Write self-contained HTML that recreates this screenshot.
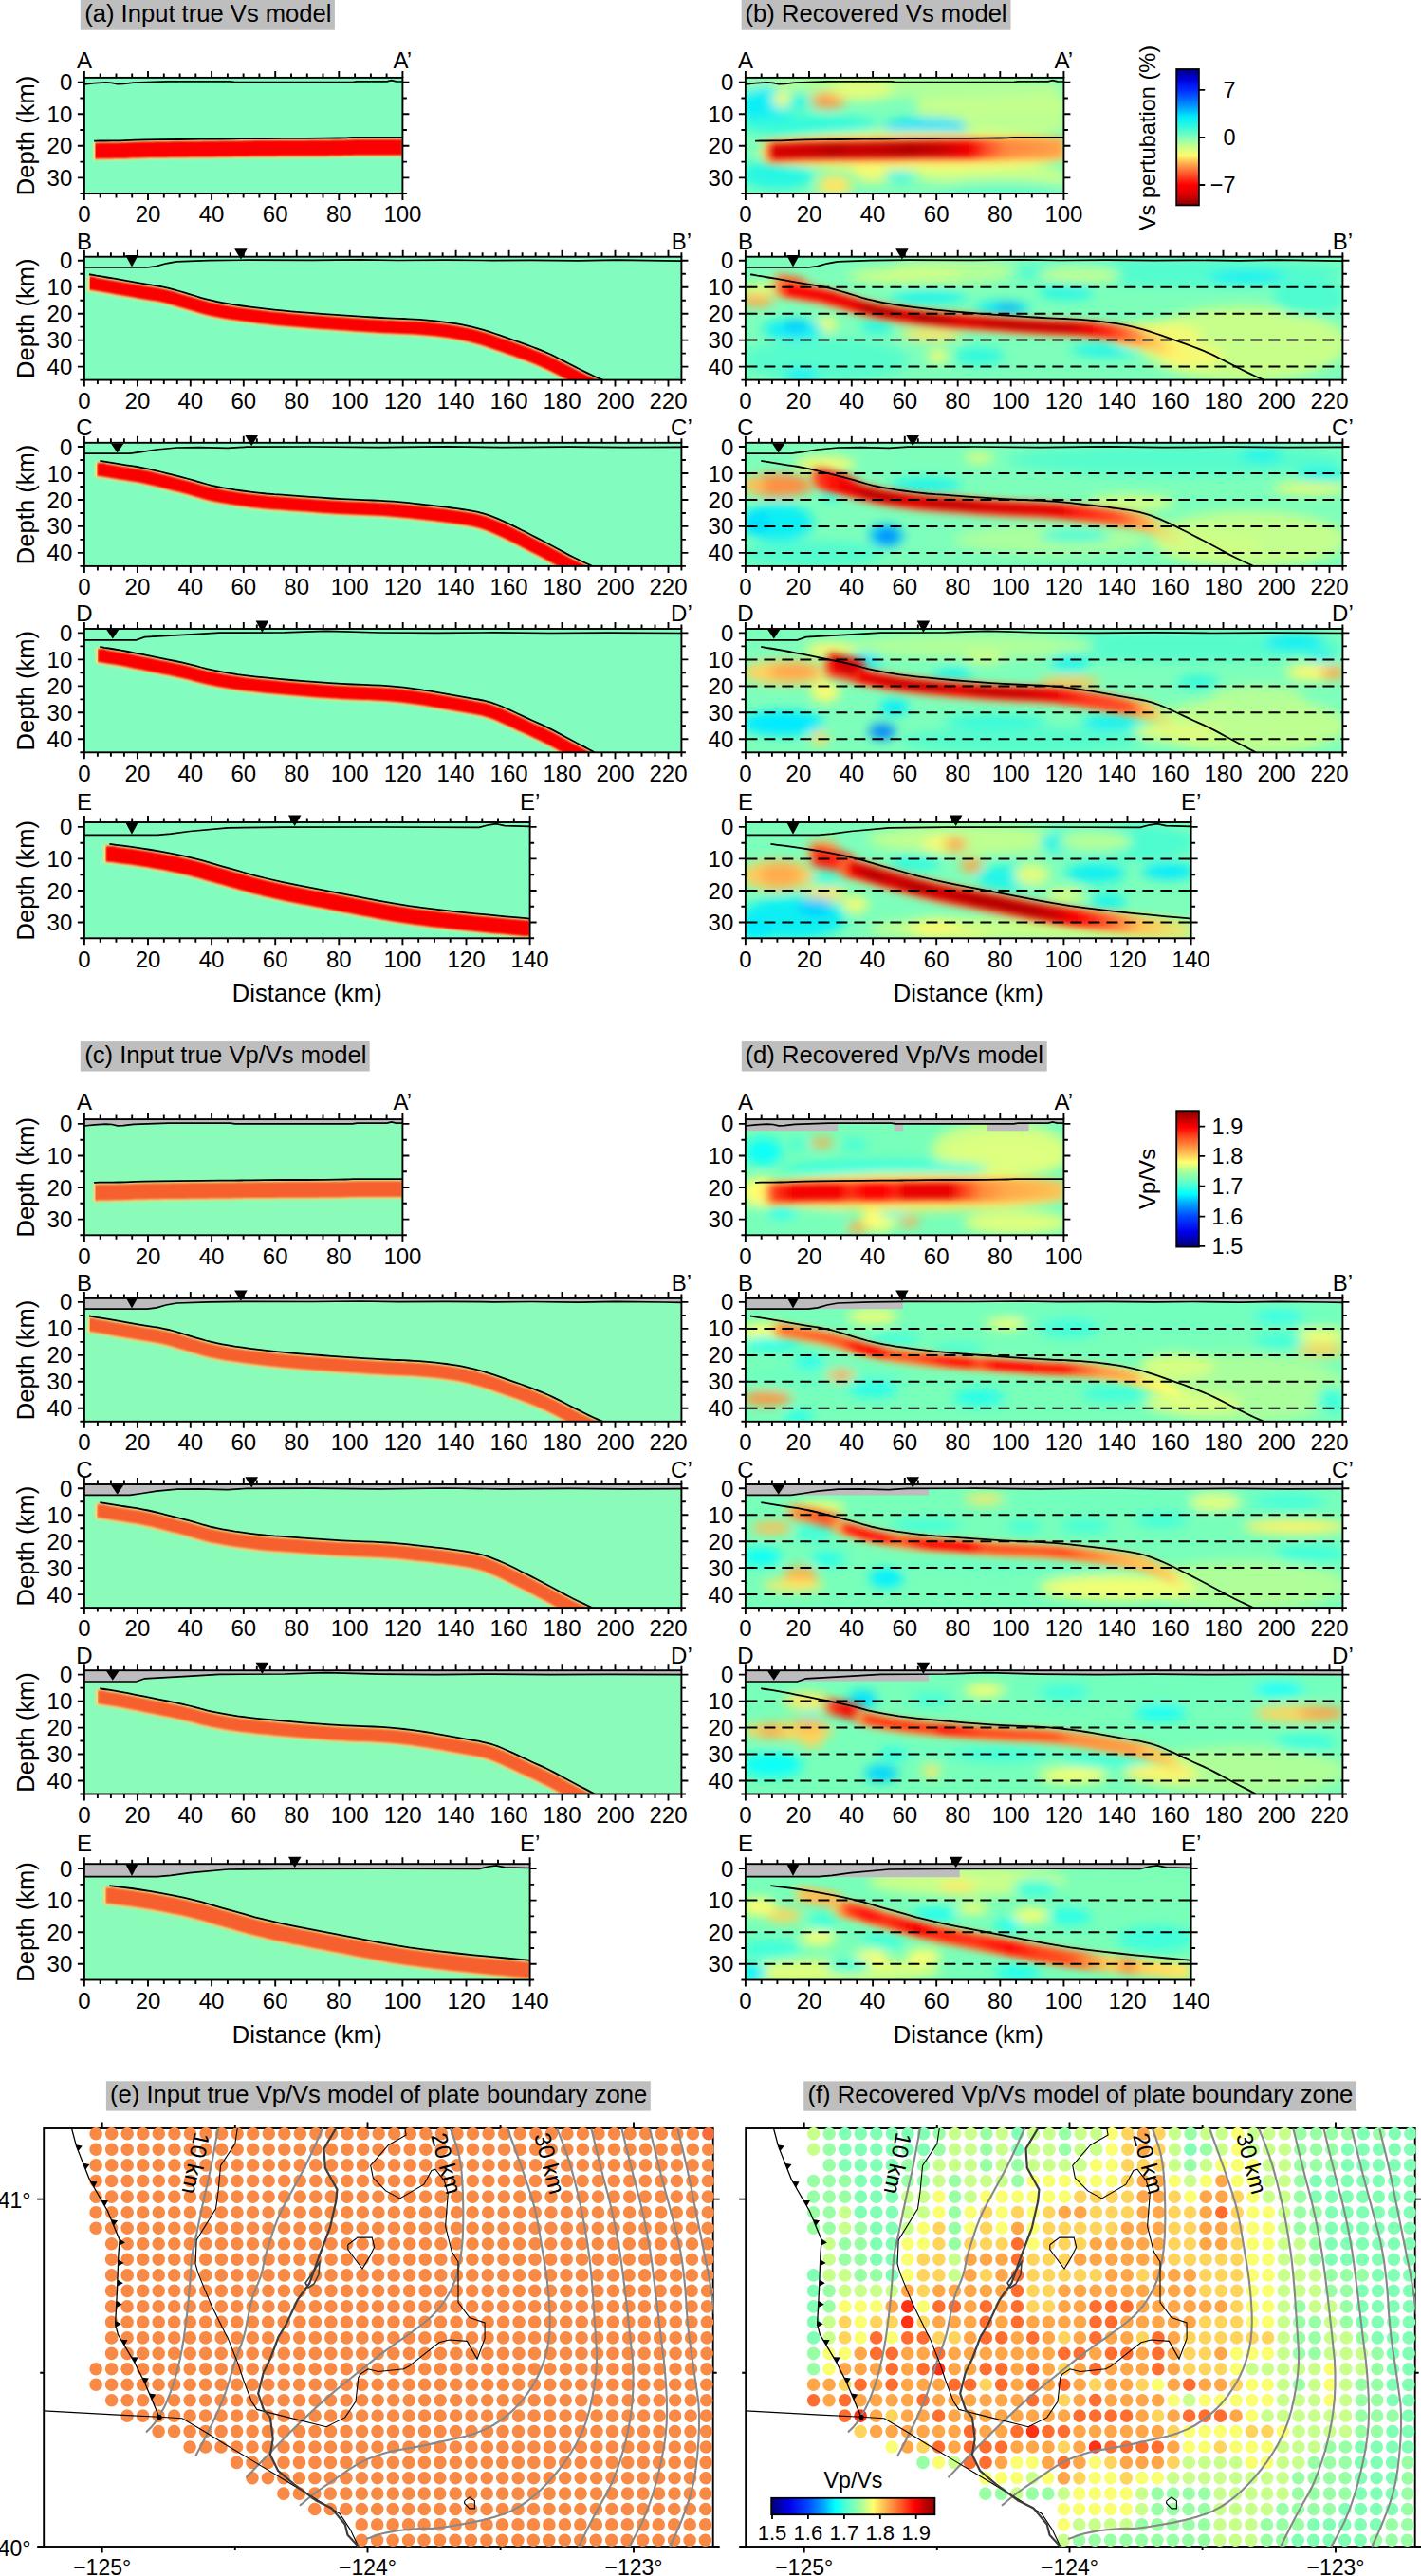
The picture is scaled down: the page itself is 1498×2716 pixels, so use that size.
<!DOCTYPE html>
<html><head><meta charset="utf-8"><style>
html,body{margin:0;padding:0;background:#fff;width:1498px;height:2716px;overflow:hidden}
svg{display:block}
text{font-family:"Liberation Sans",sans-serif;fill:#000}
</style></head><body>
<svg width="1498" height="2716" viewBox="0 0 1498 2716">
<defs><filter id="b1" x="-5%" y="-20%" width="110%" height="140%"><feGaussianBlur stdDeviation="1.1"/></filter>
<filter id="b2" x="-10%" y="-100%" width="120%" height="300%"><feGaussianBlur stdDeviation="2"/></filter>
<filter id="b4" x="-20%" y="-100%" width="140%" height="300%"><feGaussianBlur stdDeviation="4"/></filter>
<filter id="b6" x="-10%" y="-30%" width="120%" height="160%"><feGaussianBlur stdDeviation="6"/></filter>
<filter id="b9" x="-20%" y="-40%" width="140%" height="180%"><feGaussianBlur stdDeviation="9"/></filter>
<filter id="b3" x="-20%" y="-100%" width="140%" height="300%"><feGaussianBlur stdDeviation="3"/></filter>
<filter id="b12" x="-20%" y="-60%" width="140%" height="220%"><feGaussianBlur stdDeviation="12"/></filter>
<clipPath id="c1"><rect x="88.9" y="81.9" width="335.5" height="122.2"/></clipPath>
<clipPath id="c2"><rect x="97" y="81.9" width="334.3" height="122.2"/></clipPath>
<clipPath id="c3"><rect x="100.4" y="81.9" width="334.3" height="122.2"/></clipPath>
<clipPath id="c4"><rect x="785.9" y="81.9" width="335.5" height="122.2"/></clipPath>
<linearGradient id="g1" gradientUnits="userSpaceOnUse" x1="799.3" y1="0" x2="1161.7" y2="0"><stop offset="0.000" stop-color="#f7fb72" stop-opacity="0"/><stop offset="0.037" stop-color="#ff893f" stop-opacity="1"/><stop offset="0.611" stop-color="#ff6c34" stop-opacity="1"/><stop offset="0.704" stop-color="#ff9a46" stop-opacity="1"/><stop offset="0.889" stop-color="#ffb250" stop-opacity="1"/><stop offset="1.000" stop-color="#ffb250" stop-opacity="0"/></linearGradient>
<linearGradient id="g2" gradientUnits="userSpaceOnUse" x1="806" y1="0" x2="1161.7" y2="0"><stop offset="0.000" stop-color="#ff6c34" stop-opacity="0"/><stop offset="0.028" stop-color="#d70000" stop-opacity="1"/><stop offset="0.132" stop-color="#cc0000" stop-opacity="1"/><stop offset="0.208" stop-color="#b70000" stop-opacity="1"/><stop offset="0.264" stop-color="#c70000" stop-opacity="1"/><stop offset="0.340" stop-color="#c20000" stop-opacity="1"/><stop offset="0.434" stop-color="#b20000" stop-opacity="1"/><stop offset="0.528" stop-color="#cc0000" stop-opacity="1"/><stop offset="0.604" stop-color="#f20000" stop-opacity="1"/><stop offset="0.660" stop-color="#ff5028" stop-opacity="1"/><stop offset="0.717" stop-color="#ff893f" stop-opacity="1"/><stop offset="1.000" stop-color="#ff9a46" stop-opacity="0"/></linearGradient>
<clipPath id="c5"><rect x="88.9" y="270.7" width="629.5" height="129.9"/></clipPath>
<clipPath id="c6"><rect x="91.2" y="270.7" width="633.4" height="129.9"/></clipPath>
<clipPath id="c7"><rect x="94.6" y="270.7" width="633.4" height="129.9"/></clipPath>
<clipPath id="c8"><rect x="785.9" y="270.7" width="629.5" height="129.9"/></clipPath>
<linearGradient id="g3" gradientUnits="userSpaceOnUse" x1="811.1" y1="0" x2="858.6" y2="0"><stop offset="0.000" stop-color="#ffe666" stop-opacity="0"/><stop offset="0.235" stop-color="#ff6c34" stop-opacity="1"/><stop offset="0.647" stop-color="#ff5028" stop-opacity="1"/><stop offset="1.000" stop-color="#ffa54b" stop-opacity="0"/></linearGradient>
<linearGradient id="g4" gradientUnits="userSpaceOnUse" x1="808.3" y1="0" x2="1275.5" y2="0"><stop offset="0.000" stop-color="#ffe666" stop-opacity="0"/><stop offset="0.036" stop-color="#ff7838" stop-opacity="1"/><stop offset="0.790" stop-color="#ff7838" stop-opacity="1"/><stop offset="0.850" stop-color="#ffb250" stop-opacity="1"/><stop offset="0.922" stop-color="#fff36b" stop-opacity="1"/><stop offset="1.000" stop-color="#e2fd7d" stop-opacity="0"/></linearGradient>
<linearGradient id="g5" gradientUnits="userSpaceOnUse" x1="816.7" y1="0" x2="1211.2" y2="0"><stop offset="0.000" stop-color="#ff893f" stop-opacity="0"/><stop offset="0.035" stop-color="#ff0000" stop-opacity="1"/><stop offset="0.206" stop-color="#ea0000" stop-opacity="1"/><stop offset="0.255" stop-color="#b70000" stop-opacity="1"/><stop offset="0.319" stop-color="#b70000" stop-opacity="1"/><stop offset="0.348" stop-color="#d70000" stop-opacity="1"/><stop offset="0.390" stop-color="#b20000" stop-opacity="1"/><stop offset="0.447" stop-color="#bc0000" stop-opacity="1"/><stop offset="0.504" stop-color="#df0000" stop-opacity="1"/><stop offset="0.574" stop-color="#c70000" stop-opacity="1"/><stop offset="0.631" stop-color="#c20000" stop-opacity="1"/><stop offset="0.787" stop-color="#c70000" stop-opacity="1"/><stop offset="0.844" stop-color="#ef0000" stop-opacity="1"/><stop offset="0.901" stop-color="#ff351b" stop-opacity="1"/><stop offset="0.957" stop-color="#ff833d" stop-opacity="1"/><stop offset="1.000" stop-color="#ffa54b" stop-opacity="0"/></linearGradient>
<clipPath id="c9"><rect x="88.9" y="466.8" width="629.5" height="130.1"/></clipPath>
<clipPath id="c10"><rect x="98.7" y="466.8" width="622.1" height="130.1"/></clipPath>
<clipPath id="c11"><rect x="102.1" y="466.8" width="622.1" height="130.1"/></clipPath>
<clipPath id="c12"><rect x="785.9" y="466.8" width="629.5" height="130.1"/></clipPath>
<linearGradient id="g6" gradientUnits="userSpaceOnUse" x1="847.5" y1="0" x2="1261.6" y2="0"><stop offset="0.000" stop-color="#ffe666" stop-opacity="0"/><stop offset="0.041" stop-color="#ff5028" stop-opacity="1"/><stop offset="0.122" stop-color="#ff5028" stop-opacity="1"/><stop offset="0.662" stop-color="#ff6c34" stop-opacity="1"/><stop offset="0.797" stop-color="#ff893f" stop-opacity="1"/><stop offset="0.878" stop-color="#ffc658" stop-opacity="1"/><stop offset="1.000" stop-color="#e2fd7d" stop-opacity="0"/></linearGradient>
<linearGradient id="g7" gradientUnits="userSpaceOnUse" x1="853.1" y1="0" x2="909" y2="0"><stop offset="0.000" stop-color="#ffa54b" stop-opacity="0"/><stop offset="0.200" stop-color="#ff1b0d" stop-opacity="1"/><stop offset="0.700" stop-color="#ff0b05" stop-opacity="1"/><stop offset="1.000" stop-color="#ff351b" stop-opacity="0"/></linearGradient>
<linearGradient id="g8" gradientUnits="userSpaceOnUse" x1="858.6" y1="0" x2="1222.4" y2="0"><stop offset="0.000" stop-color="#ff6c34" stop-opacity="0"/><stop offset="0.046" stop-color="#ff0b05" stop-opacity="1"/><stop offset="0.108" stop-color="#e40000" stop-opacity="1"/><stop offset="0.154" stop-color="#bc0000" stop-opacity="1"/><stop offset="0.200" stop-color="#bc0000" stop-opacity="1"/><stop offset="0.292" stop-color="#df0000" stop-opacity="1"/><stop offset="0.338" stop-color="#c70000" stop-opacity="1"/><stop offset="0.431" stop-color="#c20000" stop-opacity="1"/><stop offset="0.492" stop-color="#d70000" stop-opacity="1"/><stop offset="0.708" stop-color="#e40000" stop-opacity="1"/><stop offset="0.769" stop-color="#ff1b0d" stop-opacity="1"/><stop offset="0.877" stop-color="#ff5028" stop-opacity="1"/><stop offset="0.954" stop-color="#ffa54b" stop-opacity="1"/><stop offset="1.000" stop-color="#ffc658" stop-opacity="0"/></linearGradient>
<clipPath id="c13"><rect x="88.9" y="663" width="629.5" height="130.3"/></clipPath>
<clipPath id="c14"><rect x="99.5" y="663" width="622.1" height="130.3"/></clipPath>
<clipPath id="c15"><rect x="102.9" y="663" width="622.1" height="130.3"/></clipPath>
<clipPath id="c16"><rect x="785.9" y="663" width="629.5" height="130.3"/></clipPath>
<linearGradient id="g9" gradientUnits="userSpaceOnUse" x1="864.2" y1="0" x2="1247.6" y2="0"><stop offset="0.000" stop-color="#ffe666" stop-opacity="0"/><stop offset="0.029" stop-color="#ff6c34" stop-opacity="1"/><stop offset="0.672" stop-color="#ff6c34" stop-opacity="1"/><stop offset="0.818" stop-color="#ff7838" stop-opacity="1"/><stop offset="0.905" stop-color="#ffc658" stop-opacity="1"/><stop offset="1.000" stop-color="#e2fd7d" stop-opacity="0"/></linearGradient>
<linearGradient id="g10" gradientUnits="userSpaceOnUse" x1="867" y1="0" x2="914.6" y2="0"><stop offset="0.000" stop-color="#ffa54b" stop-opacity="0"/><stop offset="0.176" stop-color="#f40000" stop-opacity="1"/><stop offset="0.529" stop-color="#cc0000" stop-opacity="1"/><stop offset="0.824" stop-color="#e40000" stop-opacity="1"/><stop offset="1.000" stop-color="#ff351b" stop-opacity="0"/></linearGradient>
<linearGradient id="g11" gradientUnits="userSpaceOnUse" x1="897.8" y1="0" x2="1222.4" y2="0"><stop offset="0.000" stop-color="#ff351b" stop-opacity="0"/><stop offset="0.034" stop-color="#ea0000" stop-opacity="1"/><stop offset="0.138" stop-color="#cc0000" stop-opacity="1"/><stop offset="0.276" stop-color="#cc0000" stop-opacity="1"/><stop offset="0.345" stop-color="#e40000" stop-opacity="1"/><stop offset="0.414" stop-color="#c70000" stop-opacity="1"/><stop offset="0.552" stop-color="#c70000" stop-opacity="1"/><stop offset="0.655" stop-color="#ea0000" stop-opacity="1"/><stop offset="0.759" stop-color="#ff351b" stop-opacity="1"/><stop offset="0.897" stop-color="#ff5028" stop-opacity="1"/><stop offset="0.948" stop-color="#ffa54b" stop-opacity="1"/><stop offset="1.000" stop-color="#ffc658" stop-opacity="0"/></linearGradient>
<clipPath id="c17"><rect x="88.9" y="867" width="469.7" height="122.3"/></clipPath>
<clipPath id="c18"><rect x="107.8" y="867" width="452.2" height="122.3"/></clipPath>
<clipPath id="c19"><rect x="111.2" y="867" width="452.2" height="122.3"/></clipPath>
<clipPath id="c20"><rect x="785.9" y="867" width="469.7" height="122.3"/></clipPath>
<linearGradient id="g12" gradientUnits="userSpaceOnUse" x1="849.6" y1="0" x2="906.7" y2="0"><stop offset="0.000" stop-color="#ffa54b" stop-opacity="0"/><stop offset="0.176" stop-color="#ff1b0d" stop-opacity="1"/><stop offset="0.765" stop-color="#ff1b0d" stop-opacity="1"/><stop offset="1.000" stop-color="#ff6c34" stop-opacity="0"/></linearGradient>
<linearGradient id="g13" gradientUnits="userSpaceOnUse" x1="879.8" y1="0" x2="1289.2" y2="0"><stop offset="0.000" stop-color="#ffc658" stop-opacity="0"/><stop offset="0.033" stop-color="#ff6c34" stop-opacity="1"/><stop offset="0.590" stop-color="#ff6c34" stop-opacity="1"/><stop offset="0.689" stop-color="#ff9a46" stop-opacity="1"/><stop offset="0.795" stop-color="#ffc658" stop-opacity="1"/><stop offset="1.000" stop-color="#ffe666" stop-opacity="0"/></linearGradient>
<linearGradient id="g14" gradientUnits="userSpaceOnUse" x1="886.5" y1="0" x2="1201.9" y2="0"><stop offset="0.000" stop-color="#ff351b" stop-opacity="0"/><stop offset="0.043" stop-color="#e40000" stop-opacity="1"/><stop offset="0.106" stop-color="#b70000" stop-opacity="1"/><stop offset="0.170" stop-color="#d20000" stop-opacity="1"/><stop offset="0.255" stop-color="#b70000" stop-opacity="1"/><stop offset="0.319" stop-color="#cc0000" stop-opacity="1"/><stop offset="0.383" stop-color="#c70000" stop-opacity="1"/><stop offset="0.447" stop-color="#b70000" stop-opacity="1"/><stop offset="0.638" stop-color="#b70000" stop-opacity="1"/><stop offset="0.723" stop-color="#d20000" stop-opacity="1"/><stop offset="0.787" stop-color="#ff0000" stop-opacity="1"/><stop offset="0.851" stop-color="#ff351b" stop-opacity="1"/><stop offset="0.936" stop-color="#ff893f" stop-opacity="1"/><stop offset="1.000" stop-color="#ffa54b" stop-opacity="0"/></linearGradient>
<clipPath id="c21"><rect x="88.9" y="1180.1" width="335.5" height="122.2"/></clipPath>
<clipPath id="c22"><rect x="97" y="1180.1" width="334.3" height="122.2"/></clipPath>
<clipPath id="c23"><rect x="100.4" y="1180.1" width="334.3" height="122.2"/></clipPath>
<clipPath id="c24"><rect x="785.9" y="1180.1" width="335.5" height="122.2"/></clipPath>
<linearGradient id="g15" gradientUnits="userSpaceOnUse" x1="799.3" y1="0" x2="1161.7" y2="0"><stop offset="0.000" stop-color="#ffff6e" stop-opacity="0"/><stop offset="0.037" stop-color="#ffaa4b" stop-opacity="1"/><stop offset="0.611" stop-color="#ff9541" stop-opacity="1"/><stop offset="0.704" stop-color="#ffb54f" stop-opacity="1"/><stop offset="1.000" stop-color="#ffbf54" stop-opacity="0"/></linearGradient>
<linearGradient id="g16" gradientUnits="userSpaceOnUse" x1="806" y1="0" x2="1161.7" y2="0"><stop offset="0.000" stop-color="#ff9541" stop-opacity="0"/><stop offset="0.028" stop-color="#ff3d19" stop-opacity="1"/><stop offset="0.085" stop-color="#f40000" stop-opacity="1"/><stop offset="0.217" stop-color="#f40000" stop-opacity="1"/><stop offset="0.255" stop-color="#ff3114" stop-opacity="1"/><stop offset="0.302" stop-color="#ff0000" stop-opacity="1"/><stop offset="0.349" stop-color="#ff0000" stop-opacity="1"/><stop offset="0.387" stop-color="#ff240f" stop-opacity="1"/><stop offset="0.415" stop-color="#e90000" stop-opacity="1"/><stop offset="0.547" stop-color="#e90000" stop-opacity="1"/><stop offset="0.585" stop-color="#ff3d19" stop-opacity="1"/><stop offset="0.642" stop-color="#ff8a3c" stop-opacity="1"/><stop offset="0.717" stop-color="#ffaa4b" stop-opacity="1"/><stop offset="1.000" stop-color="#ffb54f" stop-opacity="0"/></linearGradient>
<clipPath id="c25"><rect x="88.9" y="1368.9" width="629.5" height="129.9"/></clipPath>
<clipPath id="c26"><rect x="91.2" y="1368.9" width="633.4" height="129.9"/></clipPath>
<clipPath id="c27"><rect x="94.6" y="1368.9" width="633.4" height="129.9"/></clipPath>
<clipPath id="c28"><rect x="785.9" y="1368.9" width="629.5" height="129.9"/></clipPath>
<linearGradient id="g17" gradientUnits="userSpaceOnUse" x1="808.3" y1="0" x2="1261.6" y2="0"><stop offset="0.000" stop-color="#ffff6e" stop-opacity="0"/><stop offset="0.025" stop-color="#ffaa4b" stop-opacity="1"/><stop offset="0.741" stop-color="#ffaa4b" stop-opacity="1"/><stop offset="0.815" stop-color="#ffd45c" stop-opacity="1"/><stop offset="0.938" stop-color="#ffff6e" stop-opacity="1"/><stop offset="1.000" stop-color="#e4ff7c" stop-opacity="0"/></linearGradient>
<linearGradient id="g18" gradientUnits="userSpaceOnUse" x1="813.9" y1="0" x2="1211.2" y2="0"><stop offset="0.000" stop-color="#ffd45c" stop-opacity="0"/><stop offset="0.028" stop-color="#ff7532" stop-opacity="1"/><stop offset="0.183" stop-color="#ff5523" stop-opacity="1"/><stop offset="0.225" stop-color="#ff0c05" stop-opacity="1"/><stop offset="0.282" stop-color="#ff0000" stop-opacity="1"/><stop offset="0.317" stop-color="#ff5523" stop-opacity="1"/><stop offset="0.380" stop-color="#ff5021" stop-opacity="1"/><stop offset="0.479" stop-color="#ff0c05" stop-opacity="1"/><stop offset="0.521" stop-color="#ff0c05" stop-opacity="1"/><stop offset="0.549" stop-color="#ff491e" stop-opacity="1"/><stop offset="0.592" stop-color="#ff0000" stop-opacity="1"/><stop offset="0.775" stop-color="#ff0c05" stop-opacity="1"/><stop offset="0.817" stop-color="#ff5523" stop-opacity="1"/><stop offset="0.873" stop-color="#ff9541" stop-opacity="1"/><stop offset="0.958" stop-color="#ffb54f" stop-opacity="1"/><stop offset="1.000" stop-color="#ffd45c" stop-opacity="0"/></linearGradient>
<clipPath id="c29"><rect x="88.9" y="1565" width="629.5" height="130.1"/></clipPath>
<clipPath id="c30"><rect x="98.7" y="1565" width="622.1" height="130.1"/></clipPath>
<clipPath id="c31"><rect x="102.1" y="1565" width="622.1" height="130.1"/></clipPath>
<clipPath id="c32"><rect x="785.9" y="1565" width="629.5" height="130.1"/></clipPath>
<linearGradient id="g19" gradientUnits="userSpaceOnUse" x1="825.1" y1="0" x2="892.2" y2="0"><stop offset="0.000" stop-color="#ffea65" stop-opacity="0"/><stop offset="0.167" stop-color="#ff9541" stop-opacity="1"/><stop offset="0.542" stop-color="#ff5523" stop-opacity="1"/><stop offset="0.750" stop-color="#ff5523" stop-opacity="1"/><stop offset="0.917" stop-color="#ff8037" stop-opacity="1"/><stop offset="1.000" stop-color="#ff9541" stop-opacity="0"/></linearGradient>
<linearGradient id="g20" gradientUnits="userSpaceOnUse" x1="875.4" y1="0" x2="1256" y2="0"><stop offset="0.000" stop-color="#ffea65" stop-opacity="0"/><stop offset="0.029" stop-color="#ffaa4b" stop-opacity="1"/><stop offset="0.868" stop-color="#ffb54f" stop-opacity="1"/><stop offset="0.941" stop-color="#ffd45c" stop-opacity="1"/><stop offset="1.000" stop-color="#ffff6e" stop-opacity="0"/></linearGradient>
<linearGradient id="g21" gradientUnits="userSpaceOnUse" x1="881" y1="0" x2="1222.4" y2="0"><stop offset="0.000" stop-color="#ff9541" stop-opacity="0"/><stop offset="0.033" stop-color="#ff240f" stop-opacity="1"/><stop offset="0.082" stop-color="#ff0c05" stop-opacity="1"/><stop offset="0.148" stop-color="#ff180a" stop-opacity="1"/><stop offset="0.197" stop-color="#ff6028" stop-opacity="1"/><stop offset="0.246" stop-color="#ff240f" stop-opacity="1"/><stop offset="0.295" stop-color="#ff0000" stop-opacity="1"/><stop offset="0.410" stop-color="#ff0000" stop-opacity="1"/><stop offset="0.459" stop-color="#ff491e" stop-opacity="1"/><stop offset="0.623" stop-color="#ff5523" stop-opacity="1"/><stop offset="0.705" stop-color="#ff491e" stop-opacity="1"/><stop offset="0.770" stop-color="#ff7532" stop-opacity="1"/><stop offset="0.869" stop-color="#ffaa4b" stop-opacity="1"/><stop offset="0.951" stop-color="#ffca58" stop-opacity="1"/><stop offset="1.000" stop-color="#ffd45c" stop-opacity="0"/></linearGradient>
<clipPath id="c33"><rect x="88.9" y="1761.2" width="629.5" height="130.3"/></clipPath>
<clipPath id="c34"><rect x="99.5" y="1761.2" width="622.1" height="130.3"/></clipPath>
<clipPath id="c35"><rect x="102.9" y="1761.2" width="622.1" height="130.3"/></clipPath>
<clipPath id="c36"><rect x="785.9" y="1761.2" width="629.5" height="130.3"/></clipPath>
<linearGradient id="g22" gradientUnits="userSpaceOnUse" x1="864.2" y1="0" x2="914.6" y2="0"><stop offset="0.000" stop-color="#ffd45c" stop-opacity="0"/><stop offset="0.222" stop-color="#ff3d19" stop-opacity="1"/><stop offset="0.556" stop-color="#f40000" stop-opacity="1"/><stop offset="0.778" stop-color="#ff240f" stop-opacity="1"/><stop offset="1.000" stop-color="#ff5523" stop-opacity="0"/></linearGradient>
<linearGradient id="g23" gradientUnits="userSpaceOnUse" x1="897.8" y1="0" x2="1256" y2="0"><stop offset="0.000" stop-color="#ffd45c" stop-opacity="0"/><stop offset="0.031" stop-color="#ff9541" stop-opacity="1"/><stop offset="0.859" stop-color="#ffaa4b" stop-opacity="1"/><stop offset="0.938" stop-color="#ffd45c" stop-opacity="1"/><stop offset="1.000" stop-color="#ffff6e" stop-opacity="0"/></linearGradient>
<linearGradient id="g24" gradientUnits="userSpaceOnUse" x1="903.4" y1="0" x2="1228" y2="0"><stop offset="0.000" stop-color="#ff8037" stop-opacity="0"/><stop offset="0.034" stop-color="#ff3d19" stop-opacity="1"/><stop offset="0.241" stop-color="#ff3d19" stop-opacity="1"/><stop offset="0.284" stop-color="#ff0c05" stop-opacity="1"/><stop offset="0.328" stop-color="#ff240f" stop-opacity="1"/><stop offset="0.414" stop-color="#ff491e" stop-opacity="1"/><stop offset="0.638" stop-color="#ff5523" stop-opacity="1"/><stop offset="0.707" stop-color="#ff8a3c" stop-opacity="1"/><stop offset="0.897" stop-color="#ff9f46" stop-opacity="1"/><stop offset="0.948" stop-color="#ffca58" stop-opacity="1"/><stop offset="1.000" stop-color="#ffd45c" stop-opacity="0"/></linearGradient>
<clipPath id="c37"><rect x="88.9" y="1965.2" width="469.7" height="122.3"/></clipPath>
<clipPath id="c38"><rect x="107.8" y="1965.2" width="452.2" height="122.3"/></clipPath>
<clipPath id="c39"><rect x="111.2" y="1965.2" width="452.2" height="122.3"/></clipPath>
<clipPath id="c40"><rect x="785.9" y="1965.2" width="469.7" height="122.3"/></clipPath>
<linearGradient id="g25" gradientUnits="userSpaceOnUse" x1="832.9" y1="0" x2="893.3" y2="0"><stop offset="0.000" stop-color="#ffea65" stop-opacity="0"/><stop offset="0.222" stop-color="#ffbf54" stop-opacity="1"/><stop offset="0.778" stop-color="#ffb54f" stop-opacity="1"/><stop offset="1.000" stop-color="#ffd45c" stop-opacity="0"/></linearGradient>
<linearGradient id="g26" gradientUnits="userSpaceOnUse" x1="873.1" y1="0" x2="1289.2" y2="0"><stop offset="0.000" stop-color="#ffea65" stop-opacity="0"/><stop offset="0.032" stop-color="#ffaa4b" stop-opacity="1"/><stop offset="0.645" stop-color="#ff8037" stop-opacity="1"/><stop offset="0.718" stop-color="#ffd45c" stop-opacity="1"/><stop offset="0.758" stop-color="#ff9541" stop-opacity="1"/><stop offset="0.798" stop-color="#ffd45c" stop-opacity="1"/><stop offset="0.919" stop-color="#ffea65" stop-opacity="1"/><stop offset="1.000" stop-color="#ffff6e" stop-opacity="0"/></linearGradient>
<linearGradient id="g27" gradientUnits="userSpaceOnUse" x1="879.8" y1="0" x2="1155" y2="0"><stop offset="0.000" stop-color="#ffaa4b" stop-opacity="0"/><stop offset="0.049" stop-color="#ff491e" stop-opacity="1"/><stop offset="0.122" stop-color="#ff0c05" stop-opacity="1"/><stop offset="0.195" stop-color="#ff3114" stop-opacity="1"/><stop offset="0.317" stop-color="#f40000" stop-opacity="1"/><stop offset="0.390" stop-color="#ff240f" stop-opacity="1"/><stop offset="0.537" stop-color="#ff3114" stop-opacity="1"/><stop offset="0.671" stop-color="#ff0c05" stop-opacity="1"/><stop offset="0.780" stop-color="#ff3d19" stop-opacity="1"/><stop offset="0.902" stop-color="#ff5523" stop-opacity="1"/><stop offset="0.951" stop-color="#ff8037" stop-opacity="1"/><stop offset="1.000" stop-color="#ffaa4b" stop-opacity="0"/></linearGradient>
<linearGradient id="gvs" x1="0" y1="0" x2="0" y2="1"><stop offset="0.0000" stop-color="#00007d"/><stop offset="0.0750" stop-color="#0000dc"/><stop offset="0.1500" stop-color="#0028ff"/><stop offset="0.2500" stop-color="#0082ff"/><stop offset="0.3500" stop-color="#00ebff"/><stop offset="0.4250" stop-color="#32fadc"/><stop offset="0.5000" stop-color="#82ffb9"/><stop offset="0.5750" stop-color="#cdff87"/><stop offset="0.6350" stop-color="#fffa6e"/><stop offset="0.7000" stop-color="#ffa54b"/><stop offset="0.7750" stop-color="#ff5028"/><stop offset="0.8500" stop-color="#ff0000"/><stop offset="0.9250" stop-color="#d70000"/><stop offset="1.0000" stop-color="#870000"/></linearGradient>
<linearGradient id="gvp" x1="0" y1="1" x2="0" y2="0"><stop offset="0.0000" stop-color="#000078"/><stop offset="0.1111" stop-color="#0000eb"/><stop offset="0.2222" stop-color="#0046ff"/><stop offset="0.3222" stop-color="#00aaff"/><stop offset="0.3889" stop-color="#00ffff"/><stop offset="0.4667" stop-color="#5affcd"/><stop offset="0.5444" stop-color="#a0ffa0"/><stop offset="0.6222" stop-color="#ffff6e"/><stop offset="0.7111" stop-color="#ffaa4b"/><stop offset="0.8000" stop-color="#ff5523"/><stop offset="0.8778" stop-color="#ff0000"/><stop offset="1.0000" stop-color="#870000"/></linearGradient>
<linearGradient id="gvph" x1="0" y1="0" x2="1" y2="0"><stop offset="0.0000" stop-color="#000078"/><stop offset="0.1111" stop-color="#0000eb"/><stop offset="0.2222" stop-color="#0046ff"/><stop offset="0.3222" stop-color="#00aaff"/><stop offset="0.3889" stop-color="#00ffff"/><stop offset="0.4667" stop-color="#5affcd"/><stop offset="0.5444" stop-color="#a0ffa0"/><stop offset="0.6222" stop-color="#ffff6e"/><stop offset="0.7111" stop-color="#ffaa4b"/><stop offset="0.8000" stop-color="#ff5523"/><stop offset="0.8778" stop-color="#ff0000"/><stop offset="1.0000" stop-color="#870000"/></linearGradient>
<clipPath id="c41"><rect x="45.2" y="2242.9" width="707.5" height="443.2"/></clipPath>
<clipPath id="c42"><rect x="785.2" y="2242.9" width="707.5" height="443.2"/></clipPath></defs>
<rect x="0" y="0" width="1498" height="2716" fill="#fff"/>
<rect x="84.8" y="0" width="268.1" height="31.7" fill="#bebebe"/>
<text x="89.2" y="22.7" font-size="25.6" text-anchor="start">(a) Input true Vs model</text>
<rect x="781.6" y="0" width="283.9" height="31.7" fill="#bebebe"/>
<text x="785.6" y="22.7" font-size="25.6" text-anchor="start">(b) Recovered Vs model</text>
<rect x="84.8" y="1098.1" width="304.9" height="31.4" fill="#bebebe"/>
<text x="89.2" y="1120.8" font-size="25.6" text-anchor="start">(c) Input true Vp/Vs model</text>
<rect x="781.8" y="1098.1" width="321.9" height="31.4" fill="#bebebe"/>
<text x="785.6" y="1120.8" font-size="25.6" text-anchor="start">(d) Recovered Vp/Vs model</text>
<rect x="111.9" y="2194.3" width="573.9" height="31.3" fill="#bebebe"/>
<text x="116" y="2216.9" font-size="25.6" text-anchor="start">(e) Input true Vp/Vs model of plate boundary zone</text>
<rect x="847.2" y="2194.4" width="582.8" height="31.3" fill="#bebebe"/>
<text x="851.4" y="2216.9" font-size="25.6" text-anchor="start">(f) Recovered Vp/Vs model of plate boundary zone</text>
<g clip-path="url(#c1)">
<rect x="88.9" y="81.9" width="335.5" height="122.2" fill="#83fdbf"/>
<g clip-path="url(#c2)"><g filter="url(#b1)">
<polygon points="99.1,149.5 102.7,149.5 106.3,149.4 109.9,149.4 113.5,149.4 117.2,149.3 120.8,149.3 124.4,149.2 128,149.1 131.6,149 135.2,148.9 138.9,148.8 142.5,148.6 146.1,148.5 149.7,148.4 153.3,148.3 156.9,148.3 160.5,148.2 164.1,148.1 167.7,148.1 171.3,148 174.9,148 178.5,148 182.1,147.9 185.7,147.9 189.4,147.8 193,147.8 196.6,147.8 200.2,147.7 203.8,147.7 207.4,147.7 211,147.7 214.6,147.6 218.2,147.6 221.8,147.5 225.5,147.5 229.1,147.5 232.7,147.4 236.3,147.4 239.9,147.4 243.5,147.3 247.1,147.3 250.7,147.2 254.4,147.2 258,147 261.6,147 265.2,147 268.8,146.9 272.4,146.9 276,146.9 279.6,146.9 283.2,146.8 286.8,146.8 290.4,146.8 294,146.8 297.7,146.8 301.3,146.7 304.9,146.7 308.5,146.7 312.1,146.7 315.7,146.7 319.3,146.7 322.9,146.7 326.5,146.6 330.1,146.6 333.8,146.6 337.4,146.6 341,146.5 344.6,146.5 348.2,146.5 351.8,146.4 355.4,146.4 359,146.3 362.7,146.3 366.3,146.1 369.9,146 373.5,145.9 377.1,145.9 380.7,145.8 384.3,145.8 387.9,145.8 391.5,145.8 395.1,145.8 398.7,145.8 402.3,145.8 405.9,145.8 409.6,145.8 413.2,145.8 416.8,145.8 420.4,145.8 424,145.8 424,165.5 420.4,165.5 416.8,165.5 413.2,165.5 409.6,165.5 405.9,165.5 402.3,165.5 398.7,165.5 395.1,165.5 391.6,165.5 388,165.5 384.4,165.5 380.8,165.5 377.3,165.6 373.8,165.6 370.4,165.7 367,165.8 363.2,165.9 359.4,166 355.7,166.1 352,166.1 348.4,166.1 344.8,166.2 341.1,166.2 337.5,166.2 333.9,166.3 330.3,166.3 326.7,166.3 323,166.3 319.4,166.3 315.8,166.4 312.2,166.4 308.6,166.4 305,166.4 301.3,166.4 297.7,166.4 294.1,166.4 290.5,166.5 286.9,166.5 283.3,166.5 279.7,166.5 276.1,166.6 272.5,166.6 268.9,166.6 265.4,166.6 261.8,166.7 258.4,166.7 254.8,166.8 251,166.9 247.4,166.9 243.8,167 240.1,167 236.5,167.1 232.9,167.1 229.3,167.1 225.7,167.2 222,167.2 218.4,167.3 214.8,167.3 211.2,167.3 207.6,167.4 204,167.4 200.4,167.4 196.8,167.5 193.1,167.5 189.5,167.5 186,167.6 182.4,167.6 178.8,167.6 175.1,167.7 171.5,167.7 168,167.8 164.4,167.8 160.8,167.9 157.2,167.9 153.6,168 150.1,168.1 146.5,168.2 143.2,168.2 139.7,168.4 136,168.6 132.2,168.7 128.5,168.8 124.8,168.9 121.1,168.9 117.4,169 113.7,169 110.1,169.1 106.5,169.1 102.9,169.1 99.3,169.2" fill="#f3e27a"/>
<rect x="98.2" y="149.6" width="5.5" height="19.4" fill="#f3e27a"/>
</g></g>
<g clip-path="url(#c3)"><g filter="url(#b1)">
<polygon points="99.1,150.7 102.7,150.7 106.3,150.6 110,150.6 113.6,150.6 117.2,150.5 120.8,150.5 124.4,150.4 128,150.3 131.7,150.2 135.3,150.1 138.9,150 142.5,149.8 146.1,149.7 149.7,149.6 153.3,149.5 156.9,149.5 160.5,149.4 164.1,149.3 167.7,149.3 171.3,149.2 174.9,149.2 178.5,149.2 182.2,149.1 185.8,149.1 189.4,149 193,149 196.6,149 200.2,148.9 203.8,148.9 207.4,148.9 211,148.9 214.6,148.8 218.3,148.8 221.9,148.7 225.5,148.7 229.1,148.7 232.7,148.6 236.3,148.6 239.9,148.6 243.5,148.5 247.1,148.5 250.8,148.4 254.4,148.4 258,148.2 261.6,148.2 265.2,148.2 268.8,148.1 272.4,148.1 276,148.1 279.6,148.1 283.2,148 286.8,148 290.4,148 294.1,148 297.7,148 301.3,147.9 304.9,147.9 308.5,147.9 312.1,147.9 315.7,147.9 319.3,147.9 322.9,147.9 326.5,147.8 330.2,147.8 333.8,147.8 337.4,147.8 341,147.7 344.6,147.7 348.2,147.7 351.8,147.6 355.4,147.6 359.1,147.5 362.7,147.5 366.3,147.3 369.9,147.2 373.5,147.1 377.1,147.1 380.7,147 384.3,147 387.9,147 391.5,147 395.1,147 398.7,147 402.3,147 405.9,147 409.6,147 413.2,147 416.8,147 420.4,147 424,147 424,163.7 420.4,163.7 416.8,163.7 413.2,163.7 409.6,163.7 405.9,163.7 402.3,163.7 398.7,163.7 395.1,163.7 391.5,163.7 388,163.7 384.4,163.7 380.8,163.7 377.3,163.8 373.8,163.8 370.4,163.9 366.9,164 363.2,164.1 359.4,164.2 355.7,164.3 352,164.3 348.4,164.3 344.8,164.4 341.1,164.4 337.5,164.4 333.9,164.5 330.3,164.5 326.6,164.5 323,164.5 319.4,164.5 315.8,164.6 312.2,164.6 308.6,164.6 304.9,164.6 301.3,164.6 297.7,164.6 294.1,164.6 290.5,164.7 286.9,164.7 283.3,164.7 279.7,164.7 276.1,164.8 272.5,164.8 268.9,164.8 265.3,164.8 261.8,164.9 258.3,164.9 254.8,165 251,165.1 247.4,165.1 243.7,165.2 240.1,165.2 236.5,165.3 232.9,165.3 229.2,165.3 225.6,165.4 222,165.4 218.4,165.5 214.8,165.5 211.2,165.5 207.6,165.6 204,165.6 200.3,165.6 196.7,165.7 193.1,165.7 189.5,165.7 185.9,165.8 182.3,165.8 178.7,165.8 175.1,165.9 171.5,165.9 167.9,166 164.4,166 160.8,166.1 157.2,166.1 153.6,166.2 150.1,166.3 146.5,166.4 143.1,166.4 139.7,166.6 135.9,166.8 132.2,166.9 128.4,167 124.7,167.1 121.1,167.1 117.4,167.2 113.7,167.2 110.1,167.3 106.5,167.3 102.9,167.3 99.3,167.4" fill="#fb0400"/>
<rect x="100.6" y="150.9" width="4.5" height="16.3" fill="#fb0400"/>
</g></g>
<polyline points="88.9,88.8 99.6,87.6 111.7,86.9 118,87.3 123.8,88.6 130,88.4 140.8,87.1 177.3,85.9 242.8,85.9 247.7,86.7 371.5,86.7 376.3,85.9 407.9,85.9 412.7,84.7 417.6,85.9 424,86" fill="none" stroke="#000" stroke-width="1.7"/>
<polyline points="99.1,148.6 101,148.6 104.9,148.5 110.7,148.5 118.4,148.4 125.5,148.3 131.8,148.1 137.5,147.9 142.5,147.7 152.5,147.4 167.5,147.2 187.5,147 212.5,146.7 232,146.5 246,146.4 254.5,146.2 257.5,146.1 265.9,146 279.6,146 298.8,145.9 323.2,145.8 342.4,145.6 356.1,145.5 364.5,145.3 367.5,145.2 373,145 381,144.9 391.5,144.9 404.5,144.9 414.2,144.9 420.8,144.9 424,144.9" fill="none" stroke="#000" stroke-width="1.8"/>
</g>
<rect x="88.9" y="81.9" width="335.5" height="122.2" fill="none" stroke="#000" stroke-width="1.9"/>
<path d="M88.9 81.9V74.9M88.9 204.1V211.1M105.7 81.9V77.4M105.7 204.1V208.6M122.5 81.9V77.4M122.5 204.1V208.6M139.2 81.9V77.4M139.2 204.1V208.6M156 81.9V74.9M156 204.1V211.1M172.8 81.9V77.4M172.8 204.1V208.6M189.6 81.9V77.4M189.6 204.1V208.6M206.3 81.9V77.4M206.3 204.1V208.6M223.1 81.9V74.9M223.1 204.1V211.1M239.9 81.9V77.4M239.9 204.1V208.6M256.6 81.9V77.4M256.6 204.1V208.6M273.4 81.9V77.4M273.4 204.1V208.6M290.2 81.9V74.9M290.2 204.1V211.1M307 81.9V77.4M307 204.1V208.6M323.8 81.9V77.4M323.8 204.1V208.6M340.5 81.9V77.4M340.5 204.1V208.6M357.3 81.9V74.9M357.3 204.1V211.1M374.1 81.9V77.4M374.1 204.1V208.6M390.9 81.9V77.4M390.9 204.1V208.6M407.6 81.9V77.4M407.6 204.1V208.6M424.4 81.9V74.9M424.4 204.1V211.1M88.9 86.7H81.9M424.4 86.7H431.4M88.9 103.5H84.4M424.4 103.5H428.9M88.9 120.2H81.9M424.4 120.2H431.4M88.9 137H84.4M424.4 137H428.9M88.9 153.8H81.9M424.4 153.8H431.4M88.9 170.6H84.4M424.4 170.6H428.9M88.9 187.4H81.9M424.4 187.4H431.4M88.9 204.1H84.4M424.4 204.1H428.9" stroke="#000" stroke-width="1.9" fill="none"/>
<text x="88.9" y="234.3" font-size="24" text-anchor="middle">0</text>
<text x="156" y="234.3" font-size="24" text-anchor="middle">20</text>
<text x="223.1" y="234.3" font-size="24" text-anchor="middle">40</text>
<text x="290.2" y="234.3" font-size="24" text-anchor="middle">60</text>
<text x="357.3" y="234.3" font-size="24" text-anchor="middle">80</text>
<text x="424.4" y="234.3" font-size="24" text-anchor="middle">100</text>
<text x="76.3" y="95.2" font-size="24" text-anchor="end">0</text>
<text x="76.3" y="128.8" font-size="24" text-anchor="end">10</text>
<text x="76.3" y="162.3" font-size="24" text-anchor="end">20</text>
<text x="76.3" y="195.9" font-size="24" text-anchor="end">30</text>
<text x="88.9" y="71.5" font-size="24" text-anchor="middle">A</text>
<text x="424.4" y="71.5" font-size="24" text-anchor="middle">A&#8217;</text>
<text x="0" y="0" font-size="25.6" text-anchor="middle" transform="translate(36.3 143) rotate(-90)">Depth (km)</text>
<g clip-path="url(#c4)">
<rect x="785.9" y="81.9" width="335.5" height="122.2" fill="#7dffbb"/>
<g filter="url(#b6)">
<ellipse cx="1045.9" cy="111.9" rx="80.5" ry="27.8" fill="#c3ff8e"/>
<ellipse cx="1071.1" cy="189" rx="55.4" ry="17.8" fill="#beff91"/>
<ellipse cx="811.1" cy="106.8" rx="30.2" ry="22.8" fill="#42fbd5"/>
<ellipse cx="953.6" cy="90.1" rx="172.8" ry="12.7" fill="#afff9b"/>
<ellipse cx="806" cy="111.9" rx="25.2" ry="21.1" fill="#0deff6"/>
<ellipse cx="824.5" cy="105.2" rx="10.1" ry="7.7" fill="#f7fb72"/>
<ellipse cx="842.9" cy="106" rx="11.7" ry="8.6" fill="#28f7e3"/>
<ellipse cx="873.1" cy="106" rx="18.5" ry="8.6" fill="#ff9a46"/>
<ellipse cx="908.4" cy="95.1" rx="33.5" ry="11.1" fill="#e2fd7d"/>
<ellipse cx="853" cy="132" rx="72.1" ry="11.1" fill="#32fadc"/>
<ellipse cx="978.8" cy="134.5" rx="47" ry="10.2" fill="#00e0ff"/>
<ellipse cx="1071.1" cy="132" rx="55.4" ry="14.4" fill="#beff91"/>
<ellipse cx="819.4" cy="184" rx="38.6" ry="16.1" fill="#28f7e3"/>
<ellipse cx="920.1" cy="179" rx="21.8" ry="14.4" fill="#eafc78"/>
<ellipse cx="879.8" cy="195.7" rx="18.5" ry="11.1" fill="#ffe666"/>
<ellipse cx="948.6" cy="179" rx="16.8" ry="11.1" fill="#1bf3ec"/>
<ellipse cx="1045.9" cy="185.7" rx="80.5" ry="11.1" fill="#c8ff8a"/>
<ellipse cx="1054.3" cy="200.8" rx="72.1" ry="9.4" fill="#62fdc7"/>
<ellipse cx="963.7" cy="159.7" rx="162.7" ry="20.3" fill="#fbfa70"/>
</g>
<polygon points="799.7,148.6 803.3,148.5 806.9,148.5 810.5,148.5 814.1,148.4 817.8,148.4 821.4,148.3 825,148.2 828.6,148.1 832.2,148 835.8,147.9 839.4,147.7 843,147.6 846.6,147.5 850.2,147.4 853.9,147.4 857.5,147.3 861.1,147.2 864.7,147.2 868.3,147.1 871.9,147.1 875.5,147.1 879.1,147 882.7,147 886.4,146.9 890,146.9 893.6,146.9 897.2,146.8 900.8,146.8 904.4,146.8 908,146.8 911.6,146.7 915.2,146.7 918.8,146.6 922.5,146.6 926.1,146.6 929.7,146.5 933.3,146.5 936.9,146.5 940.5,146.4 944.1,146.4 947.7,146.3 951.3,146.3 954.9,146.1 958.5,146.1 962.2,146.1 965.8,146 969.4,146 973,146 976.6,146 980.2,145.9 983.8,145.9 987.4,145.9 991,145.9 994.7,145.9 998.3,145.8 1001.9,145.8 1005.5,145.8 1009.1,145.8 1012.7,145.8 1016.3,145.8 1019.9,145.8 1023.5,145.7 1027.1,145.7 1030.8,145.7 1034.4,145.7 1038,145.6 1041.6,145.6 1045.2,145.6 1048.8,145.5 1052.4,145.5 1056,145.4 1059.6,145.4 1063.2,145.2 1066.8,145.1 1070.5,145 1074.1,145 1077.7,144.9 1081.3,144.9 1084.9,144.9 1088.5,144.9 1092.1,144.9 1095.7,144.9 1099.3,144.9 1103,144.9 1106.6,144.9 1110.2,144.9 1113.8,144.9 1117.4,144.9 1121,144.9 1121,168.4 1117.4,168.4 1113.8,168.4 1110.2,168.4 1106.6,168.4 1103,168.4 1099.3,168.4 1095.7,168.4 1092.1,168.4 1088.6,168.4 1085,168.4 1081.4,168.4 1077.9,168.4 1074.3,168.5 1070.8,168.5 1067.5,168.6 1064.1,168.7 1060.3,168.8 1056.4,168.9 1052.7,169 1049,169 1045.4,169.1 1041.8,169.1 1038.1,169.1 1034.5,169.1 1030.9,169.2 1027.3,169.2 1023.7,169.2 1020,169.2 1016.4,169.3 1012.8,169.3 1009.2,169.3 1005.6,169.3 1002,169.3 998.4,169.3 994.8,169.3 991.2,169.4 987.6,169.4 983.9,169.4 980.3,169.4 976.7,169.4 973.2,169.5 969.6,169.5 966,169.5 962.4,169.5 958.8,169.6 955.4,169.6 951.9,169.7 948.1,169.8 944.4,169.8 940.8,169.9 937.2,169.9 933.6,170 929.9,170 926.3,170.1 922.7,170.1 919.1,170.1 915.5,170.2 911.8,170.2 908.2,170.2 904.6,170.3 901,170.3 897.4,170.3 893.8,170.4 890.2,170.4 886.6,170.4 883,170.5 879.4,170.5 875.8,170.5 872.2,170.6 868.6,170.6 865,170.7 861.4,170.7 857.8,170.8 854.2,170.8 850.7,170.9 847.2,171 843.6,171.1 840.3,171.1 836.9,171.3 833.1,171.5 829.3,171.6 825.5,171.7 821.8,171.8 818.1,171.9 814.4,171.9 810.8,171.9 807.2,172 803.5,172 799.9,172" fill="url(#g1)" filter="url(#b4)"/>
<polygon points="807,152.2 810.6,152.2 814.2,152.1 817.8,152.1 821.4,152 825.1,151.9 828.7,151.8 832.3,151.7 836,151.5 839.6,151.4 843.1,151.3 846.7,151.2 850.3,151.1 853.9,151.1 857.5,151 861.1,150.9 864.7,150.9 868.3,150.8 872,150.8 875.6,150.8 879.2,150.7 882.8,150.7 886.4,150.6 890,150.6 893.6,150.6 897.2,150.5 900.8,150.5 904.4,150.5 908,150.4 911.7,150.4 915.3,150.4 918.9,150.3 922.5,150.3 926.1,150.3 929.7,150.2 933.3,150.2 936.9,150.1 940.5,150.1 944.2,150.1 947.8,150 951.4,149.9 955,149.8 958.6,149.8 962.2,149.7 965.8,149.7 969.4,149.7 973,149.7 976.6,149.6 980.2,149.6 983.8,149.6 987.4,149.6 991.1,149.6 994.7,149.5 998.3,149.5 1001.9,149.5 1005.5,149.5 1009.1,149.5 1012.7,149.5 1016.3,149.5 1019.9,149.4 1023.6,149.4 1027.2,149.4 1030.8,149.4 1034.4,149.4 1038,149.3 1041.6,149.3 1045.2,149.3 1048.8,149.2 1052.5,149.2 1056.1,149.1 1059.7,149.1 1063.4,148.9 1067,148.8 1070.5,148.7 1074.1,148.7 1077.7,148.6 1081.3,148.6 1084.9,148.6 1088.5,148.6 1092.1,148.6 1095.7,148.6 1099.3,148.6 1103,148.6 1106.6,148.6 1110.2,148.6 1113.8,148.6 1117.4,148.6 1121,148.6 1121,164 1117.4,164 1113.8,164 1110.2,164 1106.6,164 1103,164 1099.3,164 1095.7,164 1092.1,164 1088.5,164 1085,164 1081.4,164.1 1077.8,164.1 1074.3,164.1 1070.8,164.1 1067.4,164.2 1063.9,164.3 1060.2,164.5 1056.4,164.6 1052.7,164.6 1049,164.7 1045.4,164.7 1041.8,164.7 1038.1,164.8 1034.5,164.8 1030.9,164.8 1027.3,164.8 1023.6,164.9 1020,164.9 1016.4,164.9 1012.8,164.9 1009.2,164.9 1005.6,164.9 1001.9,164.9 998.3,165 994.7,165 991.1,165 987.5,165 983.9,165 980.3,165.1 976.7,165.1 973.1,165.1 969.5,165.1 965.9,165.2 962.4,165.2 958.8,165.2 955.3,165.3 951.8,165.4 948,165.4 944.4,165.5 940.7,165.5 937.1,165.6 933.5,165.6 929.9,165.7 926.3,165.7 922.6,165.7 919,165.8 915.4,165.8 911.8,165.8 908.2,165.9 904.6,165.9 901,165.9 897.4,166 893.7,166 890.1,166 886.5,166.1 882.9,166.1 879.4,166.1 875.7,166.2 872.1,166.2 868.5,166.3 864.9,166.3 861.4,166.4 857.8,166.4 854.2,166.5 850.6,166.5 847.1,166.6 843.5,166.7 840.1,166.8 836.7,167 832.9,167.1 829.2,167.3 825.4,167.3 821.8,167.4 818.1,167.5 814.4,167.5 810.7,167.6 807.1,167.6" fill="url(#g2)" filter="url(#b3)"/>
<polyline points="785.9,88.8 796.6,87.6 808.7,86.9 815,87.3 820.8,88.6 827,88.4 837.8,87.1 874.3,85.9 939.8,85.9 944.7,86.7 1068.5,86.7 1073.3,85.9 1104.9,85.9 1109.7,84.7 1114.6,85.9 1121,86" fill="none" stroke="#000" stroke-width="1.7"/>
<polyline points="796.1,148.6 798,148.6 801.9,148.5 807.7,148.5 815.4,148.4 822.5,148.3 828.8,148.1 834.5,147.9 839.5,147.7 849.5,147.4 864.5,147.2 884.5,147 909.5,146.7 929,146.5 943,146.4 951.5,146.2 954.5,146.1 962.9,146 976.6,146 995.8,145.9 1020.2,145.8 1039.4,145.6 1053.1,145.5 1061.5,145.3 1064.5,145.2 1070,145 1078,144.9 1088.5,144.9 1101.5,144.9 1111.2,144.9 1117.8,144.9 1121,144.9" fill="none" stroke="#000" stroke-width="1.8"/>
</g>
<rect x="785.9" y="81.9" width="335.5" height="122.2" fill="none" stroke="#000" stroke-width="1.9"/>
<path d="M785.9 81.9V74.9M785.9 204.1V211.1M802.7 81.9V77.4M802.7 204.1V208.6M819.4 81.9V77.4M819.4 204.1V208.6M836.2 81.9V77.4M836.2 204.1V208.6M853 81.9V74.9M853 204.1V211.1M869.8 81.9V77.4M869.8 204.1V208.6M886.5 81.9V77.4M886.5 204.1V208.6M903.3 81.9V77.4M903.3 204.1V208.6M920.1 81.9V74.9M920.1 204.1V211.1M936.9 81.9V77.4M936.9 204.1V208.6M953.6 81.9V77.4M953.6 204.1V208.6M970.4 81.9V77.4M970.4 204.1V208.6M987.2 81.9V74.9M987.2 204.1V211.1M1004 81.9V77.4M1004 204.1V208.6M1020.8 81.9V77.4M1020.8 204.1V208.6M1037.5 81.9V77.4M1037.5 204.1V208.6M1054.3 81.9V74.9M1054.3 204.1V211.1M1071.1 81.9V77.4M1071.1 204.1V208.6M1087.8 81.9V77.4M1087.8 204.1V208.6M1104.6 81.9V77.4M1104.6 204.1V208.6M1121.4 81.9V74.9M1121.4 204.1V211.1M785.9 86.7H778.9M1121.4 86.7H1128.4M785.9 103.5H781.4M1121.4 103.5H1125.9M785.9 120.2H778.9M1121.4 120.2H1128.4M785.9 137H781.4M1121.4 137H1125.9M785.9 153.8H778.9M1121.4 153.8H1128.4M785.9 170.6H781.4M1121.4 170.6H1125.9M785.9 187.4H778.9M1121.4 187.4H1128.4M785.9 204.1H781.4M1121.4 204.1H1125.9" stroke="#000" stroke-width="1.9" fill="none"/>
<text x="785.9" y="234.3" font-size="24" text-anchor="middle">0</text>
<text x="853" y="234.3" font-size="24" text-anchor="middle">20</text>
<text x="920.1" y="234.3" font-size="24" text-anchor="middle">40</text>
<text x="987.2" y="234.3" font-size="24" text-anchor="middle">60</text>
<text x="1054.3" y="234.3" font-size="24" text-anchor="middle">80</text>
<text x="1121.4" y="234.3" font-size="24" text-anchor="middle">100</text>
<text x="773.3" y="95.2" font-size="24" text-anchor="end">0</text>
<text x="773.3" y="128.8" font-size="24" text-anchor="end">10</text>
<text x="773.3" y="162.3" font-size="24" text-anchor="end">20</text>
<text x="773.3" y="195.9" font-size="24" text-anchor="end">30</text>
<text x="785.9" y="71.5" font-size="24" text-anchor="middle">A</text>
<text x="1121.4" y="71.5" font-size="24" text-anchor="middle">A&#8217;</text>
<g clip-path="url(#c5)">
<rect x="88.9" y="270.7" width="629.5" height="129.9" fill="#83fdbf"/>
<g clip-path="url(#c6)"><g filter="url(#b1)">
<polygon points="93.9,290.2 99.9,291.2 105.9,292.2 111.9,293.2 118,294.3 124,295.3 130,296.4 136,297.4 142.1,298.5 148.1,299.5 154.1,300.5 160.2,301.5 166.2,302.4 172.2,303.5 178.2,304.9 184.2,306.5 190.2,308.2 196.2,310 202.2,311.9 208.3,313.7 214.3,315.4 220.4,317 226.4,318.4 232.5,319.7 238.5,320.8 244.6,321.8 250.6,322.7 256.6,323.6 262.7,324.4 268.7,325.1 274.7,325.9 280.8,326.6 286.8,327.2 292.8,327.9 298.9,328.5 304.9,329 310.9,329.5 317,330 323,330.5 329,331 335,331.4 341.1,331.9 347.1,332.3 353.1,332.7 359.2,333.1 365.2,333.6 371.2,334 377.2,334.4 383.3,334.8 389.3,335.2 395.3,335.5 401.4,335.9 407.4,336.2 413.4,336.4 419.5,336.7 425.5,337 431.5,337.2 437.5,337.5 443.5,337.9 449.6,338.4 455.6,339 461.6,339.6 467.6,340.3 473.6,341.1 479.6,342 485.6,343 491.6,344.2 497.7,345.6 503.7,347.1 509.7,348.8 515.7,350.7 521.7,352.6 527.7,354.8 533.7,356.9 539.8,359 545.8,361.1 551.8,363.2 557.8,365.4 563.8,367.8 569.9,370.1 575.9,372.7 581.9,375.4 587.9,378.3 593.9,381.4 599.9,384.5 606,387.6 612,390.7 618,393.7 624.1,396.6 630.1,399.3 636.1,402.3 628.6,417.5 622.9,414.6 616.9,411.9 610.6,408.8 604.4,405.8 598.3,402.7 592.2,399.6 586.1,396.4 580.3,393.4 574.7,390.7 569.1,388.1 563.5,385.8 557.7,383.5 551.9,381.3 546.1,379.1 540.2,377 534.2,374.9 528.1,372.8 522.1,370.7 516.2,368.6 510.5,366.7 504.9,365 499.3,363.4 493.7,362 488.1,360.8 482.6,359.7 477,358.7 471.3,357.9 465.5,357.1 459.7,356.4 453.9,355.8 448.1,355.2 442.3,354.8 436.5,354.4 430.7,354.1 424.7,353.8 418.7,353.6 412.7,353.3 406.6,353.1 400.4,352.7 394.3,352.4 388.3,352 382.2,351.6 376.1,351.2 370.1,350.8 364,350.4 358,350 351.9,349.6 345.9,349.1 339.9,348.7 333.8,348.3 327.8,347.8 321.7,347.4 315.6,346.9 309.5,346.4 303.4,345.8 297.3,345.3 291.1,344.7 285,344 278.9,343.4 272.7,342.6 266.6,341.9 260.5,341.1 254.3,340.3 248.1,339.4 241.9,338.5 235.6,337.4 229.2,336.3 222.8,334.9 216.3,333.4 209.8,331.7 203.5,329.9 197.4,328 191.4,326.2 185.4,324.4 179.6,322.7 174.1,321.3 168.7,320 163.3,319 157.6,318.1 151.4,317.2 145.3,316.1 139.2,315.1 133.2,314.1 127.1,313 121.1,312 115.1,310.9 109.1,309.9 103.1,308.9 97.1,307.9 91.1,306.8" fill="#f3e27a"/>
<rect x="92.4" y="290.3" width="6.2" height="16.6" fill="#f3e27a"/>
</g></g>
<g clip-path="url(#c7)"><g filter="url(#b1)">
<polygon points="93.7,291.4 99.7,292.4 105.7,293.4 111.7,294.4 117.8,295.5 123.8,296.5 129.8,297.5 135.8,298.6 141.9,299.6 147.9,300.7 153.9,301.7 160,302.6 166,303.6 171.9,304.7 177.9,306 183.8,307.6 189.8,309.4 195.9,311.2 201.9,313 207.9,314.8 214,316.6 220.1,318.2 226.2,319.6 232.2,320.9 238.3,322 244.4,323 250.4,323.9 256.5,324.8 262.5,325.6 268.5,326.3 274.6,327.1 280.6,327.8 286.7,328.4 292.7,329.1 298.7,329.6 304.8,330.2 310.8,330.7 316.9,331.2 322.9,331.7 328.9,332.2 335,332.6 341,333.1 347,333.5 353,333.9 359.1,334.3 365.1,334.8 371.1,335.2 377.2,335.6 383.2,336 389.2,336.4 395.3,336.7 401.3,337.1 407.3,337.4 413.4,337.6 419.4,337.9 425.4,338.2 431.5,338.4 437.5,338.7 443.5,339.1 449.5,339.6 455.5,340.2 461.5,340.8 467.5,341.5 473.5,342.3 479.5,343.2 485.4,344.2 491.4,345.4 497.4,346.8 503.3,348.3 509.3,350 515.3,351.8 521.3,353.8 527.3,355.9 533.3,358 539.4,360.1 545.4,362.2 551.4,364.4 557.4,366.6 563.4,368.9 569.4,371.2 575.4,373.8 581.4,376.5 587.3,379.4 593.3,382.5 599.4,385.6 605.4,388.7 611.4,391.7 617.5,394.8 623.6,397.7 629.6,400.4 635.6,403.4 629.4,415.8 623.6,413 617.7,410.3 611.3,407.2 605.2,404.2 599.1,401.1 593,398 587,394.8 581.1,391.8 575.4,389.1 569.8,386.5 564.1,384.1 558.4,381.8 552.5,379.6 546.7,377.4 540.8,375.3 534.8,373.2 528.7,371.1 522.7,369 516.8,366.9 511.1,365 505.4,363.3 499.8,361.7 494.1,360.3 488.5,359 482.9,357.9 477.3,356.9 471.5,356.1 465.7,355.3 459.9,354.6 454.1,354 448.3,353.5 442.5,353 436.7,352.6 430.8,352.3 424.8,352 418.8,351.8 412.8,351.5 406.7,351.3 400.5,350.9 394.4,350.6 388.4,350.2 382.3,349.8 376.2,349.4 370.2,349 364.2,348.6 358.1,348.2 352.1,347.8 346,347.3 340,346.9 333.9,346.5 327.9,346 321.8,345.6 315.7,345.1 309.6,344.6 303.5,344 297.4,343.5 291.3,342.9 285.2,342.2 279.1,341.6 272.9,340.9 266.8,340.1 260.7,339.3 254.6,338.5 248.4,337.6 242.2,336.7 235.9,335.7 229.6,334.5 223.2,333.2 216.7,331.7 210.3,330 204,328.1 197.9,326.3 191.9,324.5 185.9,322.7 180.1,321 174.6,319.5 169.1,318.3 163.7,317.2 157.8,316.4 151.7,315.4 145.6,314.4 139.5,313.3 133.5,312.3 127.4,311.2 121.4,310.2 115.4,309.1 109.4,308.1 103.4,307.1 97.4,306.1 91.4,305.1" fill="#fb0400"/>
<rect x="94.8" y="291.6" width="5.2" height="13.5" fill="#fb0400"/>
</g></g>
<polyline points="88.9,282 155,282 165,280.6 175,277.8 186,275.8 220,274.6 260,274.2 330,274.3 380,273.8 420,274.5 470,274.1 520,274.6 560,274.3 610,274.9 650,274.2 700,274.8 718.4,275.2" fill="none" stroke="#000" stroke-width="1.7"/>
<polyline points="94,289.3 95.3,289.5 97.8,289.9 101.6,290.6 106.7,291.4 112.9,292.5 120.2,293.7 128.7,295.2 138.2,296.9 146.8,298.4 154.4,299.6 161,300.7 166.6,301.5 172.2,302.6 177.8,303.8 183.5,305.3 189.1,307 194.8,308.7 200.4,310.4 206,312 211.6,313.8 217.2,315.3 222.9,316.7 228.5,318 234.2,319.1 240.5,320.2 247.6,321.4 255.3,322.5 263.8,323.6 272.2,324.7 280.6,325.7 289.1,326.6 297.5,327.4 306.7,328.3 316.5,329.1 327.1,329.9 338.4,330.8 349.6,331.6 360.9,332.4 372.1,333.1 383.2,333.9 393,334.5 401.4,335 408.4,335.3 414.1,335.6 419.7,335.8 425.3,336 430.9,336.3 436.6,336.6 442.2,336.9 447.8,337.4 453.5,337.9 459.1,338.4 464.8,339.1 470.4,339.8 476,340.6 481.7,341.4 487.3,342.4 492.9,343.6 498.5,344.9 504.2,346.3 509.8,347.9 515.4,349.6 521,351.5 526.7,353.4 532.3,355.4 537.9,357.4 543.6,359.4 549.2,361.3 554.9,363.4 560.5,365.5 566.1,367.7 571.8,369.9 577.4,372.3 583,374.9 588.6,377.7 594.3,380.6 599.9,383.5 605.5,386.4 611.1,389.2 616.8,392.1 621.5,394.4 625.5,396.3 628.6,397.7 630.8,398.7 632.7,399.5 634.1,400.1 635.1,400.6 635.6,401 636.1,401.2 636.4,401.4 636.5,401.5" fill="none" stroke="#000" stroke-width="1.8"/>
</g>
<rect x="88.9" y="270.7" width="629.5" height="129.9" fill="none" stroke="#000" stroke-width="1.9"/>
<path d="M88.9 270.7V263.7M88.9 400.6V407.6M102.9 270.7V266.2M102.9 400.6V405.1M116.9 270.7V266.2M116.9 400.6V405.1M130.9 270.7V266.2M130.9 400.6V405.1M144.9 270.7V263.7M144.9 400.6V407.6M158.9 270.7V266.2M158.9 400.6V405.1M172.8 270.7V266.2M172.8 400.6V405.1M186.8 270.7V266.2M186.8 400.6V405.1M200.8 270.7V263.7M200.8 400.6V407.6M214.8 270.7V266.2M214.8 400.6V405.1M228.8 270.7V266.2M228.8 400.6V405.1M242.8 270.7V266.2M242.8 400.6V405.1M256.8 270.7V263.7M256.8 400.6V407.6M270.8 270.7V266.2M270.8 400.6V405.1M284.8 270.7V266.2M284.8 400.6V405.1M298.8 270.7V266.2M298.8 400.6V405.1M312.7 270.7V263.7M312.7 400.6V407.6M326.7 270.7V266.2M326.7 400.6V405.1M340.7 270.7V266.2M340.7 400.6V405.1M354.7 270.7V266.2M354.7 400.6V405.1M368.7 270.7V263.7M368.7 400.6V407.6M382.7 270.7V266.2M382.7 400.6V405.1M396.7 270.7V266.2M396.7 400.6V405.1M410.7 270.7V266.2M410.7 400.6V405.1M424.7 270.7V263.7M424.7 400.6V407.6M438.6 270.7V266.2M438.6 400.6V405.1M452.6 270.7V266.2M452.6 400.6V405.1M466.6 270.7V266.2M466.6 400.6V405.1M480.6 270.7V263.7M480.6 400.6V407.6M494.6 270.7V266.2M494.6 400.6V405.1M508.6 270.7V266.2M508.6 400.6V405.1M522.6 270.7V266.2M522.6 400.6V405.1M536.6 270.7V263.7M536.6 400.6V407.6M550.6 270.7V266.2M550.6 400.6V405.1M564.6 270.7V266.2M564.6 400.6V405.1M578.6 270.7V266.2M578.6 400.6V405.1M592.5 270.7V263.7M592.5 400.6V407.6M606.5 270.7V266.2M606.5 400.6V405.1M620.5 270.7V266.2M620.5 400.6V405.1M634.5 270.7V266.2M634.5 400.6V405.1M648.5 270.7V263.7M648.5 400.6V407.6M662.5 270.7V266.2M662.5 400.6V405.1M676.5 270.7V266.2M676.5 400.6V405.1M690.5 270.7V266.2M690.5 400.6V405.1M704.5 270.7V263.7M704.5 400.6V407.6M718.4 270.7V266.2M718.4 400.6V405.1M88.9 274.7H81.9M718.4 274.7H725.4M88.9 288.7H84.4M718.4 288.7H722.9M88.9 302.7H81.9M718.4 302.7H725.4M88.9 316.7H84.4M718.4 316.7H722.9M88.9 330.7H81.9M718.4 330.7H725.4M88.9 344.6H84.4M718.4 344.6H722.9M88.9 358.6H81.9M718.4 358.6H725.4M88.9 372.6H84.4M718.4 372.6H722.9M88.9 386.6H81.9M718.4 386.6H725.4M88.9 400.6H84.4M718.4 400.6H722.9" stroke="#000" stroke-width="1.9" fill="none"/>
<polygon points="132.2,269 145.8,269 139,281.4" fill="#000"/>
<polygon points="247.1,262.3 260.7,262.3 253.9,273.5" fill="#000"/>
<text x="88.9" y="430.8" font-size="24" text-anchor="middle">0</text>
<text x="144.9" y="430.8" font-size="24" text-anchor="middle">20</text>
<text x="200.8" y="430.8" font-size="24" text-anchor="middle">40</text>
<text x="256.8" y="430.8" font-size="24" text-anchor="middle">60</text>
<text x="312.7" y="430.8" font-size="24" text-anchor="middle">80</text>
<text x="368.7" y="430.8" font-size="24" text-anchor="middle">100</text>
<text x="424.7" y="430.8" font-size="24" text-anchor="middle">120</text>
<text x="480.6" y="430.8" font-size="24" text-anchor="middle">140</text>
<text x="536.6" y="430.8" font-size="24" text-anchor="middle">160</text>
<text x="592.5" y="430.8" font-size="24" text-anchor="middle">180</text>
<text x="648.5" y="430.8" font-size="24" text-anchor="middle">200</text>
<text x="704.5" y="430.8" font-size="24" text-anchor="middle">220</text>
<text x="76.3" y="283.2" font-size="24" text-anchor="end">0</text>
<text x="76.3" y="311.2" font-size="24" text-anchor="end">10</text>
<text x="76.3" y="339.2" font-size="24" text-anchor="end">20</text>
<text x="76.3" y="367.1" font-size="24" text-anchor="end">30</text>
<text x="76.3" y="395.1" font-size="24" text-anchor="end">40</text>
<text x="88.9" y="262.7" font-size="24" text-anchor="middle">B</text>
<text x="718.4" y="262.7" font-size="24" text-anchor="middle">B&#8217;</text>
<text x="0" y="0" font-size="25.6" text-anchor="middle" transform="translate(36.3 335.7) rotate(-90)">Depth (km)</text>
<g clip-path="url(#c8)">
<rect x="785.9" y="270.7" width="629.5" height="129.9" fill="#7dffbb"/>
<g filter="url(#b6)">
<ellipse cx="1310.5" cy="362.8" rx="109.1" ry="40" fill="#c8ff8a"/>
<ellipse cx="1240.6" cy="287.3" rx="179.1" ry="14.8" fill="#52fcce"/>
<ellipse cx="1002.7" cy="285.9" rx="67.2" ry="13.4" fill="#b4ff98"/>
<ellipse cx="869.8" cy="379.6" rx="88.1" ry="23.2" fill="#57fccc"/>
<ellipse cx="798.5" cy="315.7" rx="16.8" ry="8" fill="#ffa54b"/>
<ellipse cx="802.7" cy="304.9" rx="21" ry="7.3" fill="#dafe81"/>
<ellipse cx="953.8" cy="290.9" rx="60.2" ry="7.8" fill="#d1ff85"/>
<ellipse cx="981.8" cy="352.3" rx="32.2" ry="7.1" fill="#ffe666"/>
<ellipse cx="871.2" cy="341.9" rx="11.2" ry="7.8" fill="#fbfa70"/>
<ellipse cx="988.8" cy="375.4" rx="11.2" ry="7.8" fill="#eafc78"/>
<ellipse cx="836.3" cy="347.4" rx="32.2" ry="10.6" fill="#0deff6"/>
<ellipse cx="839.1" cy="344" rx="12.6" ry="7.1" fill="#00ccff"/>
<ellipse cx="924.4" cy="344" rx="16.8" ry="7.1" fill="#21f5e8"/>
<ellipse cx="979" cy="313.3" rx="40.6" ry="6.2" fill="#17f2ef"/>
<ellipse cx="1057.3" cy="324.8" rx="29.4" ry="6.2" fill="#00ebff"/>
<ellipse cx="1062.9" cy="325.1" rx="15.4" ry="5" fill="#00acff"/>
<ellipse cx="844.7" cy="395.7" rx="18.2" ry="7.1" fill="#0deff6"/>
<ellipse cx="1032.1" cy="375.4" rx="26.6" ry="9.2" fill="#2ff9de"/>
<ellipse cx="1166.4" cy="369.1" rx="37.8" ry="7.1" fill="#21f5e8"/>
<ellipse cx="1314.7" cy="292.2" rx="40.6" ry="7.1" fill="#11f0f3"/>
<ellipse cx="1124.5" cy="306.9" rx="29.4" ry="9.2" fill="#28f7e3"/>
<ellipse cx="1310.5" cy="358.6" rx="109.1" ry="30.2" fill="#c8ff8a"/>
<ellipse cx="1256" cy="375.4" rx="32.2" ry="10.6" fill="#fbfa70"/>
<ellipse cx="1138.4" cy="290.1" rx="43.4" ry="9.2" fill="#beff91"/>
<ellipse cx="1380.5" cy="313.9" rx="39.2" ry="19" fill="#4dfcd0"/>
<ellipse cx="1219.6" cy="354.4" rx="46.2" ry="14.8" fill="#f2fb74"/>
</g>
<polygon points="816.1,287.9 822.1,288.9 828.1,290 834.2,291 840.2,292.1 846.2,293.1 852.2,294.1 858.2,295 856,308.9 849.9,307.9 843.9,306.9 837.8,305.8 831.8,304.8 825.7,303.7 819.7,302.7 813.7,301.7" fill="url(#g3)" filter="url(#b4)"/>
<polygon points="808.9,293.4 814.9,294.5 820.9,295.5 827,296.6 833,297.6 839,298.7 845.1,299.7 851.1,300.7 857.1,301.7 863.1,302.6 869.1,303.7 875.1,305.1 881.1,306.7 887.1,308.5 893.2,310.3 899.2,312.1 905.2,313.9 911.3,315.6 917.3,317.2 923.4,318.7 929.4,319.9 935.5,321 941.5,322 947.6,322.9 953.6,323.8 959.6,324.6 965.7,325.4 971.7,326.1 977.7,326.8 983.8,327.5 989.8,328.1 995.8,328.7 1001.9,329.2 1007.9,329.8 1013.9,330.3 1020,330.7 1026,331.2 1032,331.6 1038.1,332.1 1044.1,332.5 1050.1,332.9 1056.1,333.4 1062.2,333.8 1068.2,334.2 1074.2,334.6 1080.3,335 1086.3,335.4 1092.3,335.7 1098.4,336.1 1104.4,336.4 1110.4,336.7 1116.5,336.9 1122.5,337.2 1128.5,337.5 1134.5,337.8 1140.5,338.2 1146.5,338.6 1152.6,339.2 1158.6,339.8 1164.6,340.6 1170.6,341.4 1176.6,342.2 1182.6,343.3 1188.6,344.4 1194.6,345.8 1200.6,347.3 1206.6,349 1212.6,350.9 1218.6,352.8 1224.6,355 1230.7,357.1 1236.7,359.2 1242.7,361.3 1248.7,363.4 1254.7,365.7 1260.8,368 1266.8,370.3 1272.8,372.9 1265.8,388.8 1260.2,386.4 1254.5,384.1 1248.6,381.9 1242.8,379.7 1236.9,377.7 1231,375.6 1224.9,373.4 1218.9,371.3 1213,369.3 1207.3,367.4 1201.7,365.7 1196.1,364.1 1190.5,362.7 1185,361.4 1179.5,360.3 1173.9,359.4 1168.2,358.5 1162.4,357.8 1156.6,357.1 1150.8,356.5 1145,355.9 1139.3,355.5 1133.5,355.1 1127.7,354.8 1121.7,354.5 1115.7,354.2 1109.7,354 1103.6,353.7 1097.4,353.4 1091.3,353.1 1085.2,352.7 1079.1,352.3 1073.1,351.9 1067,351.5 1061,351.1 1054.9,350.7 1048.9,350.2 1042.9,349.8 1036.8,349.4 1030.8,348.9 1024.7,348.5 1018.6,348 1012.5,347.6 1006.4,347 1000.3,346.5 994.2,345.9 988.1,345.3 981.9,344.7 975.8,344 969.6,343.3 963.5,342.6 957.4,341.8 951.2,341 945,340.1 938.8,339.1 932.5,338.1 926.1,336.9 919.6,335.6 913.1,334.1 906.6,332.4 900.3,330.5 894.2,328.7 888.2,326.9 882.2,325.1 876.4,323.4 871,321.9 865.6,320.7 860.2,319.7 854.4,318.8 848.3,317.8 842.2,316.8 836.1,315.8 830,314.7 824,313.7 818,312.6 812,311.6 806,310.5" fill="url(#g4)" filter="url(#b4)"/>
<polygon points="820.4,298.6 826.4,299.6 832.5,300.7 838.5,301.7 844.6,302.7 850.6,303.7 856.7,304.7 862.6,305.6 868.5,306.7 874.4,308.1 880.3,309.6 886.2,311.4 892.3,313.2 898.3,315 904.3,316.8 910.4,318.6 916.6,320.2 922.7,321.7 928.8,322.9 934.9,324 941,325 947.1,326 953.2,326.8 959.2,327.6 965.3,328.4 971.3,329.1 977.4,329.9 983.4,330.5 989.5,331.1 995.5,331.7 1001.6,332.3 1007.6,332.8 1013.7,333.3 1019.7,333.8 1025.8,334.3 1031.8,334.7 1037.8,335.1 1043.9,335.6 1049.9,336 1055.9,336.4 1062,336.8 1068,337.3 1074,337.7 1080.1,338.1 1086.1,338.5 1092.1,338.8 1098.2,339.2 1104.3,339.5 1110.3,339.7 1116.3,340 1122.3,340.3 1128.4,340.5 1134.3,340.8 1140.3,341.2 1146.3,341.7 1152.2,342.3 1158.2,342.9 1164.2,343.6 1170.2,344.4 1176.1,345.3 1182,346.3 1188,347.5 1193.9,348.8 1199.8,350.3 1205.7,352 1202.7,362.2 1197.1,360.6 1191.4,359.1 1185.8,357.9 1180.1,356.7 1174.5,355.8 1168.7,354.9 1162.9,354.2 1157,353.5 1151.2,352.8 1145.4,352.3 1139.5,351.8 1133.7,351.5 1127.8,351.2 1121.9,350.9 1115.9,350.6 1109.9,350.4 1103.8,350.1 1097.6,349.8 1091.5,349.4 1085.4,349.1 1079.4,348.7 1073.3,348.3 1067.3,347.9 1061.2,347.5 1055.2,347 1049.2,346.6 1043.1,346.2 1037.1,345.8 1031,345.3 1025,344.9 1018.9,344.4 1012.8,343.9 1006.7,343.4 1000.6,342.9 994.5,342.3 988.4,341.7 982.3,341.1 976.2,340.4 970.1,339.7 964,339 957.9,338.2 951.7,337.4 945.6,336.5 939.4,335.5 933.1,334.5 926.8,333.4 920.4,332 914,330.5 907.6,328.9 901.3,327 895.2,325.2 889.2,323.4 883.2,321.6 877.4,319.9 871.8,318.4 866.3,317.1 860.8,316.1 855,315.2 848.9,314.2 842.8,313.2 836.7,312.2 830.7,311.1 824.6,310.1 818.6,309" fill="url(#g5)" filter="url(#b3)"/>
<line x1="786.4" y1="302.7" x2="1415.4" y2="302.7" stroke="#000" stroke-width="2" stroke-dasharray="12,7"/>
<line x1="786.4" y1="330.7" x2="1415.4" y2="330.7" stroke="#000" stroke-width="2" stroke-dasharray="12,7"/>
<line x1="786.4" y1="358.6" x2="1415.4" y2="358.6" stroke="#000" stroke-width="2" stroke-dasharray="12,7"/>
<line x1="786.4" y1="386.6" x2="1415.4" y2="386.6" stroke="#000" stroke-width="2" stroke-dasharray="12,7"/>
<polyline points="785.9,282 852,282 862,280.6 872,277.8 883,275.8 917,274.6 957,274.2 1027,274.3 1077,273.8 1117,274.5 1167,274.1 1217,274.6 1257,274.3 1307,274.9 1347,274.2 1397,274.8 1415.4,275.2" fill="none" stroke="#000" stroke-width="1.7"/>
<polyline points="791,289.3 792.3,289.5 794.8,289.9 798.6,290.6 803.7,291.4 809.9,292.5 817.2,293.7 825.7,295.2 835.2,296.9 843.8,298.4 851.4,299.6 858,300.7 863.6,301.5 869.2,302.6 874.8,303.8 880.5,305.3 886.1,307 891.8,308.7 897.4,310.4 903,312 908.6,313.8 914.2,315.3 919.9,316.7 925.5,318 931.2,319.1 937.6,320.2 944.6,321.4 952.3,322.5 960.8,323.6 969.2,324.7 977.6,325.7 986.1,326.6 994.5,327.4 1003.7,328.3 1013.5,329.1 1024.1,329.9 1035.4,330.8 1046.6,331.6 1057.9,332.4 1069.1,333.1 1080.2,333.9 1090,334.5 1098.4,335 1105.4,335.3 1111.1,335.6 1116.7,335.8 1122.3,336 1127.9,336.3 1133.6,336.6 1139.2,336.9 1144.8,337.4 1150.5,337.9 1156.1,338.4 1161.8,339.1 1167.4,339.8 1173,340.6 1178.7,341.4 1184.3,342.4 1189.9,343.6 1195.5,344.9 1201.2,346.3 1206.8,347.9 1212.4,349.6 1218,351.5 1223.7,353.4 1229.3,355.4 1234.9,357.4 1240.6,359.4 1246.2,361.3 1251.9,363.4 1257.5,365.5 1263.1,367.7 1268.8,369.9 1274.4,372.3 1280,374.9 1285.6,377.7 1291.3,380.6 1296.9,383.5 1302.5,386.4 1308.1,389.2 1313.8,392.1 1318.5,394.4 1322.5,396.3 1325.6,397.7 1327.8,398.7 1329.7,399.5 1331.1,400.1 1332.1,400.6 1332.6,401 1333.1,401.2 1333.4,401.4 1333.5,401.5" fill="none" stroke="#000" stroke-width="1.8"/>
</g>
<rect x="785.9" y="270.7" width="629.5" height="129.9" fill="none" stroke="#000" stroke-width="1.9"/>
<path d="M785.9 270.7V263.7M785.9 400.6V407.6M799.9 270.7V266.2M799.9 400.6V405.1M813.9 270.7V266.2M813.9 400.6V405.1M827.9 270.7V266.2M827.9 400.6V405.1M841.9 270.7V263.7M841.9 400.6V407.6M855.9 270.7V266.2M855.9 400.6V405.1M869.8 270.7V266.2M869.8 400.6V405.1M883.8 270.7V266.2M883.8 400.6V405.1M897.8 270.7V263.7M897.8 400.6V407.6M911.8 270.7V266.2M911.8 400.6V405.1M925.8 270.7V266.2M925.8 400.6V405.1M939.8 270.7V266.2M939.8 400.6V405.1M953.8 270.7V263.7M953.8 400.6V407.6M967.8 270.7V266.2M967.8 400.6V405.1M981.8 270.7V266.2M981.8 400.6V405.1M995.8 270.7V266.2M995.8 400.6V405.1M1009.7 270.7V263.7M1009.7 400.6V407.6M1023.7 270.7V266.2M1023.7 400.6V405.1M1037.7 270.7V266.2M1037.7 400.6V405.1M1051.7 270.7V266.2M1051.7 400.6V405.1M1065.7 270.7V263.7M1065.7 400.6V407.6M1079.7 270.7V266.2M1079.7 400.6V405.1M1093.7 270.7V266.2M1093.7 400.6V405.1M1107.7 270.7V266.2M1107.7 400.6V405.1M1121.7 270.7V263.7M1121.7 400.6V407.6M1135.7 270.7V266.2M1135.7 400.6V405.1M1149.6 270.7V266.2M1149.6 400.6V405.1M1163.6 270.7V266.2M1163.6 400.6V405.1M1177.6 270.7V263.7M1177.6 400.6V407.6M1191.6 270.7V266.2M1191.6 400.6V405.1M1205.6 270.7V266.2M1205.6 400.6V405.1M1219.6 270.7V266.2M1219.6 400.6V405.1M1233.6 270.7V263.7M1233.6 400.6V407.6M1247.6 270.7V266.2M1247.6 400.6V405.1M1261.6 270.7V266.2M1261.6 400.6V405.1M1275.5 270.7V266.2M1275.5 400.6V405.1M1289.5 270.7V263.7M1289.5 400.6V407.6M1303.5 270.7V266.2M1303.5 400.6V405.1M1317.5 270.7V266.2M1317.5 400.6V405.1M1331.5 270.7V266.2M1331.5 400.6V405.1M1345.5 270.7V263.7M1345.5 400.6V407.6M1359.5 270.7V266.2M1359.5 400.6V405.1M1373.5 270.7V266.2M1373.5 400.6V405.1M1387.5 270.7V266.2M1387.5 400.6V405.1M1401.5 270.7V263.7M1401.5 400.6V407.6M1415.4 270.7V266.2M1415.4 400.6V405.1M785.9 274.7H778.9M1415.4 274.7H1422.4M785.9 288.7H781.4M1415.4 288.7H1419.9M785.9 302.7H778.9M1415.4 302.7H1422.4M785.9 316.7H781.4M1415.4 316.7H1419.9M785.9 330.7H778.9M1415.4 330.7H1422.4M785.9 344.6H781.4M1415.4 344.6H1419.9M785.9 358.6H778.9M1415.4 358.6H1422.4M785.9 372.6H781.4M1415.4 372.6H1419.9M785.9 386.6H778.9M1415.4 386.6H1422.4M785.9 400.6H781.4M1415.4 400.6H1419.9" stroke="#000" stroke-width="1.9" fill="none"/>
<polygon points="829.2,269 842.8,269 836,281.4" fill="#000"/>
<polygon points="944.1,262.3 957.7,262.3 950.9,273.5" fill="#000"/>
<text x="785.9" y="430.8" font-size="24" text-anchor="middle">0</text>
<text x="841.9" y="430.8" font-size="24" text-anchor="middle">20</text>
<text x="897.8" y="430.8" font-size="24" text-anchor="middle">40</text>
<text x="953.8" y="430.8" font-size="24" text-anchor="middle">60</text>
<text x="1009.7" y="430.8" font-size="24" text-anchor="middle">80</text>
<text x="1065.7" y="430.8" font-size="24" text-anchor="middle">100</text>
<text x="1121.7" y="430.8" font-size="24" text-anchor="middle">120</text>
<text x="1177.6" y="430.8" font-size="24" text-anchor="middle">140</text>
<text x="1233.6" y="430.8" font-size="24" text-anchor="middle">160</text>
<text x="1289.5" y="430.8" font-size="24" text-anchor="middle">180</text>
<text x="1345.5" y="430.8" font-size="24" text-anchor="middle">200</text>
<text x="1401.5" y="430.8" font-size="24" text-anchor="middle">220</text>
<text x="773.3" y="283.2" font-size="24" text-anchor="end">0</text>
<text x="773.3" y="311.2" font-size="24" text-anchor="end">10</text>
<text x="773.3" y="339.2" font-size="24" text-anchor="end">20</text>
<text x="773.3" y="367.1" font-size="24" text-anchor="end">30</text>
<text x="773.3" y="395.1" font-size="24" text-anchor="end">40</text>
<text x="785.9" y="262.7" font-size="24" text-anchor="middle">B</text>
<text x="1415.4" y="262.7" font-size="24" text-anchor="middle">B&#8217;</text>
<g clip-path="url(#c9)">
<rect x="88.9" y="466.8" width="629.5" height="130.1" fill="#83fdbf"/>
<g clip-path="url(#c10)"><g filter="url(#b1)">
<polygon points="105.2,486.8 110.9,487.7 116.7,488.7 122.5,489.6 128.3,490.5 134,491.4 139.8,492.3 145.6,493.2 151.3,494.3 157.1,495.5 162.8,496.8 168.6,498.2 174.4,499.6 180.1,501.1 185.9,502.5 191.7,504 197.5,505.5 203.2,507.1 209,508.8 214.8,510.6 220.6,512.1 226.4,513.4 232.2,514.6 238,515.7 243.7,516.7 249.5,517.6 255.3,518.4 261.1,519.2 266.9,519.9 272.7,520.6 278.4,521.1 284.2,521.7 290,522.1 295.8,522.5 301.6,522.9 307.3,523.3 313.1,523.7 318.9,524.2 324.7,524.6 330.4,525 336.2,525.5 342,525.9 347.8,526.2 353.5,526.6 359.3,526.9 365.1,527.2 370.9,527.5 376.7,527.7 382.4,527.9 388.2,528.2 394,528.4 399.7,528.7 405.5,529 411.3,529.4 417,529.8 422.8,530.3 428.6,530.9 434.3,531.5 440.1,532.2 445.9,532.8 451.7,533.4 457.4,534.1 463.2,534.7 469,535.5 474.7,536.2 480.5,537 486.3,537.8 492,538.7 497.8,539.6 503.5,540.7 509.3,542.2 515,544.1 520.7,546.3 526.5,548.6 532.2,551.2 538,553.9 543.8,556.7 549.5,559.6 555.3,562.5 561.1,565.5 566.8,568.5 572.6,571.5 578.4,574.5 584.2,577.6 589.9,580.8 595.7,583.9 601.5,587 607.3,589.9 613.1,592.6 618.8,595.3 624.6,598.6 616.2,613.2 611,610.3 605.9,607.9 599.9,605 593.8,602 587.8,598.8 581.8,595.6 576.1,592.5 570.4,589.4 564.8,586.4 559.1,583.5 553.4,580.5 547.6,577.6 541.9,574.7 536.3,571.9 530.7,569.2 525.2,566.6 519.8,564.2 514.5,562 509.4,560 504.5,558.4 499.8,557.2 494.8,556.3 489.4,555.4 483.8,554.5 478.2,553.7 472.5,552.9 466.9,552.2 461.2,551.5 455.5,550.9 449.8,550.2 444,549.6 438.3,548.9 432.5,548.3 426.9,547.7 421.3,547.2 415.7,546.7 410.1,546.3 404.5,545.9 398.9,545.6 393.2,545.3 387.5,545.1 381.8,544.8 376,544.6 370.1,544.4 364.3,544.1 358.4,543.8 352.6,543.5 346.7,543.1 340.8,542.7 335,542.3 329.2,541.9 323.4,541.4 317.7,541 311.9,540.6 306.1,540.2 300.4,539.8 294.6,539.4 288.8,539 282.8,538.5 276.8,537.9 270.8,537.3 264.9,536.7 258.9,535.9 253,535.1 247,534.3 241.1,533.3 235,532.3 228.9,531.2 222.8,529.9 216.5,528.5 210.2,526.8 204.2,525 198.6,523.4 193.1,521.8 187.5,520.4 181.8,518.9 176,517.5 170.3,516 164.5,514.6 158.9,513.2 153.5,512 148.1,510.8 142.7,509.8 137.2,509 131.5,508.1 125.6,507.2 119.8,506.3 114,505.3 108.2,504.4 102.5,503.5" fill="#f3e27a"/>
<rect x="99.9" y="486.9" width="10" height="16.6" fill="#f3e27a"/>
</g></g>
<g clip-path="url(#c11)"><g filter="url(#b1)">
<polygon points="105,488 110.7,488.9 116.5,489.8 122.3,490.8 128.1,491.7 133.9,492.6 139.6,493.5 145.4,494.4 151.1,495.4 156.8,496.6 162.6,497.9 168.3,499.4 174.1,500.8 179.9,502.2 185.6,503.7 191.4,505.2 197.1,506.7 202.9,508.3 208.6,510 214.4,511.7 220.3,513.3 226.1,514.6 231.9,515.8 237.7,516.9 243.6,517.8 249.3,518.7 255.1,519.6 260.9,520.4 266.7,521.1 272.5,521.7 278.3,522.3 284.1,522.9 289.9,523.3 295.7,523.7 301.5,524.1 307.3,524.5 313,524.9 318.8,525.4 324.6,525.8 330.3,526.2 336.1,526.7 341.9,527.1 347.7,527.4 353.5,527.8 359.3,528.1 365,528.4 370.8,528.7 376.6,528.9 382.4,529.1 388.2,529.4 393.9,529.6 399.7,529.9 405.4,530.2 411.2,530.6 416.9,531 422.7,531.5 428.5,532.1 434.2,532.7 440,533.4 445.8,534 451.5,534.6 457.3,535.3 463.1,535.9 468.8,536.6 474.6,537.4 480.3,538.2 486.1,539 491.9,539.9 497.6,540.8 503.3,541.9 508.9,543.4 514.6,545.2 520.3,547.4 526,549.7 531.7,552.3 537.5,555 543.2,557.8 549,560.7 554.8,563.6 560.5,566.6 566.3,569.5 572.1,572.5 577.8,575.6 583.6,578.7 589.3,581.8 595.1,585 600.9,588 606.8,590.9 612.6,593.7 618.3,596.4 624,599.6 617.1,611.7 611.8,608.7 606.6,606.2 600.7,603.4 594.6,600.4 588.6,597.2 582.7,594 577,590.9 571.3,587.8 565.6,584.8 559.9,581.9 554.2,578.9 548.5,576 542.7,573.1 537.1,570.3 531.5,567.5 526,564.9 520.5,562.5 515.2,560.3 510,558.3 505,556.7 500.2,555.5 495.1,554.5 489.7,553.6 484.1,552.7 478.4,551.9 472.8,551.2 467.1,550.4 461.4,549.7 455.7,549.1 450,548.4 444.2,547.8 438.5,547.2 432.7,546.5 427,545.9 421.4,545.4 415.8,544.9 410.2,544.5 404.6,544.1 399,543.8 393.3,543.5 387.6,543.3 381.8,543 376.1,542.8 370.2,542.6 364.4,542.3 358.5,542 352.7,541.7 346.8,541.3 341,540.9 335.1,540.5 329.3,540.1 323.5,539.6 317.8,539.2 312,538.8 306.3,538.4 300.5,538 294.8,537.6 288.9,537.2 282.9,536.7 277,536.2 271,535.6 265.1,534.9 259.2,534.1 253.2,533.3 247.3,532.5 241.3,531.6 235.4,530.6 229.3,529.4 223.1,528.2 216.9,526.7 210.7,525.1 204.7,523.3 199.1,521.6 193.5,520.1 187.9,518.6 182.2,517.2 176.5,515.7 170.7,514.3 165,512.8 159.3,511.4 153.9,510.2 148.4,509.1 143,508.1 137.5,507.2 131.7,506.3 125.9,505.4 120.1,504.5 114.3,503.6 108.5,502.6 102.7,501.7" fill="#fb0400"/>
<rect x="102.3" y="488.2" width="9" height="13.5" fill="#fb0400"/>
</g></g>
<polyline points="88.9,478.2 137,478.2 150,476.3 165,474 186.4,472 210,471.6 240,472.4 260,471.2 330,471 400,471.6 470,470.8 530,471.6 600,471.2 660,471.7 718.4,471.4" fill="none" stroke="#000" stroke-width="1.7"/>
<polyline points="105.3,485.9 106.8,486.1 109.9,486.6 114.6,487.4 120.7,488.4 126.8,489.4 132.7,490.3 138.5,491.2 144.1,492 150,493.1 156.2,494.3 162.7,495.8 169.5,497.5 175.9,499.1 182.1,500.7 188,502.1 193.6,503.6 198.9,505 204,506.4 208.8,507.8 213.2,509.2 218,510.5 223.1,511.8 228.5,513 234.2,514.1 240.5,515.2 247.6,516.4 255.3,517.5 263.8,518.6 272.2,519.6 280.6,520.5 289.1,521.2 297.5,521.7 306.7,522.4 316.5,523.1 327.1,523.9 338.4,524.7 349.6,525.5 360.9,526.1 372.1,526.6 383.2,527.1 393,527.5 401.4,527.9 408.4,528.3 414.1,528.7 419.7,529.2 425.3,529.7 430.9,530.2 436.6,530.9 442.2,531.5 447.8,532.1 453.5,532.7 459.1,533.4 464.8,534 470.4,534.7 476,535.5 481.7,536.2 486.9,537 491.7,537.7 496,538.4 500,539.1 503.8,539.9 507.4,540.8 511,541.8 514.3,542.9 517.8,544.2 521.5,545.6 525.3,547.1 529.2,548.9 533.6,550.8 538.4,553.1 543.6,555.6 549.2,558.5 554.9,561.3 560.5,564.2 566.1,567.1 571.8,570 577.4,573 583,576 588.6,579 594.3,582.1 599.8,585.1 605.1,587.8 610.3,590.3 615.4,592.7 619.3,594.5 622.1,595.9 623.8,596.8 624.2,597.2 624.6,597.5 624.9,597.7 625,597.8" fill="none" stroke="#000" stroke-width="1.8"/>
</g>
<rect x="88.9" y="466.8" width="629.5" height="130.1" fill="none" stroke="#000" stroke-width="1.9"/>
<path d="M88.9 466.8V459.8M88.9 596.9V603.9M102.9 466.8V462.3M102.9 596.9V601.4M116.9 466.8V462.3M116.9 596.9V601.4M130.9 466.8V462.3M130.9 596.9V601.4M144.9 466.8V459.8M144.9 596.9V603.9M158.9 466.8V462.3M158.9 596.9V601.4M172.8 466.8V462.3M172.8 596.9V601.4M186.8 466.8V462.3M186.8 596.9V601.4M200.8 466.8V459.8M200.8 596.9V603.9M214.8 466.8V462.3M214.8 596.9V601.4M228.8 466.8V462.3M228.8 596.9V601.4M242.8 466.8V462.3M242.8 596.9V601.4M256.8 466.8V459.8M256.8 596.9V603.9M270.8 466.8V462.3M270.8 596.9V601.4M284.8 466.8V462.3M284.8 596.9V601.4M298.8 466.8V462.3M298.8 596.9V601.4M312.7 466.8V459.8M312.7 596.9V603.9M326.7 466.8V462.3M326.7 596.9V601.4M340.7 466.8V462.3M340.7 596.9V601.4M354.7 466.8V462.3M354.7 596.9V601.4M368.7 466.8V459.8M368.7 596.9V603.9M382.7 466.8V462.3M382.7 596.9V601.4M396.7 466.8V462.3M396.7 596.9V601.4M410.7 466.8V462.3M410.7 596.9V601.4M424.7 466.8V459.8M424.7 596.9V603.9M438.6 466.8V462.3M438.6 596.9V601.4M452.6 466.8V462.3M452.6 596.9V601.4M466.6 466.8V462.3M466.6 596.9V601.4M480.6 466.8V459.8M480.6 596.9V603.9M494.6 466.8V462.3M494.6 596.9V601.4M508.6 466.8V462.3M508.6 596.9V601.4M522.6 466.8V462.3M522.6 596.9V601.4M536.6 466.8V459.8M536.6 596.9V603.9M550.6 466.8V462.3M550.6 596.9V601.4M564.6 466.8V462.3M564.6 596.9V601.4M578.6 466.8V462.3M578.6 596.9V601.4M592.5 466.8V459.8M592.5 596.9V603.9M606.5 466.8V462.3M606.5 596.9V601.4M620.5 466.8V462.3M620.5 596.9V601.4M634.5 466.8V462.3M634.5 596.9V601.4M648.5 466.8V459.8M648.5 596.9V603.9M662.5 466.8V462.3M662.5 596.9V601.4M676.5 466.8V462.3M676.5 596.9V601.4M690.5 466.8V462.3M690.5 596.9V601.4M704.5 466.8V459.8M704.5 596.9V603.9M718.4 466.8V462.3M718.4 596.9V601.4M88.9 471H81.9M718.4 471H725.4M88.9 485H84.4M718.4 485H722.9M88.9 499H81.9M718.4 499H725.4M88.9 513H84.4M718.4 513H722.9M88.9 527H81.9M718.4 527H725.4M88.9 541H84.4M718.4 541H722.9M88.9 554.9H81.9M718.4 554.9H725.4M88.9 568.9H84.4M718.4 568.9H722.9M88.9 582.9H81.9M718.4 582.9H725.4M88.9 596.9H84.4M718.4 596.9H722.9" stroke="#000" stroke-width="1.9" fill="none"/>
<polygon points="116.9,467.4 130.5,467.4 123.7,477.5" fill="#000"/>
<polygon points="258.4,459 272,459 265.2,470.3" fill="#000"/>
<text x="88.9" y="627.1" font-size="24" text-anchor="middle">0</text>
<text x="144.9" y="627.1" font-size="24" text-anchor="middle">20</text>
<text x="200.8" y="627.1" font-size="24" text-anchor="middle">40</text>
<text x="256.8" y="627.1" font-size="24" text-anchor="middle">60</text>
<text x="312.7" y="627.1" font-size="24" text-anchor="middle">80</text>
<text x="368.7" y="627.1" font-size="24" text-anchor="middle">100</text>
<text x="424.7" y="627.1" font-size="24" text-anchor="middle">120</text>
<text x="480.6" y="627.1" font-size="24" text-anchor="middle">140</text>
<text x="536.6" y="627.1" font-size="24" text-anchor="middle">160</text>
<text x="592.5" y="627.1" font-size="24" text-anchor="middle">180</text>
<text x="648.5" y="627.1" font-size="24" text-anchor="middle">200</text>
<text x="704.5" y="627.1" font-size="24" text-anchor="middle">220</text>
<text x="76.3" y="479.5" font-size="24" text-anchor="end">0</text>
<text x="76.3" y="507.5" font-size="24" text-anchor="end">10</text>
<text x="76.3" y="535.5" font-size="24" text-anchor="end">20</text>
<text x="76.3" y="563.4" font-size="24" text-anchor="end">30</text>
<text x="76.3" y="591.4" font-size="24" text-anchor="end">40</text>
<text x="88.9" y="459.3" font-size="24" text-anchor="middle">C</text>
<text x="718.4" y="459.3" font-size="24" text-anchor="middle">C&#8217;</text>
<text x="0" y="0" font-size="25.6" text-anchor="middle" transform="translate(36.3 531.9) rotate(-90)">Depth (km)</text>
<g clip-path="url(#c12)">
<rect x="785.9" y="466.8" width="629.5" height="130.1" fill="#7dffbb"/>
<g filter="url(#b6)">
<ellipse cx="1317.5" cy="568.9" rx="102.1" ry="30.2" fill="#c3ff8e"/>
<ellipse cx="1240.6" cy="485" rx="179.1" ry="16.2" fill="#57fccc"/>
<ellipse cx="855.9" cy="584.3" rx="74.1" ry="14.8" fill="#52fcce"/>
<ellipse cx="1107.7" cy="568.9" rx="102.1" ry="16.2" fill="#aaff9e"/>
<ellipse cx="819.5" cy="511.7" rx="37.8" ry="12.5" fill="#ff8e42"/>
<ellipse cx="794.3" cy="511.6" rx="12.6" ry="9.2" fill="#ffbf56"/>
<ellipse cx="869.8" cy="489.2" rx="32.2" ry="7.8" fill="#fbfa70"/>
<ellipse cx="1032.1" cy="482.6" rx="15.4" ry="5.5" fill="#e2fd7d"/>
<ellipse cx="819.5" cy="550.7" rx="37.8" ry="20.4" fill="#11f0f3"/>
<ellipse cx="797.1" cy="550.7" rx="15.4" ry="12" fill="#00e0ff"/>
<ellipse cx="934.2" cy="564.7" rx="18.2" ry="12" fill="#00c1ff"/>
<ellipse cx="935.6" cy="565.4" rx="11.2" ry="7.1" fill="#0082ff"/>
<ellipse cx="976.2" cy="510.9" rx="37.8" ry="7.1" fill="#1ef4ea"/>
<ellipse cx="875.4" cy="522.1" rx="9.8" ry="5.7" fill="#21f5e8"/>
<ellipse cx="1132.9" cy="564.7" rx="37.8" ry="6.4" fill="#32fadc"/>
<ellipse cx="1330.1" cy="480.2" rx="22.4" ry="7.8" fill="#21f5e8"/>
<ellipse cx="1380.5" cy="514.9" rx="39.2" ry="7" fill="#e2fd7d"/>
<ellipse cx="1393.1" cy="500.4" rx="26.6" ry="7.8" fill="#21f5e8"/>
<ellipse cx="1274.2" cy="574.8" rx="56" ry="14.5" fill="#cdff87"/>
<ellipse cx="1191.6" cy="529.8" rx="46.2" ry="7.8" fill="#dafe81"/>
</g>
<polygon points="848.3,494.5 854,495.7 859.8,497 865.5,498.4 871.3,499.9 877.1,501.3 882.9,502.8 888.6,504.2 894.4,505.7 900.2,507.3 905.9,509 911.7,510.8 917.5,512.3 923.3,513.6 929.1,514.8 934.9,515.9 940.7,516.9 946.5,517.8 952.3,518.6 958.1,519.4 963.9,520.1 969.6,520.8 975.4,521.4 981.2,521.9 987,522.3 992.8,522.7 998.6,523.1 1004.3,523.5 1010.1,524 1015.9,524.4 1021.6,524.8 1027.4,525.2 1033.2,525.7 1039,526.1 1044.8,526.5 1050.5,526.8 1056.3,527.1 1062.1,527.4 1067.9,527.7 1073.7,527.9 1079.4,528.2 1085.2,528.4 1091,528.6 1096.7,528.9 1102.5,529.3 1108.3,529.6 1114,530.1 1119.8,530.6 1125.6,531.1 1131.3,531.7 1137.1,532.4 1142.9,533 1148.6,533.7 1154.4,534.3 1160.2,535 1166,535.7 1171.7,536.4 1177.5,537.2 1183.3,538 1189,538.9 1194.8,539.8 1200.5,541 1206.2,542.4 1211.9,544.3 1217.6,546.5 1223.4,548.8 1229.1,551.4 1234.9,554.1 1240.7,556.9 1246.4,559.8 1252.2,562.7 1258,565.7 1250,581.1 1244.3,578.2 1238.6,575.3 1233,572.5 1227.4,569.8 1221.9,567.2 1216.5,564.8 1211.3,562.6 1206.2,560.7 1201.3,559.1 1196.6,557.9 1191.7,556.9 1186.3,556 1180.7,555.2 1175.1,554.4 1169.4,553.6 1163.8,552.9 1158.1,552.2 1152.5,551.5 1146.7,550.9 1141,550.3 1135.2,549.6 1129.4,549 1123.8,548.4 1118.2,547.8 1112.6,547.4 1107,546.9 1101.5,546.6 1095.8,546.3 1090.2,546 1084.5,545.7 1078.7,545.5 1073,545.3 1067.1,545 1061.3,544.8 1055.4,544.5 1049.5,544.1 1043.7,543.8 1037.8,543.4 1031.9,543 1026.1,542.5 1020.4,542.1 1014.6,541.7 1008.8,541.3 1003.1,540.9 997.3,540.4 991.6,540 985.7,539.6 979.7,539.2 973.8,538.6 967.8,538 961.8,537.3 955.8,536.6 949.9,535.8 943.9,534.9 938,534 931.9,533 925.8,531.9 919.6,530.6 913.3,529.1 907,527.5 901,525.7 895.4,524 889.9,522.5 884.3,521 878.6,519.6 872.9,518.1 867.1,516.7 861.4,515.2 855.8,513.9 850.3,512.6 844.9,511.5" fill="url(#g6)" filter="url(#b4)"/>
<polygon points="854.9,491.8 860.7,493.2 866.5,494.6 872.3,496.1 878,497.5 883.8,499 889.6,500.4 895.4,502 901.2,503.6 907,505.3 902.6,520 897,518.4 891.4,516.8 885.8,515.3 880.1,513.9 874.3,512.4 868.5,511 862.8,509.5 857.1,508.1 851.6,506.9" fill="url(#g7)" filter="url(#b4)"/>
<polygon points="859.1,500 864.8,501.4 870.6,502.8 876.3,504.3 882.1,505.7 887.9,507.2 893.6,508.7 899.3,510.3 905,512 910.9,513.7 916.8,515.3 922.7,516.7 928.5,517.9 934.4,518.9 940.2,519.9 946,520.8 951.9,521.7 957.7,522.4 963.5,523.2 969.3,523.8 975.1,524.4 980.9,524.9 986.8,525.4 992.6,525.8 998.3,526.2 1004.1,526.6 1009.9,527 1015.6,527.5 1021.4,527.9 1027.2,528.3 1033,528.8 1038.8,529.2 1044.6,529.5 1050.4,529.9 1056.2,530.2 1061.9,530.5 1067.7,530.8 1073.5,531 1079.3,531.2 1085.1,531.5 1090.8,531.7 1096.6,532 1102.3,532.3 1108.1,532.7 1113.8,533.1 1119.5,533.6 1125.2,534.2 1131,534.8 1136.8,535.4 1142.5,536.1 1148.3,536.7 1154.1,537.4 1159.8,538 1165.6,538.7 1171.3,539.5 1177.1,540.3 1182.8,541.1 1188.5,541.9 1194.2,542.9 1199.8,544 1205.3,545.4 1210.9,547.2 1216.5,549.3 1212.6,559.2 1207.4,557.2 1202.3,555.6 1197.4,554.3 1192.3,553.3 1186.9,552.4 1181.3,551.6 1175.6,550.8 1169.9,550 1164.2,549.3 1158.6,548.6 1152.9,547.9 1147.1,547.3 1141.4,546.6 1135.6,546 1129.8,545.4 1124.2,544.8 1118.5,544.2 1112.9,543.7 1107.3,543.3 1101.7,542.9 1096,542.6 1090.3,542.3 1084.6,542.1 1078.9,541.9 1073.1,541.6 1067.3,541.4 1061.4,541.1 1055.6,540.8 1049.7,540.5 1043.9,540.1 1038,539.8 1032.2,539.4 1026.4,538.9 1020.6,538.5 1014.9,538.1 1009.1,537.6 1003.3,537.2 997.6,536.8 991.8,536.4 986,536 980,535.5 974.1,535 968.2,534.4 962.2,533.7 956.3,533 950.4,532.2 944.5,531.3 938.5,530.4 932.6,529.4 926.5,528.3 920.4,527 914.2,525.6 908,524 902,522.2 896.4,520.5 890.8,519 885.2,517.5 879.5,516 873.8,514.6 868,513.2 862.2,511.7 856.6,510.3" fill="url(#g8)" filter="url(#b3)"/>
<line x1="786.4" y1="499" x2="1415.4" y2="499" stroke="#000" stroke-width="2" stroke-dasharray="12,7"/>
<line x1="786.4" y1="527" x2="1415.4" y2="527" stroke="#000" stroke-width="2" stroke-dasharray="12,7"/>
<line x1="786.4" y1="554.9" x2="1415.4" y2="554.9" stroke="#000" stroke-width="2" stroke-dasharray="12,7"/>
<line x1="786.4" y1="582.9" x2="1415.4" y2="582.9" stroke="#000" stroke-width="2" stroke-dasharray="12,7"/>
<polyline points="785.9,478.2 834,478.2 847,476.3 862,474 883.4,472 907,471.6 937,472.4 957,471.2 1027,471 1097,471.6 1167,470.8 1227,471.6 1297,471.2 1357,471.7 1415.4,471.4" fill="none" stroke="#000" stroke-width="1.7"/>
<polyline points="802.3,485.9 803.8,486.1 806.9,486.6 811.6,487.4 817.7,488.4 823.8,489.4 829.7,490.3 835.5,491.2 841.1,492 847.1,493.1 853.2,494.3 859.7,495.8 866.5,497.5 872.9,499.1 879.1,500.7 885,502.1 890.6,503.6 895.9,505 901,506.4 905.8,507.8 910.2,509.2 915,510.5 920.1,511.8 925.5,513 931.2,514.1 937.6,515.2 944.6,516.4 952.3,517.5 960.8,518.6 969.2,519.6 977.6,520.5 986.1,521.2 994.5,521.7 1003.7,522.4 1013.5,523.1 1024.1,523.9 1035.4,524.7 1046.6,525.5 1057.9,526.1 1069.1,526.6 1080.2,527.1 1090,527.5 1098.4,527.9 1105.4,528.3 1111.1,528.7 1116.7,529.2 1122.3,529.7 1127.9,530.2 1133.6,530.9 1139.2,531.5 1144.8,532.1 1150.5,532.7 1156.1,533.4 1161.8,534 1167.4,534.7 1173,535.5 1178.7,536.2 1183.9,537 1188.7,537.7 1193,538.4 1197,539.1 1200.8,539.9 1204.4,540.8 1208,541.8 1211.3,542.9 1214.9,544.2 1218.5,545.6 1222.3,547.1 1226.2,548.9 1230.6,550.8 1235.4,553.1 1240.6,555.6 1246.2,558.5 1251.9,561.3 1257.5,564.2 1263.1,567.1 1268.8,570 1274.4,573 1280,576 1285.6,579 1291.3,582.1 1296.8,585.1 1302.1,587.8 1307.3,590.3 1312.4,592.7 1316.3,594.5 1319.1,595.9 1320.8,596.8 1321.2,597.2 1321.6,597.5 1321.9,597.7 1322,597.8" fill="none" stroke="#000" stroke-width="1.8"/>
</g>
<rect x="785.9" y="466.8" width="629.5" height="130.1" fill="none" stroke="#000" stroke-width="1.9"/>
<path d="M785.9 466.8V459.8M785.9 596.9V603.9M799.9 466.8V462.3M799.9 596.9V601.4M813.9 466.8V462.3M813.9 596.9V601.4M827.9 466.8V462.3M827.9 596.9V601.4M841.9 466.8V459.8M841.9 596.9V603.9M855.9 466.8V462.3M855.9 596.9V601.4M869.8 466.8V462.3M869.8 596.9V601.4M883.8 466.8V462.3M883.8 596.9V601.4M897.8 466.8V459.8M897.8 596.9V603.9M911.8 466.8V462.3M911.8 596.9V601.4M925.8 466.8V462.3M925.8 596.9V601.4M939.8 466.8V462.3M939.8 596.9V601.4M953.8 466.8V459.8M953.8 596.9V603.9M967.8 466.8V462.3M967.8 596.9V601.4M981.8 466.8V462.3M981.8 596.9V601.4M995.8 466.8V462.3M995.8 596.9V601.4M1009.7 466.8V459.8M1009.7 596.9V603.9M1023.7 466.8V462.3M1023.7 596.9V601.4M1037.7 466.8V462.3M1037.7 596.9V601.4M1051.7 466.8V462.3M1051.7 596.9V601.4M1065.7 466.8V459.8M1065.7 596.9V603.9M1079.7 466.8V462.3M1079.7 596.9V601.4M1093.7 466.8V462.3M1093.7 596.9V601.4M1107.7 466.8V462.3M1107.7 596.9V601.4M1121.7 466.8V459.8M1121.7 596.9V603.9M1135.7 466.8V462.3M1135.7 596.9V601.4M1149.6 466.8V462.3M1149.6 596.9V601.4M1163.6 466.8V462.3M1163.6 596.9V601.4M1177.6 466.8V459.8M1177.6 596.9V603.9M1191.6 466.8V462.3M1191.6 596.9V601.4M1205.6 466.8V462.3M1205.6 596.9V601.4M1219.6 466.8V462.3M1219.6 596.9V601.4M1233.6 466.8V459.8M1233.6 596.9V603.9M1247.6 466.8V462.3M1247.6 596.9V601.4M1261.6 466.8V462.3M1261.6 596.9V601.4M1275.5 466.8V462.3M1275.5 596.9V601.4M1289.5 466.8V459.8M1289.5 596.9V603.9M1303.5 466.8V462.3M1303.5 596.9V601.4M1317.5 466.8V462.3M1317.5 596.9V601.4M1331.5 466.8V462.3M1331.5 596.9V601.4M1345.5 466.8V459.8M1345.5 596.9V603.9M1359.5 466.8V462.3M1359.5 596.9V601.4M1373.5 466.8V462.3M1373.5 596.9V601.4M1387.5 466.8V462.3M1387.5 596.9V601.4M1401.5 466.8V459.8M1401.5 596.9V603.9M1415.4 466.8V462.3M1415.4 596.9V601.4M785.9 471H778.9M1415.4 471H1422.4M785.9 485H781.4M1415.4 485H1419.9M785.9 499H778.9M1415.4 499H1422.4M785.9 513H781.4M1415.4 513H1419.9M785.9 527H778.9M1415.4 527H1422.4M785.9 541H781.4M1415.4 541H1419.9M785.9 554.9H778.9M1415.4 554.9H1422.4M785.9 568.9H781.4M1415.4 568.9H1419.9M785.9 582.9H778.9M1415.4 582.9H1422.4M785.9 596.9H781.4M1415.4 596.9H1419.9" stroke="#000" stroke-width="1.9" fill="none"/>
<polygon points="813.9,467.4 827.5,467.4 820.7,477.5" fill="#000"/>
<polygon points="955.4,459 969,459 962.2,470.3" fill="#000"/>
<text x="785.9" y="627.1" font-size="24" text-anchor="middle">0</text>
<text x="841.9" y="627.1" font-size="24" text-anchor="middle">20</text>
<text x="897.8" y="627.1" font-size="24" text-anchor="middle">40</text>
<text x="953.8" y="627.1" font-size="24" text-anchor="middle">60</text>
<text x="1009.7" y="627.1" font-size="24" text-anchor="middle">80</text>
<text x="1065.7" y="627.1" font-size="24" text-anchor="middle">100</text>
<text x="1121.7" y="627.1" font-size="24" text-anchor="middle">120</text>
<text x="1177.6" y="627.1" font-size="24" text-anchor="middle">140</text>
<text x="1233.6" y="627.1" font-size="24" text-anchor="middle">160</text>
<text x="1289.5" y="627.1" font-size="24" text-anchor="middle">180</text>
<text x="1345.5" y="627.1" font-size="24" text-anchor="middle">200</text>
<text x="1401.5" y="627.1" font-size="24" text-anchor="middle">220</text>
<text x="773.3" y="479.5" font-size="24" text-anchor="end">0</text>
<text x="773.3" y="507.5" font-size="24" text-anchor="end">10</text>
<text x="773.3" y="535.5" font-size="24" text-anchor="end">20</text>
<text x="773.3" y="563.4" font-size="24" text-anchor="end">30</text>
<text x="773.3" y="591.4" font-size="24" text-anchor="end">40</text>
<text x="785.9" y="459.3" font-size="24" text-anchor="middle">C</text>
<text x="1415.4" y="459.3" font-size="24" text-anchor="middle">C&#8217;</text>
<g clip-path="url(#c13)">
<rect x="88.9" y="663" width="629.5" height="130.3" fill="#83fdbf"/>
<g clip-path="url(#c14)"><g filter="url(#b1)">
<polygon points="105.2,682.9 111,683.8 116.8,684.8 122.6,685.7 128.3,686.8 134.1,687.8 139.9,688.9 145.7,690.1 151.5,691.3 157.3,692.4 163.1,693.6 168.9,694.7 174.8,695.9 180.6,697 186.3,698.2 192.1,699.5 197.9,700.8 203.7,702.2 209.5,703.8 215.3,705.3 221.1,706.7 227,707.9 232.8,709.1 238.6,710.1 244.4,711.1 250.2,711.9 256,712.7 261.9,713.5 267.7,714.1 273.5,714.8 279.3,715.3 285.1,715.9 290.9,716.4 296.7,717 302.5,717.5 308.3,718 314.1,718.5 319.9,719 325.7,719.4 331.5,719.9 337.3,720.3 343.1,720.7 348.9,721.1 354.7,721.5 360.5,721.8 366.4,722.1 372.2,722.4 378,722.6 383.8,722.8 389.6,723.1 395.4,723.3 401.2,723.6 407,724 412.7,724.4 418.5,724.9 424.3,725.5 430.1,726.2 435.9,727 441.7,727.8 447.5,728.7 453.3,729.6 459.1,730.6 464.9,731.6 470.7,732.6 476.5,733.6 482.3,734.6 488.1,735.6 493.9,736.7 499.7,737.7 505.5,738.7 511.2,739.9 517,741.4 522.8,743.4 528.5,745.6 534.3,748.1 540.1,750.8 545.9,753.5 551.7,756.2 557.5,758.9 563.3,761.6 569.1,764.2 574.9,766.9 580.7,769.7 586.5,772.7 592.3,775.9 598.1,779 603.9,782.2 609.7,785.2 615.5,788.3 621.3,791.3 627,794.8 618.4,809.3 613,806 607.6,803.2 601.8,800.2 595.9,797.1 590,793.9 584.2,790.7 578.6,787.6 573.1,784.8 567.6,782.1 562.1,779.6 556.3,777 550.4,774.3 544.5,771.5 538.7,768.8 533,766.1 527.4,763.6 522.1,761.2 517,759.3 512.2,757.6 507.4,756.4 502.2,755.3 496.7,754.3 491,753.3 485.2,752.3 479.3,751.3 473.5,750.2 467.8,749.2 462,748.2 456.3,747.2 450.6,746.3 444.9,745.4 439.3,744.5 433.6,743.7 428,743 422.5,742.3 416.9,741.8 411.3,741.3 405.8,740.8 400.2,740.5 394.6,740.2 388.8,739.9 383.1,739.7 377.4,739.5 371.5,739.3 365.5,739 359.6,738.7 353.7,738.4 347.9,738 342,737.6 336.1,737.2 330.2,736.7 324.4,736.3 318.5,735.8 312.7,735.3 306.9,734.8 301,734.3 295.2,733.8 289.3,733.3 283.5,732.7 277.6,732.1 271.7,731.6 265.8,730.9 259.8,730.2 253.9,729.5 247.8,728.7 241.8,727.7 235.8,726.7 229.7,725.7 223.6,724.5 217.5,723.2 211.3,721.7 205.1,720.1 199.4,718.6 194,717.2 188.5,715.9 182.9,714.7 177.2,713.6 171.5,712.5 165.6,711.3 159.8,710.1 154,709 148.2,707.8 142.4,706.6 136.7,705.5 131,704.4 125.4,703.4 119.7,702.4 114,701.4 108.3,700.5 102.5,699.6" fill="#f3e27a"/>
<rect x="100.7" y="683" width="9.2" height="16.6" fill="#f3e27a"/>
</g></g>
<g clip-path="url(#c15)"><g filter="url(#b1)">
<polygon points="105,684.1 110.8,685 116.6,686 122.4,686.9 128.1,687.9 133.9,689 139.7,690.1 145.5,691.3 151.3,692.4 157.1,693.6 162.9,694.8 168.7,695.9 174.5,697.1 180.3,698.2 186.1,699.4 191.9,700.6 197.6,702 203.4,703.4 209.2,705 215,706.5 220.9,707.9 226.7,709.1 232.6,710.2 238.4,711.3 244.2,712.2 250.1,713.1 255.9,713.9 261.7,714.7 267.5,715.3 273.3,716 279.2,716.5 285,717.1 290.8,717.6 296.6,718.2 302.4,718.7 308.2,719.2 314,719.7 319.8,720.2 325.6,720.6 331.4,721.1 337.2,721.5 343,721.9 348.9,722.3 354.7,722.7 360.5,723 366.3,723.3 372.1,723.6 377.9,723.8 383.7,724 389.5,724.3 395.3,724.5 401.1,724.8 406.9,725.2 412.6,725.6 418.4,726.1 424.2,726.7 430,727.4 435.7,728.2 441.5,729 447.3,729.9 453.1,730.8 458.9,731.8 464.7,732.8 470.5,733.8 476.3,734.8 482.1,735.8 487.9,736.8 493.7,737.8 499.5,738.9 505.2,739.9 511,741.1 516.7,742.6 522.3,744.5 528.1,746.7 533.8,749.2 539.6,751.9 545.4,754.6 551.2,757.3 557,760 562.8,762.7 568.6,765.3 574.4,768 580.1,770.8 585.9,773.8 591.7,776.9 597.5,780.1 603.3,783.2 609.1,786.3 614.9,789.3 620.7,792.4 626.4,795.8 619.3,807.7 613.8,804.5 608.5,801.6 602.7,798.6 596.8,795.5 590.9,792.3 585,789.1 579.4,786.1 573.9,783.2 568.4,780.5 562.8,777.9 557.1,775.3 551.2,772.6 545.3,769.9 539.5,767.1 533.8,764.5 528.2,761.9 522.8,759.6 517.6,757.6 512.7,755.9 507.8,754.6 502.6,753.5 497.1,752.5 491.3,751.5 485.5,750.5 479.7,749.5 473.9,748.5 468.1,747.4 462.3,746.4 456.6,745.5 450.9,744.5 445.2,743.6 439.5,742.7 433.9,741.9 428.2,741.2 422.7,740.5 417.1,740 411.5,739.5 405.9,739 400.3,738.7 394.6,738.4 388.9,738.1 383.2,737.9 377.4,737.7 371.5,737.5 365.6,737.2 359.7,736.9 353.8,736.6 348,736.2 342.1,735.8 336.2,735.4 330.4,734.9 324.5,734.5 318.7,734 312.8,733.5 307,733 301.2,732.5 295.3,732 289.5,731.5 283.7,730.9 277.8,730.4 271.9,729.8 266,729.1 260,728.4 254.1,727.7 248.1,726.9 242,726 236.1,725 230,723.9 223.9,722.7 217.9,721.4 211.7,720 205.6,718.4 199.9,716.8 194.4,715.5 188.9,714.2 183.3,713 177.6,711.8 171.8,710.7 166,709.5 160.2,708.4 154.4,707.2 148.6,706 142.8,704.9 137,703.7 131.3,702.6 125.7,701.6 120,700.6 114.3,699.7 108.5,698.7 102.7,697.8" fill="#fb0400"/>
<rect x="103.1" y="684.3" width="8.2" height="13.5" fill="#fb0400"/>
</g></g>
<polyline points="88.9,674.8 143.6,674.8 152.6,671.6 197.6,669.2 231.4,667.2 300,666.8 344,665.4 400,667 460,667.4 520,666.9 580,667.5 640,667.2 718.4,667.5" fill="none" stroke="#000" stroke-width="1.7"/>
<polyline points="105.3,682 106.8,682.2 109.9,682.8 114.6,683.5 120.7,684.5 127.5,685.7 134.8,687 142.7,688.6 151.1,690.2 159.6,691.9 168,693.6 176.5,695.3 184.9,697 192.7,698.6 199.7,700.3 206,701.9 211.7,703.5 218,705.1 225,706.6 232.8,708.1 241.2,709.6 250.4,711.1 260.2,712.4 270.8,713.6 282.1,714.7 294.1,715.8 306.7,717 320.1,718.1 334.2,719.2 347.5,720.2 360.2,720.9 372.1,721.5 383.2,721.9 393,722.3 401.4,722.7 408.4,723.2 414.1,723.6 419.7,724.1 425.3,724.7 430.9,725.4 436.6,726.2 442.2,727 447.8,727.8 453.5,728.7 459.1,729.7 464.8,730.6 470.4,731.6 476,732.6 481.7,733.6 487.3,734.6 492.9,735.6 498.5,736.6 504.2,737.5 509.2,738.5 513.7,739.6 517.7,740.7 521,741.8 524.4,743 527.8,744.3 531.2,745.8 534.5,747.2 538.2,748.9 542.1,750.7 546.4,752.7 550.9,754.9 555.7,757.1 560.8,759.5 566.1,761.9 571.8,764.4 577.4,767.1 583,769.9 588.6,772.9 594.3,776 599.9,779 605.5,782 611.1,785 616.8,787.9 621.1,790.2 624.2,791.9 626.1,792.9 626.6,793.4 627.1,793.7 627.4,793.9 627.5,794" fill="none" stroke="#000" stroke-width="1.8"/>
</g>
<rect x="88.9" y="663" width="629.5" height="130.3" fill="none" stroke="#000" stroke-width="1.9"/>
<path d="M88.9 663V656M88.9 793.3V800.3M102.9 663V658.5M102.9 793.3V797.8M116.9 663V658.5M116.9 793.3V797.8M130.9 663V658.5M130.9 793.3V797.8M144.9 663V656M144.9 793.3V800.3M158.9 663V658.5M158.9 793.3V797.8M172.8 663V658.5M172.8 793.3V797.8M186.8 663V658.5M186.8 793.3V797.8M200.8 663V656M200.8 793.3V800.3M214.8 663V658.5M214.8 793.3V797.8M228.8 663V658.5M228.8 793.3V797.8M242.8 663V658.5M242.8 793.3V797.8M256.8 663V656M256.8 793.3V800.3M270.8 663V658.5M270.8 793.3V797.8M284.8 663V658.5M284.8 793.3V797.8M298.8 663V658.5M298.8 793.3V797.8M312.7 663V656M312.7 793.3V800.3M326.7 663V658.5M326.7 793.3V797.8M340.7 663V658.5M340.7 793.3V797.8M354.7 663V658.5M354.7 793.3V797.8M368.7 663V656M368.7 793.3V800.3M382.7 663V658.5M382.7 793.3V797.8M396.7 663V658.5M396.7 793.3V797.8M410.7 663V658.5M410.7 793.3V797.8M424.7 663V656M424.7 793.3V800.3M438.6 663V658.5M438.6 793.3V797.8M452.6 663V658.5M452.6 793.3V797.8M466.6 663V658.5M466.6 793.3V797.8M480.6 663V656M480.6 793.3V800.3M494.6 663V658.5M494.6 793.3V797.8M508.6 663V658.5M508.6 793.3V797.8M522.6 663V658.5M522.6 793.3V797.8M536.6 663V656M536.6 793.3V800.3M550.6 663V658.5M550.6 793.3V797.8M564.6 663V658.5M564.6 793.3V797.8M578.6 663V658.5M578.6 793.3V797.8M592.5 663V656M592.5 793.3V800.3M606.5 663V658.5M606.5 793.3V797.8M620.5 663V658.5M620.5 793.3V797.8M634.5 663V658.5M634.5 793.3V797.8M648.5 663V656M648.5 793.3V800.3M662.5 663V658.5M662.5 793.3V797.8M676.5 663V658.5M676.5 793.3V797.8M690.5 663V658.5M690.5 793.3V797.8M704.5 663V656M704.5 793.3V800.3M718.4 663V658.5M718.4 793.3V797.8M88.9 667.4H81.9M718.4 667.4H725.4M88.9 681.4H84.4M718.4 681.4H722.9M88.9 695.4H81.9M718.4 695.4H725.4M88.9 709.4H84.4M718.4 709.4H722.9M88.9 723.4H81.9M718.4 723.4H725.4M88.9 737.4H84.4M718.4 737.4H722.9M88.9 751.3H81.9M718.4 751.3H725.4M88.9 765.3H84.4M718.4 765.3H722.9M88.9 779.3H81.9M718.4 779.3H725.4M88.9 793.3H84.4M718.4 793.3H722.9" stroke="#000" stroke-width="1.9" fill="none"/>
<polygon points="112,663.5 125.6,663.5 118.8,673.6" fill="#000"/>
<polygon points="269.6,654.5 283.2,654.5 276.4,666.9" fill="#000"/>
<text x="88.9" y="823.5" font-size="24" text-anchor="middle">0</text>
<text x="144.9" y="823.5" font-size="24" text-anchor="middle">20</text>
<text x="200.8" y="823.5" font-size="24" text-anchor="middle">40</text>
<text x="256.8" y="823.5" font-size="24" text-anchor="middle">60</text>
<text x="312.7" y="823.5" font-size="24" text-anchor="middle">80</text>
<text x="368.7" y="823.5" font-size="24" text-anchor="middle">100</text>
<text x="424.7" y="823.5" font-size="24" text-anchor="middle">120</text>
<text x="480.6" y="823.5" font-size="24" text-anchor="middle">140</text>
<text x="536.6" y="823.5" font-size="24" text-anchor="middle">160</text>
<text x="592.5" y="823.5" font-size="24" text-anchor="middle">180</text>
<text x="648.5" y="823.5" font-size="24" text-anchor="middle">200</text>
<text x="704.5" y="823.5" font-size="24" text-anchor="middle">220</text>
<text x="76.3" y="675.9" font-size="24" text-anchor="end">0</text>
<text x="76.3" y="703.9" font-size="24" text-anchor="end">10</text>
<text x="76.3" y="731.9" font-size="24" text-anchor="end">20</text>
<text x="76.3" y="759.8" font-size="24" text-anchor="end">30</text>
<text x="76.3" y="787.8" font-size="24" text-anchor="end">40</text>
<text x="88.9" y="655.4" font-size="24" text-anchor="middle">D</text>
<text x="718.4" y="655.4" font-size="24" text-anchor="middle">D&#8217;</text>
<text x="0" y="0" font-size="25.6" text-anchor="middle" transform="translate(36.3 728.2) rotate(-90)">Depth (km)</text>
<g clip-path="url(#c16)">
<rect x="785.9" y="663" width="629.5" height="130.3" fill="#7dffbb"/>
<g filter="url(#b6)">
<ellipse cx="1317.5" cy="765.3" rx="102.1" ry="30.2" fill="#beff91"/>
<ellipse cx="1240.6" cy="681.4" rx="179.1" ry="16.2" fill="#57fccc"/>
<ellipse cx="1079.7" cy="780.7" rx="130.1" ry="14.8" fill="#57fccc"/>
<ellipse cx="827.9" cy="708.8" rx="46.2" ry="13.4" fill="#ffd35e"/>
<ellipse cx="836.3" cy="708" rx="26.6" ry="9.2" fill="#ffa54b"/>
<ellipse cx="1023.7" cy="681.4" rx="130.1" ry="13.4" fill="#afff9b"/>
<ellipse cx="875.4" cy="685.2" rx="26.6" ry="8" fill="#fbfa70"/>
<ellipse cx="869.8" cy="729.1" rx="15.4" ry="11.3" fill="#fbfa70"/>
<ellipse cx="864.2" cy="778.6" rx="9.8" ry="7.1" fill="#ffd961"/>
<ellipse cx="1037.7" cy="693" rx="21" ry="6.9" fill="#cdff87"/>
<ellipse cx="913.9" cy="696.5" rx="16.1" ry="7.8" fill="#00ebff"/>
<ellipse cx="825.1" cy="762.5" rx="43.4" ry="13.4" fill="#00ebff"/>
<ellipse cx="930" cy="771.6" rx="14" ry="8.5" fill="#0082ff"/>
<ellipse cx="942.6" cy="745.7" rx="15.4" ry="7.8" fill="#00ebff"/>
<ellipse cx="1004.1" cy="709.9" rx="21" ry="5.6" fill="#11f0f3"/>
<ellipse cx="1048.9" cy="760.7" rx="54.6" ry="6.9" fill="#32fadc"/>
<ellipse cx="1127.3" cy="720" rx="32.2" ry="6.7" fill="#ffc658"/>
<ellipse cx="1387.5" cy="708.8" rx="32.2" ry="9" fill="#fbfa70"/>
<ellipse cx="1405.7" cy="709.4" rx="14" ry="6.4" fill="#ffa54b"/>
<ellipse cx="1240.6" cy="772.3" rx="44.8" ry="9.2" fill="#e2fd7d"/>
<ellipse cx="1325.9" cy="735.8" rx="49" ry="13.6" fill="#b4ff98"/>
<ellipse cx="1127.3" cy="698.7" rx="21" ry="10.1" fill="#21f5e8"/>
<ellipse cx="1365.1" cy="677.3" rx="32.2" ry="9.1" fill="#11f0f3"/>
<ellipse cx="1393.1" cy="694.3" rx="15.4" ry="5.6" fill="#11f0f3"/>
<ellipse cx="1172" cy="761.7" rx="32.2" ry="7.8" fill="#11f0f3"/>
<ellipse cx="1263" cy="718.9" rx="22.4" ry="7.8" fill="#32fadc"/>
</g>
<polygon points="865.9,694.9 871.7,696.1 877.5,697.3 883.3,698.4 889.1,699.7 894.9,701 900.7,702.4 906.5,704 912.3,705.6 918.1,706.9 923.9,708.1 929.7,709.3 935.6,710.3 941.4,711.3 947.2,712.2 953,712.9 958.8,713.7 964.6,714.3 970.4,715 976.3,715.6 982.1,716.1 987.9,716.7 993.7,717.2 999.5,717.7 1005.3,718.2 1011.1,718.7 1016.9,719.2 1022.7,719.7 1028.5,720.1 1034.3,720.6 1040.1,721 1045.9,721.4 1051.7,721.7 1057.5,722.1 1063.3,722.3 1069.2,722.6 1075,722.8 1080.8,723 1086.6,723.3 1092.4,723.6 1098.2,723.8 1103.9,724.2 1109.7,724.6 1115.5,725.2 1121.3,725.8 1127.1,726.5 1132.9,727.2 1138.7,728 1144.5,728.9 1150.3,729.8 1156,730.8 1161.8,731.8 1167.6,732.8 1173.4,733.8 1179.2,734.8 1185.1,735.9 1190.9,736.9 1196.7,737.9 1202.4,738.9 1208.2,740.2 1213.9,741.6 1219.7,743.6 1225.4,745.8 1231.2,748.3 1237,751 1242.8,753.7 1235.4,769.4 1229.7,766.7 1224.2,764.2 1218.8,761.9 1213.8,759.9 1209,758.3 1204.2,757 1199.1,756 1193.6,755 1187.9,754 1182,752.9 1176.2,751.9 1170.4,750.9 1164.7,749.9 1158.9,748.9 1153.2,747.9 1147.5,746.9 1141.8,746 1136.2,745.2 1130.5,744.4 1124.9,743.7 1119.4,743 1113.8,742.4 1108.3,741.9 1102.7,741.5 1097.2,741.2 1091.5,740.9 1085.8,740.6 1080.1,740.4 1074.3,740.2 1068.4,740 1062.5,739.7 1056.6,739.4 1050.7,739 1044.8,738.7 1038.9,738.3 1033,737.9 1027.2,737.4 1021.3,736.9 1015.5,736.5 1009.6,736 1003.8,735.5 998,735 992.1,734.5 986.3,733.9 980.4,733.4 974.6,732.8 968.7,732.2 962.7,731.6 956.7,730.9 950.8,730.1 944.7,729.3 938.7,728.4 932.6,727.4 926.6,726.3 920.5,725.1 914.3,723.8 908.1,722.4 902,720.8 896.3,719.2 890.8,717.9 885.3,716.6 879.8,715.4 874.1,714.3 868.3,713.1 862.5,712" fill="url(#g9)" filter="url(#b4)"/>
<polygon points="873.3,688.1 879.1,689.3 885,690.5 890.9,691.7 896.8,693.1 902.7,694.6 908.5,696.2 914.2,697.7 909.5,716.7 903.5,715.1 897.7,713.5 892.2,712.2 886.6,710.9 881,709.7 875.3,708.5 869.5,707.4" fill="url(#g10)" filter="url(#b4)"/>
<polygon points="899.9,705.4 905.7,707 911.5,708.5 917.4,709.9 923.3,711.2 929.2,712.3 935,713.3 940.9,714.3 946.8,715.2 952.6,716 958.5,716.7 964.3,717.4 970.1,718 976,718.6 981.8,719.2 987.6,719.7 993.4,720.3 999.2,720.8 1005,721.3 1010.8,721.8 1016.6,722.3 1022.4,722.7 1028.3,723.2 1034.1,723.6 1039.9,724 1045.7,724.4 1051.5,724.8 1057.4,725.1 1063.2,725.4 1069,725.7 1074.9,725.9 1080.6,726.1 1086.4,726.4 1092.2,726.6 1098,726.9 1103.7,727.3 1109.5,727.7 1115.2,728.2 1121,728.8 1126.7,729.5 1132.5,730.3 1138.2,731.1 1144,731.9 1149.8,732.9 1155.5,733.8 1161.3,734.8 1167.1,735.8 1172.9,736.8 1178.7,737.9 1184.5,738.9 1190.3,739.9 1196.1,740.9 1201.8,742 1207.5,743.2 1213.1,744.6 1218.6,746.5 1215,756.5 1210,754.8 1205,753.5 1199.8,752.4 1194.3,751.4 1188.5,750.4 1182.7,749.4 1176.9,748.3 1171.1,747.3 1165.3,746.3 1159.5,745.3 1153.8,744.3 1148,743.4 1142.4,742.4 1136.7,741.6 1131,740.8 1125.4,740.1 1119.8,739.4 1114.2,738.8 1108.6,738.3 1103,737.9 1097.4,737.5 1091.7,737.2 1086,737 1080.2,736.7 1074.5,736.5 1068.6,736.3 1062.7,736 1056.8,735.7 1050.9,735.4 1045,735 1039.2,734.6 1033.3,734.2 1027.4,733.8 1021.6,733.3 1015.8,732.9 1009.9,732.4 1004.1,731.9 998.3,731.4 992.4,730.8 986.6,730.3 980.8,729.8 974.9,729.2 969,728.6 963.1,728 957.2,727.3 951.2,726.5 945.3,725.7 939.2,724.8 933.3,723.8 927.2,722.8 921.2,721.6 915.1,720.3 909,718.9 902.9,717.3 897.2,715.7" fill="url(#g11)" filter="url(#b3)"/>
<line x1="786.4" y1="695.4" x2="1415.4" y2="695.4" stroke="#000" stroke-width="2" stroke-dasharray="12,7"/>
<line x1="786.4" y1="723.4" x2="1415.4" y2="723.4" stroke="#000" stroke-width="2" stroke-dasharray="12,7"/>
<line x1="786.4" y1="751.3" x2="1415.4" y2="751.3" stroke="#000" stroke-width="2" stroke-dasharray="12,7"/>
<line x1="786.4" y1="779.3" x2="1415.4" y2="779.3" stroke="#000" stroke-width="2" stroke-dasharray="12,7"/>
<polyline points="785.9,674.8 840.6,674.8 849.6,671.6 894.6,669.2 928.4,667.2 997,666.8 1041,665.4 1097,667 1157,667.4 1217,666.9 1277,667.5 1337,667.2 1415.4,667.5" fill="none" stroke="#000" stroke-width="1.7"/>
<polyline points="802.3,682 803.8,682.2 806.9,682.8 811.6,683.5 817.7,684.5 824.5,685.7 831.8,687 839.7,688.6 848.1,690.2 856.6,691.9 865,693.6 873.5,695.3 881.9,697 889.7,698.6 896.7,700.3 903,701.9 908.7,703.5 915,705.1 922,706.6 929.8,708.1 938.2,709.6 947.4,711.1 957.2,712.4 967.8,713.6 979.1,714.7 991.1,715.8 1003.7,717 1017.1,718.1 1031.2,719.2 1044.5,720.2 1057.2,720.9 1069.1,721.5 1080.2,721.9 1090,722.3 1098.4,722.7 1105.4,723.2 1111.1,723.6 1116.7,724.1 1122.3,724.7 1127.9,725.4 1133.6,726.2 1139.2,727 1144.8,727.8 1150.5,728.7 1156.1,729.7 1161.8,730.6 1167.4,731.6 1173,732.6 1178.7,733.6 1184.3,734.6 1189.9,735.6 1195.5,736.6 1201.2,737.5 1206.2,738.5 1210.7,739.6 1214.7,740.7 1218,741.8 1221.4,743 1224.8,744.3 1228.2,745.8 1231.5,747.2 1235.2,748.9 1239.2,750.7 1243.4,752.7 1247.9,754.9 1252.7,757.1 1257.8,759.5 1263.1,761.9 1268.8,764.4 1274.4,767.1 1280,769.9 1285.6,772.9 1291.3,776 1296.9,779 1302.5,782 1308.1,785 1313.8,787.9 1318.1,790.2 1321.2,791.9 1323.1,792.9 1323.6,793.4 1324.1,793.7 1324.4,793.9 1324.5,794" fill="none" stroke="#000" stroke-width="1.8"/>
</g>
<rect x="785.9" y="663" width="629.5" height="130.3" fill="none" stroke="#000" stroke-width="1.9"/>
<path d="M785.9 663V656M785.9 793.3V800.3M799.9 663V658.5M799.9 793.3V797.8M813.9 663V658.5M813.9 793.3V797.8M827.9 663V658.5M827.9 793.3V797.8M841.9 663V656M841.9 793.3V800.3M855.9 663V658.5M855.9 793.3V797.8M869.8 663V658.5M869.8 793.3V797.8M883.8 663V658.5M883.8 793.3V797.8M897.8 663V656M897.8 793.3V800.3M911.8 663V658.5M911.8 793.3V797.8M925.8 663V658.5M925.8 793.3V797.8M939.8 663V658.5M939.8 793.3V797.8M953.8 663V656M953.8 793.3V800.3M967.8 663V658.5M967.8 793.3V797.8M981.8 663V658.5M981.8 793.3V797.8M995.8 663V658.5M995.8 793.3V797.8M1009.7 663V656M1009.7 793.3V800.3M1023.7 663V658.5M1023.7 793.3V797.8M1037.7 663V658.5M1037.7 793.3V797.8M1051.7 663V658.5M1051.7 793.3V797.8M1065.7 663V656M1065.7 793.3V800.3M1079.7 663V658.5M1079.7 793.3V797.8M1093.7 663V658.5M1093.7 793.3V797.8M1107.7 663V658.5M1107.7 793.3V797.8M1121.7 663V656M1121.7 793.3V800.3M1135.7 663V658.5M1135.7 793.3V797.8M1149.6 663V658.5M1149.6 793.3V797.8M1163.6 663V658.5M1163.6 793.3V797.8M1177.6 663V656M1177.6 793.3V800.3M1191.6 663V658.5M1191.6 793.3V797.8M1205.6 663V658.5M1205.6 793.3V797.8M1219.6 663V658.5M1219.6 793.3V797.8M1233.6 663V656M1233.6 793.3V800.3M1247.6 663V658.5M1247.6 793.3V797.8M1261.6 663V658.5M1261.6 793.3V797.8M1275.5 663V658.5M1275.5 793.3V797.8M1289.5 663V656M1289.5 793.3V800.3M1303.5 663V658.5M1303.5 793.3V797.8M1317.5 663V658.5M1317.5 793.3V797.8M1331.5 663V658.5M1331.5 793.3V797.8M1345.5 663V656M1345.5 793.3V800.3M1359.5 663V658.5M1359.5 793.3V797.8M1373.5 663V658.5M1373.5 793.3V797.8M1387.5 663V658.5M1387.5 793.3V797.8M1401.5 663V656M1401.5 793.3V800.3M1415.4 663V658.5M1415.4 793.3V797.8M785.9 667.4H778.9M1415.4 667.4H1422.4M785.9 681.4H781.4M1415.4 681.4H1419.9M785.9 695.4H778.9M1415.4 695.4H1422.4M785.9 709.4H781.4M1415.4 709.4H1419.9M785.9 723.4H778.9M1415.4 723.4H1422.4M785.9 737.4H781.4M1415.4 737.4H1419.9M785.9 751.3H778.9M1415.4 751.3H1422.4M785.9 765.3H781.4M1415.4 765.3H1419.9M785.9 779.3H778.9M1415.4 779.3H1422.4M785.9 793.3H781.4M1415.4 793.3H1419.9" stroke="#000" stroke-width="1.9" fill="none"/>
<polygon points="809,663.5 822.6,663.5 815.8,673.6" fill="#000"/>
<polygon points="966.6,654.5 980.2,654.5 973.4,666.9" fill="#000"/>
<text x="785.9" y="823.5" font-size="24" text-anchor="middle">0</text>
<text x="841.9" y="823.5" font-size="24" text-anchor="middle">20</text>
<text x="897.8" y="823.5" font-size="24" text-anchor="middle">40</text>
<text x="953.8" y="823.5" font-size="24" text-anchor="middle">60</text>
<text x="1009.7" y="823.5" font-size="24" text-anchor="middle">80</text>
<text x="1065.7" y="823.5" font-size="24" text-anchor="middle">100</text>
<text x="1121.7" y="823.5" font-size="24" text-anchor="middle">120</text>
<text x="1177.6" y="823.5" font-size="24" text-anchor="middle">140</text>
<text x="1233.6" y="823.5" font-size="24" text-anchor="middle">160</text>
<text x="1289.5" y="823.5" font-size="24" text-anchor="middle">180</text>
<text x="1345.5" y="823.5" font-size="24" text-anchor="middle">200</text>
<text x="1401.5" y="823.5" font-size="24" text-anchor="middle">220</text>
<text x="773.3" y="675.9" font-size="24" text-anchor="end">0</text>
<text x="773.3" y="703.9" font-size="24" text-anchor="end">10</text>
<text x="773.3" y="731.9" font-size="24" text-anchor="end">20</text>
<text x="773.3" y="759.8" font-size="24" text-anchor="end">30</text>
<text x="773.3" y="787.8" font-size="24" text-anchor="end">40</text>
<text x="785.9" y="655.4" font-size="24" text-anchor="middle">D</text>
<text x="1415.4" y="655.4" font-size="24" text-anchor="middle">D&#8217;</text>
<g clip-path="url(#c17)">
<rect x="88.9" y="867" width="469.7" height="122.3" fill="#83fdbf"/>
<g clip-path="url(#c18)"><g filter="url(#b1)">
<polygon points="115.3,890.8 120.2,891.4 125.1,892 130.1,892.7 135,893.3 139.9,893.9 144.8,894.6 149.7,895.4 154.7,896.2 159.6,896.9 164.5,897.8 169.4,898.7 174.3,899.6 179.2,900.5 184.2,901.4 189.1,902.5 194,903.5 198.9,904.6 203.8,905.8 208.7,907.1 213.6,908.3 218.6,909.8 223.5,911.2 228.4,912.6 233.3,914 238.3,915.4 243.2,916.8 248.1,918.2 253,919.6 258,921 262.9,922.4 267.8,923.8 272.8,925 277.7,926.3 282.6,927.5 287.6,928.6 292.5,929.8 297.4,930.9 302.3,931.9 307.3,932.9 312.2,933.9 317.1,934.9 322.1,935.8 327,936.8 331.9,937.7 336.8,938.6 341.8,939.6 346.7,940.5 351.6,941.5 356.5,942.4 361.5,943.4 366.4,944.3 371.3,945.3 376.2,946.2 381.1,947.2 386.1,948.1 391,949.1 395.9,950.1 400.9,951 405.8,951.8 410.7,952.7 415.6,953.5 420.6,954.3 425.5,955.1 430.4,955.9 435.4,956.5 440.3,957.2 445.2,957.9 450.2,958.5 455.1,959.1 460,959.7 464.9,960.3 469.9,960.8 474.8,961.4 479.7,961.9 484.6,962.5 489.6,963 494.5,963.5 499.4,964 504.3,964.5 509.3,965 514.2,965.5 519.1,965.9 524,966.4 529,966.8 533.9,967.3 538.8,967.7 543.7,968.2 548.7,968.6 553.6,969.1 558.6,969.1 558.6,988.7 552.7,988.7 546.9,988.2 542,987.7 537,987.3 532.1,986.9 527.2,986.4 522.3,986 517.3,985.5 512.3,985 507.4,984.6 502.4,984.1 497.4,983.6 492.5,983.1 487.5,982.6 482.6,982 477.6,981.5 472.6,980.9 467.7,980.4 462.7,979.8 457.7,979.2 452.8,978.7 447.7,978.1 442.6,977.4 437.6,976.7 432.7,976 427.5,975.3 422.5,974.5 417.5,973.7 412.5,973 407.4,972.1 402.4,971.2 397.4,970.3 392.3,969.4 387.2,968.4 382.3,967.4 377.4,966.5 372.5,965.5 367.6,964.6 362.6,963.6 357.7,962.7 352.8,961.7 347.9,960.8 343,959.8 338.1,958.9 333.1,958 328.2,957 323.3,956.1 318.4,955.2 313.5,954.2 308.3,953.2 303.3,952.2 298.3,951.2 293.2,950.1 288.1,948.9 283.2,947.8 278,946.6 272.9,945.4 267.9,944.1 262.7,942.8 257.6,941.3 252.6,939.9 247.7,938.6 242.8,937.2 237.8,935.8 232.9,934.4 227.9,933 223,931.5 218,930.1 213.1,928.7 208.4,927.3 203.8,926.1 199.1,924.9 194.5,923.8 189.7,922.7 185,921.7 180.3,920.7 175.6,919.8 170.7,918.9 165.9,918 161.1,917.2 156.3,916.3 151.5,915.6 146.7,914.8 142,914.1 137.2,913.4 132.5,912.8 127.6,912.2 122.7,911.6 117.7,910.9 112.8,910.3" fill="#f3e27a"/>
<rect x="109" y="890.9" width="11" height="19.4" fill="#f3e27a"/>
</g></g>
<g clip-path="url(#c19)"><g filter="url(#b1)">
<polygon points="115.1,892 120.1,892.6 125,893.2 129.9,893.8 134.8,894.5 139.7,895.1 144.6,895.8 149.6,896.6 154.5,897.3 159.4,898.1 164.3,899 169.2,899.8 174.1,900.7 179,901.7 183.9,902.6 188.8,903.6 193.7,904.7 198.6,905.8 203.5,907 208.4,908.2 213.3,909.5 218.2,910.9 223.2,912.4 228.1,913.8 233,915.2 237.9,916.6 242.9,918 247.8,919.4 252.7,920.8 257.6,922.2 262.6,923.5 267.5,924.9 272.5,926.2 277.4,927.4 282.3,928.7 287.3,929.8 292.2,930.9 297.2,932 302.1,933.1 307,934.1 312,935.1 316.9,936.1 321.8,937 326.8,937.9 331.7,938.9 336.6,939.8 341.5,940.7 346.5,941.7 351.4,942.6 356.3,943.6 361.2,944.5 366.1,945.5 371.1,946.4 376,947.4 380.9,948.3 385.8,949.3 390.8,950.3 395.7,951.2 400.6,952.1 405.6,953 410.5,953.9 415.5,954.7 420.4,955.5 425.3,956.3 430.3,957 435.2,957.7 440.1,958.4 445.1,959.1 450,959.7 454.9,960.3 459.9,960.9 464.8,961.5 469.7,962 474.7,962.6 479.6,963.1 484.5,963.7 489.4,964.2 494.4,964.7 499.3,965.2 504.2,965.7 509.2,966.2 514.1,966.6 519,967.1 523.9,967.6 528.9,968 533.8,968.5 538.7,968.9 543.6,969.3 548.6,969.8 553.6,970.3 558.6,970.3 558.6,986.9 552.8,986.9 547.1,986.4 542.1,986 537.2,985.5 532.3,985.1 527.4,984.6 522.4,984.2 517.5,983.7 512.5,983.2 507.5,982.8 502.6,982.3 497.6,981.8 492.6,981.3 487.7,980.8 482.8,980.2 477.8,979.7 472.8,979.2 467.9,978.6 462.9,978.1 457.9,977.5 453,976.9 448,976.3 442.9,975.6 437.9,974.9 432.9,974.3 427.8,973.5 422.7,972.7 417.8,972 412.8,971.2 407.7,970.3 402.7,969.4 397.7,968.6 392.6,967.6 387.6,966.6 382.6,965.7 377.7,964.7 372.8,963.8 367.9,962.8 363,961.9 358.1,960.9 353.1,960 348.2,959 343.3,958.1 338.4,957.1 333.5,956.2 328.6,955.2 323.7,954.3 318.7,953.4 313.8,952.4 308.7,951.5 303.6,950.4 298.7,949.4 293.6,948.3 288.5,947.2 283.6,946.1 278.5,944.9 273.3,943.6 268.4,942.4 263.2,941 258.1,939.6 253.1,938.2 248.2,936.8 243.3,935.4 238.3,934 233.4,932.6 228.4,931.2 223.5,929.8 218.5,928.4 213.6,926.9 208.9,925.6 204.2,924.4 199.5,923.1 194.9,922.1 190.1,920.9 185.4,920 180.6,919 175.9,918 171.1,917.1 166.3,916.2 161.4,915.4 156.6,914.6 151.8,913.8 147,913 142.2,912.3 137.5,911.6 132.7,911 127.8,910.4 122.9,909.8 118,909.1 113,908.5" fill="#fb0400"/>
<rect x="111.4" y="892.2" width="10" height="16.3" fill="#fb0400"/>
</g></g>
<polyline points="88.9,880.4 166,880.4 180,879.2 200,876.5 240,872.8 300,872.2 400,872 505,872.3 515,869.8 523,868.6 532,870.6 558.6,871.3" fill="none" stroke="#000" stroke-width="1.7"/>
<polyline points="115.4,889.9 117.7,890.2 122.4,890.8 129.3,891.7 138.7,892.8 148.6,894.3 159.1,896 170.3,897.9 182.2,900.1 193.4,902.4 203.9,904.9 213.8,907.4 223.1,910.2 233.2,913.1 244.2,916.2 256,919.5 268.7,923.1 282.4,926.5 297.2,929.9 313.1,933.2 329.9,936.4 346.8,939.6 363.7,942.9 380.6,946.2 397.5,949.4 414.4,952.4 431.3,955.1 448.2,957.4 465,959.4 482,961.3 499,963.1 516,964.7 533,966.3 545.8,967.4 554.3,968.2 558.6,968.6" fill="none" stroke="#000" stroke-width="1.8"/>
</g>
<rect x="88.9" y="867" width="469.7" height="122.3" fill="none" stroke="#000" stroke-width="1.9"/>
<path d="M88.9 867V860M88.9 989.3V996.3M105.7 867V862.5M105.7 989.3V993.8M122.5 867V862.5M122.5 989.3V993.8M139.2 867V862.5M139.2 989.3V993.8M156 867V860M156 989.3V996.3M172.8 867V862.5M172.8 989.3V993.8M189.6 867V862.5M189.6 989.3V993.8M206.3 867V862.5M206.3 989.3V993.8M223.1 867V860M223.1 989.3V996.3M239.9 867V862.5M239.9 989.3V993.8M256.6 867V862.5M256.6 989.3V993.8M273.4 867V862.5M273.4 989.3V993.8M290.2 867V860M290.2 989.3V996.3M307 867V862.5M307 989.3V993.8M323.8 867V862.5M323.8 989.3V993.8M340.5 867V862.5M340.5 989.3V993.8M357.3 867V860M357.3 989.3V996.3M374.1 867V862.5M374.1 989.3V993.8M390.9 867V862.5M390.9 989.3V993.8M407.6 867V862.5M407.6 989.3V993.8M424.4 867V860M424.4 989.3V996.3M441.2 867V862.5M441.2 989.3V993.8M458 867V862.5M458 989.3V993.8M474.7 867V862.5M474.7 989.3V993.8M491.5 867V860M491.5 989.3V996.3M508.3 867V862.5M508.3 989.3V993.8M525 867V862.5M525 989.3V993.8M541.8 867V862.5M541.8 989.3V993.8M558.6 867V860M558.6 989.3V996.3M88.9 871.9H81.9M558.6 871.9H565.6M88.9 888.7H84.4M558.6 888.7H563.1M88.9 905.4H81.9M558.6 905.4H565.6M88.9 922.2H84.4M558.6 922.2H563.1M88.9 939H81.9M558.6 939H565.6M88.9 955.8H84.4M558.6 955.8H563.1M88.9 972.5H81.9M558.6 972.5H565.6M88.9 989.3H84.4M558.6 989.3H563.1" stroke="#000" stroke-width="1.9" fill="none"/>
<polygon points="132.2,866.9 145.8,866.9 139,879.7" fill="#000"/>
<polygon points="303.9,859.5 317.5,859.5 310.7,871" fill="#000"/>
<text x="88.9" y="1019.5" font-size="24" text-anchor="middle">0</text>
<text x="156" y="1019.5" font-size="24" text-anchor="middle">20</text>
<text x="223.1" y="1019.5" font-size="24" text-anchor="middle">40</text>
<text x="290.2" y="1019.5" font-size="24" text-anchor="middle">60</text>
<text x="357.3" y="1019.5" font-size="24" text-anchor="middle">80</text>
<text x="424.4" y="1019.5" font-size="24" text-anchor="middle">100</text>
<text x="491.5" y="1019.5" font-size="24" text-anchor="middle">120</text>
<text x="558.6" y="1019.5" font-size="24" text-anchor="middle">140</text>
<text x="76.3" y="880.4" font-size="24" text-anchor="end">0</text>
<text x="76.3" y="913.9" font-size="24" text-anchor="end">10</text>
<text x="76.3" y="947.5" font-size="24" text-anchor="end">20</text>
<text x="76.3" y="981" font-size="24" text-anchor="end">30</text>
<text x="88.9" y="853.8" font-size="24" text-anchor="middle">E</text>
<text x="558.6" y="853.8" font-size="24" text-anchor="middle">E&#8217;</text>
<text x="0" y="0" font-size="25.6" text-anchor="middle" transform="translate(36.3 928.2) rotate(-90)">Depth (km)</text>
<g clip-path="url(#c20)">
<rect x="785.9" y="867" width="469.7" height="122.3" fill="#7dffbb"/>
<g filter="url(#b6)">
<ellipse cx="1020.8" cy="885.3" rx="105.7" ry="16.1" fill="#beff91"/>
<ellipse cx="1188.5" cy="888.7" rx="72.1" ry="19.5" fill="#4dfcd0"/>
<ellipse cx="1087.8" cy="979.3" rx="172.8" ry="12.7" fill="#c8ff8a"/>
<ellipse cx="819.4" cy="922.7" rx="38.6" ry="16.3" fill="#ffcc5b"/>
<ellipse cx="822.8" cy="922.2" rx="21.8" ry="12.7" fill="#ffac4e"/>
<ellipse cx="868.1" cy="894.7" rx="16.8" ry="8.4" fill="#ffa54b"/>
<ellipse cx="869.8" cy="941.9" rx="21.8" ry="8.2" fill="#ffe666"/>
<ellipse cx="901.6" cy="953.3" rx="13.4" ry="8.6" fill="#f7fb72"/>
<ellipse cx="993.9" cy="890.2" rx="21.8" ry="8.2" fill="#f7fb72"/>
<ellipse cx="1007.3" cy="890.4" rx="11.7" ry="7.7" fill="#ffa54b"/>
<ellipse cx="1024.1" cy="912.2" rx="11.7" ry="7.7" fill="#ffa54b"/>
<ellipse cx="987.2" cy="979.1" rx="28.5" ry="11.6" fill="#f7fb72"/>
<ellipse cx="836.2" cy="967.7" rx="55.4" ry="23" fill="#11f0f3"/>
<ellipse cx="859.7" cy="955.8" rx="18.5" ry="9.4" fill="#00ccff"/>
<ellipse cx="797.6" cy="980.9" rx="16.8" ry="11.1" fill="#00ebff"/>
<ellipse cx="871.5" cy="927.3" rx="16.8" ry="7.7" fill="#32fadc"/>
<ellipse cx="965.4" cy="908.8" rx="26.8" ry="9.4" fill="#32fadc"/>
<ellipse cx="1067.7" cy="925.1" rx="38.6" ry="13.9" fill="#21f5e8"/>
<ellipse cx="1087.8" cy="922.4" rx="18.5" ry="11.9" fill="#e2fd7d"/>
<ellipse cx="1123.1" cy="943.5" rx="20.1" ry="7.2" fill="#e2fd7d"/>
<ellipse cx="1019.1" cy="985.1" rx="23.5" ry="6.9" fill="#e2fd7d"/>
<ellipse cx="1205.3" cy="984.3" rx="55.4" ry="7.7" fill="#cdff87"/>
<ellipse cx="1114.7" cy="887.8" rx="18.5" ry="10.2" fill="#21f5e8"/>
<ellipse cx="1155" cy="920.5" rx="31.9" ry="10.1" fill="#11f0f3"/>
<ellipse cx="1232.1" cy="918.7" rx="28.5" ry="8.2" fill="#00ebff"/>
<ellipse cx="1168.4" cy="950.7" rx="18.5" ry="9.1" fill="#21f5e8"/>
<ellipse cx="1155" cy="887" rx="38.6" ry="11.1" fill="#b4ff98"/>
</g>
<polygon points="852.3,891.9 857.3,892.7 862.2,893.6 867.2,894.5 872.1,895.4 877,896.3 882,897.3 887,898.3 891.9,899.3 896.9,900.5 901.8,901.7 906.8,902.9 901.7,922.4 897,921.2 892.3,920.1 887.6,919 882.8,918 878,917 873.3,916.1 868.4,915.2 863.6,914.3 858.8,913.4 853.9,912.6 849.1,911.8" fill="url(#g12)" filter="url(#b4)"/>
<polygon points="881.1,901.9 886,902.9 890.9,903.9 895.8,905.1 900.7,906.2 905.6,907.5 910.5,908.8 915.4,910.2 920.4,911.6 925.3,913 930.2,914.5 935.1,915.9 940.1,917.3 945,918.7 949.9,920 954.8,921.4 959.8,922.8 964.7,924.2 969.7,925.5 974.6,926.7 979.5,927.9 984.5,929.1 989.4,930.2 994.3,931.3 999.3,932.3 1004.2,933.4 1009.1,934.4 1014.1,935.3 1019,936.3 1023.9,937.2 1028.8,938.1 1033.7,939.1 1038.7,940 1043.6,940.9 1048.5,941.9 1053.4,942.8 1058.4,943.8 1063.3,944.7 1068.2,945.7 1073.1,946.6 1078.1,947.6 1083,948.6 1087.9,949.5 1092.8,950.5 1097.8,951.4 1102.7,952.3 1107.6,953.1 1112.6,954 1117.5,954.7 1122.4,955.5 1127.4,956.3 1132.3,957 1137.2,957.7 1142.2,958.3 1147.1,959 1152,959.6 1157,960.1 1161.9,960.7 1166.8,961.3 1171.7,961.8 1176.7,962.4 1181.6,962.9 1186.5,963.4 1191.4,963.9 1196.4,964.5 1201.3,964.9 1206.2,965.4 1211.2,965.9 1216.1,966.4 1221,966.8 1225.9,967.3 1230.9,967.7 1235.8,968.1 1240.7,968.6 1245.6,969 1250.6,969.5 1255.5,969.9 1253.6,990.7 1248.7,990.2 1243.7,989.8 1238.8,989.3 1233.9,988.9 1229,988.4 1224,988 1219.1,987.5 1214.2,987.1 1209.2,986.6 1204.2,986.1 1199.3,985.6 1194.3,985.1 1189.3,984.6 1184.4,984.1 1179.4,983.6 1174.4,983.1 1169.4,982.5 1164.5,982 1159.5,981.4 1154.5,980.8 1149.6,980.2 1144.5,979.6 1139.4,979 1134.4,978.3 1129.4,977.6 1124.3,976.9 1119.2,976.1 1114.3,975.3 1109.2,974.5 1104.1,973.6 1099.1,972.7 1094.1,971.9 1089,970.9 1083.9,969.9 1079,969 1074.1,968 1069.2,967.1 1064.3,966.1 1059.3,965.2 1054.4,964.2 1049.5,963.3 1044.6,962.3 1039.7,961.4 1034.8,960.4 1029.8,959.5 1024.9,958.6 1020,957.6 1015.1,956.7 1010.2,955.8 1005,954.8 1000,953.7 995,952.7 989.9,951.6 984.8,950.5 979.8,949.3 974.7,948.2 969.5,946.9 964.5,945.6 959.3,944.3 954.2,942.8 949.2,941.5 944.3,940.1 939.3,938.7 934.4,937.3 929.4,935.9 924.5,934.5 919.5,933 914.6,931.6 909.6,930.2 905,928.8 900.4,927.6 895.7,926.4 891.1,925.3 886.4,924.2 881.7,923.2 877,922.3" fill="url(#g13)" filter="url(#b4)"/>
<polygon points="890.2,907.2 895.1,908.3 899.9,909.5 904.8,910.7 909.6,912 914.5,913.4 919.4,914.8 924.4,916.3 929.3,917.7 934.2,919.1 939.2,920.5 944.1,921.9 949,923.3 953.9,924.7 958.9,926 963.8,927.4 968.8,928.7 973.8,930 978.7,931.2 983.7,932.3 988.6,933.5 993.6,934.6 998.6,935.6 1003.5,936.6 1008.5,937.7 1013.4,938.6 1018.4,939.6 1023.3,940.5 1028.2,941.4 1033.1,942.4 1038,943.3 1043,944.2 1047.9,945.2 1052.8,946.1 1057.7,947.1 1062.7,948 1067.6,949 1072.5,949.9 1077.4,950.9 1082.3,951.9 1087.3,952.8 1092.2,953.8 1097.2,954.7 1102.1,955.6 1107.1,956.4 1112,957.3 1117,958.1 1121.9,958.8 1126.9,959.6 1131.8,960.3 1136.8,961 1141.7,961.7 1146.7,962.3 1151.6,962.9 1156.6,963.5 1161.5,964.1 1166.4,964.6 1171.4,965.2 1176.3,965.7 1181.2,966.2 1186.2,966.8 1191.1,967.3 1196,967.8 1201,968.3 1199.6,982 1194.7,981.5 1189.7,981 1184.7,980.4 1179.8,979.9 1174.8,979.4 1169.8,978.8 1164.9,978.3 1159.9,977.7 1154.9,977.1 1150,976.6 1145,976 1139.9,975.3 1134.9,974.6 1129.9,973.9 1124.9,973.2 1119.8,972.4 1114.9,971.7 1109.8,970.9 1104.7,970 1099.7,969.1 1094.8,968.2 1089.7,967.3 1084.6,966.3 1079.7,965.4 1074.8,964.4 1069.9,963.4 1065,962.5 1060,961.5 1055.1,960.6 1050.2,959.6 1045.3,958.7 1040.4,957.7 1035.5,956.8 1030.5,955.9 1025.6,954.9 1020.7,954 1015.8,953.1 1010.8,952.1 1005.8,951.2 1000.7,950.1 995.8,949.1 990.7,948 985.6,946.9 980.6,945.7 975.5,944.6 970.4,943.3 965.4,942 960.3,940.7 955.2,939.3 950.2,937.9 945.3,936.5 940.3,935.1 935.4,933.7 930.5,932.3 925.5,930.9 920.6,929.5 915.6,928.1 910.7,926.6 906,925.3 901.3,924 896.6,922.8 891.9,921.7 887.2,920.6" fill="url(#g14)" filter="url(#b3)"/>
<line x1="786.4" y1="905.4" x2="1255.6" y2="905.4" stroke="#000" stroke-width="2" stroke-dasharray="12,7"/>
<line x1="786.4" y1="939" x2="1255.6" y2="939" stroke="#000" stroke-width="2" stroke-dasharray="12,7"/>
<line x1="786.4" y1="972.5" x2="1255.6" y2="972.5" stroke="#000" stroke-width="2" stroke-dasharray="12,7"/>
<polyline points="785.9,880.4 863,880.4 877,879.2 897,876.5 937,872.8 997,872.2 1097,872 1202,872.3 1212,869.8 1220,868.6 1229,870.6 1255.6,871.3" fill="none" stroke="#000" stroke-width="1.7"/>
<polyline points="812.4,889.9 814.7,890.2 819.4,890.8 826.4,891.7 835.6,892.8 845.6,894.3 856.1,896 867.3,897.9 879.2,900.1 890.3,902.4 900.9,904.9 910.8,907.4 920.1,910.2 930.2,913.1 941.2,916.2 953,919.5 965.7,923.1 979.4,926.5 994.2,929.9 1010,933.2 1027,936.4 1043.8,939.6 1060.7,942.9 1077.6,946.2 1094.5,949.4 1111.4,952.4 1128.3,955.1 1145.1,957.4 1162,959.4 1179,961.3 1196,963.1 1213,964.7 1230,966.3 1242.8,967.4 1251.3,968.2 1255.6,968.6" fill="none" stroke="#000" stroke-width="1.8"/>
</g>
<rect x="785.9" y="867" width="469.7" height="122.3" fill="none" stroke="#000" stroke-width="1.9"/>
<path d="M785.9 867V860M785.9 989.3V996.3M802.7 867V862.5M802.7 989.3V993.8M819.4 867V862.5M819.4 989.3V993.8M836.2 867V862.5M836.2 989.3V993.8M853 867V860M853 989.3V996.3M869.8 867V862.5M869.8 989.3V993.8M886.5 867V862.5M886.5 989.3V993.8M903.3 867V862.5M903.3 989.3V993.8M920.1 867V860M920.1 989.3V996.3M936.9 867V862.5M936.9 989.3V993.8M953.6 867V862.5M953.6 989.3V993.8M970.4 867V862.5M970.4 989.3V993.8M987.2 867V860M987.2 989.3V996.3M1004 867V862.5M1004 989.3V993.8M1020.8 867V862.5M1020.8 989.3V993.8M1037.5 867V862.5M1037.5 989.3V993.8M1054.3 867V860M1054.3 989.3V996.3M1071.1 867V862.5M1071.1 989.3V993.8M1087.8 867V862.5M1087.8 989.3V993.8M1104.6 867V862.5M1104.6 989.3V993.8M1121.4 867V860M1121.4 989.3V996.3M1138.2 867V862.5M1138.2 989.3V993.8M1155 867V862.5M1155 989.3V993.8M1171.7 867V862.5M1171.7 989.3V993.8M1188.5 867V860M1188.5 989.3V996.3M1205.3 867V862.5M1205.3 989.3V993.8M1222 867V862.5M1222 989.3V993.8M1238.8 867V862.5M1238.8 989.3V993.8M1255.6 867V860M1255.6 989.3V996.3M785.9 871.9H778.9M1255.6 871.9H1262.6M785.9 888.7H781.4M1255.6 888.7H1260.1M785.9 905.4H778.9M1255.6 905.4H1262.6M785.9 922.2H781.4M1255.6 922.2H1260.1M785.9 939H778.9M1255.6 939H1262.6M785.9 955.8H781.4M1255.6 955.8H1260.1M785.9 972.5H778.9M1255.6 972.5H1262.6M785.9 989.3H781.4M1255.6 989.3H1260.1" stroke="#000" stroke-width="1.9" fill="none"/>
<polygon points="829.2,866.9 842.8,866.9 836,879.7" fill="#000"/>
<polygon points="1000.9,859.5 1014.5,859.5 1007.7,871" fill="#000"/>
<text x="785.9" y="1019.5" font-size="24" text-anchor="middle">0</text>
<text x="853" y="1019.5" font-size="24" text-anchor="middle">20</text>
<text x="920.1" y="1019.5" font-size="24" text-anchor="middle">40</text>
<text x="987.2" y="1019.5" font-size="24" text-anchor="middle">60</text>
<text x="1054.3" y="1019.5" font-size="24" text-anchor="middle">80</text>
<text x="1121.4" y="1019.5" font-size="24" text-anchor="middle">100</text>
<text x="1188.5" y="1019.5" font-size="24" text-anchor="middle">120</text>
<text x="1255.6" y="1019.5" font-size="24" text-anchor="middle">140</text>
<text x="773.3" y="880.4" font-size="24" text-anchor="end">0</text>
<text x="773.3" y="913.9" font-size="24" text-anchor="end">10</text>
<text x="773.3" y="947.5" font-size="24" text-anchor="end">20</text>
<text x="773.3" y="981" font-size="24" text-anchor="end">30</text>
<text x="785.9" y="853.8" font-size="24" text-anchor="middle">E</text>
<text x="1255.6" y="853.8" font-size="24" text-anchor="middle">E&#8217;</text>
<text x="323.8" y="1055.7" font-size="25.6" text-anchor="middle">Distance (km)</text>
<text x="1020.8" y="1055.7" font-size="25.6" text-anchor="middle">Distance (km)</text>
<g clip-path="url(#c21)">
<rect x="88.9" y="1180.1" width="335.5" height="122.2" fill="#8afbb8"/>
<g clip-path="url(#c22)"><g filter="url(#b1)">
<polygon points="99.1,1247.7 102.7,1247.7 106.3,1247.6 109.9,1247.6 113.5,1247.6 117.2,1247.5 120.8,1247.5 124.4,1247.4 128,1247.3 131.6,1247.2 135.2,1247.1 138.9,1247 142.5,1246.8 146.1,1246.7 149.7,1246.6 153.3,1246.5 156.9,1246.5 160.5,1246.4 164.1,1246.3 167.7,1246.3 171.3,1246.2 174.9,1246.2 178.5,1246.2 182.1,1246.1 185.7,1246.1 189.4,1246 193,1246 196.6,1246 200.2,1245.9 203.8,1245.9 207.4,1245.9 211,1245.9 214.6,1245.8 218.2,1245.8 221.8,1245.7 225.5,1245.7 229.1,1245.7 232.7,1245.6 236.3,1245.6 239.9,1245.6 243.5,1245.5 247.1,1245.5 250.7,1245.4 254.4,1245.4 258,1245.2 261.6,1245.2 265.2,1245.2 268.8,1245.1 272.4,1245.1 276,1245.1 279.6,1245.1 283.2,1245 286.8,1245 290.4,1245 294,1245 297.7,1245 301.3,1244.9 304.9,1244.9 308.5,1244.9 312.1,1244.9 315.7,1244.9 319.3,1244.9 322.9,1244.9 326.5,1244.8 330.1,1244.8 333.8,1244.8 337.4,1244.8 341,1244.7 344.6,1244.7 348.2,1244.7 351.8,1244.6 355.4,1244.6 359,1244.5 362.7,1244.5 366.3,1244.3 369.9,1244.2 373.5,1244.1 377.1,1244.1 380.7,1244 384.3,1244 387.9,1244 391.5,1244 395.1,1244 398.7,1244 402.3,1244 405.9,1244 409.6,1244 413.2,1244 416.8,1244 420.4,1244 424,1244 424,1263.7 420.4,1263.7 416.8,1263.7 413.2,1263.7 409.6,1263.7 405.9,1263.7 402.3,1263.7 398.7,1263.7 395.1,1263.7 391.6,1263.7 388,1263.7 384.4,1263.7 380.8,1263.7 377.3,1263.8 373.8,1263.8 370.4,1263.9 367,1264 363.2,1264.1 359.4,1264.2 355.7,1264.3 352,1264.3 348.4,1264.3 344.8,1264.4 341.1,1264.4 337.5,1264.4 333.9,1264.5 330.3,1264.5 326.7,1264.5 323,1264.5 319.4,1264.5 315.8,1264.6 312.2,1264.6 308.6,1264.6 305,1264.6 301.3,1264.6 297.7,1264.6 294.1,1264.6 290.5,1264.7 286.9,1264.7 283.3,1264.7 279.7,1264.7 276.1,1264.8 272.5,1264.8 268.9,1264.8 265.4,1264.8 261.8,1264.9 258.4,1264.9 254.8,1265 251,1265.1 247.4,1265.1 243.8,1265.2 240.1,1265.2 236.5,1265.3 232.9,1265.3 229.3,1265.3 225.7,1265.4 222,1265.4 218.4,1265.5 214.8,1265.5 211.2,1265.5 207.6,1265.6 204,1265.6 200.4,1265.6 196.8,1265.7 193.1,1265.7 189.5,1265.7 186,1265.8 182.4,1265.8 178.8,1265.8 175.1,1265.9 171.5,1265.9 168,1266 164.4,1266 160.8,1266.1 157.2,1266.1 153.6,1266.2 150.1,1266.3 146.5,1266.4 143.2,1266.4 139.7,1266.6 136,1266.8 132.2,1266.9 128.5,1267 124.8,1267.1 121.1,1267.1 117.4,1267.2 113.7,1267.2 110.1,1267.3 106.5,1267.3 102.9,1267.3 99.3,1267.4" fill="#f8d978"/>
<rect x="98.2" y="1247.8" width="5.5" height="19.4" fill="#f8d978"/>
</g></g>
<g clip-path="url(#c23)"><g filter="url(#b1)">
<polygon points="99.1,1248.9 102.7,1248.9 106.3,1248.8 110,1248.8 113.6,1248.8 117.2,1248.7 120.8,1248.7 124.4,1248.6 128,1248.5 131.7,1248.4 135.3,1248.3 138.9,1248.2 142.5,1248 146.1,1247.9 149.7,1247.8 153.3,1247.7 156.9,1247.7 160.5,1247.6 164.1,1247.5 167.7,1247.5 171.3,1247.4 174.9,1247.4 178.5,1247.4 182.2,1247.3 185.8,1247.3 189.4,1247.2 193,1247.2 196.6,1247.2 200.2,1247.1 203.8,1247.1 207.4,1247.1 211,1247.1 214.6,1247 218.3,1247 221.9,1246.9 225.5,1246.9 229.1,1246.9 232.7,1246.8 236.3,1246.8 239.9,1246.8 243.5,1246.7 247.1,1246.7 250.8,1246.6 254.4,1246.6 258,1246.4 261.6,1246.4 265.2,1246.4 268.8,1246.3 272.4,1246.3 276,1246.3 279.6,1246.3 283.2,1246.2 286.8,1246.2 290.4,1246.2 294.1,1246.2 297.7,1246.2 301.3,1246.1 304.9,1246.1 308.5,1246.1 312.1,1246.1 315.7,1246.1 319.3,1246.1 322.9,1246.1 326.5,1246 330.2,1246 333.8,1246 337.4,1246 341,1245.9 344.6,1245.9 348.2,1245.9 351.8,1245.8 355.4,1245.8 359.1,1245.7 362.7,1245.7 366.3,1245.5 369.9,1245.4 373.5,1245.3 377.1,1245.3 380.7,1245.2 384.3,1245.2 387.9,1245.2 391.5,1245.2 395.1,1245.2 398.7,1245.2 402.3,1245.2 405.9,1245.2 409.6,1245.2 413.2,1245.2 416.8,1245.2 420.4,1245.2 424,1245.2 424,1261.9 420.4,1261.9 416.8,1261.9 413.2,1261.9 409.6,1261.9 405.9,1261.9 402.3,1261.9 398.7,1261.9 395.1,1261.9 391.5,1261.9 388,1261.9 384.4,1261.9 380.8,1261.9 377.3,1262 373.8,1262 370.4,1262.1 366.9,1262.2 363.2,1262.3 359.4,1262.4 355.7,1262.5 352,1262.5 348.4,1262.5 344.8,1262.6 341.1,1262.6 337.5,1262.6 333.9,1262.7 330.3,1262.7 326.6,1262.7 323,1262.7 319.4,1262.7 315.8,1262.8 312.2,1262.8 308.6,1262.8 304.9,1262.8 301.3,1262.8 297.7,1262.8 294.1,1262.8 290.5,1262.9 286.9,1262.9 283.3,1262.9 279.7,1262.9 276.1,1263 272.5,1263 268.9,1263 265.3,1263 261.8,1263.1 258.3,1263.1 254.8,1263.2 251,1263.3 247.4,1263.3 243.7,1263.4 240.1,1263.4 236.5,1263.5 232.9,1263.5 229.2,1263.5 225.6,1263.6 222,1263.6 218.4,1263.7 214.8,1263.7 211.2,1263.7 207.6,1263.8 204,1263.8 200.3,1263.8 196.7,1263.9 193.1,1263.9 189.5,1263.9 185.9,1264 182.3,1264 178.7,1264 175.1,1264.1 171.5,1264.1 167.9,1264.2 164.4,1264.2 160.8,1264.3 157.2,1264.3 153.6,1264.4 150.1,1264.5 146.5,1264.6 143.1,1264.6 139.7,1264.8 135.9,1265 132.2,1265.1 128.4,1265.2 124.7,1265.3 121.1,1265.3 117.4,1265.4 113.7,1265.4 110.1,1265.5 106.5,1265.5 102.9,1265.5 99.3,1265.6" fill="#f6602e"/>
<rect x="100.6" y="1249.1" width="4.5" height="16.3" fill="#f6602e"/>
</g></g>
<polygon points="88.9,1178.1 88.9,1187 99.6,1185.8 111.7,1185.1 118,1185.5 123.8,1186.8 130,1186.6 140.8,1185.3 177.3,1184.1 242.8,1184.1 247.7,1184.9 371.5,1184.9 376.3,1184.1 407.9,1184.1 412.7,1182.9 417.6,1184.1 424,1184.2 424.4,1178.1" fill="#bdbdc0"/>
<polyline points="88.9,1187 99.6,1185.8 111.7,1185.1 118,1185.5 123.8,1186.8 130,1186.6 140.8,1185.3 177.3,1184.1 242.8,1184.1 247.7,1184.9 371.5,1184.9 376.3,1184.1 407.9,1184.1 412.7,1182.9 417.6,1184.1 424,1184.2" fill="none" stroke="#000" stroke-width="1.7"/>
<polyline points="99.1,1246.8 101,1246.8 104.9,1246.7 110.7,1246.7 118.4,1246.6 125.5,1246.5 131.8,1246.3 137.5,1246.1 142.5,1245.9 152.5,1245.6 167.5,1245.4 187.5,1245.2 212.5,1244.9 232,1244.7 246,1244.6 254.5,1244.5 257.5,1244.4 265.9,1244.3 279.6,1244.2 298.8,1244 323.2,1244 342.4,1243.8 356.1,1243.7 364.5,1243.5 367.5,1243.4 373,1243.2 381,1243.1 391.5,1243.1 404.5,1243.1 414.2,1243.1 420.8,1243.1 424,1243.1" fill="none" stroke="#000" stroke-width="1.8"/>
</g>
<rect x="88.9" y="1180.1" width="335.5" height="122.2" fill="none" stroke="#000" stroke-width="1.9"/>
<path d="M88.9 1180.1V1173.1M88.9 1302.3V1309.3M105.7 1180.1V1175.6M105.7 1302.3V1306.8M122.5 1180.1V1175.6M122.5 1302.3V1306.8M139.2 1180.1V1175.6M139.2 1302.3V1306.8M156 1180.1V1173.1M156 1302.3V1309.3M172.8 1180.1V1175.6M172.8 1302.3V1306.8M189.6 1180.1V1175.6M189.6 1302.3V1306.8M206.3 1180.1V1175.6M206.3 1302.3V1306.8M223.1 1180.1V1173.1M223.1 1302.3V1309.3M239.9 1180.1V1175.6M239.9 1302.3V1306.8M256.6 1180.1V1175.6M256.6 1302.3V1306.8M273.4 1180.1V1175.6M273.4 1302.3V1306.8M290.2 1180.1V1173.1M290.2 1302.3V1309.3M307 1180.1V1175.6M307 1302.3V1306.8M323.8 1180.1V1175.6M323.8 1302.3V1306.8M340.5 1180.1V1175.6M340.5 1302.3V1306.8M357.3 1180.1V1173.1M357.3 1302.3V1309.3M374.1 1180.1V1175.6M374.1 1302.3V1306.8M390.9 1180.1V1175.6M390.9 1302.3V1306.8M407.6 1180.1V1175.6M407.6 1302.3V1306.8M424.4 1180.1V1173.1M424.4 1302.3V1309.3M88.9 1184.9H81.9M424.4 1184.9H431.4M88.9 1201.7H84.4M424.4 1201.7H428.9M88.9 1218.5H81.9M424.4 1218.5H431.4M88.9 1235.2H84.4M424.4 1235.2H428.9M88.9 1252H81.9M424.4 1252H431.4M88.9 1268.8H84.4M424.4 1268.8H428.9M88.9 1285.6H81.9M424.4 1285.6H431.4M88.9 1302.3H84.4M424.4 1302.3H428.9" stroke="#000" stroke-width="1.9" fill="none"/>
<text x="88.9" y="1332.5" font-size="24" text-anchor="middle">0</text>
<text x="156" y="1332.5" font-size="24" text-anchor="middle">20</text>
<text x="223.1" y="1332.5" font-size="24" text-anchor="middle">40</text>
<text x="290.2" y="1332.5" font-size="24" text-anchor="middle">60</text>
<text x="357.3" y="1332.5" font-size="24" text-anchor="middle">80</text>
<text x="424.4" y="1332.5" font-size="24" text-anchor="middle">100</text>
<text x="76.3" y="1193.4" font-size="24" text-anchor="end">0</text>
<text x="76.3" y="1227" font-size="24" text-anchor="end">10</text>
<text x="76.3" y="1260.5" font-size="24" text-anchor="end">20</text>
<text x="76.3" y="1294.1" font-size="24" text-anchor="end">30</text>
<text x="88.9" y="1169.7" font-size="24" text-anchor="middle">A</text>
<text x="424.4" y="1169.7" font-size="24" text-anchor="middle">A&#8217;</text>
<text x="0" y="0" font-size="25.6" text-anchor="middle" transform="translate(36.3 1241.2) rotate(-90)">Depth (km)</text>
<g clip-path="url(#c24)">
<rect x="785.9" y="1180.1" width="335.5" height="122.2" fill="#78ffba"/>
<g filter="url(#b6)">
<ellipse cx="1054.3" cy="1211.7" rx="72.1" ry="29.5" fill="#ceff88"/>
<ellipse cx="836.2" cy="1283.9" rx="55.4" ry="21.1" fill="#78ffba"/>
<ellipse cx="801.5" cy="1256.4" rx="20.6" ry="15.1" fill="#ffff6e"/>
<ellipse cx="866.3" cy="1204.5" rx="12.6" ry="5.2" fill="#ffaa4b"/>
<ellipse cx="904.5" cy="1294.3" rx="11.2" ry="6.4" fill="#ffaa4b"/>
<ellipse cx="958.5" cy="1288.1" rx="11.2" ry="5.2" fill="#ffaa4b"/>
<ellipse cx="926.8" cy="1285.6" rx="18.5" ry="12.7" fill="#ffff6e"/>
<ellipse cx="1061" cy="1219.1" rx="65.4" ry="22.1" fill="#deff7f"/>
<ellipse cx="1071.1" cy="1288.9" rx="55.4" ry="12.7" fill="#deff7f"/>
<ellipse cx="804.7" cy="1214.3" rx="19.8" ry="14.9" fill="#0dfff8"/>
<ellipse cx="841.6" cy="1206.9" rx="12.4" ry="5.2" fill="#40ffdb"/>
<ellipse cx="900.8" cy="1206.7" rx="14.9" ry="6" fill="#40ffdb"/>
<ellipse cx="933.5" cy="1232.7" rx="109" ry="8.9" fill="#33ffe2"/>
<ellipse cx="824.3" cy="1278.3" rx="14.9" ry="7.5" fill="#27ffea"/>
<ellipse cx="941.9" cy="1277.2" rx="16.8" ry="7.7" fill="#40ffdb"/>
<ellipse cx="963.7" cy="1257" rx="162.7" ry="19.5" fill="#ffea65"/>
</g>
<polygon points="799.7,1246.8 803.3,1246.7 806.9,1246.7 810.5,1246.7 814.1,1246.6 817.8,1246.6 821.4,1246.5 825,1246.4 828.6,1246.3 832.2,1246.2 835.8,1246.1 839.4,1245.9 843,1245.8 846.6,1245.7 850.2,1245.6 853.9,1245.6 857.5,1245.5 861.1,1245.4 864.7,1245.4 868.3,1245.3 871.9,1245.3 875.5,1245.3 879.1,1245.2 882.7,1245.2 886.4,1245.1 890,1245.1 893.6,1245.1 897.2,1245 900.8,1245 904.4,1245 908,1245 911.6,1244.9 915.2,1244.9 918.8,1244.8 922.5,1244.8 926.1,1244.8 929.7,1244.7 933.3,1244.7 936.9,1244.7 940.5,1244.6 944.1,1244.6 947.7,1244.5 951.3,1244.5 954.9,1244.3 958.5,1244.3 962.2,1244.3 965.8,1244.2 969.4,1244.2 973,1244.2 976.6,1244.2 980.2,1244.1 983.8,1244.1 987.4,1244.1 991,1244.1 994.7,1244.1 998.3,1244 1001.9,1244 1005.5,1244 1009.1,1244 1012.7,1244 1016.3,1244 1019.9,1244 1023.5,1243.9 1027.1,1243.9 1030.8,1243.9 1034.4,1243.9 1038,1243.8 1041.6,1243.8 1045.2,1243.8 1048.8,1243.7 1052.4,1243.7 1056,1243.6 1059.6,1243.6 1063.2,1243.4 1066.8,1243.3 1070.5,1243.2 1074.1,1243.2 1077.7,1243.1 1081.3,1243.1 1084.9,1243.1 1088.5,1243.1 1092.1,1243.1 1095.7,1243.1 1099.3,1243.1 1103,1243.1 1106.6,1243.1 1110.2,1243.1 1113.8,1243.1 1117.4,1243.1 1121,1243.1 1121,1266.6 1117.4,1266.6 1113.8,1266.6 1110.2,1266.6 1106.6,1266.6 1103,1266.6 1099.3,1266.6 1095.7,1266.6 1092.1,1266.6 1088.6,1266.6 1085,1266.6 1081.4,1266.6 1077.9,1266.6 1074.3,1266.7 1070.8,1266.7 1067.5,1266.8 1064.1,1266.9 1060.3,1267 1056.4,1267.1 1052.7,1267.2 1049,1267.2 1045.4,1267.3 1041.8,1267.3 1038.1,1267.3 1034.5,1267.3 1030.9,1267.4 1027.3,1267.4 1023.7,1267.4 1020,1267.4 1016.4,1267.5 1012.8,1267.5 1009.2,1267.5 1005.6,1267.5 1002,1267.5 998.4,1267.5 994.8,1267.5 991.2,1267.6 987.6,1267.6 983.9,1267.6 980.3,1267.6 976.7,1267.6 973.2,1267.7 969.6,1267.7 966,1267.7 962.4,1267.7 958.8,1267.8 955.4,1267.8 951.9,1267.9 948.1,1268 944.4,1268 940.8,1268.1 937.2,1268.1 933.6,1268.2 929.9,1268.2 926.3,1268.3 922.7,1268.3 919.1,1268.3 915.5,1268.4 911.8,1268.4 908.2,1268.4 904.6,1268.5 901,1268.5 897.4,1268.5 893.8,1268.6 890.2,1268.6 886.6,1268.6 883,1268.7 879.4,1268.7 875.8,1268.7 872.2,1268.8 868.6,1268.8 865,1268.9 861.4,1268.9 857.8,1269 854.2,1269 850.7,1269.1 847.2,1269.2 843.6,1269.3 840.3,1269.3 836.9,1269.5 833.1,1269.7 829.3,1269.8 825.5,1269.9 821.8,1270 818.1,1270.1 814.4,1270.1 810.8,1270.1 807.2,1270.2 803.5,1270.2 799.9,1270.2" fill="url(#g15)" filter="url(#b4)"/>
<polygon points="807,1249.4 810.6,1249.3 814.2,1249.3 817.8,1249.3 821.4,1249.2 825,1249.1 828.7,1249 832.3,1248.9 835.9,1248.7 839.5,1248.6 843.1,1248.5 846.7,1248.4 850.3,1248.3 853.9,1248.2 857.5,1248.2 861.1,1248.1 864.7,1248.1 868.3,1248 871.9,1248 875.6,1248 879.2,1247.9 882.8,1247.9 886.4,1247.8 890,1247.8 893.6,1247.8 897.2,1247.7 900.8,1247.7 904.4,1247.7 908,1247.6 911.6,1247.6 915.3,1247.6 918.9,1247.5 922.5,1247.5 926.1,1247.5 929.7,1247.4 933.3,1247.4 936.9,1247.3 940.5,1247.3 944.1,1247.2 947.8,1247.2 951.4,1247.1 955,1247 958.6,1247 962.2,1246.9 965.8,1246.9 969.4,1246.9 973,1246.9 976.6,1246.8 980.2,1246.8 983.8,1246.8 987.4,1246.8 991.1,1246.8 994.7,1246.7 998.3,1246.7 1001.9,1246.7 1005.5,1246.7 1009.1,1246.7 1012.7,1246.7 1016.3,1246.7 1019.9,1246.6 1023.5,1246.6 1027.2,1246.6 1030.8,1246.6 1034.4,1246.5 1038,1246.5 1041.6,1246.5 1045.2,1246.5 1048.8,1246.4 1052.4,1246.4 1056.1,1246.3 1059.7,1246.3 1063.3,1246.1 1066.9,1246 1070.5,1245.9 1074.1,1245.9 1077.7,1245.8 1081.3,1245.8 1084.9,1245.8 1088.5,1245.8 1092.1,1245.8 1095.7,1245.8 1099.3,1245.8 1103,1245.8 1106.6,1245.8 1110.2,1245.8 1113.8,1245.8 1117.4,1245.8 1121,1245.8 1121,1263.2 1117.4,1263.2 1113.8,1263.2 1110.2,1263.2 1106.6,1263.2 1103,1263.2 1099.3,1263.2 1095.7,1263.2 1092.1,1263.2 1088.6,1263.2 1085,1263.2 1081.4,1263.3 1077.8,1263.3 1074.3,1263.3 1070.8,1263.4 1067.4,1263.4 1064,1263.6 1060.2,1263.7 1056.4,1263.8 1052.7,1263.8 1049,1263.9 1045.4,1263.9 1041.8,1263.9 1038.1,1264 1034.5,1264 1030.9,1264 1027.3,1264 1023.7,1264.1 1020,1264.1 1016.4,1264.1 1012.8,1264.1 1009.2,1264.1 1005.6,1264.1 1002,1264.2 998.3,1264.2 994.7,1264.2 991.1,1264.2 987.5,1264.2 983.9,1264.2 980.3,1264.3 976.7,1264.3 973.1,1264.3 969.5,1264.3 965.9,1264.4 962.4,1264.4 958.8,1264.4 955.4,1264.5 951.8,1264.6 948,1264.6 944.4,1264.7 940.7,1264.7 937.1,1264.8 933.5,1264.8 929.9,1264.9 926.3,1264.9 922.6,1264.9 919,1265 915.4,1265 911.8,1265 908.2,1265.1 904.6,1265.1 901,1265.1 897.4,1265.2 893.8,1265.2 890.1,1265.2 886.5,1265.3 883,1265.3 879.4,1265.4 875.8,1265.4 872.1,1265.4 868.5,1265.5 865,1265.5 861.4,1265.6 857.8,1265.6 854.2,1265.7 850.6,1265.7 847.1,1265.8 843.5,1265.9 840.2,1266 836.7,1266.2 833,1266.3 829.2,1266.5 825.5,1266.6 821.8,1266.6 818.1,1266.7 814.4,1266.8 810.7,1266.8 807.1,1266.8" fill="url(#g16)" filter="url(#b3)"/>
<polygon points="785.9,1178.1 785.9,1187 796.6,1185.8 808.7,1185.1 815,1185.5 820.8,1186.8 827,1186.6 837.8,1185.3 874.3,1184.1 939.8,1184.1 944.7,1184.9 1068.5,1184.9 1073.3,1184.1 1104.9,1184.1 1109.7,1182.9 1114.6,1184.1 1121,1184.2 1121.4,1178.1" fill="#bdbdc0"/>
<rect x="785.9" y="1180.1" width="97.3" height="12.2" fill="#bdbdc0"/>
<rect x="942.6" y="1180.1" width="9.7" height="12.2" fill="#bdbdc0"/>
<rect x="1040.9" y="1180.1" width="43.6" height="12.2" fill="#bdbdc0"/>
<polyline points="785.9,1187 796.6,1185.8 808.7,1185.1 815,1185.5 820.8,1186.8 827,1186.6 837.8,1185.3 874.3,1184.1 939.8,1184.1 944.7,1184.9 1068.5,1184.9 1073.3,1184.1 1104.9,1184.1 1109.7,1182.9 1114.6,1184.1 1121,1184.2" fill="none" stroke="#000" stroke-width="1.7"/>
<polyline points="796.1,1246.8 798,1246.8 801.9,1246.7 807.7,1246.7 815.4,1246.6 822.5,1246.5 828.8,1246.3 834.5,1246.1 839.5,1245.9 849.5,1245.6 864.5,1245.4 884.5,1245.2 909.5,1244.9 929,1244.7 943,1244.6 951.5,1244.5 954.5,1244.4 962.9,1244.3 976.6,1244.2 995.8,1244 1020.2,1244 1039.4,1243.8 1053.1,1243.7 1061.5,1243.5 1064.5,1243.4 1070,1243.2 1078,1243.1 1088.5,1243.1 1101.5,1243.1 1111.2,1243.1 1117.8,1243.1 1121,1243.1" fill="none" stroke="#000" stroke-width="1.8"/>
</g>
<rect x="785.9" y="1180.1" width="335.5" height="122.2" fill="none" stroke="#000" stroke-width="1.9"/>
<path d="M785.9 1180.1V1173.1M785.9 1302.3V1309.3M802.7 1180.1V1175.6M802.7 1302.3V1306.8M819.4 1180.1V1175.6M819.4 1302.3V1306.8M836.2 1180.1V1175.6M836.2 1302.3V1306.8M853 1180.1V1173.1M853 1302.3V1309.3M869.8 1180.1V1175.6M869.8 1302.3V1306.8M886.5 1180.1V1175.6M886.5 1302.3V1306.8M903.3 1180.1V1175.6M903.3 1302.3V1306.8M920.1 1180.1V1173.1M920.1 1302.3V1309.3M936.9 1180.1V1175.6M936.9 1302.3V1306.8M953.6 1180.1V1175.6M953.6 1302.3V1306.8M970.4 1180.1V1175.6M970.4 1302.3V1306.8M987.2 1180.1V1173.1M987.2 1302.3V1309.3M1004 1180.1V1175.6M1004 1302.3V1306.8M1020.8 1180.1V1175.6M1020.8 1302.3V1306.8M1037.5 1180.1V1175.6M1037.5 1302.3V1306.8M1054.3 1180.1V1173.1M1054.3 1302.3V1309.3M1071.1 1180.1V1175.6M1071.1 1302.3V1306.8M1087.8 1180.1V1175.6M1087.8 1302.3V1306.8M1104.6 1180.1V1175.6M1104.6 1302.3V1306.8M1121.4 1180.1V1173.1M1121.4 1302.3V1309.3M785.9 1184.9H778.9M1121.4 1184.9H1128.4M785.9 1201.7H781.4M1121.4 1201.7H1125.9M785.9 1218.5H778.9M1121.4 1218.5H1128.4M785.9 1235.2H781.4M1121.4 1235.2H1125.9M785.9 1252H778.9M1121.4 1252H1128.4M785.9 1268.8H781.4M1121.4 1268.8H1125.9M785.9 1285.6H778.9M1121.4 1285.6H1128.4M785.9 1302.3H781.4M1121.4 1302.3H1125.9" stroke="#000" stroke-width="1.9" fill="none"/>
<text x="785.9" y="1332.5" font-size="24" text-anchor="middle">0</text>
<text x="853" y="1332.5" font-size="24" text-anchor="middle">20</text>
<text x="920.1" y="1332.5" font-size="24" text-anchor="middle">40</text>
<text x="987.2" y="1332.5" font-size="24" text-anchor="middle">60</text>
<text x="1054.3" y="1332.5" font-size="24" text-anchor="middle">80</text>
<text x="1121.4" y="1332.5" font-size="24" text-anchor="middle">100</text>
<text x="773.3" y="1193.4" font-size="24" text-anchor="end">0</text>
<text x="773.3" y="1227" font-size="24" text-anchor="end">10</text>
<text x="773.3" y="1260.5" font-size="24" text-anchor="end">20</text>
<text x="773.3" y="1294.1" font-size="24" text-anchor="end">30</text>
<text x="785.9" y="1169.7" font-size="24" text-anchor="middle">A</text>
<text x="1121.4" y="1169.7" font-size="24" text-anchor="middle">A&#8217;</text>
<g clip-path="url(#c25)">
<rect x="88.9" y="1368.9" width="629.5" height="129.9" fill="#8afbb8"/>
<g clip-path="url(#c26)"><g filter="url(#b1)">
<polygon points="93.9,1388.4 99.9,1389.4 105.9,1390.4 111.9,1391.4 118,1392.5 124,1393.5 130,1394.6 136,1395.6 142.1,1396.7 148.1,1397.7 154.1,1398.7 160.2,1399.7 166.2,1400.6 172.2,1401.7 178.2,1403.1 184.2,1404.7 190.2,1406.4 196.2,1408.2 202.2,1410.1 208.3,1411.9 214.3,1413.6 220.4,1415.2 226.4,1416.6 232.5,1417.9 238.5,1419 244.6,1420 250.6,1420.9 256.6,1421.8 262.7,1422.6 268.7,1423.3 274.7,1424.1 280.8,1424.8 286.8,1425.4 292.8,1426.1 298.9,1426.7 304.9,1427.2 310.9,1427.7 317,1428.2 323,1428.7 329,1429.2 335,1429.6 341.1,1430.1 347.1,1430.5 353.1,1430.9 359.2,1431.3 365.2,1431.8 371.2,1432.2 377.2,1432.6 383.3,1433 389.3,1433.4 395.3,1433.7 401.4,1434.1 407.4,1434.4 413.4,1434.6 419.5,1434.9 425.5,1435.2 431.5,1435.4 437.5,1435.7 443.5,1436.1 449.6,1436.6 455.6,1437.2 461.6,1437.8 467.6,1438.5 473.6,1439.3 479.6,1440.2 485.6,1441.2 491.6,1442.4 497.7,1443.8 503.7,1445.3 509.7,1447 515.7,1448.9 521.7,1450.8 527.7,1453 533.7,1455.1 539.8,1457.2 545.8,1459.3 551.8,1461.4 557.8,1463.6 563.8,1466 569.9,1468.3 575.9,1470.9 581.9,1473.6 587.9,1476.5 593.9,1479.6 599.9,1482.7 606,1485.8 612,1488.9 618,1491.9 624.1,1494.8 630.1,1497.5 636.1,1500.5 628.6,1515.7 622.9,1512.8 616.9,1510.1 610.6,1507 604.4,1504 598.3,1500.9 592.2,1497.8 586.1,1494.6 580.3,1491.6 574.7,1488.9 569.1,1486.3 563.5,1484 557.7,1481.7 551.9,1479.5 546.1,1477.3 540.2,1475.2 534.2,1473.1 528.1,1471 522.1,1468.9 516.2,1466.8 510.5,1464.9 504.9,1463.2 499.3,1461.6 493.7,1460.2 488.1,1459 482.6,1457.9 477,1456.9 471.3,1456.1 465.5,1455.3 459.7,1454.6 453.9,1454 448.1,1453.4 442.3,1453 436.5,1452.6 430.7,1452.3 424.7,1452 418.7,1451.8 412.7,1451.5 406.6,1451.3 400.4,1450.9 394.3,1450.6 388.3,1450.2 382.2,1449.8 376.1,1449.4 370.1,1449 364,1448.6 358,1448.2 351.9,1447.8 345.9,1447.3 339.9,1446.9 333.8,1446.5 327.8,1446 321.7,1445.6 315.6,1445.1 309.5,1444.6 303.4,1444 297.3,1443.5 291.1,1442.9 285,1442.2 278.9,1441.6 272.7,1440.8 266.6,1440.1 260.5,1439.3 254.3,1438.5 248.1,1437.6 241.9,1436.7 235.6,1435.6 229.2,1434.5 222.8,1433.1 216.3,1431.6 209.8,1429.9 203.5,1428.1 197.4,1426.2 191.4,1424.4 185.4,1422.6 179.6,1420.9 174.1,1419.5 168.7,1418.2 163.3,1417.2 157.6,1416.3 151.4,1415.4 145.3,1414.3 139.2,1413.3 133.2,1412.3 127.1,1411.2 121.1,1410.2 115.1,1409.1 109.1,1408.1 103.1,1407.1 97.1,1406.1 91.1,1405" fill="#f8d978"/>
<rect x="92.4" y="1388.5" width="6.2" height="16.6" fill="#f8d978"/>
</g></g>
<g clip-path="url(#c27)"><g filter="url(#b1)">
<polygon points="93.7,1389.6 99.7,1390.6 105.7,1391.6 111.7,1392.6 117.8,1393.7 123.8,1394.7 129.8,1395.7 135.8,1396.8 141.9,1397.8 147.9,1398.9 153.9,1399.9 160,1400.8 166,1401.8 171.9,1402.9 177.9,1404.2 183.8,1405.8 189.8,1407.6 195.9,1409.4 201.9,1411.2 207.9,1413 214,1414.8 220.1,1416.4 226.2,1417.8 232.2,1419.1 238.3,1420.2 244.4,1421.2 250.4,1422.1 256.5,1423 262.5,1423.8 268.5,1424.5 274.6,1425.3 280.6,1426 286.7,1426.6 292.7,1427.3 298.7,1427.8 304.8,1428.4 310.8,1428.9 316.9,1429.4 322.9,1429.9 328.9,1430.4 335,1430.8 341,1431.3 347,1431.7 353,1432.1 359.1,1432.5 365.1,1433 371.1,1433.4 377.2,1433.8 383.2,1434.2 389.2,1434.6 395.3,1434.9 401.3,1435.3 407.3,1435.6 413.4,1435.8 419.4,1436.1 425.4,1436.4 431.5,1436.6 437.5,1436.9 443.5,1437.3 449.5,1437.8 455.5,1438.4 461.5,1439 467.5,1439.7 473.5,1440.5 479.5,1441.4 485.4,1442.4 491.4,1443.6 497.4,1445 503.3,1446.5 509.3,1448.2 515.3,1450 521.3,1452 527.3,1454.1 533.3,1456.2 539.4,1458.3 545.4,1460.4 551.4,1462.6 557.4,1464.8 563.4,1467.1 569.4,1469.4 575.4,1472 581.4,1474.7 587.3,1477.6 593.3,1480.7 599.4,1483.8 605.4,1486.9 611.4,1489.9 617.5,1493 623.6,1495.9 629.6,1498.6 635.6,1501.6 629.4,1514 623.6,1511.2 617.7,1508.5 611.3,1505.4 605.2,1502.4 599.1,1499.3 593,1496.2 587,1493 581.1,1490 575.4,1487.3 569.8,1484.7 564.1,1482.3 558.4,1480 552.5,1477.8 546.7,1475.6 540.8,1473.5 534.8,1471.4 528.7,1469.3 522.7,1467.2 516.8,1465.1 511.1,1463.2 505.4,1461.5 499.8,1459.9 494.1,1458.5 488.5,1457.2 482.9,1456.1 477.3,1455.1 471.5,1454.3 465.7,1453.5 459.9,1452.8 454.1,1452.2 448.3,1451.7 442.5,1451.2 436.7,1450.8 430.8,1450.5 424.8,1450.2 418.8,1450 412.8,1449.7 406.7,1449.5 400.5,1449.1 394.4,1448.8 388.4,1448.4 382.3,1448 376.2,1447.6 370.2,1447.2 364.2,1446.8 358.1,1446.4 352.1,1446 346,1445.5 340,1445.1 333.9,1444.7 327.9,1444.2 321.8,1443.8 315.7,1443.3 309.6,1442.8 303.5,1442.2 297.4,1441.7 291.3,1441.1 285.2,1440.4 279.1,1439.8 272.9,1439.1 266.8,1438.3 260.7,1437.5 254.6,1436.7 248.4,1435.8 242.2,1434.9 235.9,1433.9 229.6,1432.7 223.2,1431.4 216.7,1429.9 210.3,1428.2 204,1426.3 197.9,1424.5 191.9,1422.7 185.9,1420.9 180.1,1419.2 174.6,1417.7 169.1,1416.5 163.7,1415.4 157.8,1414.6 151.7,1413.6 145.6,1412.6 139.5,1411.5 133.5,1410.5 127.4,1409.4 121.4,1408.4 115.4,1407.3 109.4,1406.3 103.4,1405.3 97.4,1404.3 91.4,1403.3" fill="#f6602e"/>
<rect x="94.8" y="1389.8" width="5.2" height="13.5" fill="#f6602e"/>
</g></g>
<polygon points="88.9,1366.9 88.9,1380.2 155,1380.2 165,1378.8 175,1376 186,1374 220,1372.8 260,1372.4 330,1372.5 380,1372 420,1372.7 470,1372.3 520,1372.8 560,1372.5 610,1373.1 650,1372.4 700,1373 718.4,1373.4 718.4,1366.9" fill="#bdbdc0"/>
<polyline points="88.9,1380.2 155,1380.2 165,1378.8 175,1376 186,1374 220,1372.8 260,1372.4 330,1372.5 380,1372 420,1372.7 470,1372.3 520,1372.8 560,1372.5 610,1373.1 650,1372.4 700,1373 718.4,1373.4" fill="none" stroke="#000" stroke-width="1.7"/>
<polyline points="94,1387.5 95.3,1387.7 97.8,1388.1 101.6,1388.8 106.7,1389.6 112.9,1390.7 120.2,1391.9 128.7,1393.4 138.2,1395.1 146.8,1396.6 154.4,1397.8 161,1398.9 166.6,1399.7 172.2,1400.8 177.8,1402 183.5,1403.5 189.1,1405.2 194.8,1406.9 200.4,1408.6 206,1410.3 211.6,1411.9 217.2,1413.5 222.9,1414.9 228.5,1416.2 234.2,1417.3 240.5,1418.4 247.6,1419.6 255.3,1420.7 263.8,1421.8 272.2,1422.9 280.6,1423.9 289.1,1424.8 297.5,1425.6 306.7,1426.5 316.5,1427.3 327.1,1428.1 338.4,1429 349.6,1429.8 360.9,1430.6 372.1,1431.3 383.2,1432.1 393,1432.7 401.4,1433.2 408.4,1433.5 414.1,1433.8 419.7,1434 425.3,1434.2 430.9,1434.5 436.6,1434.8 442.2,1435.1 447.8,1435.6 453.5,1436.1 459.1,1436.6 464.8,1437.3 470.4,1438 476,1438.8 481.7,1439.6 487.3,1440.6 492.9,1441.8 498.5,1443.1 504.2,1444.5 509.8,1446.1 515.4,1447.8 521,1449.7 526.7,1451.6 532.3,1453.6 537.9,1455.6 543.6,1457.6 549.2,1459.5 554.9,1461.6 560.5,1463.7 566.1,1465.9 571.8,1468.1 577.4,1470.5 583,1473.1 588.6,1475.9 594.3,1478.8 599.9,1481.7 605.5,1484.6 611.1,1487.4 616.8,1490.3 621.5,1492.6 625.5,1494.5 628.6,1495.9 630.8,1496.9 632.7,1497.7 634.1,1498.3 635.1,1498.8 635.6,1499.2 636.1,1499.4 636.4,1499.6 636.5,1499.7" fill="none" stroke="#000" stroke-width="1.8"/>
</g>
<rect x="88.9" y="1368.9" width="629.5" height="129.9" fill="none" stroke="#000" stroke-width="1.9"/>
<path d="M88.9 1368.9V1361.9M88.9 1498.8V1505.8M102.9 1368.9V1364.4M102.9 1498.8V1503.3M116.9 1368.9V1364.4M116.9 1498.8V1503.3M130.9 1368.9V1364.4M130.9 1498.8V1503.3M144.9 1368.9V1361.9M144.9 1498.8V1505.8M158.9 1368.9V1364.4M158.9 1498.8V1503.3M172.8 1368.9V1364.4M172.8 1498.8V1503.3M186.8 1368.9V1364.4M186.8 1498.8V1503.3M200.8 1368.9V1361.9M200.8 1498.8V1505.8M214.8 1368.9V1364.4M214.8 1498.8V1503.3M228.8 1368.9V1364.4M228.8 1498.8V1503.3M242.8 1368.9V1364.4M242.8 1498.8V1503.3M256.8 1368.9V1361.9M256.8 1498.8V1505.8M270.8 1368.9V1364.4M270.8 1498.8V1503.3M284.8 1368.9V1364.4M284.8 1498.8V1503.3M298.8 1368.9V1364.4M298.8 1498.8V1503.3M312.7 1368.9V1361.9M312.7 1498.8V1505.8M326.7 1368.9V1364.4M326.7 1498.8V1503.3M340.7 1368.9V1364.4M340.7 1498.8V1503.3M354.7 1368.9V1364.4M354.7 1498.8V1503.3M368.7 1368.9V1361.9M368.7 1498.8V1505.8M382.7 1368.9V1364.4M382.7 1498.8V1503.3M396.7 1368.9V1364.4M396.7 1498.8V1503.3M410.7 1368.9V1364.4M410.7 1498.8V1503.3M424.7 1368.9V1361.9M424.7 1498.8V1505.8M438.6 1368.9V1364.4M438.6 1498.8V1503.3M452.6 1368.9V1364.4M452.6 1498.8V1503.3M466.6 1368.9V1364.4M466.6 1498.8V1503.3M480.6 1368.9V1361.9M480.6 1498.8V1505.8M494.6 1368.9V1364.4M494.6 1498.8V1503.3M508.6 1368.9V1364.4M508.6 1498.8V1503.3M522.6 1368.9V1364.4M522.6 1498.8V1503.3M536.6 1368.9V1361.9M536.6 1498.8V1505.8M550.6 1368.9V1364.4M550.6 1498.8V1503.3M564.6 1368.9V1364.4M564.6 1498.8V1503.3M578.6 1368.9V1364.4M578.6 1498.8V1503.3M592.5 1368.9V1361.9M592.5 1498.8V1505.8M606.5 1368.9V1364.4M606.5 1498.8V1503.3M620.5 1368.9V1364.4M620.5 1498.8V1503.3M634.5 1368.9V1364.4M634.5 1498.8V1503.3M648.5 1368.9V1361.9M648.5 1498.8V1505.8M662.5 1368.9V1364.4M662.5 1498.8V1503.3M676.5 1368.9V1364.4M676.5 1498.8V1503.3M690.5 1368.9V1364.4M690.5 1498.8V1503.3M704.5 1368.9V1361.9M704.5 1498.8V1505.8M718.4 1368.9V1364.4M718.4 1498.8V1503.3M88.9 1372.9H81.9M718.4 1372.9H725.4M88.9 1386.9H84.4M718.4 1386.9H722.9M88.9 1400.9H81.9M718.4 1400.9H725.4M88.9 1414.9H84.4M718.4 1414.9H722.9M88.9 1428.9H81.9M718.4 1428.9H725.4M88.9 1442.9H84.4M718.4 1442.9H722.9M88.9 1456.8H81.9M718.4 1456.8H725.4M88.9 1470.8H84.4M718.4 1470.8H722.9M88.9 1484.8H81.9M718.4 1484.8H725.4M88.9 1498.8H84.4M718.4 1498.8H722.9" stroke="#000" stroke-width="1.9" fill="none"/>
<polygon points="132.2,1367.2 145.8,1367.2 139,1379.6" fill="#000"/>
<polygon points="247.1,1360.5 260.7,1360.5 253.9,1371.7" fill="#000"/>
<text x="88.9" y="1529" font-size="24" text-anchor="middle">0</text>
<text x="144.9" y="1529" font-size="24" text-anchor="middle">20</text>
<text x="200.8" y="1529" font-size="24" text-anchor="middle">40</text>
<text x="256.8" y="1529" font-size="24" text-anchor="middle">60</text>
<text x="312.7" y="1529" font-size="24" text-anchor="middle">80</text>
<text x="368.7" y="1529" font-size="24" text-anchor="middle">100</text>
<text x="424.7" y="1529" font-size="24" text-anchor="middle">120</text>
<text x="480.6" y="1529" font-size="24" text-anchor="middle">140</text>
<text x="536.6" y="1529" font-size="24" text-anchor="middle">160</text>
<text x="592.5" y="1529" font-size="24" text-anchor="middle">180</text>
<text x="648.5" y="1529" font-size="24" text-anchor="middle">200</text>
<text x="704.5" y="1529" font-size="24" text-anchor="middle">220</text>
<text x="76.3" y="1381.4" font-size="24" text-anchor="end">0</text>
<text x="76.3" y="1409.4" font-size="24" text-anchor="end">10</text>
<text x="76.3" y="1437.4" font-size="24" text-anchor="end">20</text>
<text x="76.3" y="1465.3" font-size="24" text-anchor="end">30</text>
<text x="76.3" y="1493.3" font-size="24" text-anchor="end">40</text>
<text x="88.9" y="1360.9" font-size="24" text-anchor="middle">B</text>
<text x="718.4" y="1360.9" font-size="24" text-anchor="middle">B&#8217;</text>
<text x="0" y="0" font-size="25.6" text-anchor="middle" transform="translate(36.3 1433.9) rotate(-90)">Depth (km)</text>
<g clip-path="url(#c28)">
<rect x="785.9" y="1368.9" width="629.5" height="129.9" fill="#78ffba"/>
<g filter="url(#b6)">
<ellipse cx="1310.5" cy="1463.8" rx="109.1" ry="37.2" fill="#a8ff9c"/>
<ellipse cx="1240.6" cy="1386.9" rx="179.1" ry="16.2" fill="#72ffbe"/>
<ellipse cx="869.8" cy="1452.6" rx="88.1" ry="14.8" fill="#6effc0"/>
<ellipse cx="802.7" cy="1404.7" rx="21" ry="10.2" fill="#ffff6e"/>
<ellipse cx="886.6" cy="1449.8" rx="15.4" ry="5.6" fill="#ffbf54"/>
<ellipse cx="886.6" cy="1450.5" rx="9.8" ry="5.7" fill="#ff9541"/>
<ellipse cx="1060.1" cy="1395.7" rx="21" ry="5.5" fill="#ffff6e"/>
<ellipse cx="920.2" cy="1388.3" rx="26.6" ry="9.2" fill="#e4ff7c"/>
<ellipse cx="808.3" cy="1474.5" rx="26.6" ry="7.8" fill="#ff9541"/>
<ellipse cx="813.9" cy="1416" rx="32.2" ry="7.8" fill="#27ffea"/>
<ellipse cx="853.1" cy="1436.1" rx="15.4" ry="7.8" fill="#27ffea"/>
<ellipse cx="942.6" cy="1412.6" rx="26.6" ry="6.7" fill="#40ffdb"/>
<ellipse cx="1009.7" cy="1422.7" rx="26.6" ry="5.6" fill="#40ffdb"/>
<ellipse cx="920.2" cy="1464.4" rx="26.6" ry="9" fill="#27ffea"/>
<ellipse cx="1032.1" cy="1473.3" rx="26.6" ry="9" fill="#27ffea"/>
<ellipse cx="841.9" cy="1493.6" rx="15.4" ry="6.9" fill="#27ffea"/>
<ellipse cx="1393.1" cy="1423.8" rx="26.6" ry="6.7" fill="#ffd45c"/>
<ellipse cx="1393.1" cy="1408.2" rx="26.6" ry="6.7" fill="#ffff6e"/>
<ellipse cx="1257.4" cy="1479.9" rx="50.4" ry="11.3" fill="#d9ff82"/>
<ellipse cx="1127.3" cy="1400.3" rx="32.2" ry="10.1" fill="#40ffdb"/>
<ellipse cx="1348.3" cy="1387.9" rx="26.6" ry="6.9" fill="#27ffea"/>
<ellipse cx="1348.3" cy="1413.8" rx="26.6" ry="7.8" fill="#40ffdb"/>
<ellipse cx="1177.6" cy="1469" rx="37.8" ry="8.8" fill="#40ffdb"/>
<ellipse cx="1404.3" cy="1475.6" rx="15.4" ry="13.4" fill="#40ffdb"/>
<ellipse cx="1240.6" cy="1440.1" rx="39.2" ry="13.4" fill="#d6ff83"/>
</g>
<polygon points="808.7,1393 814.7,1394.1 820.7,1395.1 826.7,1396.2 832.8,1397.2 838.8,1398.3 844.8,1399.3 850.9,1400.3 856.9,1401.3 862.9,1402.2 868.8,1403.3 874.8,1404.6 880.7,1406.2 886.7,1408 892.7,1409.8 898.8,1411.6 904.8,1413.4 910.9,1415.2 917,1416.8 923.1,1418.2 929.2,1419.5 935.2,1420.6 941.3,1421.6 947.4,1422.5 953.4,1423.4 959.5,1424.2 965.5,1424.9 971.5,1425.7 977.6,1426.4 983.6,1427 989.7,1427.7 995.7,1428.3 1001.7,1428.8 1007.8,1429.3 1013.8,1429.9 1019.9,1430.3 1025.9,1430.8 1031.9,1431.2 1038,1431.7 1044,1432.1 1050,1432.5 1056,1433 1062.1,1433.4 1068.1,1433.8 1074.1,1434.2 1080.2,1434.6 1086.2,1435 1092.2,1435.3 1098.3,1435.7 1104.3,1436 1110.4,1436.3 1116.4,1436.5 1122.4,1436.8 1128.4,1437.1 1134.4,1437.4 1140.4,1437.8 1146.4,1438.2 1152.4,1438.8 1158.4,1439.4 1164.4,1440.2 1170.4,1441 1176.4,1441.8 1182.4,1442.8 1188.3,1444 1194.3,1445.4 1200.2,1446.9 1206.2,1448.6 1212.2,1450.4 1218.2,1452.4 1224.2,1454.5 1230.2,1456.6 1236.2,1458.7 1242.2,1460.8 1248.3,1463 1254.3,1465.2 1260.3,1467.5 1255.2,1480.5 1249.3,1478.3 1243.5,1476.1 1237.6,1474 1231.6,1471.9 1225.6,1469.8 1219.5,1467.7 1213.6,1465.6 1207.9,1463.7 1202.3,1462 1196.6,1460.4 1191,1459 1185.4,1457.7 1179.8,1456.6 1174.2,1455.6 1168.5,1454.8 1162.6,1454 1156.8,1453.3 1151,1452.7 1145.2,1452.2 1139.4,1451.7 1133.6,1451.3 1127.7,1451 1121.8,1450.8 1115.8,1450.5 1109.8,1450.2 1103.7,1450 1097.5,1449.7 1091.4,1449.3 1085.3,1448.9 1079.3,1448.6 1073.2,1448.1 1067.2,1447.7 1061.1,1447.3 1055.1,1446.9 1049,1446.5 1043,1446.1 1037,1445.6 1030.9,1445.2 1024.8,1444.7 1018.8,1444.3 1012.7,1443.8 1006.6,1443.3 1000.5,1442.8 994.4,1442.2 988.3,1441.6 982.1,1441 976,1440.3 969.9,1439.6 963.8,1438.8 957.6,1438.1 951.5,1437.2 945.3,1436.3 939.1,1435.4 932.8,1434.4 926.5,1433.2 920.1,1431.9 913.6,1430.4 907.2,1428.7 900.8,1426.8 894.7,1425 888.7,1423.2 882.7,1421.4 876.9,1419.7 871.4,1418.2 866,1417 860.6,1416 854.8,1415.1 848.6,1414.1 842.5,1413.1 836.4,1412 830.4,1411 824.3,1409.9 818.3,1408.9 812.3,1407.8 806.3,1406.8" fill="url(#g17)" filter="url(#b4)"/>
<polygon points="814.3,1396 820.4,1397 826.4,1398.1 832.4,1399.1 838.5,1400.2 844.5,1401.2 850.6,1402.2 856.6,1403.2 862.6,1404.1 868.5,1405.2 874.3,1406.5 880.2,1408.1 886.2,1409.9 892.2,1411.7 898.2,1413.5 904.3,1415.3 910.4,1417.1 916.5,1418.7 922.6,1420.1 928.8,1421.4 934.9,1422.5 941,1423.5 947.1,1424.4 953.1,1425.3 959.2,1426.1 965.3,1426.9 971.3,1427.6 977.4,1428.3 983.4,1429 989.5,1429.6 995.5,1430.2 1001.6,1430.8 1007.6,1431.3 1013.7,1431.8 1019.7,1432.3 1025.7,1432.7 1031.8,1433.2 1037.8,1433.6 1043.8,1434.1 1049.9,1434.5 1055.9,1434.9 1061.9,1435.3 1068,1435.7 1074,1436.1 1080,1436.5 1086.1,1436.9 1092.1,1437.3 1098.2,1437.7 1104.2,1438 1110.3,1438.2 1116.3,1438.5 1122.3,1438.7 1128.3,1439 1134.3,1439.3 1140.3,1439.7 1146.3,1440.2 1152.2,1440.7 1158.2,1441.4 1164.2,1442.1 1170.1,1442.9 1176.1,1443.8 1182,1444.8 1187.9,1445.9 1193.8,1447.3 1199.7,1448.8 1205.7,1450.4 1203,1459.6 1197.3,1458 1191.6,1456.5 1185.9,1455.2 1180.3,1454.1 1174.6,1453.2 1168.8,1452.3 1163,1451.5 1157.1,1450.8 1151.3,1450.2 1145.4,1449.7 1139.6,1449.2 1133.8,1448.8 1127.9,1448.5 1121.9,1448.2 1115.9,1448 1109.9,1447.7 1103.8,1447.5 1097.7,1447.2 1091.6,1446.8 1085.5,1446.4 1079.4,1446 1073.4,1445.6 1067.3,1445.2 1061.3,1444.8 1055.3,1444.4 1049.2,1444 1043.2,1443.5 1037.1,1443.1 1031.1,1442.7 1025,1442.2 1019,1441.8 1012.9,1441.3 1006.8,1440.8 1000.7,1440.2 994.6,1439.7 988.5,1439.1 982.4,1438.4 976.3,1437.8 970.2,1437.1 964.1,1436.3 958,1435.6 951.8,1434.7 945.7,1433.9 939.5,1432.9 933.3,1431.9 927,1430.7 920.6,1429.4 914.2,1427.9 907.8,1426.3 901.6,1424.4 895.5,1422.6 889.5,1420.8 883.5,1419 877.6,1417.3 872,1415.8 866.5,1414.5 861,1413.5 855.1,1412.6 849,1411.6 842.9,1410.6 836.9,1409.6 830.8,1408.5 824.8,1407.5 818.7,1406.4 812.7,1405.4" fill="url(#g18)" filter="url(#b3)"/>
<polygon points="785.9,1366.9 785.9,1380.2 852,1380.2 862,1378.8 872,1376 883,1374 917,1372.8 957,1372.4 1027,1372.5 1077,1372 1117,1372.7 1167,1372.3 1217,1372.8 1257,1372.5 1307,1373.1 1347,1372.4 1397,1373 1415.4,1373.4 1415.4,1366.9" fill="#bdbdc0"/>
<rect x="785.9" y="1368.9" width="165.9" height="11.3" fill="#bdbdc0"/>
<line x1="786.4" y1="1400.9" x2="1415.4" y2="1400.9" stroke="#000" stroke-width="2" stroke-dasharray="12,7"/>
<line x1="786.4" y1="1428.9" x2="1415.4" y2="1428.9" stroke="#000" stroke-width="2" stroke-dasharray="12,7"/>
<line x1="786.4" y1="1456.8" x2="1415.4" y2="1456.8" stroke="#000" stroke-width="2" stroke-dasharray="12,7"/>
<line x1="786.4" y1="1484.8" x2="1415.4" y2="1484.8" stroke="#000" stroke-width="2" stroke-dasharray="12,7"/>
<polyline points="785.9,1380.2 852,1380.2 862,1378.8 872,1376 883,1374 917,1372.8 957,1372.4 1027,1372.5 1077,1372 1117,1372.7 1167,1372.3 1217,1372.8 1257,1372.5 1307,1373.1 1347,1372.4 1397,1373 1415.4,1373.4" fill="none" stroke="#000" stroke-width="1.7"/>
<polyline points="791,1387.5 792.3,1387.7 794.8,1388.1 798.6,1388.8 803.7,1389.6 809.9,1390.7 817.2,1391.9 825.7,1393.4 835.2,1395.1 843.8,1396.6 851.4,1397.8 858,1398.9 863.6,1399.7 869.2,1400.8 874.8,1402 880.5,1403.5 886.1,1405.2 891.8,1406.9 897.4,1408.6 903,1410.3 908.6,1411.9 914.2,1413.5 919.9,1414.9 925.5,1416.2 931.2,1417.3 937.6,1418.4 944.6,1419.6 952.3,1420.7 960.8,1421.8 969.2,1422.9 977.6,1423.9 986.1,1424.8 994.5,1425.6 1003.7,1426.5 1013.5,1427.3 1024.1,1428.1 1035.4,1429 1046.6,1429.8 1057.9,1430.6 1069.1,1431.3 1080.2,1432.1 1090,1432.7 1098.4,1433.2 1105.4,1433.5 1111.1,1433.8 1116.7,1434 1122.3,1434.2 1127.9,1434.5 1133.6,1434.8 1139.2,1435.1 1144.8,1435.6 1150.5,1436.1 1156.1,1436.6 1161.8,1437.3 1167.4,1438 1173,1438.8 1178.7,1439.6 1184.3,1440.6 1189.9,1441.8 1195.5,1443.1 1201.2,1444.5 1206.8,1446.1 1212.4,1447.8 1218,1449.7 1223.7,1451.6 1229.3,1453.6 1234.9,1455.6 1240.6,1457.6 1246.2,1459.5 1251.9,1461.6 1257.5,1463.7 1263.1,1465.9 1268.8,1468.1 1274.4,1470.5 1280,1473.1 1285.6,1475.9 1291.3,1478.8 1296.9,1481.7 1302.5,1484.6 1308.1,1487.4 1313.8,1490.3 1318.5,1492.6 1322.5,1494.5 1325.6,1495.9 1327.8,1496.9 1329.7,1497.7 1331.1,1498.3 1332.1,1498.8 1332.6,1499.2 1333.1,1499.4 1333.4,1499.6 1333.5,1499.7" fill="none" stroke="#000" stroke-width="1.8"/>
</g>
<rect x="785.9" y="1368.9" width="629.5" height="129.9" fill="none" stroke="#000" stroke-width="1.9"/>
<path d="M785.9 1368.9V1361.9M785.9 1498.8V1505.8M799.9 1368.9V1364.4M799.9 1498.8V1503.3M813.9 1368.9V1364.4M813.9 1498.8V1503.3M827.9 1368.9V1364.4M827.9 1498.8V1503.3M841.9 1368.9V1361.9M841.9 1498.8V1505.8M855.9 1368.9V1364.4M855.9 1498.8V1503.3M869.8 1368.9V1364.4M869.8 1498.8V1503.3M883.8 1368.9V1364.4M883.8 1498.8V1503.3M897.8 1368.9V1361.9M897.8 1498.8V1505.8M911.8 1368.9V1364.4M911.8 1498.8V1503.3M925.8 1368.9V1364.4M925.8 1498.8V1503.3M939.8 1368.9V1364.4M939.8 1498.8V1503.3M953.8 1368.9V1361.9M953.8 1498.8V1505.8M967.8 1368.9V1364.4M967.8 1498.8V1503.3M981.8 1368.9V1364.4M981.8 1498.8V1503.3M995.8 1368.9V1364.4M995.8 1498.8V1503.3M1009.7 1368.9V1361.9M1009.7 1498.8V1505.8M1023.7 1368.9V1364.4M1023.7 1498.8V1503.3M1037.7 1368.9V1364.4M1037.7 1498.8V1503.3M1051.7 1368.9V1364.4M1051.7 1498.8V1503.3M1065.7 1368.9V1361.9M1065.7 1498.8V1505.8M1079.7 1368.9V1364.4M1079.7 1498.8V1503.3M1093.7 1368.9V1364.4M1093.7 1498.8V1503.3M1107.7 1368.9V1364.4M1107.7 1498.8V1503.3M1121.7 1368.9V1361.9M1121.7 1498.8V1505.8M1135.7 1368.9V1364.4M1135.7 1498.8V1503.3M1149.6 1368.9V1364.4M1149.6 1498.8V1503.3M1163.6 1368.9V1364.4M1163.6 1498.8V1503.3M1177.6 1368.9V1361.9M1177.6 1498.8V1505.8M1191.6 1368.9V1364.4M1191.6 1498.8V1503.3M1205.6 1368.9V1364.4M1205.6 1498.8V1503.3M1219.6 1368.9V1364.4M1219.6 1498.8V1503.3M1233.6 1368.9V1361.9M1233.6 1498.8V1505.8M1247.6 1368.9V1364.4M1247.6 1498.8V1503.3M1261.6 1368.9V1364.4M1261.6 1498.8V1503.3M1275.5 1368.9V1364.4M1275.5 1498.8V1503.3M1289.5 1368.9V1361.9M1289.5 1498.8V1505.8M1303.5 1368.9V1364.4M1303.5 1498.8V1503.3M1317.5 1368.9V1364.4M1317.5 1498.8V1503.3M1331.5 1368.9V1364.4M1331.5 1498.8V1503.3M1345.5 1368.9V1361.9M1345.5 1498.8V1505.8M1359.5 1368.9V1364.4M1359.5 1498.8V1503.3M1373.5 1368.9V1364.4M1373.5 1498.8V1503.3M1387.5 1368.9V1364.4M1387.5 1498.8V1503.3M1401.5 1368.9V1361.9M1401.5 1498.8V1505.8M1415.4 1368.9V1364.4M1415.4 1498.8V1503.3M785.9 1372.9H778.9M1415.4 1372.9H1422.4M785.9 1386.9H781.4M1415.4 1386.9H1419.9M785.9 1400.9H778.9M1415.4 1400.9H1422.4M785.9 1414.9H781.4M1415.4 1414.9H1419.9M785.9 1428.9H778.9M1415.4 1428.9H1422.4M785.9 1442.9H781.4M1415.4 1442.9H1419.9M785.9 1456.8H778.9M1415.4 1456.8H1422.4M785.9 1470.8H781.4M1415.4 1470.8H1419.9M785.9 1484.8H778.9M1415.4 1484.8H1422.4M785.9 1498.8H781.4M1415.4 1498.8H1419.9" stroke="#000" stroke-width="1.9" fill="none"/>
<polygon points="829.2,1367.2 842.8,1367.2 836,1379.6" fill="#000"/>
<polygon points="944.1,1360.5 957.7,1360.5 950.9,1371.7" fill="#000"/>
<text x="785.9" y="1529" font-size="24" text-anchor="middle">0</text>
<text x="841.9" y="1529" font-size="24" text-anchor="middle">20</text>
<text x="897.8" y="1529" font-size="24" text-anchor="middle">40</text>
<text x="953.8" y="1529" font-size="24" text-anchor="middle">60</text>
<text x="1009.7" y="1529" font-size="24" text-anchor="middle">80</text>
<text x="1065.7" y="1529" font-size="24" text-anchor="middle">100</text>
<text x="1121.7" y="1529" font-size="24" text-anchor="middle">120</text>
<text x="1177.6" y="1529" font-size="24" text-anchor="middle">140</text>
<text x="1233.6" y="1529" font-size="24" text-anchor="middle">160</text>
<text x="1289.5" y="1529" font-size="24" text-anchor="middle">180</text>
<text x="1345.5" y="1529" font-size="24" text-anchor="middle">200</text>
<text x="1401.5" y="1529" font-size="24" text-anchor="middle">220</text>
<text x="773.3" y="1381.4" font-size="24" text-anchor="end">0</text>
<text x="773.3" y="1409.4" font-size="24" text-anchor="end">10</text>
<text x="773.3" y="1437.4" font-size="24" text-anchor="end">20</text>
<text x="773.3" y="1465.3" font-size="24" text-anchor="end">30</text>
<text x="773.3" y="1493.3" font-size="24" text-anchor="end">40</text>
<text x="785.9" y="1360.9" font-size="24" text-anchor="middle">B</text>
<text x="1415.4" y="1360.9" font-size="24" text-anchor="middle">B&#8217;</text>
<g clip-path="url(#c29)">
<rect x="88.9" y="1565" width="629.5" height="130.1" fill="#8afbb8"/>
<g clip-path="url(#c30)"><g filter="url(#b1)">
<polygon points="105.2,1585 110.9,1585.9 116.7,1586.9 122.5,1587.8 128.3,1588.7 134,1589.6 139.8,1590.5 145.6,1591.4 151.3,1592.5 157.1,1593.7 162.8,1595 168.6,1596.4 174.4,1597.8 180.1,1599.3 185.9,1600.7 191.7,1602.2 197.5,1603.7 203.2,1605.3 209,1607 214.8,1608.8 220.6,1610.3 226.4,1611.6 232.2,1612.8 238,1613.9 243.7,1614.9 249.5,1615.8 255.3,1616.6 261.1,1617.4 266.9,1618.1 272.7,1618.8 278.4,1619.3 284.2,1619.9 290,1620.3 295.8,1620.7 301.6,1621.1 307.3,1621.5 313.1,1621.9 318.9,1622.4 324.7,1622.8 330.4,1623.2 336.2,1623.7 342,1624.1 347.8,1624.4 353.5,1624.8 359.3,1625.1 365.1,1625.4 370.9,1625.7 376.7,1625.9 382.4,1626.1 388.2,1626.4 394,1626.6 399.7,1626.9 405.5,1627.2 411.3,1627.6 417,1628 422.8,1628.5 428.6,1629.1 434.3,1629.7 440.1,1630.4 445.9,1631 451.7,1631.6 457.4,1632.3 463.2,1632.9 469,1633.7 474.7,1634.4 480.5,1635.2 486.3,1636 492,1636.9 497.8,1637.8 503.5,1638.9 509.3,1640.4 515,1642.3 520.7,1644.5 526.5,1646.8 532.2,1649.4 538,1652.1 543.8,1654.9 549.5,1657.8 555.3,1660.7 561.1,1663.7 566.8,1666.7 572.6,1669.7 578.4,1672.7 584.2,1675.8 589.9,1679 595.7,1682.1 601.5,1685.2 607.3,1688.1 613.1,1690.8 618.8,1693.5 624.6,1696.8 616.2,1711.4 611,1708.5 605.9,1706.1 599.9,1703.2 593.8,1700.2 587.8,1697 581.8,1693.8 576.1,1690.7 570.4,1687.6 564.8,1684.6 559.1,1681.7 553.4,1678.7 547.6,1675.8 541.9,1672.9 536.3,1670.1 530.7,1667.4 525.2,1664.8 519.8,1662.4 514.5,1660.2 509.4,1658.2 504.5,1656.6 499.8,1655.4 494.8,1654.5 489.4,1653.6 483.8,1652.7 478.2,1651.9 472.5,1651.1 466.9,1650.4 461.2,1649.7 455.5,1649.1 449.8,1648.4 444,1647.8 438.3,1647.1 432.5,1646.5 426.9,1645.9 421.3,1645.4 415.7,1644.9 410.1,1644.5 404.5,1644.1 398.9,1643.8 393.2,1643.5 387.5,1643.3 381.8,1643 376,1642.8 370.1,1642.6 364.3,1642.3 358.4,1642 352.6,1641.7 346.7,1641.3 340.8,1640.9 335,1640.5 329.2,1640.1 323.4,1639.6 317.7,1639.2 311.9,1638.8 306.1,1638.4 300.4,1638 294.6,1637.6 288.8,1637.2 282.8,1636.7 276.8,1636.1 270.8,1635.5 264.9,1634.9 258.9,1634.1 253,1633.3 247,1632.5 241.1,1631.5 235,1630.5 228.9,1629.4 222.8,1628.1 216.5,1626.7 210.2,1625 204.2,1623.2 198.6,1621.6 193.1,1620 187.5,1618.6 181.8,1617.1 176,1615.7 170.3,1614.2 164.5,1612.8 158.9,1611.4 153.5,1610.2 148.1,1609 142.7,1608 137.2,1607.2 131.5,1606.3 125.6,1605.4 119.8,1604.5 114,1603.5 108.2,1602.6 102.5,1601.7" fill="#f8d978"/>
<rect x="99.9" y="1585.1" width="10" height="16.6" fill="#f8d978"/>
</g></g>
<g clip-path="url(#c31)"><g filter="url(#b1)">
<polygon points="105,1586.2 110.7,1587.1 116.5,1588 122.3,1589 128.1,1589.9 133.9,1590.8 139.6,1591.7 145.4,1592.6 151.1,1593.6 156.8,1594.8 162.6,1596.1 168.3,1597.6 174.1,1599 179.9,1600.4 185.6,1601.9 191.4,1603.4 197.1,1604.9 202.9,1606.5 208.6,1608.2 214.4,1609.9 220.3,1611.5 226.1,1612.8 231.9,1614 237.7,1615.1 243.6,1616 249.3,1616.9 255.1,1617.8 260.9,1618.6 266.7,1619.3 272.5,1619.9 278.3,1620.5 284.1,1621.1 289.9,1621.5 295.7,1621.9 301.5,1622.3 307.3,1622.7 313,1623.1 318.8,1623.6 324.6,1624 330.3,1624.4 336.1,1624.9 341.9,1625.3 347.7,1625.6 353.5,1626 359.3,1626.3 365,1626.6 370.8,1626.9 376.6,1627.1 382.4,1627.3 388.2,1627.6 393.9,1627.8 399.7,1628.1 405.4,1628.4 411.2,1628.8 416.9,1629.2 422.7,1629.7 428.5,1630.3 434.2,1630.9 440,1631.6 445.8,1632.2 451.5,1632.8 457.3,1633.5 463.1,1634.1 468.8,1634.8 474.6,1635.6 480.3,1636.4 486.1,1637.2 491.9,1638.1 497.6,1639 503.3,1640.1 508.9,1641.6 514.6,1643.4 520.3,1645.6 526,1647.9 531.7,1650.5 537.5,1653.2 543.2,1656 549,1658.9 554.8,1661.8 560.5,1664.8 566.3,1667.7 572.1,1670.7 577.8,1673.8 583.6,1676.9 589.3,1680 595.1,1683.2 600.9,1686.2 606.8,1689.1 612.6,1691.9 618.3,1694.6 624,1697.8 617.1,1709.9 611.8,1706.9 606.6,1704.4 600.7,1701.6 594.6,1698.6 588.6,1695.4 582.7,1692.2 577,1689.1 571.3,1686 565.6,1683 559.9,1680.1 554.2,1677.1 548.5,1674.2 542.7,1671.3 537.1,1668.5 531.5,1665.7 526,1663.1 520.5,1660.7 515.2,1658.5 510,1656.5 505,1654.9 500.2,1653.7 495.1,1652.7 489.7,1651.8 484.1,1650.9 478.4,1650.1 472.8,1649.4 467.1,1648.6 461.4,1647.9 455.7,1647.3 450,1646.6 444.2,1646 438.5,1645.4 432.7,1644.7 427,1644.1 421.4,1643.6 415.8,1643.1 410.2,1642.7 404.6,1642.3 399,1642 393.3,1641.7 387.6,1641.5 381.8,1641.2 376.1,1641 370.2,1640.8 364.4,1640.5 358.5,1640.2 352.7,1639.9 346.8,1639.5 341,1639.1 335.1,1638.7 329.3,1638.3 323.5,1637.8 317.8,1637.4 312,1637 306.3,1636.6 300.5,1636.2 294.8,1635.8 288.9,1635.4 282.9,1634.9 277,1634.4 271,1633.8 265.1,1633.1 259.2,1632.3 253.2,1631.5 247.3,1630.7 241.3,1629.8 235.4,1628.8 229.3,1627.6 223.1,1626.4 216.9,1624.9 210.7,1623.3 204.7,1621.5 199.1,1619.8 193.5,1618.3 187.9,1616.8 182.2,1615.4 176.5,1613.9 170.7,1612.5 165,1611 159.3,1609.6 153.9,1608.4 148.4,1607.3 143,1606.3 137.5,1605.4 131.7,1604.5 125.9,1603.6 120.1,1602.7 114.3,1601.8 108.5,1600.8 102.7,1599.9" fill="#f6602e"/>
<rect x="102.3" y="1586.4" width="9" height="13.5" fill="#f6602e"/>
</g></g>
<polygon points="88.9,1563 88.9,1576.4 137,1576.4 150,1574.5 165,1572.2 186.4,1570.2 210,1569.8 240,1570.6 260,1569.4 330,1569.2 400,1569.8 470,1569 530,1569.8 600,1569.4 660,1569.9 718.4,1569.6 718.4,1563" fill="#bdbdc0"/>
<polyline points="88.9,1576.4 137,1576.4 150,1574.5 165,1572.2 186.4,1570.2 210,1569.8 240,1570.6 260,1569.4 330,1569.2 400,1569.8 470,1569 530,1569.8 600,1569.4 660,1569.9 718.4,1569.6" fill="none" stroke="#000" stroke-width="1.7"/>
<polyline points="105.3,1584.1 106.8,1584.3 109.9,1584.8 114.6,1585.6 120.7,1586.6 126.8,1587.6 132.7,1588.5 138.5,1589.4 144.1,1590.2 150,1591.3 156.2,1592.5 162.7,1594 169.5,1595.7 175.9,1597.3 182.1,1598.8 188,1600.3 193.6,1601.8 198.9,1603.2 204,1604.6 208.8,1606 213.2,1607.4 218,1608.7 223.1,1610 228.5,1611.2 234.2,1612.3 240.5,1613.4 247.6,1614.6 255.3,1615.7 263.8,1616.8 272.2,1617.8 280.6,1618.7 289.1,1619.4 297.5,1619.9 306.7,1620.6 316.5,1621.3 327.1,1622.1 338.4,1622.9 349.6,1623.7 360.9,1624.3 372.1,1624.8 383.2,1625.3 393,1625.7 401.4,1626.1 408.4,1626.5 414.1,1626.9 419.7,1627.4 425.3,1627.9 430.9,1628.4 436.6,1629.1 442.2,1629.7 447.8,1630.3 453.5,1630.9 459.1,1631.6 464.8,1632.2 470.4,1632.9 476,1633.7 481.7,1634.4 486.9,1635.2 491.7,1635.9 496,1636.6 500,1637.3 503.8,1638.1 507.4,1639 511,1640 514.3,1641.1 517.8,1642.4 521.5,1643.8 525.3,1645.3 529.2,1647 533.6,1649 538.4,1651.3 543.6,1653.8 549.2,1656.7 554.9,1659.5 560.5,1662.4 566.1,1665.3 571.8,1668.2 577.4,1671.2 583,1674.2 588.6,1677.2 594.3,1680.4 599.8,1683.3 605.1,1686 610.3,1688.5 615.4,1690.9 619.3,1692.7 622.1,1694.1 623.8,1695 624.2,1695.4 624.6,1695.7 624.9,1695.9 625,1696" fill="none" stroke="#000" stroke-width="1.8"/>
</g>
<rect x="88.9" y="1565" width="629.5" height="130.1" fill="none" stroke="#000" stroke-width="1.9"/>
<path d="M88.9 1565V1558M88.9 1695.1V1702.1M102.9 1565V1560.5M102.9 1695.1V1699.6M116.9 1565V1560.5M116.9 1695.1V1699.6M130.9 1565V1560.5M130.9 1695.1V1699.6M144.9 1565V1558M144.9 1695.1V1702.1M158.9 1565V1560.5M158.9 1695.1V1699.6M172.8 1565V1560.5M172.8 1695.1V1699.6M186.8 1565V1560.5M186.8 1695.1V1699.6M200.8 1565V1558M200.8 1695.1V1702.1M214.8 1565V1560.5M214.8 1695.1V1699.6M228.8 1565V1560.5M228.8 1695.1V1699.6M242.8 1565V1560.5M242.8 1695.1V1699.6M256.8 1565V1558M256.8 1695.1V1702.1M270.8 1565V1560.5M270.8 1695.1V1699.6M284.8 1565V1560.5M284.8 1695.1V1699.6M298.8 1565V1560.5M298.8 1695.1V1699.6M312.7 1565V1558M312.7 1695.1V1702.1M326.7 1565V1560.5M326.7 1695.1V1699.6M340.7 1565V1560.5M340.7 1695.1V1699.6M354.7 1565V1560.5M354.7 1695.1V1699.6M368.7 1565V1558M368.7 1695.1V1702.1M382.7 1565V1560.5M382.7 1695.1V1699.6M396.7 1565V1560.5M396.7 1695.1V1699.6M410.7 1565V1560.5M410.7 1695.1V1699.6M424.7 1565V1558M424.7 1695.1V1702.1M438.6 1565V1560.5M438.6 1695.1V1699.6M452.6 1565V1560.5M452.6 1695.1V1699.6M466.6 1565V1560.5M466.6 1695.1V1699.6M480.6 1565V1558M480.6 1695.1V1702.1M494.6 1565V1560.5M494.6 1695.1V1699.6M508.6 1565V1560.5M508.6 1695.1V1699.6M522.6 1565V1560.5M522.6 1695.1V1699.6M536.6 1565V1558M536.6 1695.1V1702.1M550.6 1565V1560.5M550.6 1695.1V1699.6M564.6 1565V1560.5M564.6 1695.1V1699.6M578.6 1565V1560.5M578.6 1695.1V1699.6M592.5 1565V1558M592.5 1695.1V1702.1M606.5 1565V1560.5M606.5 1695.1V1699.6M620.5 1565V1560.5M620.5 1695.1V1699.6M634.5 1565V1560.5M634.5 1695.1V1699.6M648.5 1565V1558M648.5 1695.1V1702.1M662.5 1565V1560.5M662.5 1695.1V1699.6M676.5 1565V1560.5M676.5 1695.1V1699.6M690.5 1565V1560.5M690.5 1695.1V1699.6M704.5 1565V1558M704.5 1695.1V1702.1M718.4 1565V1560.5M718.4 1695.1V1699.6M88.9 1569.2H81.9M718.4 1569.2H725.4M88.9 1583.2H84.4M718.4 1583.2H722.9M88.9 1597.2H81.9M718.4 1597.2H725.4M88.9 1611.2H84.4M718.4 1611.2H722.9M88.9 1625.2H81.9M718.4 1625.2H725.4M88.9 1639.2H84.4M718.4 1639.2H722.9M88.9 1653.1H81.9M718.4 1653.1H725.4M88.9 1667.1H84.4M718.4 1667.1H722.9M88.9 1681.1H81.9M718.4 1681.1H725.4M88.9 1695.1H84.4M718.4 1695.1H722.9" stroke="#000" stroke-width="1.9" fill="none"/>
<polygon points="116.9,1565.6 130.5,1565.6 123.7,1575.7" fill="#000"/>
<polygon points="258.4,1557.2 272,1557.2 265.2,1568.5" fill="#000"/>
<text x="88.9" y="1725.3" font-size="24" text-anchor="middle">0</text>
<text x="144.9" y="1725.3" font-size="24" text-anchor="middle">20</text>
<text x="200.8" y="1725.3" font-size="24" text-anchor="middle">40</text>
<text x="256.8" y="1725.3" font-size="24" text-anchor="middle">60</text>
<text x="312.7" y="1725.3" font-size="24" text-anchor="middle">80</text>
<text x="368.7" y="1725.3" font-size="24" text-anchor="middle">100</text>
<text x="424.7" y="1725.3" font-size="24" text-anchor="middle">120</text>
<text x="480.6" y="1725.3" font-size="24" text-anchor="middle">140</text>
<text x="536.6" y="1725.3" font-size="24" text-anchor="middle">160</text>
<text x="592.5" y="1725.3" font-size="24" text-anchor="middle">180</text>
<text x="648.5" y="1725.3" font-size="24" text-anchor="middle">200</text>
<text x="704.5" y="1725.3" font-size="24" text-anchor="middle">220</text>
<text x="76.3" y="1577.7" font-size="24" text-anchor="end">0</text>
<text x="76.3" y="1605.7" font-size="24" text-anchor="end">10</text>
<text x="76.3" y="1633.7" font-size="24" text-anchor="end">20</text>
<text x="76.3" y="1661.6" font-size="24" text-anchor="end">30</text>
<text x="76.3" y="1689.6" font-size="24" text-anchor="end">40</text>
<text x="88.9" y="1557.5" font-size="24" text-anchor="middle">C</text>
<text x="718.4" y="1557.5" font-size="24" text-anchor="middle">C&#8217;</text>
<text x="0" y="0" font-size="25.6" text-anchor="middle" transform="translate(36.3 1630.1) rotate(-90)">Depth (km)</text>
<g clip-path="url(#c32)">
<rect x="785.9" y="1565" width="629.5" height="130.1" fill="#78ffba"/>
<g filter="url(#b6)">
<ellipse cx="1310.5" cy="1671.3" rx="109.1" ry="26" fill="#aeff99"/>
<ellipse cx="1240.6" cy="1583.2" rx="179.1" ry="16.2" fill="#72ffbe"/>
<ellipse cx="1079.7" cy="1650.3" rx="130.1" ry="10.6" fill="#6effc0"/>
<ellipse cx="813.5" cy="1610.9" rx="21.4" ry="6.7" fill="#ffbf54"/>
<ellipse cx="843.8" cy="1660.4" rx="17.3" ry="9" fill="#ffaa4b"/>
<ellipse cx="836.3" cy="1671.6" rx="32.2" ry="6.7" fill="#ffea65"/>
<ellipse cx="1037.7" cy="1580.4" rx="21" ry="5.6" fill="#ffea65"/>
<ellipse cx="864.2" cy="1590.5" rx="26.6" ry="6.7" fill="#ffff6e"/>
<ellipse cx="802.7" cy="1641.4" rx="21" ry="10.1" fill="#0dfff8"/>
<ellipse cx="858.6" cy="1615.4" rx="21" ry="9.2" fill="#40ffdb"/>
<ellipse cx="934.2" cy="1663.8" rx="18.2" ry="10.1" fill="#00f1ff"/>
<ellipse cx="872.6" cy="1643.5" rx="18.2" ry="8" fill="#27ffea"/>
<ellipse cx="976.2" cy="1608.7" rx="37.8" ry="6.7" fill="#40ffdb"/>
<ellipse cx="1079.7" cy="1609.8" rx="18.2" ry="6.4" fill="#40ffdb"/>
<ellipse cx="1365.1" cy="1609.8" rx="54.6" ry="7.8" fill="#fff46a"/>
<ellipse cx="1179" cy="1673.8" rx="83.9" ry="13.4" fill="#f1ff75"/>
<ellipse cx="1281.1" cy="1583.7" rx="26.6" ry="9" fill="#e4ff7c"/>
<ellipse cx="1144" cy="1608.7" rx="26.6" ry="6.7" fill="#40ffdb"/>
<ellipse cx="1223.8" cy="1602.8" rx="28" ry="7.8" fill="#40ffdb"/>
<ellipse cx="1359.5" cy="1582.6" rx="37.8" ry="7.8" fill="#40ffdb"/>
<ellipse cx="1381.9" cy="1637.8" rx="37.8" ry="9.2" fill="#40ffdb"/>
</g>
<polygon points="825.8,1585.1 831.6,1585.9 837.4,1586.8 843.2,1587.8 849,1588.8 854.9,1590 860.7,1591.4 866.5,1592.8 872.3,1594.3 878,1595.7 883.8,1597.2 889.6,1598.6 885.8,1613.5 880.1,1612.1 874.3,1610.6 868.5,1609.2 862.8,1607.7 857.1,1606.3 851.6,1605.1 846.1,1603.9 840.6,1602.9 835,1602 829.3,1601.2 823.4,1600.3" fill="url(#g19)" filter="url(#b4)"/>
<polygon points="876.8,1600.9 882.5,1602.3 888.3,1603.8 894,1605.3 899.8,1606.9 905.5,1608.6 911.3,1610.3 917.2,1611.9 923,1613.2 928.9,1614.4 934.7,1615.5 940.5,1616.5 946.3,1617.4 952.1,1618.2 957.9,1619 963.7,1619.7 969.5,1620.4 975.3,1620.9 981.1,1621.5 986.9,1621.9 992.7,1622.3 998.5,1622.7 1004.2,1623.1 1010,1623.6 1015.8,1624 1021.5,1624.4 1027.3,1624.8 1033.1,1625.3 1038.9,1625.7 1044.7,1626.1 1050.5,1626.4 1056.2,1626.7 1062,1627 1067.8,1627.3 1073.6,1627.5 1079.4,1627.7 1085.1,1628 1090.9,1628.2 1096.7,1628.5 1102.4,1628.8 1108.2,1629.2 1113.9,1629.7 1119.7,1630.2 1125.4,1630.7 1131.2,1631.3 1136.9,1632 1142.7,1632.6 1148.5,1633.3 1154.3,1633.9 1160,1634.6 1165.8,1635.3 1171.5,1636 1177.3,1636.8 1183,1637.6 1188.8,1638.5 1194.5,1639.4 1200.2,1640.5 1205.8,1642 1211.5,1643.8 1217.1,1646 1222.8,1648.3 1228.6,1650.9 1234.3,1653.6 1240,1656.4 1245.8,1659.3 1251.6,1662.2 1245.2,1674.7 1239.5,1671.8 1233.8,1668.9 1228.2,1666.2 1222.7,1663.6 1217.3,1661.2 1212,1659 1206.8,1657 1201.9,1655.4 1197.1,1654.2 1192.1,1653.2 1186.6,1652.3 1181,1651.5 1175.4,1650.6 1169.7,1649.9 1164,1649.1 1158.4,1648.4 1152.7,1647.8 1147,1647.2 1141.2,1646.5 1135.4,1645.9 1129.7,1645.2 1124,1644.6 1118.4,1644.1 1112.8,1643.6 1107.2,1643.2 1101.6,1642.8 1095.9,1642.5 1090.3,1642.2 1084.5,1642 1078.8,1641.7 1073.1,1641.5 1067.2,1641.3 1061.3,1641 1055.5,1640.7 1049.6,1640.4 1043.8,1640 1037.9,1639.6 1032.1,1639.2 1026.3,1638.8 1020.5,1638.4 1014.7,1637.9 1009,1637.5 1003.2,1637.1 997.5,1636.7 991.7,1636.3 985.9,1635.9 979.9,1635.4 974,1634.9 968,1634.3 962,1633.6 956.1,1632.8 950.2,1632.1 944.2,1631.2 938.3,1630.3 932.3,1629.3 926.2,1628.1 920,1626.9 913.8,1625.4 907.5,1623.8 901.5,1622 895.9,1620.3 890.4,1618.8 884.8,1617.3 879.1,1615.9 873.3,1614.4" fill="url(#g20)" filter="url(#b4)"/>
<polygon points="882,1604.2 887.8,1605.7 893.5,1607.2 899.2,1608.8 905,1610.4 910.8,1612.2 916.7,1613.8 922.6,1615.1 928.5,1616.3 934.3,1617.4 940.2,1618.4 946,1619.3 951.8,1620.1 957.6,1620.9 963.5,1621.6 969.3,1622.3 975.1,1622.9 980.9,1623.4 986.7,1623.9 992.5,1624.3 998.3,1624.7 1004.1,1625.1 1009.9,1625.5 1015.6,1625.9 1021.4,1626.4 1027.2,1626.8 1033,1627.2 1038.7,1627.6 1044.5,1628 1050.3,1628.4 1056.1,1628.7 1061.9,1629 1067.7,1629.3 1073.5,1629.5 1079.3,1629.7 1085.1,1629.9 1090.8,1630.2 1096.6,1630.5 1102.3,1630.8 1108,1631.2 1113.8,1631.6 1119.5,1632.1 1125.2,1632.7 1131,1633.3 1136.7,1633.9 1142.5,1634.6 1148.3,1635.2 1154,1635.8 1159.8,1636.5 1165.5,1637.2 1171.3,1637.9 1177,1638.7 1182.8,1639.6 1188.5,1640.4 1194.2,1641.4 1199.7,1642.4 1205.3,1643.9 1210.8,1645.7 1216.4,1647.8 1212.9,1656.6 1207.7,1654.7 1202.6,1653 1197.6,1651.7 1192.5,1650.7 1187,1649.8 1181.4,1649 1175.7,1648.2 1170,1647.4 1164.3,1646.6 1158.7,1645.9 1153,1645.3 1147.2,1644.7 1141.5,1644 1135.7,1643.4 1129.9,1642.7 1124.2,1642.1 1118.6,1641.6 1113,1641.1 1107.4,1640.7 1101.7,1640.3 1096.1,1640 1090.4,1639.7 1084.6,1639.5 1078.9,1639.2 1073.2,1639 1067.3,1638.8 1061.5,1638.5 1055.6,1638.2 1049.8,1637.9 1043.9,1637.5 1038.1,1637.1 1032.3,1636.7 1026.5,1636.3 1020.7,1635.9 1014.9,1635.4 1009.2,1635 1003.4,1634.6 997.7,1634.2 991.9,1633.8 986,1633.4 980.1,1632.9 974.2,1632.4 968.3,1631.8 962.3,1631.1 956.4,1630.3 950.5,1629.6 944.6,1628.7 938.7,1627.8 932.7,1626.8 926.7,1625.7 920.6,1624.4 914.4,1623 908.2,1621.4 902.2,1619.6 896.6,1617.9 891,1616.4 885.4,1614.9 879.7,1613.4" fill="url(#g21)" filter="url(#b3)"/>
<polygon points="785.9,1563 785.9,1576.4 834,1576.4 847,1574.5 862,1572.2 883.4,1570.2 907,1569.8 937,1570.6 957,1569.4 1027,1569.2 1097,1569.8 1167,1569 1227,1569.8 1297,1569.4 1357,1569.9 1415.4,1569.6 1415.4,1563" fill="#bdbdc0"/>
<rect x="785.9" y="1565" width="193.1" height="11.5" fill="#bdbdc0"/>
<line x1="786.4" y1="1597.2" x2="1415.4" y2="1597.2" stroke="#000" stroke-width="2" stroke-dasharray="12,7"/>
<line x1="786.4" y1="1625.2" x2="1415.4" y2="1625.2" stroke="#000" stroke-width="2" stroke-dasharray="12,7"/>
<line x1="786.4" y1="1653.1" x2="1415.4" y2="1653.1" stroke="#000" stroke-width="2" stroke-dasharray="12,7"/>
<line x1="786.4" y1="1681.1" x2="1415.4" y2="1681.1" stroke="#000" stroke-width="2" stroke-dasharray="12,7"/>
<polyline points="785.9,1576.4 834,1576.4 847,1574.5 862,1572.2 883.4,1570.2 907,1569.8 937,1570.6 957,1569.4 1027,1569.2 1097,1569.8 1167,1569 1227,1569.8 1297,1569.4 1357,1569.9 1415.4,1569.6" fill="none" stroke="#000" stroke-width="1.7"/>
<polyline points="802.3,1584.1 803.8,1584.3 806.9,1584.8 811.6,1585.6 817.7,1586.6 823.8,1587.6 829.7,1588.5 835.5,1589.4 841.1,1590.2 847.1,1591.3 853.2,1592.5 859.7,1594 866.5,1595.7 872.9,1597.3 879.1,1598.8 885,1600.3 890.6,1601.8 895.9,1603.2 901,1604.6 905.8,1606 910.2,1607.4 915,1608.7 920.1,1610 925.5,1611.2 931.2,1612.3 937.6,1613.4 944.6,1614.6 952.3,1615.7 960.8,1616.8 969.2,1617.8 977.6,1618.7 986.1,1619.4 994.5,1619.9 1003.7,1620.6 1013.5,1621.3 1024.1,1622.1 1035.4,1622.9 1046.6,1623.7 1057.9,1624.3 1069.1,1624.8 1080.2,1625.3 1090,1625.7 1098.4,1626.1 1105.4,1626.5 1111.1,1626.9 1116.7,1627.4 1122.3,1627.9 1127.9,1628.4 1133.6,1629.1 1139.2,1629.7 1144.8,1630.3 1150.5,1630.9 1156.1,1631.6 1161.8,1632.2 1167.4,1632.9 1173,1633.7 1178.7,1634.4 1183.9,1635.2 1188.7,1635.9 1193,1636.6 1197,1637.3 1200.8,1638.1 1204.4,1639 1208,1640 1211.3,1641.1 1214.9,1642.4 1218.5,1643.8 1222.3,1645.3 1226.2,1647 1230.6,1649 1235.4,1651.3 1240.6,1653.8 1246.2,1656.7 1251.9,1659.5 1257.5,1662.4 1263.1,1665.3 1268.8,1668.2 1274.4,1671.2 1280,1674.2 1285.6,1677.2 1291.3,1680.4 1296.8,1683.3 1302.1,1686 1307.3,1688.5 1312.4,1690.9 1316.3,1692.7 1319.1,1694.1 1320.8,1695 1321.2,1695.4 1321.6,1695.7 1321.9,1695.9 1322,1696" fill="none" stroke="#000" stroke-width="1.8"/>
</g>
<rect x="785.9" y="1565" width="629.5" height="130.1" fill="none" stroke="#000" stroke-width="1.9"/>
<path d="M785.9 1565V1558M785.9 1695.1V1702.1M799.9 1565V1560.5M799.9 1695.1V1699.6M813.9 1565V1560.5M813.9 1695.1V1699.6M827.9 1565V1560.5M827.9 1695.1V1699.6M841.9 1565V1558M841.9 1695.1V1702.1M855.9 1565V1560.5M855.9 1695.1V1699.6M869.8 1565V1560.5M869.8 1695.1V1699.6M883.8 1565V1560.5M883.8 1695.1V1699.6M897.8 1565V1558M897.8 1695.1V1702.1M911.8 1565V1560.5M911.8 1695.1V1699.6M925.8 1565V1560.5M925.8 1695.1V1699.6M939.8 1565V1560.5M939.8 1695.1V1699.6M953.8 1565V1558M953.8 1695.1V1702.1M967.8 1565V1560.5M967.8 1695.1V1699.6M981.8 1565V1560.5M981.8 1695.1V1699.6M995.8 1565V1560.5M995.8 1695.1V1699.6M1009.7 1565V1558M1009.7 1695.1V1702.1M1023.7 1565V1560.5M1023.7 1695.1V1699.6M1037.7 1565V1560.5M1037.7 1695.1V1699.6M1051.7 1565V1560.5M1051.7 1695.1V1699.6M1065.7 1565V1558M1065.7 1695.1V1702.1M1079.7 1565V1560.5M1079.7 1695.1V1699.6M1093.7 1565V1560.5M1093.7 1695.1V1699.6M1107.7 1565V1560.5M1107.7 1695.1V1699.6M1121.7 1565V1558M1121.7 1695.1V1702.1M1135.7 1565V1560.5M1135.7 1695.1V1699.6M1149.6 1565V1560.5M1149.6 1695.1V1699.6M1163.6 1565V1560.5M1163.6 1695.1V1699.6M1177.6 1565V1558M1177.6 1695.1V1702.1M1191.6 1565V1560.5M1191.6 1695.1V1699.6M1205.6 1565V1560.5M1205.6 1695.1V1699.6M1219.6 1565V1560.5M1219.6 1695.1V1699.6M1233.6 1565V1558M1233.6 1695.1V1702.1M1247.6 1565V1560.5M1247.6 1695.1V1699.6M1261.6 1565V1560.5M1261.6 1695.1V1699.6M1275.5 1565V1560.5M1275.5 1695.1V1699.6M1289.5 1565V1558M1289.5 1695.1V1702.1M1303.5 1565V1560.5M1303.5 1695.1V1699.6M1317.5 1565V1560.5M1317.5 1695.1V1699.6M1331.5 1565V1560.5M1331.5 1695.1V1699.6M1345.5 1565V1558M1345.5 1695.1V1702.1M1359.5 1565V1560.5M1359.5 1695.1V1699.6M1373.5 1565V1560.5M1373.5 1695.1V1699.6M1387.5 1565V1560.5M1387.5 1695.1V1699.6M1401.5 1565V1558M1401.5 1695.1V1702.1M1415.4 1565V1560.5M1415.4 1695.1V1699.6M785.9 1569.2H778.9M1415.4 1569.2H1422.4M785.9 1583.2H781.4M1415.4 1583.2H1419.9M785.9 1597.2H778.9M1415.4 1597.2H1422.4M785.9 1611.2H781.4M1415.4 1611.2H1419.9M785.9 1625.2H778.9M1415.4 1625.2H1422.4M785.9 1639.2H781.4M1415.4 1639.2H1419.9M785.9 1653.1H778.9M1415.4 1653.1H1422.4M785.9 1667.1H781.4M1415.4 1667.1H1419.9M785.9 1681.1H778.9M1415.4 1681.1H1422.4M785.9 1695.1H781.4M1415.4 1695.1H1419.9" stroke="#000" stroke-width="1.9" fill="none"/>
<polygon points="813.9,1565.6 827.5,1565.6 820.7,1575.7" fill="#000"/>
<polygon points="955.4,1557.2 969,1557.2 962.2,1568.5" fill="#000"/>
<text x="785.9" y="1725.3" font-size="24" text-anchor="middle">0</text>
<text x="841.9" y="1725.3" font-size="24" text-anchor="middle">20</text>
<text x="897.8" y="1725.3" font-size="24" text-anchor="middle">40</text>
<text x="953.8" y="1725.3" font-size="24" text-anchor="middle">60</text>
<text x="1009.7" y="1725.3" font-size="24" text-anchor="middle">80</text>
<text x="1065.7" y="1725.3" font-size="24" text-anchor="middle">100</text>
<text x="1121.7" y="1725.3" font-size="24" text-anchor="middle">120</text>
<text x="1177.6" y="1725.3" font-size="24" text-anchor="middle">140</text>
<text x="1233.6" y="1725.3" font-size="24" text-anchor="middle">160</text>
<text x="1289.5" y="1725.3" font-size="24" text-anchor="middle">180</text>
<text x="1345.5" y="1725.3" font-size="24" text-anchor="middle">200</text>
<text x="1401.5" y="1725.3" font-size="24" text-anchor="middle">220</text>
<text x="773.3" y="1577.7" font-size="24" text-anchor="end">0</text>
<text x="773.3" y="1605.7" font-size="24" text-anchor="end">10</text>
<text x="773.3" y="1633.7" font-size="24" text-anchor="end">20</text>
<text x="773.3" y="1661.6" font-size="24" text-anchor="end">30</text>
<text x="773.3" y="1689.6" font-size="24" text-anchor="end">40</text>
<text x="785.9" y="1557.5" font-size="24" text-anchor="middle">C</text>
<text x="1415.4" y="1557.5" font-size="24" text-anchor="middle">C&#8217;</text>
<g clip-path="url(#c33)">
<rect x="88.9" y="1761.2" width="629.5" height="130.3" fill="#8afbb8"/>
<g clip-path="url(#c34)"><g filter="url(#b1)">
<polygon points="105.2,1781.1 111,1782 116.8,1783 122.6,1783.9 128.3,1785 134.1,1786 139.9,1787.1 145.7,1788.3 151.5,1789.5 157.3,1790.6 163.1,1791.8 168.9,1792.9 174.8,1794.1 180.6,1795.2 186.3,1796.4 192.1,1797.7 197.9,1799 203.7,1800.4 209.5,1802 215.3,1803.5 221.1,1804.9 227,1806.1 232.8,1807.3 238.6,1808.3 244.4,1809.3 250.2,1810.1 256,1810.9 261.9,1811.7 267.7,1812.3 273.5,1813 279.3,1813.5 285.1,1814.1 290.9,1814.6 296.7,1815.2 302.5,1815.7 308.3,1816.2 314.1,1816.7 319.9,1817.2 325.7,1817.6 331.5,1818.1 337.3,1818.5 343.1,1818.9 348.9,1819.3 354.7,1819.7 360.5,1820 366.4,1820.3 372.2,1820.6 378,1820.8 383.8,1821 389.6,1821.3 395.4,1821.5 401.2,1821.8 407,1822.2 412.7,1822.6 418.5,1823.1 424.3,1823.7 430.1,1824.4 435.9,1825.2 441.7,1826 447.5,1826.9 453.3,1827.8 459.1,1828.8 464.9,1829.8 470.7,1830.8 476.5,1831.8 482.3,1832.8 488.1,1833.8 493.9,1834.9 499.7,1835.9 505.5,1836.9 511.2,1838.1 517,1839.6 522.8,1841.6 528.5,1843.8 534.3,1846.3 540.1,1849 545.9,1851.7 551.7,1854.4 557.5,1857.1 563.3,1859.8 569.1,1862.4 574.9,1865.1 580.7,1867.9 586.5,1870.9 592.3,1874.1 598.1,1877.2 603.9,1880.4 609.7,1883.4 615.5,1886.5 621.3,1889.5 627,1893 618.4,1907.5 613,1904.2 607.6,1901.4 601.8,1898.4 595.9,1895.3 590,1892.1 584.2,1888.9 578.6,1885.8 573.1,1883 567.6,1880.3 562.1,1877.8 556.3,1875.2 550.4,1872.5 544.5,1869.7 538.7,1867 533,1864.3 527.4,1861.8 522.1,1859.4 517,1857.5 512.2,1855.8 507.4,1854.6 502.2,1853.5 496.7,1852.5 491,1851.5 485.2,1850.5 479.3,1849.5 473.5,1848.4 467.8,1847.4 462,1846.4 456.3,1845.4 450.6,1844.5 444.9,1843.6 439.3,1842.7 433.6,1841.9 428,1841.2 422.5,1840.5 416.9,1840 411.3,1839.5 405.8,1839 400.2,1838.7 394.6,1838.4 388.8,1838.1 383.1,1837.9 377.4,1837.7 371.5,1837.5 365.5,1837.2 359.6,1836.9 353.7,1836.6 347.9,1836.2 342,1835.8 336.1,1835.4 330.2,1834.9 324.4,1834.5 318.5,1834 312.7,1833.5 306.9,1833 301,1832.5 295.2,1832 289.3,1831.5 283.5,1830.9 277.6,1830.3 271.7,1829.8 265.8,1829.1 259.8,1828.4 253.9,1827.7 247.8,1826.9 241.8,1825.9 235.8,1824.9 229.7,1823.9 223.6,1822.7 217.5,1821.4 211.3,1819.9 205.1,1818.3 199.4,1816.8 194,1815.4 188.5,1814.1 182.9,1812.9 177.2,1811.8 171.5,1810.7 165.6,1809.5 159.8,1808.3 154,1807.2 148.2,1806 142.4,1804.8 136.7,1803.7 131,1802.6 125.4,1801.6 119.7,1800.6 114,1799.6 108.3,1798.7 102.5,1797.8" fill="#f8d978"/>
<rect x="100.7" y="1781.2" width="9.2" height="16.6" fill="#f8d978"/>
</g></g>
<g clip-path="url(#c35)"><g filter="url(#b1)">
<polygon points="105,1782.3 110.8,1783.2 116.6,1784.2 122.4,1785.1 128.1,1786.1 133.9,1787.2 139.7,1788.3 145.5,1789.5 151.3,1790.6 157.1,1791.8 162.9,1793 168.7,1794.1 174.5,1795.3 180.3,1796.4 186.1,1797.6 191.9,1798.8 197.6,1800.2 203.4,1801.6 209.2,1803.2 215,1804.7 220.9,1806.1 226.7,1807.3 232.6,1808.4 238.4,1809.5 244.2,1810.4 250.1,1811.3 255.9,1812.1 261.7,1812.9 267.5,1813.5 273.3,1814.2 279.2,1814.7 285,1815.3 290.8,1815.8 296.6,1816.4 302.4,1816.9 308.2,1817.4 314,1817.9 319.8,1818.4 325.6,1818.8 331.4,1819.3 337.2,1819.7 343,1820.1 348.9,1820.5 354.7,1820.9 360.5,1821.2 366.3,1821.5 372.1,1821.8 377.9,1822 383.7,1822.2 389.5,1822.5 395.3,1822.7 401.1,1823 406.9,1823.4 412.6,1823.8 418.4,1824.3 424.2,1824.9 430,1825.6 435.7,1826.4 441.5,1827.2 447.3,1828.1 453.1,1829 458.9,1830 464.7,1831 470.5,1832 476.3,1833 482.1,1834 487.9,1835 493.7,1836 499.5,1837.1 505.2,1838.1 511,1839.3 516.7,1840.8 522.3,1842.7 528.1,1844.9 533.8,1847.4 539.6,1850.1 545.4,1852.8 551.2,1855.5 557,1858.2 562.8,1860.9 568.6,1863.5 574.4,1866.2 580.1,1869 585.9,1872 591.7,1875.1 597.5,1878.3 603.3,1881.4 609.1,1884.5 614.9,1887.5 620.7,1890.6 626.4,1894 619.3,1905.9 613.8,1902.7 608.5,1899.8 602.7,1896.8 596.8,1893.7 590.9,1890.5 585,1887.3 579.4,1884.3 573.9,1881.4 568.4,1878.7 562.8,1876.1 557.1,1873.5 551.2,1870.8 545.3,1868.1 539.5,1865.3 533.8,1862.7 528.2,1860.1 522.8,1857.8 517.6,1855.8 512.7,1854.1 507.8,1852.8 502.6,1851.7 497.1,1850.7 491.3,1849.7 485.5,1848.7 479.7,1847.7 473.9,1846.7 468.1,1845.6 462.3,1844.6 456.6,1843.7 450.9,1842.7 445.2,1841.8 439.5,1840.9 433.9,1840.1 428.2,1839.4 422.7,1838.7 417.1,1838.2 411.5,1837.7 405.9,1837.2 400.3,1836.9 394.6,1836.6 388.9,1836.3 383.2,1836.1 377.4,1835.9 371.5,1835.7 365.6,1835.4 359.7,1835.1 353.8,1834.8 348,1834.4 342.1,1834 336.2,1833.6 330.4,1833.1 324.5,1832.7 318.7,1832.2 312.8,1831.7 307,1831.2 301.2,1830.7 295.3,1830.2 289.5,1829.7 283.7,1829.1 277.8,1828.6 271.9,1828 266,1827.3 260,1826.6 254.1,1825.9 248.1,1825.1 242,1824.2 236.1,1823.2 230,1822.1 223.9,1820.9 217.9,1819.6 211.7,1818.2 205.6,1816.6 199.9,1815 194.4,1813.7 188.9,1812.4 183.3,1811.2 177.6,1810 171.8,1808.9 166,1807.7 160.2,1806.6 154.4,1805.4 148.6,1804.2 142.8,1803.1 137,1801.9 131.3,1800.8 125.7,1799.8 120,1798.8 114.3,1797.9 108.5,1796.9 102.7,1796" fill="#f6602e"/>
<rect x="103.1" y="1782.5" width="8.2" height="13.5" fill="#f6602e"/>
</g></g>
<polygon points="88.9,1759.2 88.9,1773 143.6,1773 152.6,1769.8 197.6,1767.4 231.4,1765.4 300,1765 344,1763.6 400,1765.2 460,1765.6 520,1765.1 580,1765.7 640,1765.4 718.4,1765.7 718.4,1759.2" fill="#bdbdc0"/>
<polyline points="88.9,1773 143.6,1773 152.6,1769.8 197.6,1767.4 231.4,1765.4 300,1765 344,1763.6 400,1765.2 460,1765.6 520,1765.1 580,1765.7 640,1765.4 718.4,1765.7" fill="none" stroke="#000" stroke-width="1.7"/>
<polyline points="105.3,1780.2 106.8,1780.5 109.9,1781 114.6,1781.7 120.7,1782.7 127.5,1783.9 134.8,1785.2 142.7,1786.8 151.1,1788.4 159.6,1790.1 168,1791.8 176.5,1793.5 184.9,1795.2 192.7,1796.8 199.7,1798.5 206,1800.1 211.7,1801.7 218,1803.3 225,1804.8 232.8,1806.3 241.2,1807.8 250.4,1809.3 260.2,1810.6 270.8,1811.8 282.1,1812.9 294.1,1814 306.7,1815.2 320.1,1816.3 334.2,1817.4 347.5,1818.4 360.2,1819.1 372.1,1819.7 383.2,1820.1 393,1820.5 401.4,1820.9 408.4,1821.4 414.1,1821.8 419.7,1822.3 425.3,1823 430.9,1823.6 436.6,1824.4 442.2,1825.2 447.8,1826 453.5,1826.9 459.1,1827.9 464.8,1828.8 470.4,1829.8 476,1830.8 481.7,1831.8 487.3,1832.8 492.9,1833.8 498.5,1834.8 504.2,1835.7 509.2,1836.8 513.7,1837.8 517.7,1838.9 521,1840 524.4,1841.2 527.8,1842.5 531.2,1844 534.5,1845.5 538.2,1847.1 542.1,1848.9 546.4,1850.9 550.9,1853.1 555.7,1855.3 560.8,1857.7 566.1,1860.1 571.8,1862.6 577.4,1865.3 583,1868.1 588.6,1871.1 594.3,1874.2 599.9,1877.2 605.5,1880.2 611.1,1883.2 616.8,1886.1 621.1,1888.4 624.2,1890.1 626.1,1891.1 626.6,1891.6 627.1,1891.9 627.4,1892.1 627.5,1892.2" fill="none" stroke="#000" stroke-width="1.8"/>
</g>
<rect x="88.9" y="1761.2" width="629.5" height="130.3" fill="none" stroke="#000" stroke-width="1.9"/>
<path d="M88.9 1761.2V1754.2M88.9 1891.5V1898.5M102.9 1761.2V1756.7M102.9 1891.5V1896M116.9 1761.2V1756.7M116.9 1891.5V1896M130.9 1761.2V1756.7M130.9 1891.5V1896M144.9 1761.2V1754.2M144.9 1891.5V1898.5M158.9 1761.2V1756.7M158.9 1891.5V1896M172.8 1761.2V1756.7M172.8 1891.5V1896M186.8 1761.2V1756.7M186.8 1891.5V1896M200.8 1761.2V1754.2M200.8 1891.5V1898.5M214.8 1761.2V1756.7M214.8 1891.5V1896M228.8 1761.2V1756.7M228.8 1891.5V1896M242.8 1761.2V1756.7M242.8 1891.5V1896M256.8 1761.2V1754.2M256.8 1891.5V1898.5M270.8 1761.2V1756.7M270.8 1891.5V1896M284.8 1761.2V1756.7M284.8 1891.5V1896M298.8 1761.2V1756.7M298.8 1891.5V1896M312.7 1761.2V1754.2M312.7 1891.5V1898.5M326.7 1761.2V1756.7M326.7 1891.5V1896M340.7 1761.2V1756.7M340.7 1891.5V1896M354.7 1761.2V1756.7M354.7 1891.5V1896M368.7 1761.2V1754.2M368.7 1891.5V1898.5M382.7 1761.2V1756.7M382.7 1891.5V1896M396.7 1761.2V1756.7M396.7 1891.5V1896M410.7 1761.2V1756.7M410.7 1891.5V1896M424.7 1761.2V1754.2M424.7 1891.5V1898.5M438.6 1761.2V1756.7M438.6 1891.5V1896M452.6 1761.2V1756.7M452.6 1891.5V1896M466.6 1761.2V1756.7M466.6 1891.5V1896M480.6 1761.2V1754.2M480.6 1891.5V1898.5M494.6 1761.2V1756.7M494.6 1891.5V1896M508.6 1761.2V1756.7M508.6 1891.5V1896M522.6 1761.2V1756.7M522.6 1891.5V1896M536.6 1761.2V1754.2M536.6 1891.5V1898.5M550.6 1761.2V1756.7M550.6 1891.5V1896M564.6 1761.2V1756.7M564.6 1891.5V1896M578.6 1761.2V1756.7M578.6 1891.5V1896M592.5 1761.2V1754.2M592.5 1891.5V1898.5M606.5 1761.2V1756.7M606.5 1891.5V1896M620.5 1761.2V1756.7M620.5 1891.5V1896M634.5 1761.2V1756.7M634.5 1891.5V1896M648.5 1761.2V1754.2M648.5 1891.5V1898.5M662.5 1761.2V1756.7M662.5 1891.5V1896M676.5 1761.2V1756.7M676.5 1891.5V1896M690.5 1761.2V1756.7M690.5 1891.5V1896M704.5 1761.2V1754.2M704.5 1891.5V1898.5M718.4 1761.2V1756.7M718.4 1891.5V1896M88.9 1765.6H81.9M718.4 1765.6H725.4M88.9 1779.6H84.4M718.4 1779.6H722.9M88.9 1793.6H81.9M718.4 1793.6H725.4M88.9 1807.6H84.4M718.4 1807.6H722.9M88.9 1821.6H81.9M718.4 1821.6H725.4M88.9 1835.5H84.4M718.4 1835.5H722.9M88.9 1849.5H81.9M718.4 1849.5H725.4M88.9 1863.5H84.4M718.4 1863.5H722.9M88.9 1877.5H81.9M718.4 1877.5H725.4M88.9 1891.5H84.4M718.4 1891.5H722.9" stroke="#000" stroke-width="1.9" fill="none"/>
<polygon points="112,1761.7 125.6,1761.7 118.8,1771.8" fill="#000"/>
<polygon points="269.6,1752.7 283.2,1752.7 276.4,1765.1" fill="#000"/>
<text x="88.9" y="1921.7" font-size="24" text-anchor="middle">0</text>
<text x="144.9" y="1921.7" font-size="24" text-anchor="middle">20</text>
<text x="200.8" y="1921.7" font-size="24" text-anchor="middle">40</text>
<text x="256.8" y="1921.7" font-size="24" text-anchor="middle">60</text>
<text x="312.7" y="1921.7" font-size="24" text-anchor="middle">80</text>
<text x="368.7" y="1921.7" font-size="24" text-anchor="middle">100</text>
<text x="424.7" y="1921.7" font-size="24" text-anchor="middle">120</text>
<text x="480.6" y="1921.7" font-size="24" text-anchor="middle">140</text>
<text x="536.6" y="1921.7" font-size="24" text-anchor="middle">160</text>
<text x="592.5" y="1921.7" font-size="24" text-anchor="middle">180</text>
<text x="648.5" y="1921.7" font-size="24" text-anchor="middle">200</text>
<text x="704.5" y="1921.7" font-size="24" text-anchor="middle">220</text>
<text x="76.3" y="1774.1" font-size="24" text-anchor="end">0</text>
<text x="76.3" y="1802.1" font-size="24" text-anchor="end">10</text>
<text x="76.3" y="1830.1" font-size="24" text-anchor="end">20</text>
<text x="76.3" y="1858" font-size="24" text-anchor="end">30</text>
<text x="76.3" y="1886" font-size="24" text-anchor="end">40</text>
<text x="88.9" y="1753.6" font-size="24" text-anchor="middle">D</text>
<text x="718.4" y="1753.6" font-size="24" text-anchor="middle">D&#8217;</text>
<text x="0" y="0" font-size="25.6" text-anchor="middle" transform="translate(36.3 1826.4) rotate(-90)">Depth (km)</text>
<g clip-path="url(#c36)">
<rect x="785.9" y="1761.2" width="629.5" height="130.3" fill="#78ffba"/>
<g filter="url(#b6)">
<ellipse cx="1310.5" cy="1867.7" rx="109.1" ry="26" fill="#aeff99"/>
<ellipse cx="1240.6" cy="1779.6" rx="179.1" ry="16.2" fill="#72ffbe"/>
<ellipse cx="1079.7" cy="1846.7" rx="130.1" ry="10.6" fill="#6effc0"/>
<ellipse cx="830.7" cy="1824.8" rx="49" ry="9.1" fill="#ffd45c"/>
<ellipse cx="812.5" cy="1825.1" rx="14" ry="7.1" fill="#ffaa4b"/>
<ellipse cx="853.1" cy="1817.4" rx="15.4" ry="6.4" fill="#ffaa4b"/>
<ellipse cx="855.9" cy="1835" rx="12.6" ry="7.8" fill="#ffd45c"/>
<ellipse cx="850.7" cy="1793.3" rx="24.2" ry="9" fill="#ffea65"/>
<ellipse cx="1037.7" cy="1782.1" rx="21" ry="6.7" fill="#ffff6e"/>
<ellipse cx="981.8" cy="1867.4" rx="9.8" ry="6.7" fill="#ffea65"/>
<ellipse cx="909" cy="1792.2" rx="15.4" ry="10.1" fill="#00e3ff"/>
<ellipse cx="813.9" cy="1860.7" rx="32.2" ry="13.4" fill="#0dfff8"/>
<ellipse cx="929.2" cy="1869.8" rx="17.6" ry="9.1" fill="#00d4ff"/>
<ellipse cx="942.6" cy="1849.5" rx="15.4" ry="6.7" fill="#27ffea"/>
<ellipse cx="854.5" cy="1808" rx="11.2" ry="5.5" fill="#40ffdb"/>
<ellipse cx="981.8" cy="1791.1" rx="21" ry="6.7" fill="#40ffdb"/>
<ellipse cx="1054.5" cy="1849.5" rx="49" ry="7.8" fill="#40ffdb"/>
<ellipse cx="1370.7" cy="1806.7" rx="49" ry="9" fill="#ffd45c"/>
<ellipse cx="1394.5" cy="1806.2" rx="25.2" ry="6.4" fill="#ff9f46"/>
<ellipse cx="1223.8" cy="1869.8" rx="39.2" ry="9.1" fill="#fff46a"/>
<ellipse cx="1131.5" cy="1871.9" rx="36.4" ry="7.8" fill="#ffff6e"/>
<ellipse cx="1121.7" cy="1784.3" rx="26.6" ry="9" fill="#40ffdb"/>
<ellipse cx="1223.8" cy="1805.6" rx="28" ry="7.8" fill="#0dfff8"/>
<ellipse cx="1348.3" cy="1781" rx="26.6" ry="7.8" fill="#0dfff8"/>
<ellipse cx="1166.4" cy="1856.3" rx="49" ry="6.7" fill="#40ffdb"/>
<ellipse cx="1376.3" cy="1837.2" rx="32.2" ry="10.1" fill="#40ffdb"/>
</g>
<polygon points="866.7,1789.3 872.5,1790.5 878.3,1791.6 884.1,1792.8 889.9,1794 895.8,1795.4 901.6,1796.9 907.5,1798.5 913.2,1799.9 909.3,1815.7 903.3,1814.1 897.5,1812.6 892,1811.2 886.4,1809.9 880.8,1808.7 875.1,1807.5 869.3,1806.4 863.5,1805.2" fill="url(#g22)" filter="url(#b4)"/>
<polygon points="900.3,1802 906.1,1803.6 911.9,1805.1 917.8,1806.5 923.6,1807.7 929.5,1808.9 935.3,1809.9 941.2,1810.8 947,1811.7 952.8,1812.5 958.7,1813.3 964.5,1813.9 970.3,1814.6 976.1,1815.1 981.9,1815.7 987.7,1816.3 993.5,1816.8 999.4,1817.3 1005.2,1817.8 1011,1818.3 1016.8,1818.8 1022.6,1819.3 1028.4,1819.7 1034.2,1820.2 1040,1820.6 1045.8,1821 1051.6,1821.3 1057.5,1821.7 1063.3,1821.9 1069.1,1822.2 1074.9,1822.4 1080.7,1822.6 1086.5,1822.9 1092.3,1823.1 1098.1,1823.4 1103.8,1823.8 1109.6,1824.2 1115.4,1824.8 1121.1,1825.4 1126.9,1826 1132.7,1826.8 1138.5,1827.6 1144.2,1828.5 1150,1829.4 1155.8,1830.4 1161.6,1831.4 1167.4,1832.4 1173.2,1833.4 1179,1834.4 1184.8,1835.4 1190.6,1836.5 1196.4,1837.5 1202.2,1838.5 1207.9,1839.7 1213.5,1841.2 1219.2,1843.1 1224.9,1845.3 1230.6,1847.8 1236.4,1850.4 1242.2,1853.1 1248,1855.9 1253.8,1858.6 1248,1871.3 1242.1,1868.6 1236.2,1865.8 1230.5,1863.1 1224.9,1860.6 1219.6,1858.3 1214.4,1856.3 1209.5,1854.6 1204.7,1853.3 1199.5,1852.2 1194,1851.2 1188.2,1850.2 1182.4,1849.2 1176.6,1848.2 1170.8,1847.2 1165,1846.2 1159.2,1845.2 1153.5,1844.2 1147.8,1843.2 1142.1,1842.3 1136.4,1841.5 1130.8,1840.7 1125.2,1839.9 1119.6,1839.3 1114,1838.7 1108.5,1838.2 1102.9,1837.8 1097.3,1837.4 1091.6,1837.1 1085.9,1836.9 1080.2,1836.6 1074.4,1836.4 1068.5,1836.2 1062.6,1835.9 1056.7,1835.6 1050.8,1835.3 1044.9,1834.9 1039,1834.5 1033.2,1834.1 1027.3,1833.7 1021.5,1833.2 1015.6,1832.7 1009.8,1832.2 1004,1831.7 998.1,1831.2 992.3,1830.7 986.4,1830.2 980.6,1829.6 974.8,1829.1 968.9,1828.5 962.9,1827.8 957,1827.2 951,1826.4 945,1825.6 939,1824.7 933,1823.7 926.9,1822.6 920.8,1821.4 914.8,1820.1 908.6,1818.7 902.5,1817.1 896.8,1815.5" fill="url(#g23)" filter="url(#b4)"/>
<polygon points="905.6,1805.5 911.5,1807 917.4,1808.4 923.3,1809.6 929.1,1810.8 935,1811.8 940.9,1812.8 946.7,1813.7 952.6,1814.5 958.4,1815.2 964.3,1815.9 970.1,1816.5 975.9,1817.1 981.7,1817.7 987.6,1818.2 993.4,1818.7 999.2,1819.3 1005,1819.8 1010.8,1820.2 1016.6,1820.7 1022.4,1821.2 1028.2,1821.7 1034.1,1822.1 1039.9,1822.5 1045.7,1822.9 1051.5,1823.3 1057.4,1823.6 1063.2,1823.9 1069,1824.2 1074.8,1824.4 1080.6,1824.6 1086.4,1824.8 1092.2,1825.1 1098,1825.4 1103.7,1825.8 1109.4,1826.2 1115.2,1826.7 1120.9,1827.3 1126.7,1828 1132.4,1828.7 1138.2,1829.6 1143.9,1830.4 1149.7,1831.3 1155.5,1832.3 1161.3,1833.3 1167.1,1834.3 1172.9,1835.3 1178.7,1836.3 1184.5,1837.4 1190.3,1838.4 1196.1,1839.4 1201.8,1840.4 1207.4,1841.6 1213,1843.1 1218.5,1845 1224.2,1847.1 1220.5,1855.9 1215.3,1853.9 1210.2,1852.2 1205.2,1850.9 1200,1849.8 1194.4,1848.8 1188.6,1847.8 1182.8,1846.7 1177,1845.7 1171.2,1844.7 1165.4,1843.7 1159.7,1842.7 1153.9,1841.7 1148.2,1840.7 1142.5,1839.8 1136.8,1839 1131.1,1838.2 1125.5,1837.4 1119.9,1836.8 1114.3,1836.2 1108.7,1835.7 1103.1,1835.2 1097.4,1834.9 1091.7,1834.6 1086,1834.3 1080.3,1834.1 1074.5,1833.9 1068.6,1833.7 1062.7,1833.4 1056.8,1833.1 1051,1832.8 1045.1,1832.4 1039.2,1832 1033.4,1831.6 1027.5,1831.2 1021.7,1830.7 1015.8,1830.2 1010,1829.7 1004.2,1829.2 998.3,1828.7 992.5,1828.2 986.7,1827.7 980.8,1827.1 975,1826.6 969.1,1826 963.2,1825.3 957.3,1824.7 951.3,1823.9 945.4,1823.1 939.4,1822.2 933.4,1821.2 927.4,1820.1 921.3,1818.9 915.3,1817.7 909.2,1816.2 903.1,1814.7" fill="url(#g24)" filter="url(#b3)"/>
<polygon points="785.9,1759.2 785.9,1773 840.6,1773 849.6,1769.8 894.6,1767.4 928.4,1765.4 997,1765 1041,1763.6 1097,1765.2 1157,1765.6 1217,1765.1 1277,1765.7 1337,1765.4 1415.4,1765.7 1415.4,1759.2" fill="#bdbdc0"/>
<rect x="785.9" y="1761.2" width="193.1" height="11.4" fill="#bdbdc0"/>
<line x1="786.4" y1="1793.6" x2="1415.4" y2="1793.6" stroke="#000" stroke-width="2" stroke-dasharray="12,7"/>
<line x1="786.4" y1="1821.6" x2="1415.4" y2="1821.6" stroke="#000" stroke-width="2" stroke-dasharray="12,7"/>
<line x1="786.4" y1="1849.5" x2="1415.4" y2="1849.5" stroke="#000" stroke-width="2" stroke-dasharray="12,7"/>
<line x1="786.4" y1="1877.5" x2="1415.4" y2="1877.5" stroke="#000" stroke-width="2" stroke-dasharray="12,7"/>
<polyline points="785.9,1773 840.6,1773 849.6,1769.8 894.6,1767.4 928.4,1765.4 997,1765 1041,1763.6 1097,1765.2 1157,1765.6 1217,1765.1 1277,1765.7 1337,1765.4 1415.4,1765.7" fill="none" stroke="#000" stroke-width="1.7"/>
<polyline points="802.3,1780.2 803.8,1780.5 806.9,1781 811.6,1781.7 817.7,1782.7 824.5,1783.9 831.8,1785.2 839.7,1786.8 848.1,1788.4 856.6,1790.1 865,1791.8 873.5,1793.5 881.9,1795.2 889.7,1796.8 896.7,1798.5 903,1800.1 908.7,1801.7 915,1803.3 922,1804.8 929.8,1806.3 938.2,1807.8 947.4,1809.3 957.2,1810.6 967.8,1811.8 979.1,1812.9 991.1,1814 1003.7,1815.2 1017.1,1816.3 1031.2,1817.4 1044.5,1818.4 1057.2,1819.1 1069.1,1819.7 1080.2,1820.1 1090,1820.5 1098.4,1820.9 1105.4,1821.4 1111.1,1821.8 1116.7,1822.3 1122.3,1823 1127.9,1823.6 1133.6,1824.4 1139.2,1825.2 1144.8,1826 1150.5,1826.9 1156.1,1827.9 1161.8,1828.8 1167.4,1829.8 1173,1830.8 1178.7,1831.8 1184.3,1832.8 1189.9,1833.8 1195.5,1834.8 1201.2,1835.7 1206.2,1836.8 1210.7,1837.8 1214.7,1838.9 1218,1840 1221.4,1841.2 1224.8,1842.5 1228.2,1844 1231.5,1845.5 1235.2,1847.1 1239.2,1848.9 1243.4,1850.9 1247.9,1853.1 1252.7,1855.3 1257.8,1857.7 1263.1,1860.1 1268.8,1862.6 1274.4,1865.3 1280,1868.1 1285.6,1871.1 1291.3,1874.2 1296.9,1877.2 1302.5,1880.2 1308.1,1883.2 1313.8,1886.1 1318.1,1888.4 1321.2,1890.1 1323.1,1891.1 1323.6,1891.6 1324.1,1891.9 1324.4,1892.1 1324.5,1892.2" fill="none" stroke="#000" stroke-width="1.8"/>
</g>
<rect x="785.9" y="1761.2" width="629.5" height="130.3" fill="none" stroke="#000" stroke-width="1.9"/>
<path d="M785.9 1761.2V1754.2M785.9 1891.5V1898.5M799.9 1761.2V1756.7M799.9 1891.5V1896M813.9 1761.2V1756.7M813.9 1891.5V1896M827.9 1761.2V1756.7M827.9 1891.5V1896M841.9 1761.2V1754.2M841.9 1891.5V1898.5M855.9 1761.2V1756.7M855.9 1891.5V1896M869.8 1761.2V1756.7M869.8 1891.5V1896M883.8 1761.2V1756.7M883.8 1891.5V1896M897.8 1761.2V1754.2M897.8 1891.5V1898.5M911.8 1761.2V1756.7M911.8 1891.5V1896M925.8 1761.2V1756.7M925.8 1891.5V1896M939.8 1761.2V1756.7M939.8 1891.5V1896M953.8 1761.2V1754.2M953.8 1891.5V1898.5M967.8 1761.2V1756.7M967.8 1891.5V1896M981.8 1761.2V1756.7M981.8 1891.5V1896M995.8 1761.2V1756.7M995.8 1891.5V1896M1009.7 1761.2V1754.2M1009.7 1891.5V1898.5M1023.7 1761.2V1756.7M1023.7 1891.5V1896M1037.7 1761.2V1756.7M1037.7 1891.5V1896M1051.7 1761.2V1756.7M1051.7 1891.5V1896M1065.7 1761.2V1754.2M1065.7 1891.5V1898.5M1079.7 1761.2V1756.7M1079.7 1891.5V1896M1093.7 1761.2V1756.7M1093.7 1891.5V1896M1107.7 1761.2V1756.7M1107.7 1891.5V1896M1121.7 1761.2V1754.2M1121.7 1891.5V1898.5M1135.7 1761.2V1756.7M1135.7 1891.5V1896M1149.6 1761.2V1756.7M1149.6 1891.5V1896M1163.6 1761.2V1756.7M1163.6 1891.5V1896M1177.6 1761.2V1754.2M1177.6 1891.5V1898.5M1191.6 1761.2V1756.7M1191.6 1891.5V1896M1205.6 1761.2V1756.7M1205.6 1891.5V1896M1219.6 1761.2V1756.7M1219.6 1891.5V1896M1233.6 1761.2V1754.2M1233.6 1891.5V1898.5M1247.6 1761.2V1756.7M1247.6 1891.5V1896M1261.6 1761.2V1756.7M1261.6 1891.5V1896M1275.5 1761.2V1756.7M1275.5 1891.5V1896M1289.5 1761.2V1754.2M1289.5 1891.5V1898.5M1303.5 1761.2V1756.7M1303.5 1891.5V1896M1317.5 1761.2V1756.7M1317.5 1891.5V1896M1331.5 1761.2V1756.7M1331.5 1891.5V1896M1345.5 1761.2V1754.2M1345.5 1891.5V1898.5M1359.5 1761.2V1756.7M1359.5 1891.5V1896M1373.5 1761.2V1756.7M1373.5 1891.5V1896M1387.5 1761.2V1756.7M1387.5 1891.5V1896M1401.5 1761.2V1754.2M1401.5 1891.5V1898.5M1415.4 1761.2V1756.7M1415.4 1891.5V1896M785.9 1765.6H778.9M1415.4 1765.6H1422.4M785.9 1779.6H781.4M1415.4 1779.6H1419.9M785.9 1793.6H778.9M1415.4 1793.6H1422.4M785.9 1807.6H781.4M1415.4 1807.6H1419.9M785.9 1821.6H778.9M1415.4 1821.6H1422.4M785.9 1835.5H781.4M1415.4 1835.5H1419.9M785.9 1849.5H778.9M1415.4 1849.5H1422.4M785.9 1863.5H781.4M1415.4 1863.5H1419.9M785.9 1877.5H778.9M1415.4 1877.5H1422.4M785.9 1891.5H781.4M1415.4 1891.5H1419.9" stroke="#000" stroke-width="1.9" fill="none"/>
<polygon points="809,1761.7 822.6,1761.7 815.8,1771.8" fill="#000"/>
<polygon points="966.6,1752.7 980.2,1752.7 973.4,1765.1" fill="#000"/>
<text x="785.9" y="1921.7" font-size="24" text-anchor="middle">0</text>
<text x="841.9" y="1921.7" font-size="24" text-anchor="middle">20</text>
<text x="897.8" y="1921.7" font-size="24" text-anchor="middle">40</text>
<text x="953.8" y="1921.7" font-size="24" text-anchor="middle">60</text>
<text x="1009.7" y="1921.7" font-size="24" text-anchor="middle">80</text>
<text x="1065.7" y="1921.7" font-size="24" text-anchor="middle">100</text>
<text x="1121.7" y="1921.7" font-size="24" text-anchor="middle">120</text>
<text x="1177.6" y="1921.7" font-size="24" text-anchor="middle">140</text>
<text x="1233.6" y="1921.7" font-size="24" text-anchor="middle">160</text>
<text x="1289.5" y="1921.7" font-size="24" text-anchor="middle">180</text>
<text x="1345.5" y="1921.7" font-size="24" text-anchor="middle">200</text>
<text x="1401.5" y="1921.7" font-size="24" text-anchor="middle">220</text>
<text x="773.3" y="1774.1" font-size="24" text-anchor="end">0</text>
<text x="773.3" y="1802.1" font-size="24" text-anchor="end">10</text>
<text x="773.3" y="1830.1" font-size="24" text-anchor="end">20</text>
<text x="773.3" y="1858" font-size="24" text-anchor="end">30</text>
<text x="773.3" y="1886" font-size="24" text-anchor="end">40</text>
<text x="785.9" y="1753.6" font-size="24" text-anchor="middle">D</text>
<text x="1415.4" y="1753.6" font-size="24" text-anchor="middle">D&#8217;</text>
<g clip-path="url(#c37)">
<rect x="88.9" y="1965.2" width="469.7" height="122.3" fill="#8afbb8"/>
<g clip-path="url(#c38)"><g filter="url(#b1)">
<polygon points="115.3,1989 120.2,1989.6 125.1,1990.2 130.1,1990.9 135,1991.5 139.9,1992.1 144.8,1992.8 149.7,1993.6 154.7,1994.4 159.6,1995.1 164.5,1996 169.4,1996.9 174.3,1997.8 179.2,1998.7 184.2,1999.6 189.1,2000.7 194,2001.7 198.9,2002.8 203.8,2004 208.7,2005.3 213.6,2006.5 218.6,2008 223.5,2009.4 228.4,2010.8 233.3,2012.2 238.3,2013.6 243.2,2015 248.1,2016.4 253,2017.8 258,2019.2 262.9,2020.6 267.8,2022 272.8,2023.2 277.7,2024.5 282.6,2025.7 287.6,2026.8 292.5,2028 297.4,2029.1 302.3,2030.1 307.3,2031.1 312.2,2032.1 317.1,2033.1 322.1,2034 327,2035 331.9,2035.9 336.8,2036.8 341.8,2037.8 346.7,2038.7 351.6,2039.7 356.5,2040.6 361.5,2041.6 366.4,2042.5 371.3,2043.5 376.2,2044.4 381.1,2045.4 386.1,2046.3 391,2047.3 395.9,2048.3 400.9,2049.2 405.8,2050 410.7,2050.9 415.6,2051.7 420.6,2052.5 425.5,2053.3 430.4,2054.1 435.4,2054.7 440.3,2055.4 445.2,2056.1 450.2,2056.7 455.1,2057.3 460,2057.9 464.9,2058.5 469.9,2059 474.8,2059.6 479.7,2060.1 484.6,2060.7 489.6,2061.2 494.5,2061.7 499.4,2062.2 504.3,2062.7 509.3,2063.2 514.2,2063.7 519.1,2064.1 524,2064.6 529,2065 533.9,2065.5 538.8,2065.9 543.7,2066.4 548.7,2066.8 553.6,2067.3 558.6,2067.3 558.6,2086.9 552.7,2086.9 546.9,2086.4 542,2085.9 537,2085.5 532.1,2085.1 527.2,2084.6 522.3,2084.2 517.3,2083.7 512.3,2083.2 507.4,2082.8 502.4,2082.3 497.4,2081.8 492.5,2081.3 487.5,2080.8 482.6,2080.2 477.6,2079.7 472.6,2079.1 467.7,2078.6 462.7,2078 457.7,2077.4 452.8,2076.9 447.7,2076.3 442.6,2075.6 437.6,2074.9 432.7,2074.2 427.5,2073.5 422.5,2072.7 417.5,2071.9 412.5,2071.2 407.4,2070.3 402.4,2069.4 397.4,2068.5 392.3,2067.6 387.2,2066.6 382.3,2065.6 377.4,2064.7 372.5,2063.7 367.6,2062.8 362.6,2061.8 357.7,2060.9 352.8,2059.9 347.9,2059 343,2058 338.1,2057.1 333.1,2056.2 328.2,2055.2 323.3,2054.3 318.4,2053.4 313.5,2052.4 308.3,2051.4 303.3,2050.4 298.3,2049.4 293.2,2048.3 288.1,2047.1 283.2,2046 278,2044.8 272.9,2043.6 267.9,2042.3 262.7,2041 257.6,2039.5 252.6,2038.1 247.7,2036.8 242.8,2035.4 237.8,2034 232.9,2032.6 227.9,2031.2 223,2029.7 218,2028.3 213.1,2026.9 208.4,2025.5 203.8,2024.3 199.1,2023.1 194.5,2022 189.7,2020.9 185,2019.9 180.3,2018.9 175.6,2018 170.7,2017.1 165.9,2016.2 161.1,2015.4 156.3,2014.5 151.5,2013.8 146.7,2013 142,2012.3 137.2,2011.6 132.5,2011 127.6,2010.4 122.7,2009.8 117.7,2009.1 112.8,2008.5" fill="#f8d978"/>
<rect x="109" y="1989.1" width="11" height="19.4" fill="#f8d978"/>
</g></g>
<g clip-path="url(#c39)"><g filter="url(#b1)">
<polygon points="115.1,1990.2 120.1,1990.8 125,1991.4 129.9,1992 134.8,1992.7 139.7,1993.3 144.6,1994 149.6,1994.8 154.5,1995.5 159.4,1996.3 164.3,1997.2 169.2,1998 174.1,1998.9 179,1999.9 183.9,2000.8 188.8,2001.8 193.7,2002.9 198.6,2004 203.5,2005.2 208.4,2006.4 213.3,2007.7 218.2,2009.1 223.2,2010.6 228.1,2012 233,2013.4 237.9,2014.8 242.9,2016.2 247.8,2017.6 252.7,2019 257.6,2020.4 262.6,2021.7 267.5,2023.1 272.5,2024.4 277.4,2025.6 282.3,2026.9 287.3,2028 292.2,2029.1 297.2,2030.2 302.1,2031.3 307,2032.3 312,2033.3 316.9,2034.3 321.8,2035.2 326.8,2036.1 331.7,2037.1 336.6,2038 341.5,2038.9 346.5,2039.9 351.4,2040.8 356.3,2041.8 361.2,2042.7 366.1,2043.7 371.1,2044.6 376,2045.6 380.9,2046.5 385.8,2047.5 390.8,2048.5 395.7,2049.4 400.6,2050.3 405.6,2051.2 410.5,2052.1 415.5,2052.9 420.4,2053.7 425.3,2054.5 430.3,2055.2 435.2,2055.9 440.1,2056.6 445.1,2057.3 450,2057.9 454.9,2058.5 459.9,2059.1 464.8,2059.7 469.7,2060.2 474.7,2060.8 479.6,2061.3 484.5,2061.9 489.4,2062.4 494.4,2062.9 499.3,2063.4 504.2,2063.9 509.2,2064.4 514.1,2064.8 519,2065.3 523.9,2065.8 528.9,2066.2 533.8,2066.7 538.7,2067.1 543.6,2067.5 548.6,2068 553.6,2068.5 558.6,2068.5 558.6,2085.1 552.8,2085.1 547.1,2084.6 542.1,2084.2 537.2,2083.7 532.3,2083.3 527.4,2082.8 522.4,2082.4 517.5,2081.9 512.5,2081.4 507.5,2081 502.6,2080.5 497.6,2080 492.6,2079.5 487.7,2079 482.8,2078.4 477.8,2077.9 472.8,2077.4 467.9,2076.8 462.9,2076.3 457.9,2075.7 453,2075.1 448,2074.5 442.9,2073.8 437.9,2073.1 432.9,2072.5 427.8,2071.7 422.7,2070.9 417.8,2070.2 412.8,2069.4 407.7,2068.5 402.7,2067.6 397.7,2066.8 392.6,2065.8 387.6,2064.8 382.6,2063.9 377.7,2062.9 372.8,2062 367.9,2061 363,2060.1 358.1,2059.1 353.1,2058.2 348.2,2057.2 343.3,2056.3 338.4,2055.3 333.5,2054.4 328.6,2053.4 323.7,2052.5 318.7,2051.6 313.8,2050.6 308.7,2049.7 303.6,2048.6 298.7,2047.6 293.6,2046.5 288.5,2045.4 283.6,2044.3 278.5,2043.1 273.3,2041.8 268.4,2040.6 263.2,2039.2 258.1,2037.8 253.1,2036.4 248.2,2035 243.3,2033.6 238.3,2032.2 233.4,2030.8 228.4,2029.4 223.5,2028 218.5,2026.6 213.6,2025.1 208.9,2023.8 204.2,2022.6 199.5,2021.3 194.9,2020.3 190.1,2019.1 185.4,2018.2 180.6,2017.2 175.9,2016.2 171.1,2015.3 166.3,2014.4 161.4,2013.6 156.6,2012.8 151.8,2012 147,2011.2 142.2,2010.5 137.5,2009.8 132.7,2009.2 127.8,2008.6 122.9,2008 118,2007.3 113,2006.7" fill="#f6602e"/>
<rect x="111.4" y="1990.4" width="10" height="16.3" fill="#f6602e"/>
</g></g>
<polygon points="88.9,1963.2 88.9,1978.6 166,1978.6 180,1977.4 200,1974.7 240,1971 300,1970.4 400,1970.2 505,1970.5 515,1968 523,1966.8 532,1968.8 558.6,1969.5 558.6,1963.2" fill="#bdbdc0"/>
<polyline points="88.9,1978.6 166,1978.6 180,1977.4 200,1974.7 240,1971 300,1970.4 400,1970.2 505,1970.5 515,1968 523,1966.8 532,1968.8 558.6,1969.5" fill="none" stroke="#000" stroke-width="1.7"/>
<polyline points="115.4,1988.1 117.7,1988.4 122.4,1989 129.3,1989.9 138.7,1991 148.6,1992.5 159.1,1994.2 170.3,1996.1 182.2,1998.3 193.4,2000.6 203.9,2003.1 213.8,2005.7 223.1,2008.3 233.2,2011.3 244.2,2014.4 256,2017.7 268.7,2021.3 282.4,2024.7 297.2,2028.1 313.1,2031.4 329.9,2034.6 346.8,2037.8 363.7,2041.1 380.6,2044.3 397.5,2047.7 414.4,2050.6 431.3,2053.3 448.2,2055.6 465,2057.6 482,2059.5 499,2061.3 516,2062.9 533,2064.5 545.8,2065.6 554.3,2066.4 558.6,2066.8" fill="none" stroke="#000" stroke-width="1.8"/>
</g>
<rect x="88.9" y="1965.2" width="469.7" height="122.3" fill="none" stroke="#000" stroke-width="1.9"/>
<path d="M88.9 1965.2V1958.2M88.9 2087.5V2094.5M105.7 1965.2V1960.7M105.7 2087.5V2092M122.5 1965.2V1960.7M122.5 2087.5V2092M139.2 1965.2V1960.7M139.2 2087.5V2092M156 1965.2V1958.2M156 2087.5V2094.5M172.8 1965.2V1960.7M172.8 2087.5V2092M189.6 1965.2V1960.7M189.6 2087.5V2092M206.3 1965.2V1960.7M206.3 2087.5V2092M223.1 1965.2V1958.2M223.1 2087.5V2094.5M239.9 1965.2V1960.7M239.9 2087.5V2092M256.6 1965.2V1960.7M256.6 2087.5V2092M273.4 1965.2V1960.7M273.4 2087.5V2092M290.2 1965.2V1958.2M290.2 2087.5V2094.5M307 1965.2V1960.7M307 2087.5V2092M323.8 1965.2V1960.7M323.8 2087.5V2092M340.5 1965.2V1960.7M340.5 2087.5V2092M357.3 1965.2V1958.2M357.3 2087.5V2094.5M374.1 1965.2V1960.7M374.1 2087.5V2092M390.9 1965.2V1960.7M390.9 2087.5V2092M407.6 1965.2V1960.7M407.6 2087.5V2092M424.4 1965.2V1958.2M424.4 2087.5V2094.5M441.2 1965.2V1960.7M441.2 2087.5V2092M458 1965.2V1960.7M458 2087.5V2092M474.7 1965.2V1960.7M474.7 2087.5V2092M491.5 1965.2V1958.2M491.5 2087.5V2094.5M508.3 1965.2V1960.7M508.3 2087.5V2092M525 1965.2V1960.7M525 2087.5V2092M541.8 1965.2V1960.7M541.8 2087.5V2092M558.6 1965.2V1958.2M558.6 2087.5V2094.5M88.9 1970.1H81.9M558.6 1970.1H565.6M88.9 1986.9H84.4M558.6 1986.9H563.1M88.9 2003.6H81.9M558.6 2003.6H565.6M88.9 2020.4H84.4M558.6 2020.4H563.1M88.9 2037.2H81.9M558.6 2037.2H565.6M88.9 2054H84.4M558.6 2054H563.1M88.9 2070.8H81.9M558.6 2070.8H565.6M88.9 2087.5H84.4M558.6 2087.5H563.1" stroke="#000" stroke-width="1.9" fill="none"/>
<polygon points="132.2,1965.1 145.8,1965.1 139,1977.9" fill="#000"/>
<polygon points="303.9,1957.7 317.5,1957.7 310.7,1969.2" fill="#000"/>
<text x="88.9" y="2117.7" font-size="24" text-anchor="middle">0</text>
<text x="156" y="2117.7" font-size="24" text-anchor="middle">20</text>
<text x="223.1" y="2117.7" font-size="24" text-anchor="middle">40</text>
<text x="290.2" y="2117.7" font-size="24" text-anchor="middle">60</text>
<text x="357.3" y="2117.7" font-size="24" text-anchor="middle">80</text>
<text x="424.4" y="2117.7" font-size="24" text-anchor="middle">100</text>
<text x="491.5" y="2117.7" font-size="24" text-anchor="middle">120</text>
<text x="558.6" y="2117.7" font-size="24" text-anchor="middle">140</text>
<text x="76.3" y="1978.6" font-size="24" text-anchor="end">0</text>
<text x="76.3" y="2012.1" font-size="24" text-anchor="end">10</text>
<text x="76.3" y="2045.7" font-size="24" text-anchor="end">20</text>
<text x="76.3" y="2079.2" font-size="24" text-anchor="end">30</text>
<text x="88.9" y="1952" font-size="24" text-anchor="middle">E</text>
<text x="558.6" y="1952" font-size="24" text-anchor="middle">E&#8217;</text>
<text x="0" y="0" font-size="25.6" text-anchor="middle" transform="translate(36.3 2026.4) rotate(-90)">Depth (km)</text>
<g clip-path="url(#c40)">
<rect x="785.9" y="1965.2" width="469.7" height="122.3" fill="#78ffba"/>
<g filter="url(#b6)">
<ellipse cx="1020.8" cy="1983.5" rx="105.7" ry="16.1" fill="#c9ff8b"/>
<ellipse cx="1188.5" cy="1990.2" rx="72.1" ry="22.8" fill="#7effb6"/>
<ellipse cx="886.5" cy="2077.5" rx="105.7" ry="12.7" fill="#d6ff83"/>
<ellipse cx="826.2" cy="2019.4" rx="18.5" ry="7.4" fill="#ffd45c"/>
<ellipse cx="799.3" cy="2010.4" rx="18.5" ry="9.4" fill="#ffff6e"/>
<ellipse cx="1009" cy="1989.2" rx="18.8" ry="6.4" fill="#ffea65"/>
<ellipse cx="1025.6" cy="2012" rx="16.9" ry="5.4" fill="#ffff6e"/>
<ellipse cx="862.7" cy="2043.2" rx="18.8" ry="7.4" fill="#ffff6e"/>
<ellipse cx="917.8" cy="2064.2" rx="18.8" ry="8.2" fill="#ffff6e"/>
<ellipse cx="973.8" cy="2062.4" rx="18.5" ry="7.7" fill="#ffff6e"/>
<ellipse cx="827.8" cy="2082.5" rx="47" ry="7.7" fill="#e4ff7c"/>
<ellipse cx="867.3" cy="2025.8" rx="14.3" ry="10.1" fill="#40ffdb"/>
<ellipse cx="986.4" cy="2018.4" rx="23.3" ry="6.4" fill="#0dfff8"/>
<ellipse cx="812.7" cy="2055.1" rx="31.9" ry="9.9" fill="#40ffdb"/>
<ellipse cx="794.6" cy="2079.8" rx="13.8" ry="9.1" fill="#00f1ff"/>
<ellipse cx="894.9" cy="2072.4" rx="23.5" ry="7.7" fill="#40ffdb"/>
<ellipse cx="931.3" cy="2046.1" rx="23.3" ry="8.2" fill="#40ffdb"/>
<ellipse cx="1086.8" cy="2019.3" rx="18.8" ry="7.2" fill="#ffff6e"/>
<ellipse cx="1091.4" cy="1990.1" rx="23.3" ry="9.2" fill="#40ffdb"/>
<ellipse cx="1127.9" cy="2020.3" rx="23.3" ry="8.2" fill="#27ffea"/>
<ellipse cx="1063.7" cy="2029.5" rx="14.4" ry="6.4" fill="#0dfff8"/>
<ellipse cx="1218.7" cy="2044.1" rx="41.9" ry="13.6" fill="#40ffdb"/>
<ellipse cx="1072.8" cy="2079.8" rx="23.5" ry="9.1" fill="#27ffea"/>
</g>
<polygon points="837.5,1987.9 842.4,1988.6 847.4,1989.4 852.3,1990.1 857.3,1990.9 862.2,1991.8 867.2,1992.7 872.1,1993.6 877,1994.5 882,1995.5 887,1996.5 891.9,1997.5 888.3,2013.9 883.5,2012.9 878.7,2011.9 873.9,2011 869.1,2010.1 864.2,2009.2 859.3,2008.3 854.5,2007.5 849.7,2006.7 844.8,2005.9 840,2005.2 835.2,2004.5" fill="url(#g25)" filter="url(#b4)"/>
<polygon points="875.9,2000.8 880.7,2001.7 885.6,2002.7 890.5,2003.8 895.4,2004.9 900.3,2006 905.2,2007.3 910.1,2008.6 915,2010 919.9,2011.4 924.8,2012.9 929.8,2014.3 934.7,2015.7 939.6,2017.1 944.5,2018.5 949.5,2019.9 954.4,2021.2 959.3,2022.6 964.3,2024 969.2,2025.3 974.2,2026.5 979.1,2027.8 984.1,2028.9 989,2030 994,2031.1 998.9,2032.2 1003.8,2033.2 1008.8,2034.2 1013.7,2035.2 1018.7,2036.1 1023.6,2037 1028.5,2038 1033.4,2038.9 1038.4,2039.9 1043.3,2040.8 1048.2,2041.7 1053.1,2042.7 1058.1,2043.6 1063,2044.6 1067.9,2045.5 1072.8,2046.5 1077.7,2047.5 1082.7,2048.4 1087.6,2049.4 1092.5,2050.3 1097.5,2051.2 1102.4,2052.1 1107.4,2053 1112.3,2053.8 1117.2,2054.6 1122.2,2055.4 1127.1,2056.2 1132.1,2056.8 1137,2057.5 1141.9,2058.2 1146.9,2058.8 1151.8,2059.4 1156.8,2060 1161.7,2060.6 1166.6,2061.1 1171.6,2061.7 1176.5,2062.2 1181.4,2062.8 1186.3,2063.3 1191.3,2063.8 1196.2,2064.3 1201.1,2064.8 1206.1,2065.3 1211,2065.8 1215.9,2066.2 1220.9,2066.7 1225.8,2067.1 1230.7,2067.6 1235.6,2068 1240.6,2068.5 1245.5,2068.9 1250.4,2069.4 1255.3,2069.8 1253.7,2087.5 1248.8,2087.1 1243.9,2086.6 1238.9,2086.2 1234,2085.7 1229.1,2085.3 1224.2,2084.8 1219.2,2084.4 1214.3,2083.9 1209.3,2083.5 1204.3,2083 1199.4,2082.5 1194.4,2082 1189.4,2081.5 1184.5,2081 1179.5,2080.5 1174.5,2079.9 1169.6,2079.4 1164.7,2078.8 1159.7,2078.3 1154.7,2077.7 1149.7,2077.1 1144.7,2076.5 1139.6,2075.8 1134.6,2075.1 1129.6,2074.5 1124.5,2073.7 1119.4,2072.9 1114.5,2072.2 1109.4,2071.4 1104.3,2070.5 1099.3,2069.6 1094.4,2068.7 1089.2,2067.8 1084.2,2066.8 1079.3,2065.9 1074.3,2064.9 1069.4,2064 1064.5,2063 1059.6,2062 1054.7,2061.1 1049.8,2060.1 1044.8,2059.2 1039.9,2058.3 1035,2057.3 1030.1,2056.4 1025.2,2055.4 1020.3,2054.5 1015.4,2053.6 1010.4,2052.6 1005.3,2051.7 1000.2,2050.6 995.3,2049.6 990.2,2048.5 985.1,2047.4 980.1,2046.2 975,2045.1 969.8,2043.8 964.9,2042.5 959.7,2041.2 954.5,2039.7 949.6,2038.4 944.6,2037 939.7,2035.6 934.8,2034.2 929.8,2032.8 924.9,2031.4 919.9,2029.9 915,2028.5 910,2027.1 905.4,2025.7 900.7,2024.5 896.1,2023.3 891.4,2022.2 886.7,2021.1 882,2020.1 877.2,2019.1 872.5,2018.2" fill="url(#g26)" filter="url(#b4)"/>
<polygon points="880.3,2004 885.2,2005 890,2006.1 894.9,2007.2 899.8,2008.3 904.6,2009.6 909.5,2010.8 914.3,2012.3 919.2,2013.7 924.2,2015.1 929.1,2016.5 934,2017.9 939,2019.3 943.9,2020.7 948.8,2022.1 953.8,2023.5 958.7,2024.9 963.7,2026.3 968.7,2027.6 973.6,2028.8 978.6,2030.1 983.6,2031.2 988.5,2032.3 993.5,2033.4 998.4,2034.5 1003.4,2035.5 1008.3,2036.5 1013.3,2037.5 1018.2,2038.4 1023.2,2039.3 1028.1,2040.3 1033,2041.2 1037.9,2042.2 1042.8,2043.1 1047.8,2044 1052.7,2045 1057.6,2045.9 1062.5,2046.9 1067.4,2047.8 1072.4,2048.8 1077.3,2049.8 1082.2,2050.7 1087.1,2051.7 1092.1,2052.7 1097.1,2053.6 1102,2054.4 1106.9,2055.3 1111.9,2056.1 1116.9,2056.9 1121.8,2057.7 1126.8,2058.5 1131.7,2059.2 1136.7,2059.9 1141.6,2060.5 1146.6,2061.2 1151.6,2061.8 1150.1,2074.4 1145,2073.8 1139.9,2073.2 1134.9,2072.5 1130,2071.8 1124.9,2071.1 1119.8,2070.3 1114.9,2069.5 1109.9,2068.7 1104.8,2067.9 1099.8,2067 1094.8,2066.1 1089.7,2065.2 1084.7,2064.2 1079.8,2063.2 1074.9,2062.3 1069.9,2061.3 1065,2060.4 1060.1,2059.4 1055.2,2058.5 1050.3,2057.5 1045.3,2056.6 1040.4,2055.6 1035.5,2054.7 1030.6,2053.7 1025.7,2052.8 1020.8,2051.9 1015.9,2050.9 1010.9,2050 1005.8,2049 1000.8,2048 995.8,2047 990.8,2045.9 985.7,2044.7 980.7,2043.6 975.6,2042.5 970.5,2041.2 965.5,2039.9 960.4,2038.6 955.2,2037.2 950.3,2035.8 945.4,2034.4 940.4,2033 935.5,2031.6 930.5,2030.2 925.6,2028.8 920.7,2027.4 915.7,2025.9 910.8,2024.5 906.1,2023.1 901.4,2021.9 896.7,2020.7 892,2019.6 887.3,2018.5 882.5,2017.5 877.8,2016.5" fill="url(#g27)" filter="url(#b3)"/>
<polygon points="785.9,1963.2 785.9,1978.6 863,1978.6 877,1977.4 897,1974.7 937,1971 997,1970.4 1097,1970.2 1202,1970.5 1212,1968 1220,1966.8 1229,1968.8 1255.6,1969.5 1255.6,1963.2" fill="#bdbdc0"/>
<rect x="785.9" y="1965.2" width="225.8" height="14" fill="#bdbdc0"/>
<line x1="786.4" y1="2003.6" x2="1255.6" y2="2003.6" stroke="#000" stroke-width="2" stroke-dasharray="12,7"/>
<line x1="786.4" y1="2037.2" x2="1255.6" y2="2037.2" stroke="#000" stroke-width="2" stroke-dasharray="12,7"/>
<line x1="786.4" y1="2070.8" x2="1255.6" y2="2070.8" stroke="#000" stroke-width="2" stroke-dasharray="12,7"/>
<polyline points="785.9,1978.6 863,1978.6 877,1977.4 897,1974.7 937,1971 997,1970.4 1097,1970.2 1202,1970.5 1212,1968 1220,1966.8 1229,1968.8 1255.6,1969.5" fill="none" stroke="#000" stroke-width="1.7"/>
<polyline points="812.4,1988.1 814.7,1988.4 819.4,1989 826.4,1989.9 835.6,1991 845.6,1992.5 856.1,1994.2 867.3,1996.1 879.2,1998.3 890.3,2000.6 900.9,2003.1 910.8,2005.7 920.1,2008.3 930.2,2011.3 941.2,2014.4 953,2017.7 965.7,2021.3 979.4,2024.7 994.2,2028.1 1010,2031.4 1027,2034.6 1043.8,2037.8 1060.7,2041.1 1077.6,2044.3 1094.5,2047.7 1111.4,2050.6 1128.3,2053.3 1145.1,2055.6 1162,2057.6 1179,2059.5 1196,2061.3 1213,2062.9 1230,2064.5 1242.8,2065.6 1251.3,2066.4 1255.6,2066.8" fill="none" stroke="#000" stroke-width="1.8"/>
</g>
<rect x="785.9" y="1965.2" width="469.7" height="122.3" fill="none" stroke="#000" stroke-width="1.9"/>
<path d="M785.9 1965.2V1958.2M785.9 2087.5V2094.5M802.7 1965.2V1960.7M802.7 2087.5V2092M819.4 1965.2V1960.7M819.4 2087.5V2092M836.2 1965.2V1960.7M836.2 2087.5V2092M853 1965.2V1958.2M853 2087.5V2094.5M869.8 1965.2V1960.7M869.8 2087.5V2092M886.5 1965.2V1960.7M886.5 2087.5V2092M903.3 1965.2V1960.7M903.3 2087.5V2092M920.1 1965.2V1958.2M920.1 2087.5V2094.5M936.9 1965.2V1960.7M936.9 2087.5V2092M953.6 1965.2V1960.7M953.6 2087.5V2092M970.4 1965.2V1960.7M970.4 2087.5V2092M987.2 1965.2V1958.2M987.2 2087.5V2094.5M1004 1965.2V1960.7M1004 2087.5V2092M1020.8 1965.2V1960.7M1020.8 2087.5V2092M1037.5 1965.2V1960.7M1037.5 2087.5V2092M1054.3 1965.2V1958.2M1054.3 2087.5V2094.5M1071.1 1965.2V1960.7M1071.1 2087.5V2092M1087.8 1965.2V1960.7M1087.8 2087.5V2092M1104.6 1965.2V1960.7M1104.6 2087.5V2092M1121.4 1965.2V1958.2M1121.4 2087.5V2094.5M1138.2 1965.2V1960.7M1138.2 2087.5V2092M1155 1965.2V1960.7M1155 2087.5V2092M1171.7 1965.2V1960.7M1171.7 2087.5V2092M1188.5 1965.2V1958.2M1188.5 2087.5V2094.5M1205.3 1965.2V1960.7M1205.3 2087.5V2092M1222 1965.2V1960.7M1222 2087.5V2092M1238.8 1965.2V1960.7M1238.8 2087.5V2092M1255.6 1965.2V1958.2M1255.6 2087.5V2094.5M785.9 1970.1H778.9M1255.6 1970.1H1262.6M785.9 1986.9H781.4M1255.6 1986.9H1260.1M785.9 2003.6H778.9M1255.6 2003.6H1262.6M785.9 2020.4H781.4M1255.6 2020.4H1260.1M785.9 2037.2H778.9M1255.6 2037.2H1262.6M785.9 2054H781.4M1255.6 2054H1260.1M785.9 2070.8H778.9M1255.6 2070.8H1262.6M785.9 2087.5H781.4M1255.6 2087.5H1260.1" stroke="#000" stroke-width="1.9" fill="none"/>
<polygon points="829.2,1965.1 842.8,1965.1 836,1977.9" fill="#000"/>
<polygon points="1000.9,1957.7 1014.5,1957.7 1007.7,1969.2" fill="#000"/>
<text x="785.9" y="2117.7" font-size="24" text-anchor="middle">0</text>
<text x="853" y="2117.7" font-size="24" text-anchor="middle">20</text>
<text x="920.1" y="2117.7" font-size="24" text-anchor="middle">40</text>
<text x="987.2" y="2117.7" font-size="24" text-anchor="middle">60</text>
<text x="1054.3" y="2117.7" font-size="24" text-anchor="middle">80</text>
<text x="1121.4" y="2117.7" font-size="24" text-anchor="middle">100</text>
<text x="1188.5" y="2117.7" font-size="24" text-anchor="middle">120</text>
<text x="1255.6" y="2117.7" font-size="24" text-anchor="middle">140</text>
<text x="773.3" y="1978.6" font-size="24" text-anchor="end">0</text>
<text x="773.3" y="2012.1" font-size="24" text-anchor="end">10</text>
<text x="773.3" y="2045.7" font-size="24" text-anchor="end">20</text>
<text x="773.3" y="2079.2" font-size="24" text-anchor="end">30</text>
<text x="785.9" y="1952" font-size="24" text-anchor="middle">E</text>
<text x="1255.6" y="1952" font-size="24" text-anchor="middle">E&#8217;</text>
<text x="323.8" y="2153.9" font-size="25.6" text-anchor="middle">Distance (km)</text>
<text x="1020.8" y="2153.9" font-size="25.6" text-anchor="middle">Distance (km)</text>
<rect x="1240.2" y="73" width="23.7" height="143.4" fill="url(#gvs)" stroke="#000" stroke-width="1.8"/>
<path d="M1263.9 94.8H1270.2M1263.9 144.9H1270.2M1263.9 195H1270.2" stroke="#000" stroke-width="1.8"/>
<text x="1302.5" y="103.1" font-size="23.5" text-anchor="end">7</text>
<text x="1302.5" y="153.2" font-size="23.5" text-anchor="end">0</text>
<text x="1302.5" y="203.3" font-size="23.5" text-anchor="end">&#8722;7</text>
<text x="0" y="0" font-size="23.6" text-anchor="middle" transform="translate(1218.4 145.5) rotate(-90)">Vs pertubation (%)</text>
<rect x="1240.2" y="1171.2" width="23.7" height="143.4" fill="url(#gvp)" stroke="#000" stroke-width="1.8"/>
<text x="1277.6" y="1322.1" font-size="23.5" text-anchor="start">1.5</text>
<text x="1277.6" y="1290.9" font-size="23.5" text-anchor="start">1.6</text>
<text x="1277.6" y="1258.8" font-size="23.5" text-anchor="start">1.7</text>
<text x="1277.6" y="1227.1" font-size="23.5" text-anchor="start">1.8</text>
<text x="1277.6" y="1195.9" font-size="23.5" text-anchor="start">1.9</text>
<path d="M1263.9 1313.9H1270.2M1263.9 1282.7H1270.2M1263.9 1250.6H1270.2M1263.9 1218.9H1270.2M1263.9 1187.7H1270.2" stroke="#000" stroke-width="1.8"/>
<text x="0" y="0" font-size="24" text-anchor="middle" transform="translate(1218.4 1242.9) rotate(-90)">Vp/Vs</text>
<rect x="46.2" y="2244" width="705.5" height="441" fill="none" stroke="#000" stroke-width="1.9"/>
<g clip-path="url(#c41)">
<path d="M94.3 2249.7a6.8 6.8 0 1 0 13.6 0a6.8 6.8 0 1 0-13.6 0zM110.9 2249.7a6.8 6.8 0 1 0 13.6 0a6.8 6.8 0 1 0-13.6 0zM127.4 2249.7a6.8 6.8 0 1 0 13.6 0a6.8 6.8 0 1 0-13.6 0zM144 2249.7a6.8 6.8 0 1 0 13.6 0a6.8 6.8 0 1 0-13.6 0zM160.5 2249.7a6.8 6.8 0 1 0 13.6 0a6.8 6.8 0 1 0-13.6 0zM177.1 2249.7a6.8 6.8 0 1 0 13.6 0a6.8 6.8 0 1 0-13.6 0zM193.7 2249.7a6.8 6.8 0 1 0 13.6 0a6.8 6.8 0 1 0-13.6 0zM210.2 2249.7a6.8 6.8 0 1 0 13.6 0a6.8 6.8 0 1 0-13.6 0zM226.8 2249.7a6.8 6.8 0 1 0 13.6 0a6.8 6.8 0 1 0-13.6 0zM243.3 2249.7a6.8 6.8 0 1 0 13.6 0a6.8 6.8 0 1 0-13.6 0zM259.9 2249.7a6.8 6.8 0 1 0 13.6 0a6.8 6.8 0 1 0-13.6 0zM276.5 2249.7a6.8 6.8 0 1 0 13.6 0a6.8 6.8 0 1 0-13.6 0zM293 2249.7a6.8 6.8 0 1 0 13.6 0a6.8 6.8 0 1 0-13.6 0zM309.6 2249.7a6.8 6.8 0 1 0 13.6 0a6.8 6.8 0 1 0-13.6 0zM326.1 2249.7a6.8 6.8 0 1 0 13.6 0a6.8 6.8 0 1 0-13.6 0zM342.7 2249.7a6.8 6.8 0 1 0 13.6 0a6.8 6.8 0 1 0-13.6 0zM359.3 2249.7a6.8 6.8 0 1 0 13.6 0a6.8 6.8 0 1 0-13.6 0zM375.8 2249.7a6.8 6.8 0 1 0 13.6 0a6.8 6.8 0 1 0-13.6 0zM392.4 2249.7a6.8 6.8 0 1 0 13.6 0a6.8 6.8 0 1 0-13.6 0zM408.9 2249.7a6.8 6.8 0 1 0 13.6 0a6.8 6.8 0 1 0-13.6 0zM425.5 2249.7a6.8 6.8 0 1 0 13.6 0a6.8 6.8 0 1 0-13.6 0zM442.1 2249.7a6.8 6.8 0 1 0 13.6 0a6.8 6.8 0 1 0-13.6 0zM458.6 2249.7a6.8 6.8 0 1 0 13.6 0a6.8 6.8 0 1 0-13.6 0zM475.2 2249.7a6.8 6.8 0 1 0 13.6 0a6.8 6.8 0 1 0-13.6 0zM491.7 2249.7a6.8 6.8 0 1 0 13.6 0a6.8 6.8 0 1 0-13.6 0zM508.3 2249.7a6.8 6.8 0 1 0 13.6 0a6.8 6.8 0 1 0-13.6 0zM524.9 2249.7a6.8 6.8 0 1 0 13.6 0a6.8 6.8 0 1 0-13.6 0zM541.4 2249.7a6.8 6.8 0 1 0 13.6 0a6.8 6.8 0 1 0-13.6 0zM558 2249.7a6.8 6.8 0 1 0 13.6 0a6.8 6.8 0 1 0-13.6 0zM574.5 2249.7a6.8 6.8 0 1 0 13.6 0a6.8 6.8 0 1 0-13.6 0zM591.1 2249.7a6.8 6.8 0 1 0 13.6 0a6.8 6.8 0 1 0-13.6 0zM607.7 2249.7a6.8 6.8 0 1 0 13.6 0a6.8 6.8 0 1 0-13.6 0zM624.2 2249.7a6.8 6.8 0 1 0 13.6 0a6.8 6.8 0 1 0-13.6 0zM640.8 2249.7a6.8 6.8 0 1 0 13.6 0a6.8 6.8 0 1 0-13.6 0zM657.3 2249.7a6.8 6.8 0 1 0 13.6 0a6.8 6.8 0 1 0-13.6 0zM673.9 2249.7a6.8 6.8 0 1 0 13.6 0a6.8 6.8 0 1 0-13.6 0zM690.5 2249.7a6.8 6.8 0 1 0 13.6 0a6.8 6.8 0 1 0-13.6 0zM707 2249.7a6.8 6.8 0 1 0 13.6 0a6.8 6.8 0 1 0-13.6 0zM723.6 2249.7a6.8 6.8 0 1 0 13.6 0a6.8 6.8 0 1 0-13.6 0zM94.3 2266.3a6.8 6.8 0 1 0 13.6 0a6.8 6.8 0 1 0-13.6 0zM110.9 2266.3a6.8 6.8 0 1 0 13.6 0a6.8 6.8 0 1 0-13.6 0zM127.4 2266.3a6.8 6.8 0 1 0 13.6 0a6.8 6.8 0 1 0-13.6 0zM144 2266.3a6.8 6.8 0 1 0 13.6 0a6.8 6.8 0 1 0-13.6 0zM160.5 2266.3a6.8 6.8 0 1 0 13.6 0a6.8 6.8 0 1 0-13.6 0zM177.1 2266.3a6.8 6.8 0 1 0 13.6 0a6.8 6.8 0 1 0-13.6 0zM193.6 2266.3a6.8 6.8 0 1 0 13.6 0a6.8 6.8 0 1 0-13.6 0zM210.2 2266.3a6.8 6.8 0 1 0 13.6 0a6.8 6.8 0 1 0-13.6 0zM226.8 2266.3a6.8 6.8 0 1 0 13.6 0a6.8 6.8 0 1 0-13.6 0zM243.3 2266.3a6.8 6.8 0 1 0 13.6 0a6.8 6.8 0 1 0-13.6 0zM259.9 2266.3a6.8 6.8 0 1 0 13.6 0a6.8 6.8 0 1 0-13.6 0zM276.4 2266.3a6.8 6.8 0 1 0 13.6 0a6.8 6.8 0 1 0-13.6 0zM293 2266.3a6.8 6.8 0 1 0 13.6 0a6.8 6.8 0 1 0-13.6 0zM309.5 2266.3a6.8 6.8 0 1 0 13.6 0a6.8 6.8 0 1 0-13.6 0zM326.1 2266.3a6.8 6.8 0 1 0 13.6 0a6.8 6.8 0 1 0-13.6 0zM342.6 2266.3a6.8 6.8 0 1 0 13.6 0a6.8 6.8 0 1 0-13.6 0zM359.2 2266.3a6.8 6.8 0 1 0 13.6 0a6.8 6.8 0 1 0-13.6 0zM375.8 2266.3a6.8 6.8 0 1 0 13.6 0a6.8 6.8 0 1 0-13.6 0zM392.3 2266.3a6.8 6.8 0 1 0 13.6 0a6.8 6.8 0 1 0-13.6 0zM408.9 2266.3a6.8 6.8 0 1 0 13.6 0a6.8 6.8 0 1 0-13.6 0zM425.4 2266.3a6.8 6.8 0 1 0 13.6 0a6.8 6.8 0 1 0-13.6 0zM442 2266.3a6.8 6.8 0 1 0 13.6 0a6.8 6.8 0 1 0-13.6 0zM458.5 2266.3a6.8 6.8 0 1 0 13.6 0a6.8 6.8 0 1 0-13.6 0zM475.1 2266.3a6.8 6.8 0 1 0 13.6 0a6.8 6.8 0 1 0-13.6 0zM491.7 2266.3a6.8 6.8 0 1 0 13.6 0a6.8 6.8 0 1 0-13.6 0zM508.2 2266.3a6.8 6.8 0 1 0 13.6 0a6.8 6.8 0 1 0-13.6 0zM524.8 2266.3a6.8 6.8 0 1 0 13.6 0a6.8 6.8 0 1 0-13.6 0zM541.3 2266.3a6.8 6.8 0 1 0 13.6 0a6.8 6.8 0 1 0-13.6 0zM557.9 2266.3a6.8 6.8 0 1 0 13.6 0a6.8 6.8 0 1 0-13.6 0zM574.4 2266.3a6.8 6.8 0 1 0 13.6 0a6.8 6.8 0 1 0-13.6 0zM591 2266.3a6.8 6.8 0 1 0 13.6 0a6.8 6.8 0 1 0-13.6 0zM607.6 2266.3a6.8 6.8 0 1 0 13.6 0a6.8 6.8 0 1 0-13.6 0zM624.1 2266.3a6.8 6.8 0 1 0 13.6 0a6.8 6.8 0 1 0-13.6 0zM640.7 2266.3a6.8 6.8 0 1 0 13.6 0a6.8 6.8 0 1 0-13.6 0zM657.2 2266.3a6.8 6.8 0 1 0 13.6 0a6.8 6.8 0 1 0-13.6 0zM673.8 2266.3a6.8 6.8 0 1 0 13.6 0a6.8 6.8 0 1 0-13.6 0zM690.3 2266.3a6.8 6.8 0 1 0 13.6 0a6.8 6.8 0 1 0-13.6 0zM706.9 2266.3a6.8 6.8 0 1 0 13.6 0a6.8 6.8 0 1 0-13.6 0zM723.5 2266.3a6.8 6.8 0 1 0 13.6 0a6.8 6.8 0 1 0-13.6 0zM740 2266.3a6.8 6.8 0 1 0 13.6 0a6.8 6.8 0 1 0-13.6 0zM94.3 2282.9a6.8 6.8 0 1 0 13.6 0a6.8 6.8 0 1 0-13.6 0zM110.9 2282.9a6.8 6.8 0 1 0 13.6 0a6.8 6.8 0 1 0-13.6 0zM127.4 2282.9a6.8 6.8 0 1 0 13.6 0a6.8 6.8 0 1 0-13.6 0zM144 2282.9a6.8 6.8 0 1 0 13.6 0a6.8 6.8 0 1 0-13.6 0zM160.5 2282.9a6.8 6.8 0 1 0 13.6 0a6.8 6.8 0 1 0-13.6 0zM177.1 2282.9a6.8 6.8 0 1 0 13.6 0a6.8 6.8 0 1 0-13.6 0zM193.6 2282.9a6.8 6.8 0 1 0 13.6 0a6.8 6.8 0 1 0-13.6 0zM210.2 2282.9a6.8 6.8 0 1 0 13.6 0a6.8 6.8 0 1 0-13.6 0zM226.7 2282.9a6.8 6.8 0 1 0 13.6 0a6.8 6.8 0 1 0-13.6 0zM243.3 2282.9a6.8 6.8 0 1 0 13.6 0a6.8 6.8 0 1 0-13.6 0zM259.8 2282.9a6.8 6.8 0 1 0 13.6 0a6.8 6.8 0 1 0-13.6 0zM276.4 2282.9a6.8 6.8 0 1 0 13.6 0a6.8 6.8 0 1 0-13.6 0zM292.9 2282.9a6.8 6.8 0 1 0 13.6 0a6.8 6.8 0 1 0-13.6 0zM309.5 2282.9a6.8 6.8 0 1 0 13.6 0a6.8 6.8 0 1 0-13.6 0zM326 2282.9a6.8 6.8 0 1 0 13.6 0a6.8 6.8 0 1 0-13.6 0zM342.6 2282.9a6.8 6.8 0 1 0 13.6 0a6.8 6.8 0 1 0-13.6 0zM359.2 2282.9a6.8 6.8 0 1 0 13.6 0a6.8 6.8 0 1 0-13.6 0zM375.7 2282.9a6.8 6.8 0 1 0 13.6 0a6.8 6.8 0 1 0-13.6 0zM392.3 2282.9a6.8 6.8 0 1 0 13.6 0a6.8 6.8 0 1 0-13.6 0zM408.8 2282.9a6.8 6.8 0 1 0 13.6 0a6.8 6.8 0 1 0-13.6 0zM425.4 2282.9a6.8 6.8 0 1 0 13.6 0a6.8 6.8 0 1 0-13.6 0zM441.9 2282.9a6.8 6.8 0 1 0 13.6 0a6.8 6.8 0 1 0-13.6 0zM458.5 2282.9a6.8 6.8 0 1 0 13.6 0a6.8 6.8 0 1 0-13.6 0zM475 2282.9a6.8 6.8 0 1 0 13.6 0a6.8 6.8 0 1 0-13.6 0zM491.6 2282.9a6.8 6.8 0 1 0 13.6 0a6.8 6.8 0 1 0-13.6 0zM508.1 2282.9a6.8 6.8 0 1 0 13.6 0a6.8 6.8 0 1 0-13.6 0zM524.7 2282.9a6.8 6.8 0 1 0 13.6 0a6.8 6.8 0 1 0-13.6 0zM541.2 2282.9a6.8 6.8 0 1 0 13.6 0a6.8 6.8 0 1 0-13.6 0zM557.8 2282.9a6.8 6.8 0 1 0 13.6 0a6.8 6.8 0 1 0-13.6 0zM574.3 2282.9a6.8 6.8 0 1 0 13.6 0a6.8 6.8 0 1 0-13.6 0zM590.9 2282.9a6.8 6.8 0 1 0 13.6 0a6.8 6.8 0 1 0-13.6 0zM607.5 2282.9a6.8 6.8 0 1 0 13.6 0a6.8 6.8 0 1 0-13.6 0zM624 2282.9a6.8 6.8 0 1 0 13.6 0a6.8 6.8 0 1 0-13.6 0zM640.6 2282.9a6.8 6.8 0 1 0 13.6 0a6.8 6.8 0 1 0-13.6 0zM657.1 2282.9a6.8 6.8 0 1 0 13.6 0a6.8 6.8 0 1 0-13.6 0zM673.7 2282.9a6.8 6.8 0 1 0 13.6 0a6.8 6.8 0 1 0-13.6 0zM690.2 2282.9a6.8 6.8 0 1 0 13.6 0a6.8 6.8 0 1 0-13.6 0zM706.8 2282.9a6.8 6.8 0 1 0 13.6 0a6.8 6.8 0 1 0-13.6 0zM723.3 2282.9a6.8 6.8 0 1 0 13.6 0a6.8 6.8 0 1 0-13.6 0zM739.9 2282.9a6.8 6.8 0 1 0 13.6 0a6.8 6.8 0 1 0-13.6 0zM94.3 2299.5a6.8 6.8 0 1 0 13.6 0a6.8 6.8 0 1 0-13.6 0zM110.8 2299.5a6.8 6.8 0 1 0 13.6 0a6.8 6.8 0 1 0-13.6 0zM127.4 2299.5a6.8 6.8 0 1 0 13.6 0a6.8 6.8 0 1 0-13.6 0zM143.9 2299.5a6.8 6.8 0 1 0 13.6 0a6.8 6.8 0 1 0-13.6 0zM160.5 2299.5a6.8 6.8 0 1 0 13.6 0a6.8 6.8 0 1 0-13.6 0zM177 2299.5a6.8 6.8 0 1 0 13.6 0a6.8 6.8 0 1 0-13.6 0zM193.6 2299.5a6.8 6.8 0 1 0 13.6 0a6.8 6.8 0 1 0-13.6 0zM210.1 2299.5a6.8 6.8 0 1 0 13.6 0a6.8 6.8 0 1 0-13.6 0zM226.7 2299.5a6.8 6.8 0 1 0 13.6 0a6.8 6.8 0 1 0-13.6 0zM243.2 2299.5a6.8 6.8 0 1 0 13.6 0a6.8 6.8 0 1 0-13.6 0zM259.8 2299.5a6.8 6.8 0 1 0 13.6 0a6.8 6.8 0 1 0-13.6 0zM276.3 2299.5a6.8 6.8 0 1 0 13.6 0a6.8 6.8 0 1 0-13.6 0zM292.9 2299.5a6.8 6.8 0 1 0 13.6 0a6.8 6.8 0 1 0-13.6 0zM309.4 2299.5a6.8 6.8 0 1 0 13.6 0a6.8 6.8 0 1 0-13.6 0zM326 2299.5a6.8 6.8 0 1 0 13.6 0a6.8 6.8 0 1 0-13.6 0zM342.5 2299.5a6.8 6.8 0 1 0 13.6 0a6.8 6.8 0 1 0-13.6 0zM359.1 2299.5a6.8 6.8 0 1 0 13.6 0a6.8 6.8 0 1 0-13.6 0zM375.6 2299.5a6.8 6.8 0 1 0 13.6 0a6.8 6.8 0 1 0-13.6 0zM392.2 2299.5a6.8 6.8 0 1 0 13.6 0a6.8 6.8 0 1 0-13.6 0zM408.7 2299.5a6.8 6.8 0 1 0 13.6 0a6.8 6.8 0 1 0-13.6 0zM425.3 2299.5a6.8 6.8 0 1 0 13.6 0a6.8 6.8 0 1 0-13.6 0zM441.8 2299.5a6.8 6.8 0 1 0 13.6 0a6.8 6.8 0 1 0-13.6 0zM458.4 2299.5a6.8 6.8 0 1 0 13.6 0a6.8 6.8 0 1 0-13.6 0zM474.9 2299.5a6.8 6.8 0 1 0 13.6 0a6.8 6.8 0 1 0-13.6 0zM491.5 2299.5a6.8 6.8 0 1 0 13.6 0a6.8 6.8 0 1 0-13.6 0zM508 2299.5a6.8 6.8 0 1 0 13.6 0a6.8 6.8 0 1 0-13.6 0zM524.6 2299.5a6.8 6.8 0 1 0 13.6 0a6.8 6.8 0 1 0-13.6 0zM541.1 2299.5a6.8 6.8 0 1 0 13.6 0a6.8 6.8 0 1 0-13.6 0zM557.7 2299.5a6.8 6.8 0 1 0 13.6 0a6.8 6.8 0 1 0-13.6 0zM574.2 2299.5a6.8 6.8 0 1 0 13.6 0a6.8 6.8 0 1 0-13.6 0zM590.8 2299.5a6.8 6.8 0 1 0 13.6 0a6.8 6.8 0 1 0-13.6 0zM607.3 2299.5a6.8 6.8 0 1 0 13.6 0a6.8 6.8 0 1 0-13.6 0zM623.9 2299.5a6.8 6.8 0 1 0 13.6 0a6.8 6.8 0 1 0-13.6 0zM640.4 2299.5a6.8 6.8 0 1 0 13.6 0a6.8 6.8 0 1 0-13.6 0zM657 2299.5a6.8 6.8 0 1 0 13.6 0a6.8 6.8 0 1 0-13.6 0zM673.5 2299.5a6.8 6.8 0 1 0 13.6 0a6.8 6.8 0 1 0-13.6 0zM690.1 2299.5a6.8 6.8 0 1 0 13.6 0a6.8 6.8 0 1 0-13.6 0zM706.6 2299.5a6.8 6.8 0 1 0 13.6 0a6.8 6.8 0 1 0-13.6 0zM723.2 2299.5a6.8 6.8 0 1 0 13.6 0a6.8 6.8 0 1 0-13.6 0zM739.7 2299.5a6.8 6.8 0 1 0 13.6 0a6.8 6.8 0 1 0-13.6 0zM94.3 2316.1a6.8 6.8 0 1 0 13.6 0a6.8 6.8 0 1 0-13.6 0zM110.8 2316.1a6.8 6.8 0 1 0 13.6 0a6.8 6.8 0 1 0-13.6 0zM127.4 2316.1a6.8 6.8 0 1 0 13.6 0a6.8 6.8 0 1 0-13.6 0zM143.9 2316.1a6.8 6.8 0 1 0 13.6 0a6.8 6.8 0 1 0-13.6 0zM160.5 2316.1a6.8 6.8 0 1 0 13.6 0a6.8 6.8 0 1 0-13.6 0zM177 2316.1a6.8 6.8 0 1 0 13.6 0a6.8 6.8 0 1 0-13.6 0zM193.6 2316.1a6.8 6.8 0 1 0 13.6 0a6.8 6.8 0 1 0-13.6 0zM210.1 2316.1a6.8 6.8 0 1 0 13.6 0a6.8 6.8 0 1 0-13.6 0zM226.7 2316.1a6.8 6.8 0 1 0 13.6 0a6.8 6.8 0 1 0-13.6 0zM243.2 2316.1a6.8 6.8 0 1 0 13.6 0a6.8 6.8 0 1 0-13.6 0zM259.8 2316.1a6.8 6.8 0 1 0 13.6 0a6.8 6.8 0 1 0-13.6 0zM276.3 2316.1a6.8 6.8 0 1 0 13.6 0a6.8 6.8 0 1 0-13.6 0zM292.9 2316.1a6.8 6.8 0 1 0 13.6 0a6.8 6.8 0 1 0-13.6 0zM309.4 2316.1a6.8 6.8 0 1 0 13.6 0a6.8 6.8 0 1 0-13.6 0zM326 2316.1a6.8 6.8 0 1 0 13.6 0a6.8 6.8 0 1 0-13.6 0zM342.5 2316.1a6.8 6.8 0 1 0 13.6 0a6.8 6.8 0 1 0-13.6 0zM359 2316.1a6.8 6.8 0 1 0 13.6 0a6.8 6.8 0 1 0-13.6 0zM375.6 2316.1a6.8 6.8 0 1 0 13.6 0a6.8 6.8 0 1 0-13.6 0zM392.1 2316.1a6.8 6.8 0 1 0 13.6 0a6.8 6.8 0 1 0-13.6 0zM408.7 2316.1a6.8 6.8 0 1 0 13.6 0a6.8 6.8 0 1 0-13.6 0zM425.2 2316.1a6.8 6.8 0 1 0 13.6 0a6.8 6.8 0 1 0-13.6 0zM441.8 2316.1a6.8 6.8 0 1 0 13.6 0a6.8 6.8 0 1 0-13.6 0zM458.3 2316.1a6.8 6.8 0 1 0 13.6 0a6.8 6.8 0 1 0-13.6 0zM474.9 2316.1a6.8 6.8 0 1 0 13.6 0a6.8 6.8 0 1 0-13.6 0zM491.4 2316.1a6.8 6.8 0 1 0 13.6 0a6.8 6.8 0 1 0-13.6 0zM508 2316.1a6.8 6.8 0 1 0 13.6 0a6.8 6.8 0 1 0-13.6 0zM524.5 2316.1a6.8 6.8 0 1 0 13.6 0a6.8 6.8 0 1 0-13.6 0zM541.1 2316.1a6.8 6.8 0 1 0 13.6 0a6.8 6.8 0 1 0-13.6 0zM557.6 2316.1a6.8 6.8 0 1 0 13.6 0a6.8 6.8 0 1 0-13.6 0zM574.2 2316.1a6.8 6.8 0 1 0 13.6 0a6.8 6.8 0 1 0-13.6 0zM590.7 2316.1a6.8 6.8 0 1 0 13.6 0a6.8 6.8 0 1 0-13.6 0zM607.2 2316.1a6.8 6.8 0 1 0 13.6 0a6.8 6.8 0 1 0-13.6 0zM623.8 2316.1a6.8 6.8 0 1 0 13.6 0a6.8 6.8 0 1 0-13.6 0zM640.3 2316.1a6.8 6.8 0 1 0 13.6 0a6.8 6.8 0 1 0-13.6 0zM656.9 2316.1a6.8 6.8 0 1 0 13.6 0a6.8 6.8 0 1 0-13.6 0zM673.4 2316.1a6.8 6.8 0 1 0 13.6 0a6.8 6.8 0 1 0-13.6 0zM690 2316.1a6.8 6.8 0 1 0 13.6 0a6.8 6.8 0 1 0-13.6 0zM706.5 2316.1a6.8 6.8 0 1 0 13.6 0a6.8 6.8 0 1 0-13.6 0zM723.1 2316.1a6.8 6.8 0 1 0 13.6 0a6.8 6.8 0 1 0-13.6 0zM739.6 2316.1a6.8 6.8 0 1 0 13.6 0a6.8 6.8 0 1 0-13.6 0zM94.3 2332.7a6.8 6.8 0 1 0 13.6 0a6.8 6.8 0 1 0-13.6 0zM110.8 2332.7a6.8 6.8 0 1 0 13.6 0a6.8 6.8 0 1 0-13.6 0zM127.4 2332.7a6.8 6.8 0 1 0 13.6 0a6.8 6.8 0 1 0-13.6 0zM143.9 2332.7a6.8 6.8 0 1 0 13.6 0a6.8 6.8 0 1 0-13.6 0zM160.5 2332.7a6.8 6.8 0 1 0 13.6 0a6.8 6.8 0 1 0-13.6 0zM177 2332.7a6.8 6.8 0 1 0 13.6 0a6.8 6.8 0 1 0-13.6 0zM193.6 2332.7a6.8 6.8 0 1 0 13.6 0a6.8 6.8 0 1 0-13.6 0zM210.1 2332.7a6.8 6.8 0 1 0 13.6 0a6.8 6.8 0 1 0-13.6 0zM226.6 2332.7a6.8 6.8 0 1 0 13.6 0a6.8 6.8 0 1 0-13.6 0zM243.2 2332.7a6.8 6.8 0 1 0 13.6 0a6.8 6.8 0 1 0-13.6 0zM259.7 2332.7a6.8 6.8 0 1 0 13.6 0a6.8 6.8 0 1 0-13.6 0zM276.3 2332.7a6.8 6.8 0 1 0 13.6 0a6.8 6.8 0 1 0-13.6 0zM292.8 2332.7a6.8 6.8 0 1 0 13.6 0a6.8 6.8 0 1 0-13.6 0zM309.4 2332.7a6.8 6.8 0 1 0 13.6 0a6.8 6.8 0 1 0-13.6 0zM325.9 2332.7a6.8 6.8 0 1 0 13.6 0a6.8 6.8 0 1 0-13.6 0zM342.4 2332.7a6.8 6.8 0 1 0 13.6 0a6.8 6.8 0 1 0-13.6 0zM359 2332.7a6.8 6.8 0 1 0 13.6 0a6.8 6.8 0 1 0-13.6 0zM375.5 2332.7a6.8 6.8 0 1 0 13.6 0a6.8 6.8 0 1 0-13.6 0zM392.1 2332.7a6.8 6.8 0 1 0 13.6 0a6.8 6.8 0 1 0-13.6 0zM408.6 2332.7a6.8 6.8 0 1 0 13.6 0a6.8 6.8 0 1 0-13.6 0zM425.2 2332.7a6.8 6.8 0 1 0 13.6 0a6.8 6.8 0 1 0-13.6 0zM441.7 2332.7a6.8 6.8 0 1 0 13.6 0a6.8 6.8 0 1 0-13.6 0zM458.3 2332.7a6.8 6.8 0 1 0 13.6 0a6.8 6.8 0 1 0-13.6 0zM474.8 2332.7a6.8 6.8 0 1 0 13.6 0a6.8 6.8 0 1 0-13.6 0zM491.3 2332.7a6.8 6.8 0 1 0 13.6 0a6.8 6.8 0 1 0-13.6 0zM507.9 2332.7a6.8 6.8 0 1 0 13.6 0a6.8 6.8 0 1 0-13.6 0zM524.4 2332.7a6.8 6.8 0 1 0 13.6 0a6.8 6.8 0 1 0-13.6 0zM541 2332.7a6.8 6.8 0 1 0 13.6 0a6.8 6.8 0 1 0-13.6 0zM557.5 2332.7a6.8 6.8 0 1 0 13.6 0a6.8 6.8 0 1 0-13.6 0zM574.1 2332.7a6.8 6.8 0 1 0 13.6 0a6.8 6.8 0 1 0-13.6 0zM590.6 2332.7a6.8 6.8 0 1 0 13.6 0a6.8 6.8 0 1 0-13.6 0zM607.1 2332.7a6.8 6.8 0 1 0 13.6 0a6.8 6.8 0 1 0-13.6 0zM623.7 2332.7a6.8 6.8 0 1 0 13.6 0a6.8 6.8 0 1 0-13.6 0zM640.2 2332.7a6.8 6.8 0 1 0 13.6 0a6.8 6.8 0 1 0-13.6 0zM656.8 2332.7a6.8 6.8 0 1 0 13.6 0a6.8 6.8 0 1 0-13.6 0zM673.3 2332.7a6.8 6.8 0 1 0 13.6 0a6.8 6.8 0 1 0-13.6 0zM689.9 2332.7a6.8 6.8 0 1 0 13.6 0a6.8 6.8 0 1 0-13.6 0zM706.4 2332.7a6.8 6.8 0 1 0 13.6 0a6.8 6.8 0 1 0-13.6 0zM722.9 2332.7a6.8 6.8 0 1 0 13.6 0a6.8 6.8 0 1 0-13.6 0zM739.5 2332.7a6.8 6.8 0 1 0 13.6 0a6.8 6.8 0 1 0-13.6 0zM94.3 2349.3a6.8 6.8 0 1 0 13.6 0a6.8 6.8 0 1 0-13.6 0zM110.8 2349.3a6.8 6.8 0 1 0 13.6 0a6.8 6.8 0 1 0-13.6 0zM127.4 2349.3a6.8 6.8 0 1 0 13.6 0a6.8 6.8 0 1 0-13.6 0zM143.9 2349.3a6.8 6.8 0 1 0 13.6 0a6.8 6.8 0 1 0-13.6 0zM160.5 2349.3a6.8 6.8 0 1 0 13.6 0a6.8 6.8 0 1 0-13.6 0zM177 2349.3a6.8 6.8 0 1 0 13.6 0a6.8 6.8 0 1 0-13.6 0zM193.5 2349.3a6.8 6.8 0 1 0 13.6 0a6.8 6.8 0 1 0-13.6 0zM210.1 2349.3a6.8 6.8 0 1 0 13.6 0a6.8 6.8 0 1 0-13.6 0zM226.6 2349.3a6.8 6.8 0 1 0 13.6 0a6.8 6.8 0 1 0-13.6 0zM243.2 2349.3a6.8 6.8 0 1 0 13.6 0a6.8 6.8 0 1 0-13.6 0zM259.7 2349.3a6.8 6.8 0 1 0 13.6 0a6.8 6.8 0 1 0-13.6 0zM276.2 2349.3a6.8 6.8 0 1 0 13.6 0a6.8 6.8 0 1 0-13.6 0zM292.8 2349.3a6.8 6.8 0 1 0 13.6 0a6.8 6.8 0 1 0-13.6 0zM309.3 2349.3a6.8 6.8 0 1 0 13.6 0a6.8 6.8 0 1 0-13.6 0zM325.9 2349.3a6.8 6.8 0 1 0 13.6 0a6.8 6.8 0 1 0-13.6 0zM342.4 2349.3a6.8 6.8 0 1 0 13.6 0a6.8 6.8 0 1 0-13.6 0zM358.9 2349.3a6.8 6.8 0 1 0 13.6 0a6.8 6.8 0 1 0-13.6 0zM375.5 2349.3a6.8 6.8 0 1 0 13.6 0a6.8 6.8 0 1 0-13.6 0zM392 2349.3a6.8 6.8 0 1 0 13.6 0a6.8 6.8 0 1 0-13.6 0zM408.6 2349.3a6.8 6.8 0 1 0 13.6 0a6.8 6.8 0 1 0-13.6 0zM425.1 2349.3a6.8 6.8 0 1 0 13.6 0a6.8 6.8 0 1 0-13.6 0zM441.6 2349.3a6.8 6.8 0 1 0 13.6 0a6.8 6.8 0 1 0-13.6 0zM458.2 2349.3a6.8 6.8 0 1 0 13.6 0a6.8 6.8 0 1 0-13.6 0zM474.7 2349.3a6.8 6.8 0 1 0 13.6 0a6.8 6.8 0 1 0-13.6 0zM491.3 2349.3a6.8 6.8 0 1 0 13.6 0a6.8 6.8 0 1 0-13.6 0zM507.8 2349.3a6.8 6.8 0 1 0 13.6 0a6.8 6.8 0 1 0-13.6 0zM524.3 2349.3a6.8 6.8 0 1 0 13.6 0a6.8 6.8 0 1 0-13.6 0zM540.9 2349.3a6.8 6.8 0 1 0 13.6 0a6.8 6.8 0 1 0-13.6 0zM557.4 2349.3a6.8 6.8 0 1 0 13.6 0a6.8 6.8 0 1 0-13.6 0zM574 2349.3a6.8 6.8 0 1 0 13.6 0a6.8 6.8 0 1 0-13.6 0zM590.5 2349.3a6.8 6.8 0 1 0 13.6 0a6.8 6.8 0 1 0-13.6 0zM607 2349.3a6.8 6.8 0 1 0 13.6 0a6.8 6.8 0 1 0-13.6 0zM623.6 2349.3a6.8 6.8 0 1 0 13.6 0a6.8 6.8 0 1 0-13.6 0zM640.1 2349.3a6.8 6.8 0 1 0 13.6 0a6.8 6.8 0 1 0-13.6 0zM656.7 2349.3a6.8 6.8 0 1 0 13.6 0a6.8 6.8 0 1 0-13.6 0zM673.2 2349.3a6.8 6.8 0 1 0 13.6 0a6.8 6.8 0 1 0-13.6 0zM689.7 2349.3a6.8 6.8 0 1 0 13.6 0a6.8 6.8 0 1 0-13.6 0zM706.3 2349.3a6.8 6.8 0 1 0 13.6 0a6.8 6.8 0 1 0-13.6 0zM722.8 2349.3a6.8 6.8 0 1 0 13.6 0a6.8 6.8 0 1 0-13.6 0zM739.4 2349.3a6.8 6.8 0 1 0 13.6 0a6.8 6.8 0 1 0-13.6 0zM110.8 2365.8a6.8 6.8 0 1 0 13.6 0a6.8 6.8 0 1 0-13.6 0zM127.4 2365.8a6.8 6.8 0 1 0 13.6 0a6.8 6.8 0 1 0-13.6 0zM143.9 2365.8a6.8 6.8 0 1 0 13.6 0a6.8 6.8 0 1 0-13.6 0zM160.4 2365.8a6.8 6.8 0 1 0 13.6 0a6.8 6.8 0 1 0-13.6 0zM177 2365.8a6.8 6.8 0 1 0 13.6 0a6.8 6.8 0 1 0-13.6 0zM193.5 2365.8a6.8 6.8 0 1 0 13.6 0a6.8 6.8 0 1 0-13.6 0zM210.1 2365.8a6.8 6.8 0 1 0 13.6 0a6.8 6.8 0 1 0-13.6 0zM226.6 2365.8a6.8 6.8 0 1 0 13.6 0a6.8 6.8 0 1 0-13.6 0zM243.1 2365.8a6.8 6.8 0 1 0 13.6 0a6.8 6.8 0 1 0-13.6 0zM259.7 2365.8a6.8 6.8 0 1 0 13.6 0a6.8 6.8 0 1 0-13.6 0zM276.2 2365.8a6.8 6.8 0 1 0 13.6 0a6.8 6.8 0 1 0-13.6 0zM292.7 2365.8a6.8 6.8 0 1 0 13.6 0a6.8 6.8 0 1 0-13.6 0zM309.3 2365.8a6.8 6.8 0 1 0 13.6 0a6.8 6.8 0 1 0-13.6 0zM325.8 2365.8a6.8 6.8 0 1 0 13.6 0a6.8 6.8 0 1 0-13.6 0zM342.3 2365.8a6.8 6.8 0 1 0 13.6 0a6.8 6.8 0 1 0-13.6 0zM358.9 2365.8a6.8 6.8 0 1 0 13.6 0a6.8 6.8 0 1 0-13.6 0zM375.4 2365.8a6.8 6.8 0 1 0 13.6 0a6.8 6.8 0 1 0-13.6 0zM392 2365.8a6.8 6.8 0 1 0 13.6 0a6.8 6.8 0 1 0-13.6 0zM408.5 2365.8a6.8 6.8 0 1 0 13.6 0a6.8 6.8 0 1 0-13.6 0zM425 2365.8a6.8 6.8 0 1 0 13.6 0a6.8 6.8 0 1 0-13.6 0zM441.6 2365.8a6.8 6.8 0 1 0 13.6 0a6.8 6.8 0 1 0-13.6 0zM458.1 2365.8a6.8 6.8 0 1 0 13.6 0a6.8 6.8 0 1 0-13.6 0zM474.6 2365.8a6.8 6.8 0 1 0 13.6 0a6.8 6.8 0 1 0-13.6 0zM491.2 2365.8a6.8 6.8 0 1 0 13.6 0a6.8 6.8 0 1 0-13.6 0zM507.7 2365.8a6.8 6.8 0 1 0 13.6 0a6.8 6.8 0 1 0-13.6 0zM524.2 2365.8a6.8 6.8 0 1 0 13.6 0a6.8 6.8 0 1 0-13.6 0zM540.8 2365.8a6.8 6.8 0 1 0 13.6 0a6.8 6.8 0 1 0-13.6 0zM557.3 2365.8a6.8 6.8 0 1 0 13.6 0a6.8 6.8 0 1 0-13.6 0zM573.9 2365.8a6.8 6.8 0 1 0 13.6 0a6.8 6.8 0 1 0-13.6 0zM590.4 2365.8a6.8 6.8 0 1 0 13.6 0a6.8 6.8 0 1 0-13.6 0zM606.9 2365.8a6.8 6.8 0 1 0 13.6 0a6.8 6.8 0 1 0-13.6 0zM623.5 2365.8a6.8 6.8 0 1 0 13.6 0a6.8 6.8 0 1 0-13.6 0zM640 2365.8a6.8 6.8 0 1 0 13.6 0a6.8 6.8 0 1 0-13.6 0zM656.5 2365.8a6.8 6.8 0 1 0 13.6 0a6.8 6.8 0 1 0-13.6 0zM673.1 2365.8a6.8 6.8 0 1 0 13.6 0a6.8 6.8 0 1 0-13.6 0zM689.6 2365.8a6.8 6.8 0 1 0 13.6 0a6.8 6.8 0 1 0-13.6 0zM706.2 2365.8a6.8 6.8 0 1 0 13.6 0a6.8 6.8 0 1 0-13.6 0zM722.7 2365.8a6.8 6.8 0 1 0 13.6 0a6.8 6.8 0 1 0-13.6 0zM739.2 2365.8a6.8 6.8 0 1 0 13.6 0a6.8 6.8 0 1 0-13.6 0zM110.8 2382.3a6.8 6.8 0 1 0 13.6 0a6.8 6.8 0 1 0-13.6 0zM127.4 2382.3a6.8 6.8 0 1 0 13.6 0a6.8 6.8 0 1 0-13.6 0zM143.9 2382.3a6.8 6.8 0 1 0 13.6 0a6.8 6.8 0 1 0-13.6 0zM160.4 2382.3a6.8 6.8 0 1 0 13.6 0a6.8 6.8 0 1 0-13.6 0zM177 2382.3a6.8 6.8 0 1 0 13.6 0a6.8 6.8 0 1 0-13.6 0zM193.5 2382.3a6.8 6.8 0 1 0 13.6 0a6.8 6.8 0 1 0-13.6 0zM210 2382.3a6.8 6.8 0 1 0 13.6 0a6.8 6.8 0 1 0-13.6 0zM226.6 2382.3a6.8 6.8 0 1 0 13.6 0a6.8 6.8 0 1 0-13.6 0zM243.1 2382.3a6.8 6.8 0 1 0 13.6 0a6.8 6.8 0 1 0-13.6 0zM259.6 2382.3a6.8 6.8 0 1 0 13.6 0a6.8 6.8 0 1 0-13.6 0zM276.2 2382.3a6.8 6.8 0 1 0 13.6 0a6.8 6.8 0 1 0-13.6 0zM292.7 2382.3a6.8 6.8 0 1 0 13.6 0a6.8 6.8 0 1 0-13.6 0zM309.2 2382.3a6.8 6.8 0 1 0 13.6 0a6.8 6.8 0 1 0-13.6 0zM325.8 2382.3a6.8 6.8 0 1 0 13.6 0a6.8 6.8 0 1 0-13.6 0zM342.3 2382.3a6.8 6.8 0 1 0 13.6 0a6.8 6.8 0 1 0-13.6 0zM358.8 2382.3a6.8 6.8 0 1 0 13.6 0a6.8 6.8 0 1 0-13.6 0zM375.4 2382.3a6.8 6.8 0 1 0 13.6 0a6.8 6.8 0 1 0-13.6 0zM391.9 2382.3a6.8 6.8 0 1 0 13.6 0a6.8 6.8 0 1 0-13.6 0zM408.4 2382.3a6.8 6.8 0 1 0 13.6 0a6.8 6.8 0 1 0-13.6 0zM425 2382.3a6.8 6.8 0 1 0 13.6 0a6.8 6.8 0 1 0-13.6 0zM441.5 2382.3a6.8 6.8 0 1 0 13.6 0a6.8 6.8 0 1 0-13.6 0zM458 2382.3a6.8 6.8 0 1 0 13.6 0a6.8 6.8 0 1 0-13.6 0zM474.6 2382.3a6.8 6.8 0 1 0 13.6 0a6.8 6.8 0 1 0-13.6 0zM491.1 2382.3a6.8 6.8 0 1 0 13.6 0a6.8 6.8 0 1 0-13.6 0zM507.6 2382.3a6.8 6.8 0 1 0 13.6 0a6.8 6.8 0 1 0-13.6 0zM524.2 2382.3a6.8 6.8 0 1 0 13.6 0a6.8 6.8 0 1 0-13.6 0zM540.7 2382.3a6.8 6.8 0 1 0 13.6 0a6.8 6.8 0 1 0-13.6 0zM557.2 2382.3a6.8 6.8 0 1 0 13.6 0a6.8 6.8 0 1 0-13.6 0zM573.8 2382.3a6.8 6.8 0 1 0 13.6 0a6.8 6.8 0 1 0-13.6 0zM590.3 2382.3a6.8 6.8 0 1 0 13.6 0a6.8 6.8 0 1 0-13.6 0zM606.8 2382.3a6.8 6.8 0 1 0 13.6 0a6.8 6.8 0 1 0-13.6 0zM623.4 2382.3a6.8 6.8 0 1 0 13.6 0a6.8 6.8 0 1 0-13.6 0zM639.9 2382.3a6.8 6.8 0 1 0 13.6 0a6.8 6.8 0 1 0-13.6 0zM656.4 2382.3a6.8 6.8 0 1 0 13.6 0a6.8 6.8 0 1 0-13.6 0zM673 2382.3a6.8 6.8 0 1 0 13.6 0a6.8 6.8 0 1 0-13.6 0zM689.5 2382.3a6.8 6.8 0 1 0 13.6 0a6.8 6.8 0 1 0-13.6 0zM706 2382.3a6.8 6.8 0 1 0 13.6 0a6.8 6.8 0 1 0-13.6 0zM722.6 2382.3a6.8 6.8 0 1 0 13.6 0a6.8 6.8 0 1 0-13.6 0zM739.1 2382.3a6.8 6.8 0 1 0 13.6 0a6.8 6.8 0 1 0-13.6 0zM110.8 2398.9a6.8 6.8 0 1 0 13.6 0a6.8 6.8 0 1 0-13.6 0zM127.4 2398.9a6.8 6.8 0 1 0 13.6 0a6.8 6.8 0 1 0-13.6 0zM143.9 2398.9a6.8 6.8 0 1 0 13.6 0a6.8 6.8 0 1 0-13.6 0zM160.4 2398.9a6.8 6.8 0 1 0 13.6 0a6.8 6.8 0 1 0-13.6 0zM176.9 2398.9a6.8 6.8 0 1 0 13.6 0a6.8 6.8 0 1 0-13.6 0zM193.5 2398.9a6.8 6.8 0 1 0 13.6 0a6.8 6.8 0 1 0-13.6 0zM210 2398.9a6.8 6.8 0 1 0 13.6 0a6.8 6.8 0 1 0-13.6 0zM226.5 2398.9a6.8 6.8 0 1 0 13.6 0a6.8 6.8 0 1 0-13.6 0zM243.1 2398.9a6.8 6.8 0 1 0 13.6 0a6.8 6.8 0 1 0-13.6 0zM259.6 2398.9a6.8 6.8 0 1 0 13.6 0a6.8 6.8 0 1 0-13.6 0zM276.1 2398.9a6.8 6.8 0 1 0 13.6 0a6.8 6.8 0 1 0-13.6 0zM292.7 2398.9a6.8 6.8 0 1 0 13.6 0a6.8 6.8 0 1 0-13.6 0zM309.2 2398.9a6.8 6.8 0 1 0 13.6 0a6.8 6.8 0 1 0-13.6 0zM325.7 2398.9a6.8 6.8 0 1 0 13.6 0a6.8 6.8 0 1 0-13.6 0zM342.2 2398.9a6.8 6.8 0 1 0 13.6 0a6.8 6.8 0 1 0-13.6 0zM358.8 2398.9a6.8 6.8 0 1 0 13.6 0a6.8 6.8 0 1 0-13.6 0zM375.3 2398.9a6.8 6.8 0 1 0 13.6 0a6.8 6.8 0 1 0-13.6 0zM391.8 2398.9a6.8 6.8 0 1 0 13.6 0a6.8 6.8 0 1 0-13.6 0zM408.4 2398.9a6.8 6.8 0 1 0 13.6 0a6.8 6.8 0 1 0-13.6 0zM424.9 2398.9a6.8 6.8 0 1 0 13.6 0a6.8 6.8 0 1 0-13.6 0zM441.4 2398.9a6.8 6.8 0 1 0 13.6 0a6.8 6.8 0 1 0-13.6 0zM458 2398.9a6.8 6.8 0 1 0 13.6 0a6.8 6.8 0 1 0-13.6 0zM474.5 2398.9a6.8 6.8 0 1 0 13.6 0a6.8 6.8 0 1 0-13.6 0zM491 2398.9a6.8 6.8 0 1 0 13.6 0a6.8 6.8 0 1 0-13.6 0zM507.5 2398.9a6.8 6.8 0 1 0 13.6 0a6.8 6.8 0 1 0-13.6 0zM524.1 2398.9a6.8 6.8 0 1 0 13.6 0a6.8 6.8 0 1 0-13.6 0zM540.6 2398.9a6.8 6.8 0 1 0 13.6 0a6.8 6.8 0 1 0-13.6 0zM557.1 2398.9a6.8 6.8 0 1 0 13.6 0a6.8 6.8 0 1 0-13.6 0zM573.7 2398.9a6.8 6.8 0 1 0 13.6 0a6.8 6.8 0 1 0-13.6 0zM590.2 2398.9a6.8 6.8 0 1 0 13.6 0a6.8 6.8 0 1 0-13.6 0zM606.7 2398.9a6.8 6.8 0 1 0 13.6 0a6.8 6.8 0 1 0-13.6 0zM623.3 2398.9a6.8 6.8 0 1 0 13.6 0a6.8 6.8 0 1 0-13.6 0zM639.8 2398.9a6.8 6.8 0 1 0 13.6 0a6.8 6.8 0 1 0-13.6 0zM656.3 2398.9a6.8 6.8 0 1 0 13.6 0a6.8 6.8 0 1 0-13.6 0zM672.8 2398.9a6.8 6.8 0 1 0 13.6 0a6.8 6.8 0 1 0-13.6 0zM689.4 2398.9a6.8 6.8 0 1 0 13.6 0a6.8 6.8 0 1 0-13.6 0zM705.9 2398.9a6.8 6.8 0 1 0 13.6 0a6.8 6.8 0 1 0-13.6 0zM722.4 2398.9a6.8 6.8 0 1 0 13.6 0a6.8 6.8 0 1 0-13.6 0zM739 2398.9a6.8 6.8 0 1 0 13.6 0a6.8 6.8 0 1 0-13.6 0zM110.8 2415.4a6.8 6.8 0 1 0 13.6 0a6.8 6.8 0 1 0-13.6 0zM127.4 2415.4a6.8 6.8 0 1 0 13.6 0a6.8 6.8 0 1 0-13.6 0zM143.9 2415.4a6.8 6.8 0 1 0 13.6 0a6.8 6.8 0 1 0-13.6 0zM160.4 2415.4a6.8 6.8 0 1 0 13.6 0a6.8 6.8 0 1 0-13.6 0zM176.9 2415.4a6.8 6.8 0 1 0 13.6 0a6.8 6.8 0 1 0-13.6 0zM193.5 2415.4a6.8 6.8 0 1 0 13.6 0a6.8 6.8 0 1 0-13.6 0zM210 2415.4a6.8 6.8 0 1 0 13.6 0a6.8 6.8 0 1 0-13.6 0zM226.5 2415.4a6.8 6.8 0 1 0 13.6 0a6.8 6.8 0 1 0-13.6 0zM243 2415.4a6.8 6.8 0 1 0 13.6 0a6.8 6.8 0 1 0-13.6 0zM259.6 2415.4a6.8 6.8 0 1 0 13.6 0a6.8 6.8 0 1 0-13.6 0zM276.1 2415.4a6.8 6.8 0 1 0 13.6 0a6.8 6.8 0 1 0-13.6 0zM292.6 2415.4a6.8 6.8 0 1 0 13.6 0a6.8 6.8 0 1 0-13.6 0zM309.1 2415.4a6.8 6.8 0 1 0 13.6 0a6.8 6.8 0 1 0-13.6 0zM325.7 2415.4a6.8 6.8 0 1 0 13.6 0a6.8 6.8 0 1 0-13.6 0zM342.2 2415.4a6.8 6.8 0 1 0 13.6 0a6.8 6.8 0 1 0-13.6 0zM358.7 2415.4a6.8 6.8 0 1 0 13.6 0a6.8 6.8 0 1 0-13.6 0zM375.2 2415.4a6.8 6.8 0 1 0 13.6 0a6.8 6.8 0 1 0-13.6 0zM391.8 2415.4a6.8 6.8 0 1 0 13.6 0a6.8 6.8 0 1 0-13.6 0zM408.3 2415.4a6.8 6.8 0 1 0 13.6 0a6.8 6.8 0 1 0-13.6 0zM424.8 2415.4a6.8 6.8 0 1 0 13.6 0a6.8 6.8 0 1 0-13.6 0zM441.4 2415.4a6.8 6.8 0 1 0 13.6 0a6.8 6.8 0 1 0-13.6 0zM457.9 2415.4a6.8 6.8 0 1 0 13.6 0a6.8 6.8 0 1 0-13.6 0zM474.4 2415.4a6.8 6.8 0 1 0 13.6 0a6.8 6.8 0 1 0-13.6 0zM490.9 2415.4a6.8 6.8 0 1 0 13.6 0a6.8 6.8 0 1 0-13.6 0zM507.5 2415.4a6.8 6.8 0 1 0 13.6 0a6.8 6.8 0 1 0-13.6 0zM524 2415.4a6.8 6.8 0 1 0 13.6 0a6.8 6.8 0 1 0-13.6 0zM540.5 2415.4a6.8 6.8 0 1 0 13.6 0a6.8 6.8 0 1 0-13.6 0zM557 2415.4a6.8 6.8 0 1 0 13.6 0a6.8 6.8 0 1 0-13.6 0zM573.6 2415.4a6.8 6.8 0 1 0 13.6 0a6.8 6.8 0 1 0-13.6 0zM590.1 2415.4a6.8 6.8 0 1 0 13.6 0a6.8 6.8 0 1 0-13.6 0zM606.6 2415.4a6.8 6.8 0 1 0 13.6 0a6.8 6.8 0 1 0-13.6 0zM623.1 2415.4a6.8 6.8 0 1 0 13.6 0a6.8 6.8 0 1 0-13.6 0zM639.7 2415.4a6.8 6.8 0 1 0 13.6 0a6.8 6.8 0 1 0-13.6 0zM656.2 2415.4a6.8 6.8 0 1 0 13.6 0a6.8 6.8 0 1 0-13.6 0zM672.7 2415.4a6.8 6.8 0 1 0 13.6 0a6.8 6.8 0 1 0-13.6 0zM689.3 2415.4a6.8 6.8 0 1 0 13.6 0a6.8 6.8 0 1 0-13.6 0zM705.8 2415.4a6.8 6.8 0 1 0 13.6 0a6.8 6.8 0 1 0-13.6 0zM722.3 2415.4a6.8 6.8 0 1 0 13.6 0a6.8 6.8 0 1 0-13.6 0zM738.8 2415.4a6.8 6.8 0 1 0 13.6 0a6.8 6.8 0 1 0-13.6 0zM110.8 2431.9a6.8 6.8 0 1 0 13.6 0a6.8 6.8 0 1 0-13.6 0zM127.3 2431.9a6.8 6.8 0 1 0 13.6 0a6.8 6.8 0 1 0-13.6 0zM143.9 2431.9a6.8 6.8 0 1 0 13.6 0a6.8 6.8 0 1 0-13.6 0zM160.4 2431.9a6.8 6.8 0 1 0 13.6 0a6.8 6.8 0 1 0-13.6 0zM176.9 2431.9a6.8 6.8 0 1 0 13.6 0a6.8 6.8 0 1 0-13.6 0zM193.4 2431.9a6.8 6.8 0 1 0 13.6 0a6.8 6.8 0 1 0-13.6 0zM210 2431.9a6.8 6.8 0 1 0 13.6 0a6.8 6.8 0 1 0-13.6 0zM226.5 2431.9a6.8 6.8 0 1 0 13.6 0a6.8 6.8 0 1 0-13.6 0zM243 2431.9a6.8 6.8 0 1 0 13.6 0a6.8 6.8 0 1 0-13.6 0zM259.5 2431.9a6.8 6.8 0 1 0 13.6 0a6.8 6.8 0 1 0-13.6 0zM276.1 2431.9a6.8 6.8 0 1 0 13.6 0a6.8 6.8 0 1 0-13.6 0zM292.6 2431.9a6.8 6.8 0 1 0 13.6 0a6.8 6.8 0 1 0-13.6 0zM309.1 2431.9a6.8 6.8 0 1 0 13.6 0a6.8 6.8 0 1 0-13.6 0zM325.6 2431.9a6.8 6.8 0 1 0 13.6 0a6.8 6.8 0 1 0-13.6 0zM342.1 2431.9a6.8 6.8 0 1 0 13.6 0a6.8 6.8 0 1 0-13.6 0zM358.7 2431.9a6.8 6.8 0 1 0 13.6 0a6.8 6.8 0 1 0-13.6 0zM375.2 2431.9a6.8 6.8 0 1 0 13.6 0a6.8 6.8 0 1 0-13.6 0zM391.7 2431.9a6.8 6.8 0 1 0 13.6 0a6.8 6.8 0 1 0-13.6 0zM408.2 2431.9a6.8 6.8 0 1 0 13.6 0a6.8 6.8 0 1 0-13.6 0zM424.8 2431.9a6.8 6.8 0 1 0 13.6 0a6.8 6.8 0 1 0-13.6 0zM441.3 2431.9a6.8 6.8 0 1 0 13.6 0a6.8 6.8 0 1 0-13.6 0zM457.8 2431.9a6.8 6.8 0 1 0 13.6 0a6.8 6.8 0 1 0-13.6 0zM474.3 2431.9a6.8 6.8 0 1 0 13.6 0a6.8 6.8 0 1 0-13.6 0zM490.9 2431.9a6.8 6.8 0 1 0 13.6 0a6.8 6.8 0 1 0-13.6 0zM507.4 2431.9a6.8 6.8 0 1 0 13.6 0a6.8 6.8 0 1 0-13.6 0zM523.9 2431.9a6.8 6.8 0 1 0 13.6 0a6.8 6.8 0 1 0-13.6 0zM540.4 2431.9a6.8 6.8 0 1 0 13.6 0a6.8 6.8 0 1 0-13.6 0zM556.9 2431.9a6.8 6.8 0 1 0 13.6 0a6.8 6.8 0 1 0-13.6 0zM573.5 2431.9a6.8 6.8 0 1 0 13.6 0a6.8 6.8 0 1 0-13.6 0zM590 2431.9a6.8 6.8 0 1 0 13.6 0a6.8 6.8 0 1 0-13.6 0zM606.5 2431.9a6.8 6.8 0 1 0 13.6 0a6.8 6.8 0 1 0-13.6 0zM623 2431.9a6.8 6.8 0 1 0 13.6 0a6.8 6.8 0 1 0-13.6 0zM639.6 2431.9a6.8 6.8 0 1 0 13.6 0a6.8 6.8 0 1 0-13.6 0zM656.1 2431.9a6.8 6.8 0 1 0 13.6 0a6.8 6.8 0 1 0-13.6 0zM672.6 2431.9a6.8 6.8 0 1 0 13.6 0a6.8 6.8 0 1 0-13.6 0zM689.1 2431.9a6.8 6.8 0 1 0 13.6 0a6.8 6.8 0 1 0-13.6 0zM705.7 2431.9a6.8 6.8 0 1 0 13.6 0a6.8 6.8 0 1 0-13.6 0zM722.2 2431.9a6.8 6.8 0 1 0 13.6 0a6.8 6.8 0 1 0-13.6 0zM738.7 2431.9a6.8 6.8 0 1 0 13.6 0a6.8 6.8 0 1 0-13.6 0zM110.8 2448.4a6.8 6.8 0 1 0 13.6 0a6.8 6.8 0 1 0-13.6 0zM127.3 2448.4a6.8 6.8 0 1 0 13.6 0a6.8 6.8 0 1 0-13.6 0zM143.9 2448.4a6.8 6.8 0 1 0 13.6 0a6.8 6.8 0 1 0-13.6 0zM160.4 2448.4a6.8 6.8 0 1 0 13.6 0a6.8 6.8 0 1 0-13.6 0zM176.9 2448.4a6.8 6.8 0 1 0 13.6 0a6.8 6.8 0 1 0-13.6 0zM193.4 2448.4a6.8 6.8 0 1 0 13.6 0a6.8 6.8 0 1 0-13.6 0zM209.9 2448.4a6.8 6.8 0 1 0 13.6 0a6.8 6.8 0 1 0-13.6 0zM226.5 2448.4a6.8 6.8 0 1 0 13.6 0a6.8 6.8 0 1 0-13.6 0zM243 2448.4a6.8 6.8 0 1 0 13.6 0a6.8 6.8 0 1 0-13.6 0zM259.5 2448.4a6.8 6.8 0 1 0 13.6 0a6.8 6.8 0 1 0-13.6 0zM276 2448.4a6.8 6.8 0 1 0 13.6 0a6.8 6.8 0 1 0-13.6 0zM292.5 2448.4a6.8 6.8 0 1 0 13.6 0a6.8 6.8 0 1 0-13.6 0zM309.1 2448.4a6.8 6.8 0 1 0 13.6 0a6.8 6.8 0 1 0-13.6 0zM325.6 2448.4a6.8 6.8 0 1 0 13.6 0a6.8 6.8 0 1 0-13.6 0zM342.1 2448.4a6.8 6.8 0 1 0 13.6 0a6.8 6.8 0 1 0-13.6 0zM358.6 2448.4a6.8 6.8 0 1 0 13.6 0a6.8 6.8 0 1 0-13.6 0zM375.1 2448.4a6.8 6.8 0 1 0 13.6 0a6.8 6.8 0 1 0-13.6 0zM391.7 2448.4a6.8 6.8 0 1 0 13.6 0a6.8 6.8 0 1 0-13.6 0zM408.2 2448.4a6.8 6.8 0 1 0 13.6 0a6.8 6.8 0 1 0-13.6 0zM424.7 2448.4a6.8 6.8 0 1 0 13.6 0a6.8 6.8 0 1 0-13.6 0zM441.2 2448.4a6.8 6.8 0 1 0 13.6 0a6.8 6.8 0 1 0-13.6 0zM457.7 2448.4a6.8 6.8 0 1 0 13.6 0a6.8 6.8 0 1 0-13.6 0zM474.3 2448.4a6.8 6.8 0 1 0 13.6 0a6.8 6.8 0 1 0-13.6 0zM490.8 2448.4a6.8 6.8 0 1 0 13.6 0a6.8 6.8 0 1 0-13.6 0zM507.3 2448.4a6.8 6.8 0 1 0 13.6 0a6.8 6.8 0 1 0-13.6 0zM523.8 2448.4a6.8 6.8 0 1 0 13.6 0a6.8 6.8 0 1 0-13.6 0zM540.3 2448.4a6.8 6.8 0 1 0 13.6 0a6.8 6.8 0 1 0-13.6 0zM556.9 2448.4a6.8 6.8 0 1 0 13.6 0a6.8 6.8 0 1 0-13.6 0zM573.4 2448.4a6.8 6.8 0 1 0 13.6 0a6.8 6.8 0 1 0-13.6 0zM589.9 2448.4a6.8 6.8 0 1 0 13.6 0a6.8 6.8 0 1 0-13.6 0zM606.4 2448.4a6.8 6.8 0 1 0 13.6 0a6.8 6.8 0 1 0-13.6 0zM622.9 2448.4a6.8 6.8 0 1 0 13.6 0a6.8 6.8 0 1 0-13.6 0zM639.5 2448.4a6.8 6.8 0 1 0 13.6 0a6.8 6.8 0 1 0-13.6 0zM656 2448.4a6.8 6.8 0 1 0 13.6 0a6.8 6.8 0 1 0-13.6 0zM672.5 2448.4a6.8 6.8 0 1 0 13.6 0a6.8 6.8 0 1 0-13.6 0zM689 2448.4a6.8 6.8 0 1 0 13.6 0a6.8 6.8 0 1 0-13.6 0zM705.5 2448.4a6.8 6.8 0 1 0 13.6 0a6.8 6.8 0 1 0-13.6 0zM722.1 2448.4a6.8 6.8 0 1 0 13.6 0a6.8 6.8 0 1 0-13.6 0zM738.6 2448.4a6.8 6.8 0 1 0 13.6 0a6.8 6.8 0 1 0-13.6 0zM110.8 2464.9a6.8 6.8 0 1 0 13.6 0a6.8 6.8 0 1 0-13.6 0zM127.3 2464.9a6.8 6.8 0 1 0 13.6 0a6.8 6.8 0 1 0-13.6 0zM143.8 2464.9a6.8 6.8 0 1 0 13.6 0a6.8 6.8 0 1 0-13.6 0zM160.4 2464.9a6.8 6.8 0 1 0 13.6 0a6.8 6.8 0 1 0-13.6 0zM176.9 2464.9a6.8 6.8 0 1 0 13.6 0a6.8 6.8 0 1 0-13.6 0zM193.4 2464.9a6.8 6.8 0 1 0 13.6 0a6.8 6.8 0 1 0-13.6 0zM209.9 2464.9a6.8 6.8 0 1 0 13.6 0a6.8 6.8 0 1 0-13.6 0zM226.4 2464.9a6.8 6.8 0 1 0 13.6 0a6.8 6.8 0 1 0-13.6 0zM242.9 2464.9a6.8 6.8 0 1 0 13.6 0a6.8 6.8 0 1 0-13.6 0zM259.5 2464.9a6.8 6.8 0 1 0 13.6 0a6.8 6.8 0 1 0-13.6 0zM276 2464.9a6.8 6.8 0 1 0 13.6 0a6.8 6.8 0 1 0-13.6 0zM292.5 2464.9a6.8 6.8 0 1 0 13.6 0a6.8 6.8 0 1 0-13.6 0zM309 2464.9a6.8 6.8 0 1 0 13.6 0a6.8 6.8 0 1 0-13.6 0zM325.5 2464.9a6.8 6.8 0 1 0 13.6 0a6.8 6.8 0 1 0-13.6 0zM342 2464.9a6.8 6.8 0 1 0 13.6 0a6.8 6.8 0 1 0-13.6 0zM358.6 2464.9a6.8 6.8 0 1 0 13.6 0a6.8 6.8 0 1 0-13.6 0zM375.1 2464.9a6.8 6.8 0 1 0 13.6 0a6.8 6.8 0 1 0-13.6 0zM391.6 2464.9a6.8 6.8 0 1 0 13.6 0a6.8 6.8 0 1 0-13.6 0zM408.1 2464.9a6.8 6.8 0 1 0 13.6 0a6.8 6.8 0 1 0-13.6 0zM424.6 2464.9a6.8 6.8 0 1 0 13.6 0a6.8 6.8 0 1 0-13.6 0zM441.1 2464.9a6.8 6.8 0 1 0 13.6 0a6.8 6.8 0 1 0-13.6 0zM457.7 2464.9a6.8 6.8 0 1 0 13.6 0a6.8 6.8 0 1 0-13.6 0zM474.2 2464.9a6.8 6.8 0 1 0 13.6 0a6.8 6.8 0 1 0-13.6 0zM490.7 2464.9a6.8 6.8 0 1 0 13.6 0a6.8 6.8 0 1 0-13.6 0zM507.2 2464.9a6.8 6.8 0 1 0 13.6 0a6.8 6.8 0 1 0-13.6 0zM523.7 2464.9a6.8 6.8 0 1 0 13.6 0a6.8 6.8 0 1 0-13.6 0zM540.2 2464.9a6.8 6.8 0 1 0 13.6 0a6.8 6.8 0 1 0-13.6 0zM556.8 2464.9a6.8 6.8 0 1 0 13.6 0a6.8 6.8 0 1 0-13.6 0zM573.3 2464.9a6.8 6.8 0 1 0 13.6 0a6.8 6.8 0 1 0-13.6 0zM589.8 2464.9a6.8 6.8 0 1 0 13.6 0a6.8 6.8 0 1 0-13.6 0zM606.3 2464.9a6.8 6.8 0 1 0 13.6 0a6.8 6.8 0 1 0-13.6 0zM622.8 2464.9a6.8 6.8 0 1 0 13.6 0a6.8 6.8 0 1 0-13.6 0zM639.3 2464.9a6.8 6.8 0 1 0 13.6 0a6.8 6.8 0 1 0-13.6 0zM655.9 2464.9a6.8 6.8 0 1 0 13.6 0a6.8 6.8 0 1 0-13.6 0zM672.4 2464.9a6.8 6.8 0 1 0 13.6 0a6.8 6.8 0 1 0-13.6 0zM688.9 2464.9a6.8 6.8 0 1 0 13.6 0a6.8 6.8 0 1 0-13.6 0zM705.4 2464.9a6.8 6.8 0 1 0 13.6 0a6.8 6.8 0 1 0-13.6 0zM721.9 2464.9a6.8 6.8 0 1 0 13.6 0a6.8 6.8 0 1 0-13.6 0zM738.4 2464.9a6.8 6.8 0 1 0 13.6 0a6.8 6.8 0 1 0-13.6 0zM110.8 2481.4a6.8 6.8 0 1 0 13.6 0a6.8 6.8 0 1 0-13.6 0zM127.3 2481.4a6.8 6.8 0 1 0 13.6 0a6.8 6.8 0 1 0-13.6 0zM143.8 2481.4a6.8 6.8 0 1 0 13.6 0a6.8 6.8 0 1 0-13.6 0zM160.4 2481.4a6.8 6.8 0 1 0 13.6 0a6.8 6.8 0 1 0-13.6 0zM176.9 2481.4a6.8 6.8 0 1 0 13.6 0a6.8 6.8 0 1 0-13.6 0zM193.4 2481.4a6.8 6.8 0 1 0 13.6 0a6.8 6.8 0 1 0-13.6 0zM209.9 2481.4a6.8 6.8 0 1 0 13.6 0a6.8 6.8 0 1 0-13.6 0zM226.4 2481.4a6.8 6.8 0 1 0 13.6 0a6.8 6.8 0 1 0-13.6 0zM242.9 2481.4a6.8 6.8 0 1 0 13.6 0a6.8 6.8 0 1 0-13.6 0zM259.4 2481.4a6.8 6.8 0 1 0 13.6 0a6.8 6.8 0 1 0-13.6 0zM275.9 2481.4a6.8 6.8 0 1 0 13.6 0a6.8 6.8 0 1 0-13.6 0zM292.5 2481.4a6.8 6.8 0 1 0 13.6 0a6.8 6.8 0 1 0-13.6 0zM309 2481.4a6.8 6.8 0 1 0 13.6 0a6.8 6.8 0 1 0-13.6 0zM325.5 2481.4a6.8 6.8 0 1 0 13.6 0a6.8 6.8 0 1 0-13.6 0zM342 2481.4a6.8 6.8 0 1 0 13.6 0a6.8 6.8 0 1 0-13.6 0zM358.5 2481.4a6.8 6.8 0 1 0 13.6 0a6.8 6.8 0 1 0-13.6 0zM375 2481.4a6.8 6.8 0 1 0 13.6 0a6.8 6.8 0 1 0-13.6 0zM391.5 2481.4a6.8 6.8 0 1 0 13.6 0a6.8 6.8 0 1 0-13.6 0zM408 2481.4a6.8 6.8 0 1 0 13.6 0a6.8 6.8 0 1 0-13.6 0zM424.6 2481.4a6.8 6.8 0 1 0 13.6 0a6.8 6.8 0 1 0-13.6 0zM441.1 2481.4a6.8 6.8 0 1 0 13.6 0a6.8 6.8 0 1 0-13.6 0zM457.6 2481.4a6.8 6.8 0 1 0 13.6 0a6.8 6.8 0 1 0-13.6 0zM474.1 2481.4a6.8 6.8 0 1 0 13.6 0a6.8 6.8 0 1 0-13.6 0zM490.6 2481.4a6.8 6.8 0 1 0 13.6 0a6.8 6.8 0 1 0-13.6 0zM507.1 2481.4a6.8 6.8 0 1 0 13.6 0a6.8 6.8 0 1 0-13.6 0zM523.6 2481.4a6.8 6.8 0 1 0 13.6 0a6.8 6.8 0 1 0-13.6 0zM540.2 2481.4a6.8 6.8 0 1 0 13.6 0a6.8 6.8 0 1 0-13.6 0zM556.7 2481.4a6.8 6.8 0 1 0 13.6 0a6.8 6.8 0 1 0-13.6 0zM573.2 2481.4a6.8 6.8 0 1 0 13.6 0a6.8 6.8 0 1 0-13.6 0zM589.7 2481.4a6.8 6.8 0 1 0 13.6 0a6.8 6.8 0 1 0-13.6 0zM606.2 2481.4a6.8 6.8 0 1 0 13.6 0a6.8 6.8 0 1 0-13.6 0zM622.7 2481.4a6.8 6.8 0 1 0 13.6 0a6.8 6.8 0 1 0-13.6 0zM639.2 2481.4a6.8 6.8 0 1 0 13.6 0a6.8 6.8 0 1 0-13.6 0zM655.7 2481.4a6.8 6.8 0 1 0 13.6 0a6.8 6.8 0 1 0-13.6 0zM672.3 2481.4a6.8 6.8 0 1 0 13.6 0a6.8 6.8 0 1 0-13.6 0zM688.8 2481.4a6.8 6.8 0 1 0 13.6 0a6.8 6.8 0 1 0-13.6 0zM705.3 2481.4a6.8 6.8 0 1 0 13.6 0a6.8 6.8 0 1 0-13.6 0zM721.8 2481.4a6.8 6.8 0 1 0 13.6 0a6.8 6.8 0 1 0-13.6 0zM738.3 2481.4a6.8 6.8 0 1 0 13.6 0a6.8 6.8 0 1 0-13.6 0zM94.3 2497.8a6.8 6.8 0 1 0 13.6 0a6.8 6.8 0 1 0-13.6 0zM110.8 2497.8a6.8 6.8 0 1 0 13.6 0a6.8 6.8 0 1 0-13.6 0zM127.3 2497.8a6.8 6.8 0 1 0 13.6 0a6.8 6.8 0 1 0-13.6 0zM143.8 2497.8a6.8 6.8 0 1 0 13.6 0a6.8 6.8 0 1 0-13.6 0zM160.3 2497.8a6.8 6.8 0 1 0 13.6 0a6.8 6.8 0 1 0-13.6 0zM176.8 2497.8a6.8 6.8 0 1 0 13.6 0a6.8 6.8 0 1 0-13.6 0zM193.4 2497.8a6.8 6.8 0 1 0 13.6 0a6.8 6.8 0 1 0-13.6 0zM209.9 2497.8a6.8 6.8 0 1 0 13.6 0a6.8 6.8 0 1 0-13.6 0zM226.4 2497.8a6.8 6.8 0 1 0 13.6 0a6.8 6.8 0 1 0-13.6 0zM242.9 2497.8a6.8 6.8 0 1 0 13.6 0a6.8 6.8 0 1 0-13.6 0zM259.4 2497.8a6.8 6.8 0 1 0 13.6 0a6.8 6.8 0 1 0-13.6 0zM275.9 2497.8a6.8 6.8 0 1 0 13.6 0a6.8 6.8 0 1 0-13.6 0zM292.4 2497.8a6.8 6.8 0 1 0 13.6 0a6.8 6.8 0 1 0-13.6 0zM308.9 2497.8a6.8 6.8 0 1 0 13.6 0a6.8 6.8 0 1 0-13.6 0zM325.4 2497.8a6.8 6.8 0 1 0 13.6 0a6.8 6.8 0 1 0-13.6 0zM341.9 2497.8a6.8 6.8 0 1 0 13.6 0a6.8 6.8 0 1 0-13.6 0zM358.5 2497.8a6.8 6.8 0 1 0 13.6 0a6.8 6.8 0 1 0-13.6 0zM375 2497.8a6.8 6.8 0 1 0 13.6 0a6.8 6.8 0 1 0-13.6 0zM391.5 2497.8a6.8 6.8 0 1 0 13.6 0a6.8 6.8 0 1 0-13.6 0zM408 2497.8a6.8 6.8 0 1 0 13.6 0a6.8 6.8 0 1 0-13.6 0zM424.5 2497.8a6.8 6.8 0 1 0 13.6 0a6.8 6.8 0 1 0-13.6 0zM441 2497.8a6.8 6.8 0 1 0 13.6 0a6.8 6.8 0 1 0-13.6 0zM457.5 2497.8a6.8 6.8 0 1 0 13.6 0a6.8 6.8 0 1 0-13.6 0zM474 2497.8a6.8 6.8 0 1 0 13.6 0a6.8 6.8 0 1 0-13.6 0zM490.5 2497.8a6.8 6.8 0 1 0 13.6 0a6.8 6.8 0 1 0-13.6 0zM507 2497.8a6.8 6.8 0 1 0 13.6 0a6.8 6.8 0 1 0-13.6 0zM523.6 2497.8a6.8 6.8 0 1 0 13.6 0a6.8 6.8 0 1 0-13.6 0zM540.1 2497.8a6.8 6.8 0 1 0 13.6 0a6.8 6.8 0 1 0-13.6 0zM556.6 2497.8a6.8 6.8 0 1 0 13.6 0a6.8 6.8 0 1 0-13.6 0zM573.1 2497.8a6.8 6.8 0 1 0 13.6 0a6.8 6.8 0 1 0-13.6 0zM589.6 2497.8a6.8 6.8 0 1 0 13.6 0a6.8 6.8 0 1 0-13.6 0zM606.1 2497.8a6.8 6.8 0 1 0 13.6 0a6.8 6.8 0 1 0-13.6 0zM622.6 2497.8a6.8 6.8 0 1 0 13.6 0a6.8 6.8 0 1 0-13.6 0zM639.1 2497.8a6.8 6.8 0 1 0 13.6 0a6.8 6.8 0 1 0-13.6 0zM655.6 2497.8a6.8 6.8 0 1 0 13.6 0a6.8 6.8 0 1 0-13.6 0zM672.1 2497.8a6.8 6.8 0 1 0 13.6 0a6.8 6.8 0 1 0-13.6 0zM688.6 2497.8a6.8 6.8 0 1 0 13.6 0a6.8 6.8 0 1 0-13.6 0zM705.2 2497.8a6.8 6.8 0 1 0 13.6 0a6.8 6.8 0 1 0-13.6 0zM721.7 2497.8a6.8 6.8 0 1 0 13.6 0a6.8 6.8 0 1 0-13.6 0zM738.2 2497.8a6.8 6.8 0 1 0 13.6 0a6.8 6.8 0 1 0-13.6 0zM94.3 2514.3a6.8 6.8 0 1 0 13.6 0a6.8 6.8 0 1 0-13.6 0zM110.8 2514.3a6.8 6.8 0 1 0 13.6 0a6.8 6.8 0 1 0-13.6 0zM127.3 2514.3a6.8 6.8 0 1 0 13.6 0a6.8 6.8 0 1 0-13.6 0zM143.8 2514.3a6.8 6.8 0 1 0 13.6 0a6.8 6.8 0 1 0-13.6 0zM160.3 2514.3a6.8 6.8 0 1 0 13.6 0a6.8 6.8 0 1 0-13.6 0zM176.8 2514.3a6.8 6.8 0 1 0 13.6 0a6.8 6.8 0 1 0-13.6 0zM193.3 2514.3a6.8 6.8 0 1 0 13.6 0a6.8 6.8 0 1 0-13.6 0zM209.8 2514.3a6.8 6.8 0 1 0 13.6 0a6.8 6.8 0 1 0-13.6 0zM226.4 2514.3a6.8 6.8 0 1 0 13.6 0a6.8 6.8 0 1 0-13.6 0zM242.9 2514.3a6.8 6.8 0 1 0 13.6 0a6.8 6.8 0 1 0-13.6 0zM259.4 2514.3a6.8 6.8 0 1 0 13.6 0a6.8 6.8 0 1 0-13.6 0zM275.9 2514.3a6.8 6.8 0 1 0 13.6 0a6.8 6.8 0 1 0-13.6 0zM292.4 2514.3a6.8 6.8 0 1 0 13.6 0a6.8 6.8 0 1 0-13.6 0zM308.9 2514.3a6.8 6.8 0 1 0 13.6 0a6.8 6.8 0 1 0-13.6 0zM325.4 2514.3a6.8 6.8 0 1 0 13.6 0a6.8 6.8 0 1 0-13.6 0zM341.9 2514.3a6.8 6.8 0 1 0 13.6 0a6.8 6.8 0 1 0-13.6 0zM358.4 2514.3a6.8 6.8 0 1 0 13.6 0a6.8 6.8 0 1 0-13.6 0zM374.9 2514.3a6.8 6.8 0 1 0 13.6 0a6.8 6.8 0 1 0-13.6 0zM391.4 2514.3a6.8 6.8 0 1 0 13.6 0a6.8 6.8 0 1 0-13.6 0zM407.9 2514.3a6.8 6.8 0 1 0 13.6 0a6.8 6.8 0 1 0-13.6 0zM424.4 2514.3a6.8 6.8 0 1 0 13.6 0a6.8 6.8 0 1 0-13.6 0zM440.9 2514.3a6.8 6.8 0 1 0 13.6 0a6.8 6.8 0 1 0-13.6 0zM457.4 2514.3a6.8 6.8 0 1 0 13.6 0a6.8 6.8 0 1 0-13.6 0zM473.9 2514.3a6.8 6.8 0 1 0 13.6 0a6.8 6.8 0 1 0-13.6 0zM490.5 2514.3a6.8 6.8 0 1 0 13.6 0a6.8 6.8 0 1 0-13.6 0zM507 2514.3a6.8 6.8 0 1 0 13.6 0a6.8 6.8 0 1 0-13.6 0zM523.5 2514.3a6.8 6.8 0 1 0 13.6 0a6.8 6.8 0 1 0-13.6 0zM540 2514.3a6.8 6.8 0 1 0 13.6 0a6.8 6.8 0 1 0-13.6 0zM556.5 2514.3a6.8 6.8 0 1 0 13.6 0a6.8 6.8 0 1 0-13.6 0zM573 2514.3a6.8 6.8 0 1 0 13.6 0a6.8 6.8 0 1 0-13.6 0zM589.5 2514.3a6.8 6.8 0 1 0 13.6 0a6.8 6.8 0 1 0-13.6 0zM606 2514.3a6.8 6.8 0 1 0 13.6 0a6.8 6.8 0 1 0-13.6 0zM622.5 2514.3a6.8 6.8 0 1 0 13.6 0a6.8 6.8 0 1 0-13.6 0zM639 2514.3a6.8 6.8 0 1 0 13.6 0a6.8 6.8 0 1 0-13.6 0zM655.5 2514.3a6.8 6.8 0 1 0 13.6 0a6.8 6.8 0 1 0-13.6 0zM672 2514.3a6.8 6.8 0 1 0 13.6 0a6.8 6.8 0 1 0-13.6 0zM688.5 2514.3a6.8 6.8 0 1 0 13.6 0a6.8 6.8 0 1 0-13.6 0zM705 2514.3a6.8 6.8 0 1 0 13.6 0a6.8 6.8 0 1 0-13.6 0zM721.5 2514.3a6.8 6.8 0 1 0 13.6 0a6.8 6.8 0 1 0-13.6 0zM738 2514.3a6.8 6.8 0 1 0 13.6 0a6.8 6.8 0 1 0-13.6 0zM110.8 2530.7a6.8 6.8 0 1 0 13.6 0a6.8 6.8 0 1 0-13.6 0zM127.3 2530.7a6.8 6.8 0 1 0 13.6 0a6.8 6.8 0 1 0-13.6 0zM143.8 2530.7a6.8 6.8 0 1 0 13.6 0a6.8 6.8 0 1 0-13.6 0zM160.3 2530.7a6.8 6.8 0 1 0 13.6 0a6.8 6.8 0 1 0-13.6 0zM176.8 2530.7a6.8 6.8 0 1 0 13.6 0a6.8 6.8 0 1 0-13.6 0zM193.3 2530.7a6.8 6.8 0 1 0 13.6 0a6.8 6.8 0 1 0-13.6 0zM209.8 2530.7a6.8 6.8 0 1 0 13.6 0a6.8 6.8 0 1 0-13.6 0zM226.3 2530.7a6.8 6.8 0 1 0 13.6 0a6.8 6.8 0 1 0-13.6 0zM242.8 2530.7a6.8 6.8 0 1 0 13.6 0a6.8 6.8 0 1 0-13.6 0zM259.3 2530.7a6.8 6.8 0 1 0 13.6 0a6.8 6.8 0 1 0-13.6 0zM275.8 2530.7a6.8 6.8 0 1 0 13.6 0a6.8 6.8 0 1 0-13.6 0zM292.3 2530.7a6.8 6.8 0 1 0 13.6 0a6.8 6.8 0 1 0-13.6 0zM308.8 2530.7a6.8 6.8 0 1 0 13.6 0a6.8 6.8 0 1 0-13.6 0zM325.3 2530.7a6.8 6.8 0 1 0 13.6 0a6.8 6.8 0 1 0-13.6 0zM341.8 2530.7a6.8 6.8 0 1 0 13.6 0a6.8 6.8 0 1 0-13.6 0zM358.3 2530.7a6.8 6.8 0 1 0 13.6 0a6.8 6.8 0 1 0-13.6 0zM374.9 2530.7a6.8 6.8 0 1 0 13.6 0a6.8 6.8 0 1 0-13.6 0zM391.4 2530.7a6.8 6.8 0 1 0 13.6 0a6.8 6.8 0 1 0-13.6 0zM407.9 2530.7a6.8 6.8 0 1 0 13.6 0a6.8 6.8 0 1 0-13.6 0zM424.4 2530.7a6.8 6.8 0 1 0 13.6 0a6.8 6.8 0 1 0-13.6 0zM440.9 2530.7a6.8 6.8 0 1 0 13.6 0a6.8 6.8 0 1 0-13.6 0zM457.4 2530.7a6.8 6.8 0 1 0 13.6 0a6.8 6.8 0 1 0-13.6 0zM473.9 2530.7a6.8 6.8 0 1 0 13.6 0a6.8 6.8 0 1 0-13.6 0zM490.4 2530.7a6.8 6.8 0 1 0 13.6 0a6.8 6.8 0 1 0-13.6 0zM506.9 2530.7a6.8 6.8 0 1 0 13.6 0a6.8 6.8 0 1 0-13.6 0zM523.4 2530.7a6.8 6.8 0 1 0 13.6 0a6.8 6.8 0 1 0-13.6 0zM539.9 2530.7a6.8 6.8 0 1 0 13.6 0a6.8 6.8 0 1 0-13.6 0zM556.4 2530.7a6.8 6.8 0 1 0 13.6 0a6.8 6.8 0 1 0-13.6 0zM572.9 2530.7a6.8 6.8 0 1 0 13.6 0a6.8 6.8 0 1 0-13.6 0zM589.4 2530.7a6.8 6.8 0 1 0 13.6 0a6.8 6.8 0 1 0-13.6 0zM605.9 2530.7a6.8 6.8 0 1 0 13.6 0a6.8 6.8 0 1 0-13.6 0zM622.4 2530.7a6.8 6.8 0 1 0 13.6 0a6.8 6.8 0 1 0-13.6 0zM638.9 2530.7a6.8 6.8 0 1 0 13.6 0a6.8 6.8 0 1 0-13.6 0zM655.4 2530.7a6.8 6.8 0 1 0 13.6 0a6.8 6.8 0 1 0-13.6 0zM671.9 2530.7a6.8 6.8 0 1 0 13.6 0a6.8 6.8 0 1 0-13.6 0zM688.4 2530.7a6.8 6.8 0 1 0 13.6 0a6.8 6.8 0 1 0-13.6 0zM704.9 2530.7a6.8 6.8 0 1 0 13.6 0a6.8 6.8 0 1 0-13.6 0zM721.4 2530.7a6.8 6.8 0 1 0 13.6 0a6.8 6.8 0 1 0-13.6 0zM737.9 2530.7a6.8 6.8 0 1 0 13.6 0a6.8 6.8 0 1 0-13.6 0zM127.3 2547.1a6.8 6.8 0 1 0 13.6 0a6.8 6.8 0 1 0-13.6 0zM143.8 2547.1a6.8 6.8 0 1 0 13.6 0a6.8 6.8 0 1 0-13.6 0zM160.3 2547.1a6.8 6.8 0 1 0 13.6 0a6.8 6.8 0 1 0-13.6 0zM176.8 2547.1a6.8 6.8 0 1 0 13.6 0a6.8 6.8 0 1 0-13.6 0zM193.3 2547.1a6.8 6.8 0 1 0 13.6 0a6.8 6.8 0 1 0-13.6 0zM209.8 2547.1a6.8 6.8 0 1 0 13.6 0a6.8 6.8 0 1 0-13.6 0zM226.3 2547.1a6.8 6.8 0 1 0 13.6 0a6.8 6.8 0 1 0-13.6 0zM242.8 2547.1a6.8 6.8 0 1 0 13.6 0a6.8 6.8 0 1 0-13.6 0zM259.3 2547.1a6.8 6.8 0 1 0 13.6 0a6.8 6.8 0 1 0-13.6 0zM275.8 2547.1a6.8 6.8 0 1 0 13.6 0a6.8 6.8 0 1 0-13.6 0zM292.3 2547.1a6.8 6.8 0 1 0 13.6 0a6.8 6.8 0 1 0-13.6 0zM308.8 2547.1a6.8 6.8 0 1 0 13.6 0a6.8 6.8 0 1 0-13.6 0zM325.3 2547.1a6.8 6.8 0 1 0 13.6 0a6.8 6.8 0 1 0-13.6 0zM341.8 2547.1a6.8 6.8 0 1 0 13.6 0a6.8 6.8 0 1 0-13.6 0zM358.3 2547.1a6.8 6.8 0 1 0 13.6 0a6.8 6.8 0 1 0-13.6 0zM374.8 2547.1a6.8 6.8 0 1 0 13.6 0a6.8 6.8 0 1 0-13.6 0zM391.3 2547.1a6.8 6.8 0 1 0 13.6 0a6.8 6.8 0 1 0-13.6 0zM407.8 2547.1a6.8 6.8 0 1 0 13.6 0a6.8 6.8 0 1 0-13.6 0zM424.3 2547.1a6.8 6.8 0 1 0 13.6 0a6.8 6.8 0 1 0-13.6 0zM440.8 2547.1a6.8 6.8 0 1 0 13.6 0a6.8 6.8 0 1 0-13.6 0zM457.3 2547.1a6.8 6.8 0 1 0 13.6 0a6.8 6.8 0 1 0-13.6 0zM473.8 2547.1a6.8 6.8 0 1 0 13.6 0a6.8 6.8 0 1 0-13.6 0zM490.3 2547.1a6.8 6.8 0 1 0 13.6 0a6.8 6.8 0 1 0-13.6 0zM506.8 2547.1a6.8 6.8 0 1 0 13.6 0a6.8 6.8 0 1 0-13.6 0zM523.3 2547.1a6.8 6.8 0 1 0 13.6 0a6.8 6.8 0 1 0-13.6 0zM539.8 2547.1a6.8 6.8 0 1 0 13.6 0a6.8 6.8 0 1 0-13.6 0zM556.3 2547.1a6.8 6.8 0 1 0 13.6 0a6.8 6.8 0 1 0-13.6 0zM572.8 2547.1a6.8 6.8 0 1 0 13.6 0a6.8 6.8 0 1 0-13.6 0zM589.3 2547.1a6.8 6.8 0 1 0 13.6 0a6.8 6.8 0 1 0-13.6 0zM605.8 2547.1a6.8 6.8 0 1 0 13.6 0a6.8 6.8 0 1 0-13.6 0zM622.3 2547.1a6.8 6.8 0 1 0 13.6 0a6.8 6.8 0 1 0-13.6 0zM638.8 2547.1a6.8 6.8 0 1 0 13.6 0a6.8 6.8 0 1 0-13.6 0zM655.3 2547.1a6.8 6.8 0 1 0 13.6 0a6.8 6.8 0 1 0-13.6 0zM671.8 2547.1a6.8 6.8 0 1 0 13.6 0a6.8 6.8 0 1 0-13.6 0zM688.3 2547.1a6.8 6.8 0 1 0 13.6 0a6.8 6.8 0 1 0-13.6 0zM704.8 2547.1a6.8 6.8 0 1 0 13.6 0a6.8 6.8 0 1 0-13.6 0zM721.3 2547.1a6.8 6.8 0 1 0 13.6 0a6.8 6.8 0 1 0-13.6 0zM737.8 2547.1a6.8 6.8 0 1 0 13.6 0a6.8 6.8 0 1 0-13.6 0zM160.3 2563.6a6.8 6.8 0 1 0 13.6 0a6.8 6.8 0 1 0-13.6 0zM176.8 2563.6a6.8 6.8 0 1 0 13.6 0a6.8 6.8 0 1 0-13.6 0zM193.3 2563.6a6.8 6.8 0 1 0 13.6 0a6.8 6.8 0 1 0-13.6 0zM209.8 2563.6a6.8 6.8 0 1 0 13.6 0a6.8 6.8 0 1 0-13.6 0zM226.3 2563.6a6.8 6.8 0 1 0 13.6 0a6.8 6.8 0 1 0-13.6 0zM242.8 2563.6a6.8 6.8 0 1 0 13.6 0a6.8 6.8 0 1 0-13.6 0zM259.3 2563.6a6.8 6.8 0 1 0 13.6 0a6.8 6.8 0 1 0-13.6 0zM275.8 2563.6a6.8 6.8 0 1 0 13.6 0a6.8 6.8 0 1 0-13.6 0zM292.3 2563.6a6.8 6.8 0 1 0 13.6 0a6.8 6.8 0 1 0-13.6 0zM308.8 2563.6a6.8 6.8 0 1 0 13.6 0a6.8 6.8 0 1 0-13.6 0zM325.2 2563.6a6.8 6.8 0 1 0 13.6 0a6.8 6.8 0 1 0-13.6 0zM341.7 2563.6a6.8 6.8 0 1 0 13.6 0a6.8 6.8 0 1 0-13.6 0zM358.2 2563.6a6.8 6.8 0 1 0 13.6 0a6.8 6.8 0 1 0-13.6 0zM374.7 2563.6a6.8 6.8 0 1 0 13.6 0a6.8 6.8 0 1 0-13.6 0zM391.2 2563.6a6.8 6.8 0 1 0 13.6 0a6.8 6.8 0 1 0-13.6 0zM407.7 2563.6a6.8 6.8 0 1 0 13.6 0a6.8 6.8 0 1 0-13.6 0zM424.2 2563.6a6.8 6.8 0 1 0 13.6 0a6.8 6.8 0 1 0-13.6 0zM440.7 2563.6a6.8 6.8 0 1 0 13.6 0a6.8 6.8 0 1 0-13.6 0zM457.2 2563.6a6.8 6.8 0 1 0 13.6 0a6.8 6.8 0 1 0-13.6 0zM473.7 2563.6a6.8 6.8 0 1 0 13.6 0a6.8 6.8 0 1 0-13.6 0zM490.2 2563.6a6.8 6.8 0 1 0 13.6 0a6.8 6.8 0 1 0-13.6 0zM506.7 2563.6a6.8 6.8 0 1 0 13.6 0a6.8 6.8 0 1 0-13.6 0zM523.2 2563.6a6.8 6.8 0 1 0 13.6 0a6.8 6.8 0 1 0-13.6 0zM539.7 2563.6a6.8 6.8 0 1 0 13.6 0a6.8 6.8 0 1 0-13.6 0zM556.2 2563.6a6.8 6.8 0 1 0 13.6 0a6.8 6.8 0 1 0-13.6 0zM572.7 2563.6a6.8 6.8 0 1 0 13.6 0a6.8 6.8 0 1 0-13.6 0zM589.2 2563.6a6.8 6.8 0 1 0 13.6 0a6.8 6.8 0 1 0-13.6 0zM605.7 2563.6a6.8 6.8 0 1 0 13.6 0a6.8 6.8 0 1 0-13.6 0zM622.2 2563.6a6.8 6.8 0 1 0 13.6 0a6.8 6.8 0 1 0-13.6 0zM638.7 2563.6a6.8 6.8 0 1 0 13.6 0a6.8 6.8 0 1 0-13.6 0zM655.2 2563.6a6.8 6.8 0 1 0 13.6 0a6.8 6.8 0 1 0-13.6 0zM671.7 2563.6a6.8 6.8 0 1 0 13.6 0a6.8 6.8 0 1 0-13.6 0zM688.2 2563.6a6.8 6.8 0 1 0 13.6 0a6.8 6.8 0 1 0-13.6 0zM704.7 2563.6a6.8 6.8 0 1 0 13.6 0a6.8 6.8 0 1 0-13.6 0zM721.2 2563.6a6.8 6.8 0 1 0 13.6 0a6.8 6.8 0 1 0-13.6 0zM737.7 2563.6a6.8 6.8 0 1 0 13.6 0a6.8 6.8 0 1 0-13.6 0zM193.3 2580a6.8 6.8 0 1 0 13.6 0a6.8 6.8 0 1 0-13.6 0zM209.8 2580a6.8 6.8 0 1 0 13.6 0a6.8 6.8 0 1 0-13.6 0zM226.2 2580a6.8 6.8 0 1 0 13.6 0a6.8 6.8 0 1 0-13.6 0zM242.7 2580a6.8 6.8 0 1 0 13.6 0a6.8 6.8 0 1 0-13.6 0zM259.2 2580a6.8 6.8 0 1 0 13.6 0a6.8 6.8 0 1 0-13.6 0zM275.7 2580a6.8 6.8 0 1 0 13.6 0a6.8 6.8 0 1 0-13.6 0zM292.2 2580a6.8 6.8 0 1 0 13.6 0a6.8 6.8 0 1 0-13.6 0zM308.7 2580a6.8 6.8 0 1 0 13.6 0a6.8 6.8 0 1 0-13.6 0zM325.2 2580a6.8 6.8 0 1 0 13.6 0a6.8 6.8 0 1 0-13.6 0zM341.7 2580a6.8 6.8 0 1 0 13.6 0a6.8 6.8 0 1 0-13.6 0zM358.2 2580a6.8 6.8 0 1 0 13.6 0a6.8 6.8 0 1 0-13.6 0zM374.7 2580a6.8 6.8 0 1 0 13.6 0a6.8 6.8 0 1 0-13.6 0zM391.2 2580a6.8 6.8 0 1 0 13.6 0a6.8 6.8 0 1 0-13.6 0zM407.7 2580a6.8 6.8 0 1 0 13.6 0a6.8 6.8 0 1 0-13.6 0zM424.2 2580a6.8 6.8 0 1 0 13.6 0a6.8 6.8 0 1 0-13.6 0zM440.7 2580a6.8 6.8 0 1 0 13.6 0a6.8 6.8 0 1 0-13.6 0zM457.1 2580a6.8 6.8 0 1 0 13.6 0a6.8 6.8 0 1 0-13.6 0zM473.6 2580a6.8 6.8 0 1 0 13.6 0a6.8 6.8 0 1 0-13.6 0zM490.1 2580a6.8 6.8 0 1 0 13.6 0a6.8 6.8 0 1 0-13.6 0zM506.6 2580a6.8 6.8 0 1 0 13.6 0a6.8 6.8 0 1 0-13.6 0zM523.1 2580a6.8 6.8 0 1 0 13.6 0a6.8 6.8 0 1 0-13.6 0zM539.6 2580a6.8 6.8 0 1 0 13.6 0a6.8 6.8 0 1 0-13.6 0zM556.1 2580a6.8 6.8 0 1 0 13.6 0a6.8 6.8 0 1 0-13.6 0zM572.6 2580a6.8 6.8 0 1 0 13.6 0a6.8 6.8 0 1 0-13.6 0zM589.1 2580a6.8 6.8 0 1 0 13.6 0a6.8 6.8 0 1 0-13.6 0zM605.6 2580a6.8 6.8 0 1 0 13.6 0a6.8 6.8 0 1 0-13.6 0zM622.1 2580a6.8 6.8 0 1 0 13.6 0a6.8 6.8 0 1 0-13.6 0zM638.6 2580a6.8 6.8 0 1 0 13.6 0a6.8 6.8 0 1 0-13.6 0zM655.1 2580a6.8 6.8 0 1 0 13.6 0a6.8 6.8 0 1 0-13.6 0zM671.6 2580a6.8 6.8 0 1 0 13.6 0a6.8 6.8 0 1 0-13.6 0zM688 2580a6.8 6.8 0 1 0 13.6 0a6.8 6.8 0 1 0-13.6 0zM704.5 2580a6.8 6.8 0 1 0 13.6 0a6.8 6.8 0 1 0-13.6 0zM721 2580a6.8 6.8 0 1 0 13.6 0a6.8 6.8 0 1 0-13.6 0zM737.5 2580a6.8 6.8 0 1 0 13.6 0a6.8 6.8 0 1 0-13.6 0zM242.7 2596.4a6.8 6.8 0 1 0 13.6 0a6.8 6.8 0 1 0-13.6 0zM259.2 2596.4a6.8 6.8 0 1 0 13.6 0a6.8 6.8 0 1 0-13.6 0zM275.7 2596.4a6.8 6.8 0 1 0 13.6 0a6.8 6.8 0 1 0-13.6 0zM292.2 2596.4a6.8 6.8 0 1 0 13.6 0a6.8 6.8 0 1 0-13.6 0zM308.7 2596.4a6.8 6.8 0 1 0 13.6 0a6.8 6.8 0 1 0-13.6 0zM325.2 2596.4a6.8 6.8 0 1 0 13.6 0a6.8 6.8 0 1 0-13.6 0zM341.6 2596.4a6.8 6.8 0 1 0 13.6 0a6.8 6.8 0 1 0-13.6 0zM358.1 2596.4a6.8 6.8 0 1 0 13.6 0a6.8 6.8 0 1 0-13.6 0zM374.6 2596.4a6.8 6.8 0 1 0 13.6 0a6.8 6.8 0 1 0-13.6 0zM391.1 2596.4a6.8 6.8 0 1 0 13.6 0a6.8 6.8 0 1 0-13.6 0zM407.6 2596.4a6.8 6.8 0 1 0 13.6 0a6.8 6.8 0 1 0-13.6 0zM424.1 2596.4a6.8 6.8 0 1 0 13.6 0a6.8 6.8 0 1 0-13.6 0zM440.6 2596.4a6.8 6.8 0 1 0 13.6 0a6.8 6.8 0 1 0-13.6 0zM457.1 2596.4a6.8 6.8 0 1 0 13.6 0a6.8 6.8 0 1 0-13.6 0zM473.6 2596.4a6.8 6.8 0 1 0 13.6 0a6.8 6.8 0 1 0-13.6 0zM490.1 2596.4a6.8 6.8 0 1 0 13.6 0a6.8 6.8 0 1 0-13.6 0zM506.5 2596.4a6.8 6.8 0 1 0 13.6 0a6.8 6.8 0 1 0-13.6 0zM523 2596.4a6.8 6.8 0 1 0 13.6 0a6.8 6.8 0 1 0-13.6 0zM539.5 2596.4a6.8 6.8 0 1 0 13.6 0a6.8 6.8 0 1 0-13.6 0zM556 2596.4a6.8 6.8 0 1 0 13.6 0a6.8 6.8 0 1 0-13.6 0zM572.5 2596.4a6.8 6.8 0 1 0 13.6 0a6.8 6.8 0 1 0-13.6 0zM589 2596.4a6.8 6.8 0 1 0 13.6 0a6.8 6.8 0 1 0-13.6 0zM605.5 2596.4a6.8 6.8 0 1 0 13.6 0a6.8 6.8 0 1 0-13.6 0zM622 2596.4a6.8 6.8 0 1 0 13.6 0a6.8 6.8 0 1 0-13.6 0zM638.5 2596.4a6.8 6.8 0 1 0 13.6 0a6.8 6.8 0 1 0-13.6 0zM654.9 2596.4a6.8 6.8 0 1 0 13.6 0a6.8 6.8 0 1 0-13.6 0zM671.4 2596.4a6.8 6.8 0 1 0 13.6 0a6.8 6.8 0 1 0-13.6 0zM687.9 2596.4a6.8 6.8 0 1 0 13.6 0a6.8 6.8 0 1 0-13.6 0zM704.4 2596.4a6.8 6.8 0 1 0 13.6 0a6.8 6.8 0 1 0-13.6 0zM720.9 2596.4a6.8 6.8 0 1 0 13.6 0a6.8 6.8 0 1 0-13.6 0zM737.4 2596.4a6.8 6.8 0 1 0 13.6 0a6.8 6.8 0 1 0-13.6 0zM259.2 2612.8a6.8 6.8 0 1 0 13.6 0a6.8 6.8 0 1 0-13.6 0zM275.6 2612.8a6.8 6.8 0 1 0 13.6 0a6.8 6.8 0 1 0-13.6 0zM292.1 2612.8a6.8 6.8 0 1 0 13.6 0a6.8 6.8 0 1 0-13.6 0zM308.6 2612.8a6.8 6.8 0 1 0 13.6 0a6.8 6.8 0 1 0-13.6 0zM325.1 2612.8a6.8 6.8 0 1 0 13.6 0a6.8 6.8 0 1 0-13.6 0zM341.6 2612.8a6.8 6.8 0 1 0 13.6 0a6.8 6.8 0 1 0-13.6 0zM358.1 2612.8a6.8 6.8 0 1 0 13.6 0a6.8 6.8 0 1 0-13.6 0zM374.6 2612.8a6.8 6.8 0 1 0 13.6 0a6.8 6.8 0 1 0-13.6 0zM391.1 2612.8a6.8 6.8 0 1 0 13.6 0a6.8 6.8 0 1 0-13.6 0zM407.5 2612.8a6.8 6.8 0 1 0 13.6 0a6.8 6.8 0 1 0-13.6 0zM424 2612.8a6.8 6.8 0 1 0 13.6 0a6.8 6.8 0 1 0-13.6 0zM440.5 2612.8a6.8 6.8 0 1 0 13.6 0a6.8 6.8 0 1 0-13.6 0zM457 2612.8a6.8 6.8 0 1 0 13.6 0a6.8 6.8 0 1 0-13.6 0zM473.5 2612.8a6.8 6.8 0 1 0 13.6 0a6.8 6.8 0 1 0-13.6 0zM490 2612.8a6.8 6.8 0 1 0 13.6 0a6.8 6.8 0 1 0-13.6 0zM506.5 2612.8a6.8 6.8 0 1 0 13.6 0a6.8 6.8 0 1 0-13.6 0zM522.9 2612.8a6.8 6.8 0 1 0 13.6 0a6.8 6.8 0 1 0-13.6 0zM539.4 2612.8a6.8 6.8 0 1 0 13.6 0a6.8 6.8 0 1 0-13.6 0zM555.9 2612.8a6.8 6.8 0 1 0 13.6 0a6.8 6.8 0 1 0-13.6 0zM572.4 2612.8a6.8 6.8 0 1 0 13.6 0a6.8 6.8 0 1 0-13.6 0zM588.9 2612.8a6.8 6.8 0 1 0 13.6 0a6.8 6.8 0 1 0-13.6 0zM605.4 2612.8a6.8 6.8 0 1 0 13.6 0a6.8 6.8 0 1 0-13.6 0zM621.9 2612.8a6.8 6.8 0 1 0 13.6 0a6.8 6.8 0 1 0-13.6 0zM638.3 2612.8a6.8 6.8 0 1 0 13.6 0a6.8 6.8 0 1 0-13.6 0zM654.8 2612.8a6.8 6.8 0 1 0 13.6 0a6.8 6.8 0 1 0-13.6 0zM671.3 2612.8a6.8 6.8 0 1 0 13.6 0a6.8 6.8 0 1 0-13.6 0zM687.8 2612.8a6.8 6.8 0 1 0 13.6 0a6.8 6.8 0 1 0-13.6 0zM704.3 2612.8a6.8 6.8 0 1 0 13.6 0a6.8 6.8 0 1 0-13.6 0zM720.8 2612.8a6.8 6.8 0 1 0 13.6 0a6.8 6.8 0 1 0-13.6 0zM737.3 2612.8a6.8 6.8 0 1 0 13.6 0a6.8 6.8 0 1 0-13.6 0zM292.1 2629.1a6.8 6.8 0 1 0 13.6 0a6.8 6.8 0 1 0-13.6 0zM308.6 2629.1a6.8 6.8 0 1 0 13.6 0a6.8 6.8 0 1 0-13.6 0zM325.1 2629.1a6.8 6.8 0 1 0 13.6 0a6.8 6.8 0 1 0-13.6 0zM341.5 2629.1a6.8 6.8 0 1 0 13.6 0a6.8 6.8 0 1 0-13.6 0zM358 2629.1a6.8 6.8 0 1 0 13.6 0a6.8 6.8 0 1 0-13.6 0zM374.5 2629.1a6.8 6.8 0 1 0 13.6 0a6.8 6.8 0 1 0-13.6 0zM391 2629.1a6.8 6.8 0 1 0 13.6 0a6.8 6.8 0 1 0-13.6 0zM407.5 2629.1a6.8 6.8 0 1 0 13.6 0a6.8 6.8 0 1 0-13.6 0zM424 2629.1a6.8 6.8 0 1 0 13.6 0a6.8 6.8 0 1 0-13.6 0zM440.4 2629.1a6.8 6.8 0 1 0 13.6 0a6.8 6.8 0 1 0-13.6 0zM456.9 2629.1a6.8 6.8 0 1 0 13.6 0a6.8 6.8 0 1 0-13.6 0zM473.4 2629.1a6.8 6.8 0 1 0 13.6 0a6.8 6.8 0 1 0-13.6 0zM489.9 2629.1a6.8 6.8 0 1 0 13.6 0a6.8 6.8 0 1 0-13.6 0zM506.4 2629.1a6.8 6.8 0 1 0 13.6 0a6.8 6.8 0 1 0-13.6 0zM522.9 2629.1a6.8 6.8 0 1 0 13.6 0a6.8 6.8 0 1 0-13.6 0zM539.3 2629.1a6.8 6.8 0 1 0 13.6 0a6.8 6.8 0 1 0-13.6 0zM555.8 2629.1a6.8 6.8 0 1 0 13.6 0a6.8 6.8 0 1 0-13.6 0zM572.3 2629.1a6.8 6.8 0 1 0 13.6 0a6.8 6.8 0 1 0-13.6 0zM588.8 2629.1a6.8 6.8 0 1 0 13.6 0a6.8 6.8 0 1 0-13.6 0zM605.3 2629.1a6.8 6.8 0 1 0 13.6 0a6.8 6.8 0 1 0-13.6 0zM621.8 2629.1a6.8 6.8 0 1 0 13.6 0a6.8 6.8 0 1 0-13.6 0zM638.2 2629.1a6.8 6.8 0 1 0 13.6 0a6.8 6.8 0 1 0-13.6 0zM654.7 2629.1a6.8 6.8 0 1 0 13.6 0a6.8 6.8 0 1 0-13.6 0zM671.2 2629.1a6.8 6.8 0 1 0 13.6 0a6.8 6.8 0 1 0-13.6 0zM687.7 2629.1a6.8 6.8 0 1 0 13.6 0a6.8 6.8 0 1 0-13.6 0zM704.2 2629.1a6.8 6.8 0 1 0 13.6 0a6.8 6.8 0 1 0-13.6 0zM720.6 2629.1a6.8 6.8 0 1 0 13.6 0a6.8 6.8 0 1 0-13.6 0zM737.1 2629.1a6.8 6.8 0 1 0 13.6 0a6.8 6.8 0 1 0-13.6 0zM325 2645.5a6.8 6.8 0 1 0 13.6 0a6.8 6.8 0 1 0-13.6 0zM341.5 2645.5a6.8 6.8 0 1 0 13.6 0a6.8 6.8 0 1 0-13.6 0zM358 2645.5a6.8 6.8 0 1 0 13.6 0a6.8 6.8 0 1 0-13.6 0zM374.5 2645.5a6.8 6.8 0 1 0 13.6 0a6.8 6.8 0 1 0-13.6 0zM390.9 2645.5a6.8 6.8 0 1 0 13.6 0a6.8 6.8 0 1 0-13.6 0zM407.4 2645.5a6.8 6.8 0 1 0 13.6 0a6.8 6.8 0 1 0-13.6 0zM423.9 2645.5a6.8 6.8 0 1 0 13.6 0a6.8 6.8 0 1 0-13.6 0zM440.4 2645.5a6.8 6.8 0 1 0 13.6 0a6.8 6.8 0 1 0-13.6 0zM456.8 2645.5a6.8 6.8 0 1 0 13.6 0a6.8 6.8 0 1 0-13.6 0zM473.3 2645.5a6.8 6.8 0 1 0 13.6 0a6.8 6.8 0 1 0-13.6 0zM489.8 2645.5a6.8 6.8 0 1 0 13.6 0a6.8 6.8 0 1 0-13.6 0zM506.3 2645.5a6.8 6.8 0 1 0 13.6 0a6.8 6.8 0 1 0-13.6 0zM522.8 2645.5a6.8 6.8 0 1 0 13.6 0a6.8 6.8 0 1 0-13.6 0zM539.2 2645.5a6.8 6.8 0 1 0 13.6 0a6.8 6.8 0 1 0-13.6 0zM555.7 2645.5a6.8 6.8 0 1 0 13.6 0a6.8 6.8 0 1 0-13.6 0zM572.2 2645.5a6.8 6.8 0 1 0 13.6 0a6.8 6.8 0 1 0-13.6 0zM588.7 2645.5a6.8 6.8 0 1 0 13.6 0a6.8 6.8 0 1 0-13.6 0zM605.2 2645.5a6.8 6.8 0 1 0 13.6 0a6.8 6.8 0 1 0-13.6 0zM621.6 2645.5a6.8 6.8 0 1 0 13.6 0a6.8 6.8 0 1 0-13.6 0zM638.1 2645.5a6.8 6.8 0 1 0 13.6 0a6.8 6.8 0 1 0-13.6 0zM654.6 2645.5a6.8 6.8 0 1 0 13.6 0a6.8 6.8 0 1 0-13.6 0zM671.1 2645.5a6.8 6.8 0 1 0 13.6 0a6.8 6.8 0 1 0-13.6 0zM687.6 2645.5a6.8 6.8 0 1 0 13.6 0a6.8 6.8 0 1 0-13.6 0zM704 2645.5a6.8 6.8 0 1 0 13.6 0a6.8 6.8 0 1 0-13.6 0zM720.5 2645.5a6.8 6.8 0 1 0 13.6 0a6.8 6.8 0 1 0-13.6 0zM737 2645.5a6.8 6.8 0 1 0 13.6 0a6.8 6.8 0 1 0-13.6 0zM374.4 2661.9a6.8 6.8 0 1 0 13.6 0a6.8 6.8 0 1 0-13.6 0zM390.9 2661.9a6.8 6.8 0 1 0 13.6 0a6.8 6.8 0 1 0-13.6 0zM407.3 2661.9a6.8 6.8 0 1 0 13.6 0a6.8 6.8 0 1 0-13.6 0zM423.8 2661.9a6.8 6.8 0 1 0 13.6 0a6.8 6.8 0 1 0-13.6 0zM440.3 2661.9a6.8 6.8 0 1 0 13.6 0a6.8 6.8 0 1 0-13.6 0zM456.8 2661.9a6.8 6.8 0 1 0 13.6 0a6.8 6.8 0 1 0-13.6 0zM473.3 2661.9a6.8 6.8 0 1 0 13.6 0a6.8 6.8 0 1 0-13.6 0zM489.7 2661.9a6.8 6.8 0 1 0 13.6 0a6.8 6.8 0 1 0-13.6 0zM506.2 2661.9a6.8 6.8 0 1 0 13.6 0a6.8 6.8 0 1 0-13.6 0zM522.7 2661.9a6.8 6.8 0 1 0 13.6 0a6.8 6.8 0 1 0-13.6 0zM539.2 2661.9a6.8 6.8 0 1 0 13.6 0a6.8 6.8 0 1 0-13.6 0zM555.6 2661.9a6.8 6.8 0 1 0 13.6 0a6.8 6.8 0 1 0-13.6 0zM572.1 2661.9a6.8 6.8 0 1 0 13.6 0a6.8 6.8 0 1 0-13.6 0zM588.6 2661.9a6.8 6.8 0 1 0 13.6 0a6.8 6.8 0 1 0-13.6 0zM605.1 2661.9a6.8 6.8 0 1 0 13.6 0a6.8 6.8 0 1 0-13.6 0zM621.5 2661.9a6.8 6.8 0 1 0 13.6 0a6.8 6.8 0 1 0-13.6 0zM638 2661.9a6.8 6.8 0 1 0 13.6 0a6.8 6.8 0 1 0-13.6 0zM654.5 2661.9a6.8 6.8 0 1 0 13.6 0a6.8 6.8 0 1 0-13.6 0zM671 2661.9a6.8 6.8 0 1 0 13.6 0a6.8 6.8 0 1 0-13.6 0zM687.4 2661.9a6.8 6.8 0 1 0 13.6 0a6.8 6.8 0 1 0-13.6 0zM703.9 2661.9a6.8 6.8 0 1 0 13.6 0a6.8 6.8 0 1 0-13.6 0zM720.4 2661.9a6.8 6.8 0 1 0 13.6 0a6.8 6.8 0 1 0-13.6 0zM736.9 2661.9a6.8 6.8 0 1 0 13.6 0a6.8 6.8 0 1 0-13.6 0zM374.3 2678.2a6.8 6.8 0 1 0 13.6 0a6.8 6.8 0 1 0-13.6 0zM390.8 2678.2a6.8 6.8 0 1 0 13.6 0a6.8 6.8 0 1 0-13.6 0zM407.3 2678.2a6.8 6.8 0 1 0 13.6 0a6.8 6.8 0 1 0-13.6 0zM423.8 2678.2a6.8 6.8 0 1 0 13.6 0a6.8 6.8 0 1 0-13.6 0zM440.2 2678.2a6.8 6.8 0 1 0 13.6 0a6.8 6.8 0 1 0-13.6 0zM456.7 2678.2a6.8 6.8 0 1 0 13.6 0a6.8 6.8 0 1 0-13.6 0zM473.2 2678.2a6.8 6.8 0 1 0 13.6 0a6.8 6.8 0 1 0-13.6 0zM489.6 2678.2a6.8 6.8 0 1 0 13.6 0a6.8 6.8 0 1 0-13.6 0zM506.1 2678.2a6.8 6.8 0 1 0 13.6 0a6.8 6.8 0 1 0-13.6 0zM522.6 2678.2a6.8 6.8 0 1 0 13.6 0a6.8 6.8 0 1 0-13.6 0zM539.1 2678.2a6.8 6.8 0 1 0 13.6 0a6.8 6.8 0 1 0-13.6 0zM555.5 2678.2a6.8 6.8 0 1 0 13.6 0a6.8 6.8 0 1 0-13.6 0zM572 2678.2a6.8 6.8 0 1 0 13.6 0a6.8 6.8 0 1 0-13.6 0zM588.5 2678.2a6.8 6.8 0 1 0 13.6 0a6.8 6.8 0 1 0-13.6 0zM605 2678.2a6.8 6.8 0 1 0 13.6 0a6.8 6.8 0 1 0-13.6 0zM621.4 2678.2a6.8 6.8 0 1 0 13.6 0a6.8 6.8 0 1 0-13.6 0zM637.9 2678.2a6.8 6.8 0 1 0 13.6 0a6.8 6.8 0 1 0-13.6 0zM654.4 2678.2a6.8 6.8 0 1 0 13.6 0a6.8 6.8 0 1 0-13.6 0zM670.8 2678.2a6.8 6.8 0 1 0 13.6 0a6.8 6.8 0 1 0-13.6 0zM687.3 2678.2a6.8 6.8 0 1 0 13.6 0a6.8 6.8 0 1 0-13.6 0zM703.8 2678.2a6.8 6.8 0 1 0 13.6 0a6.8 6.8 0 1 0-13.6 0zM720.3 2678.2a6.8 6.8 0 1 0 13.6 0a6.8 6.8 0 1 0-13.6 0zM736.7 2678.2a6.8 6.8 0 1 0 13.6 0a6.8 6.8 0 1 0-13.6 0z" fill="#f98a45"/>
<path d="M740.1 2249.7a6.8 6.8 0 1 0 13.6 0a6.8 6.8 0 1 0-13.6 0z" fill="#f96a3a"/>
<polyline points="230,2243.9 229.5,2246.5 228.6,2251.7 227.1,2259.6 225.3,2270 223.4,2279.9 221.4,2289.3 219.6,2298 217.7,2306.3 215.8,2314.3 214.1,2322.2 212.4,2330 210.9,2337.6 209.4,2344.4 208.2,2350.4 207.1,2355.6 206.1,2360.1 205.2,2364.2 204.4,2368.1 203.6,2371.7 203,2375 202.3,2379.3 201.8,2384.4 201.3,2390.5 201,2397.6 200.4,2405.5 199.7,2414.3 198.8,2424 197.8,2434.5 196.5,2445.1 195.1,2455.7 193.6,2466.2 191.8,2476.8 189.8,2487 187.5,2496.8 185,2506.3 182.1,2515.5 179.1,2523.9 176,2531.7 172.7,2538.7 169.2,2545 165.9,2550.4 162.9,2554.8 160.2,2558.2 157.7,2560.7 155.9,2562.5 154.6,2563.8 154,2564.4" fill="none" stroke="#888" stroke-width="2.1" stroke-linejoin="round"/>
<polyline points="340.2,2243.9 339.2,2246.2 337.1,2250.8 334.1,2257.7 329.9,2266.8 325.9,2275.5 322,2283.5 318.1,2291.1 314.3,2298 310.5,2305 306.7,2312 302.9,2318.9 299.1,2325.9 295.6,2333 292.4,2340.3 289.6,2347.7 287,2355.3 284.9,2361.8 283.1,2367.3 281.7,2371.7 280.8,2375 279.8,2378.7 278.9,2382.9 277.9,2387.4 277,2392.3 275.6,2397.4 273.9,2402.7 271.7,2408.1 269.1,2413.8 266.7,2420.5 264.5,2428.4 262.5,2437.5 260.6,2447.7 258.7,2456.9 256.6,2464.9 254.3,2472 251.9,2478 249.4,2485 246.8,2492.9 244.1,2501.8 241.2,2511.6 238.1,2521.3 234.6,2530.8 230.7,2540.1 226.5,2549.3 222.5,2557.8 218.6,2565.7 214.9,2573 211.4,2579.7 208.7,2584.7 207,2588 206.1,2589.7" fill="none" stroke="#888" stroke-width="2.1" stroke-linejoin="round"/>
<polyline points="475,2244.4 475.7,2246.3 477,2250.2 479,2255.9 481.6,2263.6 483.8,2271.8 485.4,2280.7 486.6,2290.1 487.3,2300.2 487.8,2310.2 488.1,2320.2 488.3,2330.3 488.3,2340.3 488.1,2349.5 487.8,2357.9 487.3,2365.4 486.6,2372.1 485.7,2378.8 484.5,2385.4 483.1,2392.1 481.5,2398.8 479.2,2405.5 476.4,2412.2 473,2418.8 468.9,2425.5 464.5,2431.8 459.6,2437.6 454.3,2442.9 448.6,2447.7 442.2,2452.8 435,2458.2 427.2,2463.8 418.7,2469.7 410.5,2475.5 402.8,2481.2 395.4,2486.9 388.3,2492.6 381.3,2498.2 374.3,2503.8 367.2,2509.5 360.2,2515.1 353.1,2520.9 346.1,2526.9 339.1,2533.1 332,2539.4 325,2545.9 318,2552.6 310.9,2559.4 303.9,2566.5 296.5,2573.9 288.7,2581.8 280.7,2590.2 272.2,2599 265.9,2605.6 261.7,2610 259.6,2612.2" fill="none" stroke="#888" stroke-width="2.1" stroke-linejoin="round"/>
<polyline points="535.1,2244.4 536.1,2247.2 538.1,2252.7 541.1,2260.9 545.2,2272 549,2282.7 552.7,2293.3 556.2,2303.5 559.5,2313.6 562.4,2323.6 564.9,2333.6 567,2343.6 568.7,2353.7 570.4,2363.7 572,2373.7 573.7,2383.7 575.4,2393.8 576.8,2404.2 578,2415 578.9,2426.1 579.6,2437.7 579.8,2448.3 579.4,2458.1 578.6,2467 577.2,2475.1 575.4,2482.9 573,2490.6 570.2,2498.1 566.9,2505.5 563.1,2512.7 558.7,2519.7 553.9,2526.6 548.5,2533.2 542.5,2539.6 535.8,2545.6 528.5,2551.3 520.4,2556.7 511.4,2561.4 501.4,2565.4 490.3,2568.7 478.3,2571.4 468,2573.7 459.4,2575.6 452.6,2577.1 447.6,2578.2 441.7,2579.4 434.9,2580.7 427.2,2582 418.7,2583.4 410.5,2585.1 402.8,2587.2 395.4,2589.7 388.3,2592.5 381.3,2595.8 374.3,2599.7 367.2,2604.1 360.2,2609.1 353.8,2613.5 348.2,2617.4 343.3,2620.7 339.1,2623.5 334.9,2626.5 330.7,2629.6 326.5,2633 322.2,2636.5 319.1,2639.2 317,2640.9 315.9,2641.8" fill="none" stroke="#888" stroke-width="2.1" stroke-linejoin="round"/>
<polyline points="587.3,2244.4 588,2246.3 589.5,2250.2 591.8,2255.9 594.8,2263.6 597.7,2271.8 600.6,2280.7 603.3,2290.1 606,2300.2 608.5,2310.2 610.8,2320.2 613,2330.3 615,2340.3 616.8,2350.4 618.5,2360.4 620,2370.4 621.4,2380.5 622.6,2391.7 623.8,2404.2 624.9,2417.8 625.9,2432.7 626.8,2446.3 627.7,2458.8 628.4,2470 629.1,2480.1 629,2490.9 628.2,2502.6 626.6,2515.2 624.2,2528.5 621.5,2540.7 618.3,2551.8 614.7,2561.7 610.7,2570.3 606.2,2578.9 601.2,2587.2 595.7,2595.4 589.6,2603.5 583.3,2611.1 576.6,2618.5 569.6,2625.5 562.2,2632.2 554.7,2638 547,2643 539.2,2647.2 531.1,2650.6 521.4,2653.8 510.1,2656.8 497,2659.6 482.3,2662.3 470,2664.3 460.1,2665.5 452.6,2666.1 447.6,2665.9 441.7,2666.1 434.9,2666.5 427.2,2667.3 418.7,2668.3 411.1,2669.6 404.3,2671 398.5,2672.6 393.6,2674.3 389.9,2675.7 387.4,2676.6 386.2,2677" fill="none" stroke="#888" stroke-width="2.1" stroke-linejoin="round"/>
<polyline points="623.4,2244.4 624.1,2247.2 625.4,2252.7 627.4,2260.9 630.1,2272 632.8,2282.7 635.4,2293.3 638.1,2303.5 640.8,2313.6 643.3,2323.6 645.6,2333.6 647.8,2343.6 649.8,2353.7 651.6,2363.7 653.3,2373.7 654.8,2383.7 656.2,2393.8 657.5,2404.2 658.9,2415 660.2,2426.1 661.5,2437.7 662.8,2449.7 664.2,2462.1 665.5,2475.1 666.9,2488.4 667.5,2501.8 667.5,2515.2 666.9,2528.6 665.5,2541.9 663.5,2555.3 660.8,2568.7 657.5,2582.1 653.4,2595.4 649.2,2607.5 644.9,2618.2 640.4,2627.5 635.7,2635.6 631,2643.9 626.4,2652.6 621.7,2661.6 617,2671 613.5,2678 611.2,2682.7 610,2685" fill="none" stroke="#888" stroke-width="2.1" stroke-linejoin="round"/>
<polyline points="655.5,2244.4 656.2,2247.2 657.5,2252.7 659.5,2260.9 662.2,2272 664.9,2282.7 667.5,2293.3 670.2,2303.5 672.9,2313.6 675.4,2323.6 677.7,2333.6 679.9,2343.6 681.9,2353.7 683.7,2363.7 685.4,2373.7 686.9,2383.7 688.2,2393.8 689.5,2404.2 690.9,2415 692.2,2426.1 693.6,2437.7 695,2449.7 696.5,2462.1 698.1,2475.1 699.8,2488.4 701.1,2501.8 702.1,2515.2 702.8,2528.6 703.1,2541.9 702.7,2555.3 701.5,2568.7 699.6,2582.1 696.9,2595.4 694.1,2608 691.1,2619.7 687.9,2630.5 684.5,2640.6 681,2649.9 677.3,2658.6 673.5,2666.6 669.5,2674 666.5,2679.5 664.5,2683.2 663.5,2685" fill="none" stroke="#888" stroke-width="2.1" stroke-linejoin="round"/>
<polyline points="684.9,2244.4 685.6,2247.2 686.9,2252.7 688.9,2260.9 691.6,2272 694.3,2282.7 696.9,2293.3 699.6,2303.5 702.3,2313.6 705,2323.6 707.6,2333.6 710.3,2343.6 713,2353.7 715.3,2363.7 717.3,2373.7 719,2383.7 720.3,2393.8 721.5,2404.2 722.5,2415 723.3,2426.1 724,2437.7 725,2449.7 726.3,2462.1 728,2475.1 730,2488.4 731.8,2501 733.5,2512.7 735,2523.5 736.4,2533.6 737,2545.3 737,2558.6 736.4,2573.7 735,2590.4 733.2,2605.5 730.8,2618.8 728,2630.5 724.7,2640.6 721.4,2649.9 718,2658.6 714.7,2666.6 711.3,2674 708.8,2679.5 707.1,2683.2 706.3,2685" fill="none" stroke="#888" stroke-width="2.1" stroke-linejoin="round"/>
<polyline points="714.3,2244.4 715,2247.2 716.3,2252.7 718.3,2260.9 721,2272 723.5,2282.7 725.8,2293.3 728,2303.5 730,2313.6 732,2323.6 734,2333.6 736,2343.6 738,2353.7 740,2363.7 742,2373.7 744,2383.7 746.1,2393.8 747.8,2403.2 749.3,2412.1 750.6,2420.5 751.5,2428.3 752.3,2434.1 752.8,2438.1 753,2440" fill="none" stroke="#888" stroke-width="2.1" stroke-linejoin="round"/>
<polyline points="250.3,2244 247.8,2260.3 232.6,2283.1 230,2311 227.5,2328.7 207.2,2361.7 206,2387 208.9,2396.9 217.3,2417.4 223,2430.7 237.6,2460.5 239.9,2464.4 251.1,2492.6 256.7,2509.5 265.2,2532 270.8,2540.4 293.3,2546.1 344,2558.7 363.7,2548.9 375,2532 377.8,2506.7 380,2503.1 388,2497.8 398.7,2500.5 425.5,2497.8 430.8,2495.1 462.9,2469.7 473.6,2467 492.3,2468.4 503,2487.1 511.1,2465.7 511.1,2449 495,2443.6 483,2427.6 483,2384.8 476.3,2374.1 469.6,2347.3 472.3,2312.6 468.3,2299.2 458.9,2287.2 454.9,2288.5 446.9,2303.2 421.5,2317.9 406.7,2309.9 393.4,2296.5 390.7,2283.1 409.4,2261.7 428.1,2251 426.8,2244" fill="none" stroke="#000" stroke-width="1.1"/>
<polyline points="366.8,2366.7 377,2359.1 392.2,2359.1 394.7,2369.3 389.6,2379.4 382,2392.1 374.4,2382 366.8,2371.8 366.8,2366.7" fill="none" stroke="#000" stroke-width="1.1"/>
<polyline points="489.7,2636.9 495,2632.9 500.4,2636.9 500.4,2644.9 495,2644.9 489.7,2639.5 489.7,2636.9" fill="none" stroke="#000" stroke-width="1.1"/>
<polyline points="46.2,2541.9 124.4,2546.1 168,2548.3 192,2549.7 214.5,2563 237,2577 265.2,2593.9 293.3,2610.8 321.5,2627.7 344,2641.8 358.1,2650.2 369.3,2667.1 377.8,2685" fill="none" stroke="#000" stroke-width="1.1"/>
<polyline points="354.2,2244 341.5,2265.4 342.8,2285.7 355.4,2308.5 354.2,2321.1 347.8,2349 336,2380 326.3,2407.3 313.6,2425 301.8,2450.4 293.4,2464.3 284.9,2487 277.9,2501 272.2,2523.6 277.9,2540.4 284.9,2548.9 287.7,2571.4 284.9,2588.3 293.3,2605.2 310.2,2619.3 332.8,2636.2 349.6,2644.6 363.7,2661.5 366.5,2672.8 377.8,2685" fill="none" stroke="#3c3c3c" stroke-width="2.2" stroke-linejoin="round"/>
<polyline points="333,2391 337,2385 336,2398 331,2408 325,2412 322,2407 327,2400 333,2391" fill="none" stroke="#3c3c3c" stroke-width="1.6"/>
<polyline points="75.5,2244 80.5,2262.9 94.5,2298.3 113.5,2331.3 126.1,2361.7 124.9,2376.9 123.6,2412.3 121.6,2450.4 124.4,2461.6 141.3,2489.8 152.6,2512.3 168.1,2548.9" fill="none" stroke="#000" stroke-width="1.3"/>
<path d="M79.9 2261.3L82.5 2268L86.8 2262.6zM87.6 2280.8L90.2 2287.5L94.5 2281.9zM95.6 2300.1L99.1 2306.4L102.5 2300.3zM107 2319.9L110.5 2326.2L113.9 2320.1zM117.2 2340.1L119.9 2346.8L124.1 2341.2zM126.2 2360.4L125.6 2367.6L131.9 2364.5zM124.7 2382.2L124.4 2389.3L130.6 2386zM123.9 2403.4L123.7 2410.6L129.8 2407.2zM122.9 2425.8L122.5 2433L128.7 2429.8zM121.5 2446.8L121.7 2454L127.6 2450.3zM127.6 2467L131.3 2473.1L134.6 2467zM138.7 2485.3L142.3 2491.5L145.6 2485.4zM149.9 2506.8L153.1 2513.3L156.8 2507.4zM157.4 2523.6L160.2 2530.3L164.3 2524.6z" fill="#000"/>
<circle cx="168.1" cy="2548.6" r="2.6" fill="#000"/>
</g>
<text x="0" y="0" font-size="24" text-anchor="middle" transform="translate(206.5 2281) rotate(102)" dy="8.4">10 km</text>
<text x="0" y="0" font-size="24" text-anchor="middle" transform="translate(470.5 2281) rotate(75)" dy="8.4">20 km</text>
<text x="0" y="0" font-size="24" text-anchor="middle" transform="translate(579.5 2281) rotate(75)" dy="8.4">30 km</text>
<path d="M107.7 2244V2237.5M107.7 2685V2691.5M247.8 2244V2240M247.8 2685V2689M387.5 2244V2237.5M387.5 2685V2691.5M527.6 2244V2240M527.6 2685V2689M668 2244V2237.5M668 2685V2691.5M46.2 2318.6H39.2M751.7 2318.6H758.7M46.2 2501.8H42.2M751.7 2501.8H755.7M46.2 2685H39.2M751.7 2685H758.7" stroke="#000" stroke-width="1.9" fill="none"/>
<text x="107.7" y="2715.2" font-size="23" text-anchor="middle">&#8722;125&#176;</text>
<text x="387.5" y="2715.2" font-size="23" text-anchor="middle">&#8722;124&#176;</text>
<text x="668" y="2715.2" font-size="23" text-anchor="middle">&#8722;123&#176;</text>
<rect x="786.2" y="2244" width="705.5" height="441" fill="none" stroke="#000" stroke-width="1.9"/>
<g clip-path="url(#c42)">
<path d="M850.9 2249.7a6.8 6.8 0 1 0 13.6 0a6.8 6.8 0 1 0-13.6 0zM999.9 2249.7a6.8 6.8 0 1 0 13.6 0a6.8 6.8 0 1 0-13.6 0zM1016.5 2249.7a6.8 6.8 0 1 0 13.6 0a6.8 6.8 0 1 0-13.6 0zM1049.6 2249.7a6.8 6.8 0 1 0 13.6 0a6.8 6.8 0 1 0-13.6 0zM1082.7 2249.7a6.8 6.8 0 1 0 13.6 0a6.8 6.8 0 1 0-13.6 0zM1099.3 2249.7a6.8 6.8 0 1 0 13.6 0a6.8 6.8 0 1 0-13.6 0zM1132.4 2249.7a6.8 6.8 0 1 0 13.6 0a6.8 6.8 0 1 0-13.6 0zM1148.9 2249.7a6.8 6.8 0 1 0 13.6 0a6.8 6.8 0 1 0-13.6 0zM1231.7 2249.7a6.8 6.8 0 1 0 13.6 0a6.8 6.8 0 1 0-13.6 0zM1264.9 2249.7a6.8 6.8 0 1 0 13.6 0a6.8 6.8 0 1 0-13.6 0zM1281.4 2249.7a6.8 6.8 0 1 0 13.6 0a6.8 6.8 0 1 0-13.6 0zM1314.5 2249.7a6.8 6.8 0 1 0 13.6 0a6.8 6.8 0 1 0-13.6 0zM1331.1 2249.7a6.8 6.8 0 1 0 13.6 0a6.8 6.8 0 1 0-13.6 0zM1347.7 2249.7a6.8 6.8 0 1 0 13.6 0a6.8 6.8 0 1 0-13.6 0zM850.9 2266.3a6.8 6.8 0 1 0 13.6 0a6.8 6.8 0 1 0-13.6 0zM999.9 2266.3a6.8 6.8 0 1 0 13.6 0a6.8 6.8 0 1 0-13.6 0zM1016.4 2266.3a6.8 6.8 0 1 0 13.6 0a6.8 6.8 0 1 0-13.6 0zM1049.5 2266.3a6.8 6.8 0 1 0 13.6 0a6.8 6.8 0 1 0-13.6 0zM1082.6 2266.3a6.8 6.8 0 1 0 13.6 0a6.8 6.8 0 1 0-13.6 0zM1099.2 2266.3a6.8 6.8 0 1 0 13.6 0a6.8 6.8 0 1 0-13.6 0zM1132.3 2266.3a6.8 6.8 0 1 0 13.6 0a6.8 6.8 0 1 0-13.6 0zM1148.9 2266.3a6.8 6.8 0 1 0 13.6 0a6.8 6.8 0 1 0-13.6 0zM1231.7 2266.3a6.8 6.8 0 1 0 13.6 0a6.8 6.8 0 1 0-13.6 0zM1281.3 2266.3a6.8 6.8 0 1 0 13.6 0a6.8 6.8 0 1 0-13.6 0zM1314.4 2266.3a6.8 6.8 0 1 0 13.6 0a6.8 6.8 0 1 0-13.6 0zM1331 2266.3a6.8 6.8 0 1 0 13.6 0a6.8 6.8 0 1 0-13.6 0zM1347.6 2266.3a6.8 6.8 0 1 0 13.6 0a6.8 6.8 0 1 0-13.6 0zM983.3 2282.9a6.8 6.8 0 1 0 13.6 0a6.8 6.8 0 1 0-13.6 0zM999.8 2282.9a6.8 6.8 0 1 0 13.6 0a6.8 6.8 0 1 0-13.6 0zM1016.4 2282.9a6.8 6.8 0 1 0 13.6 0a6.8 6.8 0 1 0-13.6 0zM1049.5 2282.9a6.8 6.8 0 1 0 13.6 0a6.8 6.8 0 1 0-13.6 0zM1082.6 2282.9a6.8 6.8 0 1 0 13.6 0a6.8 6.8 0 1 0-13.6 0zM1099.2 2282.9a6.8 6.8 0 1 0 13.6 0a6.8 6.8 0 1 0-13.6 0zM1115.7 2282.9a6.8 6.8 0 1 0 13.6 0a6.8 6.8 0 1 0-13.6 0zM1132.3 2282.9a6.8 6.8 0 1 0 13.6 0a6.8 6.8 0 1 0-13.6 0zM1231.6 2282.9a6.8 6.8 0 1 0 13.6 0a6.8 6.8 0 1 0-13.6 0zM1264.7 2282.9a6.8 6.8 0 1 0 13.6 0a6.8 6.8 0 1 0-13.6 0zM1330.9 2282.9a6.8 6.8 0 1 0 13.6 0a6.8 6.8 0 1 0-13.6 0zM1347.5 2282.9a6.8 6.8 0 1 0 13.6 0a6.8 6.8 0 1 0-13.6 0zM983.2 2299.5a6.8 6.8 0 1 0 13.6 0a6.8 6.8 0 1 0-13.6 0zM1016.3 2299.5a6.8 6.8 0 1 0 13.6 0a6.8 6.8 0 1 0-13.6 0zM1032.9 2299.5a6.8 6.8 0 1 0 13.6 0a6.8 6.8 0 1 0-13.6 0zM1049.4 2299.5a6.8 6.8 0 1 0 13.6 0a6.8 6.8 0 1 0-13.6 0zM1248 2299.5a6.8 6.8 0 1 0 13.6 0a6.8 6.8 0 1 0-13.6 0zM1330.8 2299.5a6.8 6.8 0 1 0 13.6 0a6.8 6.8 0 1 0-13.6 0zM1347.3 2299.5a6.8 6.8 0 1 0 13.6 0a6.8 6.8 0 1 0-13.6 0zM950.1 2316.1a6.8 6.8 0 1 0 13.6 0a6.8 6.8 0 1 0-13.6 0zM966.7 2316.1a6.8 6.8 0 1 0 13.6 0a6.8 6.8 0 1 0-13.6 0zM1016.3 2316.1a6.8 6.8 0 1 0 13.6 0a6.8 6.8 0 1 0-13.6 0zM1330.7 2316.1a6.8 6.8 0 1 0 13.6 0a6.8 6.8 0 1 0-13.6 0zM1347.2 2316.1a6.8 6.8 0 1 0 13.6 0a6.8 6.8 0 1 0-13.6 0zM883.9 2332.7a6.8 6.8 0 1 0 13.6 0a6.8 6.8 0 1 0-13.6 0zM950.1 2332.7a6.8 6.8 0 1 0 13.6 0a6.8 6.8 0 1 0-13.6 0zM966.6 2332.7a6.8 6.8 0 1 0 13.6 0a6.8 6.8 0 1 0-13.6 0zM1347.1 2332.7a6.8 6.8 0 1 0 13.6 0a6.8 6.8 0 1 0-13.6 0zM883.9 2349.3a6.8 6.8 0 1 0 13.6 0a6.8 6.8 0 1 0-13.6 0zM950.1 2349.3a6.8 6.8 0 1 0 13.6 0a6.8 6.8 0 1 0-13.6 0zM1347 2349.3a6.8 6.8 0 1 0 13.6 0a6.8 6.8 0 1 0-13.6 0zM867.4 2365.8a6.8 6.8 0 1 0 13.6 0a6.8 6.8 0 1 0-13.6 0zM1346.9 2365.8a6.8 6.8 0 1 0 13.6 0a6.8 6.8 0 1 0-13.6 0zM1363.5 2365.8a6.8 6.8 0 1 0 13.6 0a6.8 6.8 0 1 0-13.6 0zM867.4 2382.3a6.8 6.8 0 1 0 13.6 0a6.8 6.8 0 1 0-13.6 0zM999.6 2382.3a6.8 6.8 0 1 0 13.6 0a6.8 6.8 0 1 0-13.6 0zM1346.8 2382.3a6.8 6.8 0 1 0 13.6 0a6.8 6.8 0 1 0-13.6 0zM1363.4 2382.3a6.8 6.8 0 1 0 13.6 0a6.8 6.8 0 1 0-13.6 0zM867.4 2398.9a6.8 6.8 0 1 0 13.6 0a6.8 6.8 0 1 0-13.6 0zM883.9 2398.9a6.8 6.8 0 1 0 13.6 0a6.8 6.8 0 1 0-13.6 0zM999.6 2398.9a6.8 6.8 0 1 0 13.6 0a6.8 6.8 0 1 0-13.6 0zM1346.7 2398.9a6.8 6.8 0 1 0 13.6 0a6.8 6.8 0 1 0-13.6 0zM1363.3 2398.9a6.8 6.8 0 1 0 13.6 0a6.8 6.8 0 1 0-13.6 0zM1379.8 2398.9a6.8 6.8 0 1 0 13.6 0a6.8 6.8 0 1 0-13.6 0zM883.9 2415.4a6.8 6.8 0 1 0 13.6 0a6.8 6.8 0 1 0-13.6 0zM900.4 2415.4a6.8 6.8 0 1 0 13.6 0a6.8 6.8 0 1 0-13.6 0zM916.9 2415.4a6.8 6.8 0 1 0 13.6 0a6.8 6.8 0 1 0-13.6 0zM933.5 2415.4a6.8 6.8 0 1 0 13.6 0a6.8 6.8 0 1 0-13.6 0zM1346.6 2415.4a6.8 6.8 0 1 0 13.6 0a6.8 6.8 0 1 0-13.6 0zM1363.1 2415.4a6.8 6.8 0 1 0 13.6 0a6.8 6.8 0 1 0-13.6 0zM1379.7 2415.4a6.8 6.8 0 1 0 13.6 0a6.8 6.8 0 1 0-13.6 0zM1346.5 2431.9a6.8 6.8 0 1 0 13.6 0a6.8 6.8 0 1 0-13.6 0zM1379.6 2431.9a6.8 6.8 0 1 0 13.6 0a6.8 6.8 0 1 0-13.6 0zM1396.1 2431.9a6.8 6.8 0 1 0 13.6 0a6.8 6.8 0 1 0-13.6 0zM867.3 2448.4a6.8 6.8 0 1 0 13.6 0a6.8 6.8 0 1 0-13.6 0zM1346.4 2448.4a6.8 6.8 0 1 0 13.6 0a6.8 6.8 0 1 0-13.6 0zM1396 2448.4a6.8 6.8 0 1 0 13.6 0a6.8 6.8 0 1 0-13.6 0zM867.3 2464.9a6.8 6.8 0 1 0 13.6 0a6.8 6.8 0 1 0-13.6 0zM1346.3 2464.9a6.8 6.8 0 1 0 13.6 0a6.8 6.8 0 1 0-13.6 0zM1395.9 2464.9a6.8 6.8 0 1 0 13.6 0a6.8 6.8 0 1 0-13.6 0zM1412.4 2464.9a6.8 6.8 0 1 0 13.6 0a6.8 6.8 0 1 0-13.6 0zM1346.2 2481.4a6.8 6.8 0 1 0 13.6 0a6.8 6.8 0 1 0-13.6 0zM1395.7 2481.4a6.8 6.8 0 1 0 13.6 0a6.8 6.8 0 1 0-13.6 0zM1412.3 2481.4a6.8 6.8 0 1 0 13.6 0a6.8 6.8 0 1 0-13.6 0zM1428.8 2481.4a6.8 6.8 0 1 0 13.6 0a6.8 6.8 0 1 0-13.6 0zM1313.1 2497.8a6.8 6.8 0 1 0 13.6 0a6.8 6.8 0 1 0-13.6 0zM1329.6 2497.8a6.8 6.8 0 1 0 13.6 0a6.8 6.8 0 1 0-13.6 0zM1346.1 2497.8a6.8 6.8 0 1 0 13.6 0a6.8 6.8 0 1 0-13.6 0zM1362.6 2497.8a6.8 6.8 0 1 0 13.6 0a6.8 6.8 0 1 0-13.6 0zM1379.1 2497.8a6.8 6.8 0 1 0 13.6 0a6.8 6.8 0 1 0-13.6 0zM1412.1 2497.8a6.8 6.8 0 1 0 13.6 0a6.8 6.8 0 1 0-13.6 0zM1428.6 2497.8a6.8 6.8 0 1 0 13.6 0a6.8 6.8 0 1 0-13.6 0zM1346 2514.3a6.8 6.8 0 1 0 13.6 0a6.8 6.8 0 1 0-13.6 0zM1379 2514.3a6.8 6.8 0 1 0 13.6 0a6.8 6.8 0 1 0-13.6 0zM1412 2514.3a6.8 6.8 0 1 0 13.6 0a6.8 6.8 0 1 0-13.6 0zM1246.9 2530.7a6.8 6.8 0 1 0 13.6 0a6.8 6.8 0 1 0-13.6 0zM1345.9 2530.7a6.8 6.8 0 1 0 13.6 0a6.8 6.8 0 1 0-13.6 0zM1362.4 2530.7a6.8 6.8 0 1 0 13.6 0a6.8 6.8 0 1 0-13.6 0zM1378.9 2530.7a6.8 6.8 0 1 0 13.6 0a6.8 6.8 0 1 0-13.6 0zM1411.9 2530.7a6.8 6.8 0 1 0 13.6 0a6.8 6.8 0 1 0-13.6 0zM1329.3 2547.1a6.8 6.8 0 1 0 13.6 0a6.8 6.8 0 1 0-13.6 0zM1345.8 2547.1a6.8 6.8 0 1 0 13.6 0a6.8 6.8 0 1 0-13.6 0zM1362.3 2547.1a6.8 6.8 0 1 0 13.6 0a6.8 6.8 0 1 0-13.6 0zM1378.8 2547.1a6.8 6.8 0 1 0 13.6 0a6.8 6.8 0 1 0-13.6 0zM1395.3 2547.1a6.8 6.8 0 1 0 13.6 0a6.8 6.8 0 1 0-13.6 0zM1411.8 2547.1a6.8 6.8 0 1 0 13.6 0a6.8 6.8 0 1 0-13.6 0zM1362.2 2563.6a6.8 6.8 0 1 0 13.6 0a6.8 6.8 0 1 0-13.6 0zM1378.7 2563.6a6.8 6.8 0 1 0 13.6 0a6.8 6.8 0 1 0-13.6 0zM1395.2 2563.6a6.8 6.8 0 1 0 13.6 0a6.8 6.8 0 1 0-13.6 0zM1411.7 2563.6a6.8 6.8 0 1 0 13.6 0a6.8 6.8 0 1 0-13.6 0zM1345.6 2580a6.8 6.8 0 1 0 13.6 0a6.8 6.8 0 1 0-13.6 0zM1362.1 2580a6.8 6.8 0 1 0 13.6 0a6.8 6.8 0 1 0-13.6 0zM1378.6 2580a6.8 6.8 0 1 0 13.6 0a6.8 6.8 0 1 0-13.6 0zM999.2 2596.4a6.8 6.8 0 1 0 13.6 0a6.8 6.8 0 1 0-13.6 0zM1246.5 2596.4a6.8 6.8 0 1 0 13.6 0a6.8 6.8 0 1 0-13.6 0zM1263 2596.4a6.8 6.8 0 1 0 13.6 0a6.8 6.8 0 1 0-13.6 0zM1279.5 2596.4a6.8 6.8 0 1 0 13.6 0a6.8 6.8 0 1 0-13.6 0zM1296 2596.4a6.8 6.8 0 1 0 13.6 0a6.8 6.8 0 1 0-13.6 0zM1345.5 2596.4a6.8 6.8 0 1 0 13.6 0a6.8 6.8 0 1 0-13.6 0zM1362 2596.4a6.8 6.8 0 1 0 13.6 0a6.8 6.8 0 1 0-13.6 0zM1081.6 2612.8a6.8 6.8 0 1 0 13.6 0a6.8 6.8 0 1 0-13.6 0zM1230 2612.8a6.8 6.8 0 1 0 13.6 0a6.8 6.8 0 1 0-13.6 0zM1246.5 2612.8a6.8 6.8 0 1 0 13.6 0a6.8 6.8 0 1 0-13.6 0zM1262.9 2612.8a6.8 6.8 0 1 0 13.6 0a6.8 6.8 0 1 0-13.6 0zM1279.4 2612.8a6.8 6.8 0 1 0 13.6 0a6.8 6.8 0 1 0-13.6 0zM1295.9 2612.8a6.8 6.8 0 1 0 13.6 0a6.8 6.8 0 1 0-13.6 0zM1312.4 2612.8a6.8 6.8 0 1 0 13.6 0a6.8 6.8 0 1 0-13.6 0zM1328.9 2612.8a6.8 6.8 0 1 0 13.6 0a6.8 6.8 0 1 0-13.6 0zM1345.4 2612.8a6.8 6.8 0 1 0 13.6 0a6.8 6.8 0 1 0-13.6 0zM1065.1 2629.1a6.8 6.8 0 1 0 13.6 0a6.8 6.8 0 1 0-13.6 0zM1114.5 2629.1a6.8 6.8 0 1 0 13.6 0a6.8 6.8 0 1 0-13.6 0zM1196.9 2629.1a6.8 6.8 0 1 0 13.6 0a6.8 6.8 0 1 0-13.6 0zM1279.3 2629.1a6.8 6.8 0 1 0 13.6 0a6.8 6.8 0 1 0-13.6 0zM1295.8 2629.1a6.8 6.8 0 1 0 13.6 0a6.8 6.8 0 1 0-13.6 0zM1312.3 2629.1a6.8 6.8 0 1 0 13.6 0a6.8 6.8 0 1 0-13.6 0zM1328.8 2629.1a6.8 6.8 0 1 0 13.6 0a6.8 6.8 0 1 0-13.6 0zM1345.3 2629.1a6.8 6.8 0 1 0 13.6 0a6.8 6.8 0 1 0-13.6 0zM1196.8 2645.5a6.8 6.8 0 1 0 13.6 0a6.8 6.8 0 1 0-13.6 0zM1279.2 2645.5a6.8 6.8 0 1 0 13.6 0a6.8 6.8 0 1 0-13.6 0zM1295.7 2645.5a6.8 6.8 0 1 0 13.6 0a6.8 6.8 0 1 0-13.6 0zM1312.2 2645.5a6.8 6.8 0 1 0 13.6 0a6.8 6.8 0 1 0-13.6 0zM1328.7 2645.5a6.8 6.8 0 1 0 13.6 0a6.8 6.8 0 1 0-13.6 0zM1130.9 2661.9a6.8 6.8 0 1 0 13.6 0a6.8 6.8 0 1 0-13.6 0zM1147.3 2661.9a6.8 6.8 0 1 0 13.6 0a6.8 6.8 0 1 0-13.6 0zM1163.8 2661.9a6.8 6.8 0 1 0 13.6 0a6.8 6.8 0 1 0-13.6 0zM1180.3 2661.9a6.8 6.8 0 1 0 13.6 0a6.8 6.8 0 1 0-13.6 0zM1279.2 2661.9a6.8 6.8 0 1 0 13.6 0a6.8 6.8 0 1 0-13.6 0zM1295.6 2661.9a6.8 6.8 0 1 0 13.6 0a6.8 6.8 0 1 0-13.6 0zM1312.1 2661.9a6.8 6.8 0 1 0 13.6 0a6.8 6.8 0 1 0-13.6 0zM1114.3 2678.2a6.8 6.8 0 1 0 13.6 0a6.8 6.8 0 1 0-13.6 0zM1279.1 2678.2a6.8 6.8 0 1 0 13.6 0a6.8 6.8 0 1 0-13.6 0zM1295.5 2678.2a6.8 6.8 0 1 0 13.6 0a6.8 6.8 0 1 0-13.6 0zM1312 2678.2a6.8 6.8 0 1 0 13.6 0a6.8 6.8 0 1 0-13.6 0z" fill="#c9ff8b"/>
<path d="M867.4 2249.7a6.8 6.8 0 1 0 13.6 0a6.8 6.8 0 1 0-13.6 0zM983.3 2249.7a6.8 6.8 0 1 0 13.6 0a6.8 6.8 0 1 0-13.6 0zM1033 2249.7a6.8 6.8 0 1 0 13.6 0a6.8 6.8 0 1 0-13.6 0zM1115.8 2249.7a6.8 6.8 0 1 0 13.6 0a6.8 6.8 0 1 0-13.6 0zM1248.3 2249.7a6.8 6.8 0 1 0 13.6 0a6.8 6.8 0 1 0-13.6 0zM1364.2 2249.7a6.8 6.8 0 1 0 13.6 0a6.8 6.8 0 1 0-13.6 0zM1380.8 2249.7a6.8 6.8 0 1 0 13.6 0a6.8 6.8 0 1 0-13.6 0zM1397.3 2249.7a6.8 6.8 0 1 0 13.6 0a6.8 6.8 0 1 0-13.6 0zM1413.9 2249.7a6.8 6.8 0 1 0 13.6 0a6.8 6.8 0 1 0-13.6 0zM1447 2249.7a6.8 6.8 0 1 0 13.6 0a6.8 6.8 0 1 0-13.6 0zM867.4 2266.3a6.8 6.8 0 1 0 13.6 0a6.8 6.8 0 1 0-13.6 0zM983.3 2266.3a6.8 6.8 0 1 0 13.6 0a6.8 6.8 0 1 0-13.6 0zM1033 2266.3a6.8 6.8 0 1 0 13.6 0a6.8 6.8 0 1 0-13.6 0zM1115.8 2266.3a6.8 6.8 0 1 0 13.6 0a6.8 6.8 0 1 0-13.6 0zM1264.8 2266.3a6.8 6.8 0 1 0 13.6 0a6.8 6.8 0 1 0-13.6 0zM1364.1 2266.3a6.8 6.8 0 1 0 13.6 0a6.8 6.8 0 1 0-13.6 0zM1380.7 2266.3a6.8 6.8 0 1 0 13.6 0a6.8 6.8 0 1 0-13.6 0zM1397.2 2266.3a6.8 6.8 0 1 0 13.6 0a6.8 6.8 0 1 0-13.6 0zM867.4 2282.9a6.8 6.8 0 1 0 13.6 0a6.8 6.8 0 1 0-13.6 0zM950.2 2282.9a6.8 6.8 0 1 0 13.6 0a6.8 6.8 0 1 0-13.6 0zM966.7 2282.9a6.8 6.8 0 1 0 13.6 0a6.8 6.8 0 1 0-13.6 0zM1032.9 2282.9a6.8 6.8 0 1 0 13.6 0a6.8 6.8 0 1 0-13.6 0zM1066 2282.9a6.8 6.8 0 1 0 13.6 0a6.8 6.8 0 1 0-13.6 0zM1248.1 2282.9a6.8 6.8 0 1 0 13.6 0a6.8 6.8 0 1 0-13.6 0zM1364 2282.9a6.8 6.8 0 1 0 13.6 0a6.8 6.8 0 1 0-13.6 0zM1380.6 2282.9a6.8 6.8 0 1 0 13.6 0a6.8 6.8 0 1 0-13.6 0zM1397.1 2282.9a6.8 6.8 0 1 0 13.6 0a6.8 6.8 0 1 0-13.6 0zM850.8 2299.5a6.8 6.8 0 1 0 13.6 0a6.8 6.8 0 1 0-13.6 0zM867.4 2299.5a6.8 6.8 0 1 0 13.6 0a6.8 6.8 0 1 0-13.6 0zM883.9 2299.5a6.8 6.8 0 1 0 13.6 0a6.8 6.8 0 1 0-13.6 0zM950.1 2299.5a6.8 6.8 0 1 0 13.6 0a6.8 6.8 0 1 0-13.6 0zM966.7 2299.5a6.8 6.8 0 1 0 13.6 0a6.8 6.8 0 1 0-13.6 0zM999.8 2299.5a6.8 6.8 0 1 0 13.6 0a6.8 6.8 0 1 0-13.6 0zM1066 2299.5a6.8 6.8 0 1 0 13.6 0a6.8 6.8 0 1 0-13.6 0zM1363.9 2299.5a6.8 6.8 0 1 0 13.6 0a6.8 6.8 0 1 0-13.6 0zM850.8 2316.1a6.8 6.8 0 1 0 13.6 0a6.8 6.8 0 1 0-13.6 0zM867.4 2316.1a6.8 6.8 0 1 0 13.6 0a6.8 6.8 0 1 0-13.6 0zM883.9 2316.1a6.8 6.8 0 1 0 13.6 0a6.8 6.8 0 1 0-13.6 0zM999.8 2316.1a6.8 6.8 0 1 0 13.6 0a6.8 6.8 0 1 0-13.6 0zM1363.8 2316.1a6.8 6.8 0 1 0 13.6 0a6.8 6.8 0 1 0-13.6 0zM850.8 2332.7a6.8 6.8 0 1 0 13.6 0a6.8 6.8 0 1 0-13.6 0zM867.4 2332.7a6.8 6.8 0 1 0 13.6 0a6.8 6.8 0 1 0-13.6 0zM999.7 2332.7a6.8 6.8 0 1 0 13.6 0a6.8 6.8 0 1 0-13.6 0zM1363.7 2332.7a6.8 6.8 0 1 0 13.6 0a6.8 6.8 0 1 0-13.6 0zM1380.2 2332.7a6.8 6.8 0 1 0 13.6 0a6.8 6.8 0 1 0-13.6 0zM850.8 2349.3a6.8 6.8 0 1 0 13.6 0a6.8 6.8 0 1 0-13.6 0zM867.4 2349.3a6.8 6.8 0 1 0 13.6 0a6.8 6.8 0 1 0-13.6 0zM900.5 2349.3a6.8 6.8 0 1 0 13.6 0a6.8 6.8 0 1 0-13.6 0zM999.7 2349.3a6.8 6.8 0 1 0 13.6 0a6.8 6.8 0 1 0-13.6 0zM1363.6 2349.3a6.8 6.8 0 1 0 13.6 0a6.8 6.8 0 1 0-13.6 0zM1380.1 2349.3a6.8 6.8 0 1 0 13.6 0a6.8 6.8 0 1 0-13.6 0zM883.9 2365.8a6.8 6.8 0 1 0 13.6 0a6.8 6.8 0 1 0-13.6 0zM900.4 2365.8a6.8 6.8 0 1 0 13.6 0a6.8 6.8 0 1 0-13.6 0zM999.7 2365.8a6.8 6.8 0 1 0 13.6 0a6.8 6.8 0 1 0-13.6 0zM1380 2365.8a6.8 6.8 0 1 0 13.6 0a6.8 6.8 0 1 0-13.6 0zM883.9 2382.3a6.8 6.8 0 1 0 13.6 0a6.8 6.8 0 1 0-13.6 0zM900.4 2382.3a6.8 6.8 0 1 0 13.6 0a6.8 6.8 0 1 0-13.6 0zM1379.9 2382.3a6.8 6.8 0 1 0 13.6 0a6.8 6.8 0 1 0-13.6 0zM900.4 2398.9a6.8 6.8 0 1 0 13.6 0a6.8 6.8 0 1 0-13.6 0zM916.9 2398.9a6.8 6.8 0 1 0 13.6 0a6.8 6.8 0 1 0-13.6 0zM1396.3 2398.9a6.8 6.8 0 1 0 13.6 0a6.8 6.8 0 1 0-13.6 0zM1412.8 2398.9a6.8 6.8 0 1 0 13.6 0a6.8 6.8 0 1 0-13.6 0zM1429.4 2398.9a6.8 6.8 0 1 0 13.6 0a6.8 6.8 0 1 0-13.6 0zM867.4 2415.4a6.8 6.8 0 1 0 13.6 0a6.8 6.8 0 1 0-13.6 0zM1396.2 2415.4a6.8 6.8 0 1 0 13.6 0a6.8 6.8 0 1 0-13.6 0zM1412.7 2415.4a6.8 6.8 0 1 0 13.6 0a6.8 6.8 0 1 0-13.6 0zM867.3 2431.9a6.8 6.8 0 1 0 13.6 0a6.8 6.8 0 1 0-13.6 0zM1363 2431.9a6.8 6.8 0 1 0 13.6 0a6.8 6.8 0 1 0-13.6 0zM1412.6 2431.9a6.8 6.8 0 1 0 13.6 0a6.8 6.8 0 1 0-13.6 0zM1362.9 2448.4a6.8 6.8 0 1 0 13.6 0a6.8 6.8 0 1 0-13.6 0zM1379.5 2448.4a6.8 6.8 0 1 0 13.6 0a6.8 6.8 0 1 0-13.6 0zM1412.5 2448.4a6.8 6.8 0 1 0 13.6 0a6.8 6.8 0 1 0-13.6 0zM1362.8 2464.9a6.8 6.8 0 1 0 13.6 0a6.8 6.8 0 1 0-13.6 0zM1379.3 2464.9a6.8 6.8 0 1 0 13.6 0a6.8 6.8 0 1 0-13.6 0zM1428.9 2464.9a6.8 6.8 0 1 0 13.6 0a6.8 6.8 0 1 0-13.6 0zM850.8 2481.4a6.8 6.8 0 1 0 13.6 0a6.8 6.8 0 1 0-13.6 0zM1362.7 2481.4a6.8 6.8 0 1 0 13.6 0a6.8 6.8 0 1 0-13.6 0zM1379.2 2481.4a6.8 6.8 0 1 0 13.6 0a6.8 6.8 0 1 0-13.6 0zM1445.3 2481.4a6.8 6.8 0 1 0 13.6 0a6.8 6.8 0 1 0-13.6 0zM850.8 2497.8a6.8 6.8 0 1 0 13.6 0a6.8 6.8 0 1 0-13.6 0zM1445.2 2497.8a6.8 6.8 0 1 0 13.6 0a6.8 6.8 0 1 0-13.6 0zM1362.5 2514.3a6.8 6.8 0 1 0 13.6 0a6.8 6.8 0 1 0-13.6 0zM1428.5 2514.3a6.8 6.8 0 1 0 13.6 0a6.8 6.8 0 1 0-13.6 0zM1445 2514.3a6.8 6.8 0 1 0 13.6 0a6.8 6.8 0 1 0-13.6 0zM1428.4 2530.7a6.8 6.8 0 1 0 13.6 0a6.8 6.8 0 1 0-13.6 0zM1444.9 2530.7a6.8 6.8 0 1 0 13.6 0a6.8 6.8 0 1 0-13.6 0zM1428.3 2547.1a6.8 6.8 0 1 0 13.6 0a6.8 6.8 0 1 0-13.6 0zM1444.8 2547.1a6.8 6.8 0 1 0 13.6 0a6.8 6.8 0 1 0-13.6 0zM1461.3 2547.1a6.8 6.8 0 1 0 13.6 0a6.8 6.8 0 1 0-13.6 0zM1428.2 2563.6a6.8 6.8 0 1 0 13.6 0a6.8 6.8 0 1 0-13.6 0zM1444.7 2563.6a6.8 6.8 0 1 0 13.6 0a6.8 6.8 0 1 0-13.6 0zM1395.1 2580a6.8 6.8 0 1 0 13.6 0a6.8 6.8 0 1 0-13.6 0zM1411.6 2580a6.8 6.8 0 1 0 13.6 0a6.8 6.8 0 1 0-13.6 0zM966.2 2596.4a6.8 6.8 0 1 0 13.6 0a6.8 6.8 0 1 0-13.6 0zM1378.5 2596.4a6.8 6.8 0 1 0 13.6 0a6.8 6.8 0 1 0-13.6 0zM1394.9 2596.4a6.8 6.8 0 1 0 13.6 0a6.8 6.8 0 1 0-13.6 0zM1411.4 2596.4a6.8 6.8 0 1 0 13.6 0a6.8 6.8 0 1 0-13.6 0zM1477.4 2596.4a6.8 6.8 0 1 0 13.6 0a6.8 6.8 0 1 0-13.6 0zM1361.9 2612.8a6.8 6.8 0 1 0 13.6 0a6.8 6.8 0 1 0-13.6 0zM1378.3 2612.8a6.8 6.8 0 1 0 13.6 0a6.8 6.8 0 1 0-13.6 0zM1394.8 2612.8a6.8 6.8 0 1 0 13.6 0a6.8 6.8 0 1 0-13.6 0zM1411.3 2612.8a6.8 6.8 0 1 0 13.6 0a6.8 6.8 0 1 0-13.6 0zM1477.3 2612.8a6.8 6.8 0 1 0 13.6 0a6.8 6.8 0 1 0-13.6 0zM1032.1 2629.1a6.8 6.8 0 1 0 13.6 0a6.8 6.8 0 1 0-13.6 0zM1048.6 2629.1a6.8 6.8 0 1 0 13.6 0a6.8 6.8 0 1 0-13.6 0zM1081.5 2629.1a6.8 6.8 0 1 0 13.6 0a6.8 6.8 0 1 0-13.6 0zM1098 2629.1a6.8 6.8 0 1 0 13.6 0a6.8 6.8 0 1 0-13.6 0zM1213.4 2629.1a6.8 6.8 0 1 0 13.6 0a6.8 6.8 0 1 0-13.6 0zM1229.9 2629.1a6.8 6.8 0 1 0 13.6 0a6.8 6.8 0 1 0-13.6 0zM1246.4 2629.1a6.8 6.8 0 1 0 13.6 0a6.8 6.8 0 1 0-13.6 0zM1262.9 2629.1a6.8 6.8 0 1 0 13.6 0a6.8 6.8 0 1 0-13.6 0zM1361.8 2629.1a6.8 6.8 0 1 0 13.6 0a6.8 6.8 0 1 0-13.6 0zM1378.2 2629.1a6.8 6.8 0 1 0 13.6 0a6.8 6.8 0 1 0-13.6 0zM1394.7 2629.1a6.8 6.8 0 1 0 13.6 0a6.8 6.8 0 1 0-13.6 0zM1411.2 2629.1a6.8 6.8 0 1 0 13.6 0a6.8 6.8 0 1 0-13.6 0zM1477.1 2629.1a6.8 6.8 0 1 0 13.6 0a6.8 6.8 0 1 0-13.6 0zM1213.3 2645.5a6.8 6.8 0 1 0 13.6 0a6.8 6.8 0 1 0-13.6 0zM1229.8 2645.5a6.8 6.8 0 1 0 13.6 0a6.8 6.8 0 1 0-13.6 0zM1246.3 2645.5a6.8 6.8 0 1 0 13.6 0a6.8 6.8 0 1 0-13.6 0zM1262.8 2645.5a6.8 6.8 0 1 0 13.6 0a6.8 6.8 0 1 0-13.6 0zM1345.2 2645.5a6.8 6.8 0 1 0 13.6 0a6.8 6.8 0 1 0-13.6 0zM1361.6 2645.5a6.8 6.8 0 1 0 13.6 0a6.8 6.8 0 1 0-13.6 0zM1378.1 2645.5a6.8 6.8 0 1 0 13.6 0a6.8 6.8 0 1 0-13.6 0zM1394.6 2645.5a6.8 6.8 0 1 0 13.6 0a6.8 6.8 0 1 0-13.6 0zM1477 2645.5a6.8 6.8 0 1 0 13.6 0a6.8 6.8 0 1 0-13.6 0zM1196.8 2661.9a6.8 6.8 0 1 0 13.6 0a6.8 6.8 0 1 0-13.6 0zM1213.3 2661.9a6.8 6.8 0 1 0 13.6 0a6.8 6.8 0 1 0-13.6 0zM1229.7 2661.9a6.8 6.8 0 1 0 13.6 0a6.8 6.8 0 1 0-13.6 0zM1246.2 2661.9a6.8 6.8 0 1 0 13.6 0a6.8 6.8 0 1 0-13.6 0zM1262.7 2661.9a6.8 6.8 0 1 0 13.6 0a6.8 6.8 0 1 0-13.6 0zM1328.6 2661.9a6.8 6.8 0 1 0 13.6 0a6.8 6.8 0 1 0-13.6 0zM1345.1 2661.9a6.8 6.8 0 1 0 13.6 0a6.8 6.8 0 1 0-13.6 0zM1361.5 2661.9a6.8 6.8 0 1 0 13.6 0a6.8 6.8 0 1 0-13.6 0zM1460.4 2661.9a6.8 6.8 0 1 0 13.6 0a6.8 6.8 0 1 0-13.6 0zM1476.9 2661.9a6.8 6.8 0 1 0 13.6 0a6.8 6.8 0 1 0-13.6 0zM1130.8 2678.2a6.8 6.8 0 1 0 13.6 0a6.8 6.8 0 1 0-13.6 0zM1147.3 2678.2a6.8 6.8 0 1 0 13.6 0a6.8 6.8 0 1 0-13.6 0zM1163.8 2678.2a6.8 6.8 0 1 0 13.6 0a6.8 6.8 0 1 0-13.6 0zM1180.2 2678.2a6.8 6.8 0 1 0 13.6 0a6.8 6.8 0 1 0-13.6 0zM1196.7 2678.2a6.8 6.8 0 1 0 13.6 0a6.8 6.8 0 1 0-13.6 0zM1213.2 2678.2a6.8 6.8 0 1 0 13.6 0a6.8 6.8 0 1 0-13.6 0zM1229.6 2678.2a6.8 6.8 0 1 0 13.6 0a6.8 6.8 0 1 0-13.6 0zM1246.1 2678.2a6.8 6.8 0 1 0 13.6 0a6.8 6.8 0 1 0-13.6 0zM1262.6 2678.2a6.8 6.8 0 1 0 13.6 0a6.8 6.8 0 1 0-13.6 0zM1328.5 2678.2a6.8 6.8 0 1 0 13.6 0a6.8 6.8 0 1 0-13.6 0zM1345 2678.2a6.8 6.8 0 1 0 13.6 0a6.8 6.8 0 1 0-13.6 0zM1443.8 2678.2a6.8 6.8 0 1 0 13.6 0a6.8 6.8 0 1 0-13.6 0zM1460.3 2678.2a6.8 6.8 0 1 0 13.6 0a6.8 6.8 0 1 0-13.6 0zM1476.7 2678.2a6.8 6.8 0 1 0 13.6 0a6.8 6.8 0 1 0-13.6 0z" fill="#98ffa5"/>
<path d="M884 2249.7a6.8 6.8 0 1 0 13.6 0a6.8 6.8 0 1 0-13.6 0zM900.5 2249.7a6.8 6.8 0 1 0 13.6 0a6.8 6.8 0 1 0-13.6 0zM917.1 2249.7a6.8 6.8 0 1 0 13.6 0a6.8 6.8 0 1 0-13.6 0zM933.7 2249.7a6.8 6.8 0 1 0 13.6 0a6.8 6.8 0 1 0-13.6 0zM950.2 2249.7a6.8 6.8 0 1 0 13.6 0a6.8 6.8 0 1 0-13.6 0zM966.8 2249.7a6.8 6.8 0 1 0 13.6 0a6.8 6.8 0 1 0-13.6 0zM1066.1 2249.7a6.8 6.8 0 1 0 13.6 0a6.8 6.8 0 1 0-13.6 0zM1430.5 2249.7a6.8 6.8 0 1 0 13.6 0a6.8 6.8 0 1 0-13.6 0zM1463.6 2249.7a6.8 6.8 0 1 0 13.6 0a6.8 6.8 0 1 0-13.6 0zM1480.1 2249.7a6.8 6.8 0 1 0 13.6 0a6.8 6.8 0 1 0-13.6 0zM884 2266.3a6.8 6.8 0 1 0 13.6 0a6.8 6.8 0 1 0-13.6 0zM900.5 2266.3a6.8 6.8 0 1 0 13.6 0a6.8 6.8 0 1 0-13.6 0zM917.1 2266.3a6.8 6.8 0 1 0 13.6 0a6.8 6.8 0 1 0-13.6 0zM933.6 2266.3a6.8 6.8 0 1 0 13.6 0a6.8 6.8 0 1 0-13.6 0zM950.2 2266.3a6.8 6.8 0 1 0 13.6 0a6.8 6.8 0 1 0-13.6 0zM966.8 2266.3a6.8 6.8 0 1 0 13.6 0a6.8 6.8 0 1 0-13.6 0zM1066.1 2266.3a6.8 6.8 0 1 0 13.6 0a6.8 6.8 0 1 0-13.6 0zM1248.2 2266.3a6.8 6.8 0 1 0 13.6 0a6.8 6.8 0 1 0-13.6 0zM1413.8 2266.3a6.8 6.8 0 1 0 13.6 0a6.8 6.8 0 1 0-13.6 0zM1430.3 2266.3a6.8 6.8 0 1 0 13.6 0a6.8 6.8 0 1 0-13.6 0zM1446.9 2266.3a6.8 6.8 0 1 0 13.6 0a6.8 6.8 0 1 0-13.6 0zM1463.5 2266.3a6.8 6.8 0 1 0 13.6 0a6.8 6.8 0 1 0-13.6 0zM1480 2266.3a6.8 6.8 0 1 0 13.6 0a6.8 6.8 0 1 0-13.6 0zM884 2282.9a6.8 6.8 0 1 0 13.6 0a6.8 6.8 0 1 0-13.6 0zM900.5 2282.9a6.8 6.8 0 1 0 13.6 0a6.8 6.8 0 1 0-13.6 0zM917.1 2282.9a6.8 6.8 0 1 0 13.6 0a6.8 6.8 0 1 0-13.6 0zM933.6 2282.9a6.8 6.8 0 1 0 13.6 0a6.8 6.8 0 1 0-13.6 0zM1413.7 2282.9a6.8 6.8 0 1 0 13.6 0a6.8 6.8 0 1 0-13.6 0zM1430.2 2282.9a6.8 6.8 0 1 0 13.6 0a6.8 6.8 0 1 0-13.6 0zM1446.8 2282.9a6.8 6.8 0 1 0 13.6 0a6.8 6.8 0 1 0-13.6 0zM1463.3 2282.9a6.8 6.8 0 1 0 13.6 0a6.8 6.8 0 1 0-13.6 0zM1479.9 2282.9a6.8 6.8 0 1 0 13.6 0a6.8 6.8 0 1 0-13.6 0zM900.5 2299.5a6.8 6.8 0 1 0 13.6 0a6.8 6.8 0 1 0-13.6 0zM917 2299.5a6.8 6.8 0 1 0 13.6 0a6.8 6.8 0 1 0-13.6 0zM933.6 2299.5a6.8 6.8 0 1 0 13.6 0a6.8 6.8 0 1 0-13.6 0zM1380.4 2299.5a6.8 6.8 0 1 0 13.6 0a6.8 6.8 0 1 0-13.6 0zM1397 2299.5a6.8 6.8 0 1 0 13.6 0a6.8 6.8 0 1 0-13.6 0zM1413.5 2299.5a6.8 6.8 0 1 0 13.6 0a6.8 6.8 0 1 0-13.6 0zM1430.1 2299.5a6.8 6.8 0 1 0 13.6 0a6.8 6.8 0 1 0-13.6 0zM1446.6 2299.5a6.8 6.8 0 1 0 13.6 0a6.8 6.8 0 1 0-13.6 0zM1463.2 2299.5a6.8 6.8 0 1 0 13.6 0a6.8 6.8 0 1 0-13.6 0zM1479.7 2299.5a6.8 6.8 0 1 0 13.6 0a6.8 6.8 0 1 0-13.6 0zM900.5 2316.1a6.8 6.8 0 1 0 13.6 0a6.8 6.8 0 1 0-13.6 0zM917 2316.1a6.8 6.8 0 1 0 13.6 0a6.8 6.8 0 1 0-13.6 0zM933.6 2316.1a6.8 6.8 0 1 0 13.6 0a6.8 6.8 0 1 0-13.6 0zM1380.3 2316.1a6.8 6.8 0 1 0 13.6 0a6.8 6.8 0 1 0-13.6 0zM1396.9 2316.1a6.8 6.8 0 1 0 13.6 0a6.8 6.8 0 1 0-13.6 0zM1413.4 2316.1a6.8 6.8 0 1 0 13.6 0a6.8 6.8 0 1 0-13.6 0zM1430 2316.1a6.8 6.8 0 1 0 13.6 0a6.8 6.8 0 1 0-13.6 0zM1446.5 2316.1a6.8 6.8 0 1 0 13.6 0a6.8 6.8 0 1 0-13.6 0zM1463.1 2316.1a6.8 6.8 0 1 0 13.6 0a6.8 6.8 0 1 0-13.6 0zM1479.6 2316.1a6.8 6.8 0 1 0 13.6 0a6.8 6.8 0 1 0-13.6 0zM900.5 2332.7a6.8 6.8 0 1 0 13.6 0a6.8 6.8 0 1 0-13.6 0zM917 2332.7a6.8 6.8 0 1 0 13.6 0a6.8 6.8 0 1 0-13.6 0zM933.6 2332.7a6.8 6.8 0 1 0 13.6 0a6.8 6.8 0 1 0-13.6 0zM1396.8 2332.7a6.8 6.8 0 1 0 13.6 0a6.8 6.8 0 1 0-13.6 0zM1413.3 2332.7a6.8 6.8 0 1 0 13.6 0a6.8 6.8 0 1 0-13.6 0zM1429.9 2332.7a6.8 6.8 0 1 0 13.6 0a6.8 6.8 0 1 0-13.6 0zM1446.4 2332.7a6.8 6.8 0 1 0 13.6 0a6.8 6.8 0 1 0-13.6 0zM1462.9 2332.7a6.8 6.8 0 1 0 13.6 0a6.8 6.8 0 1 0-13.6 0zM1479.5 2332.7a6.8 6.8 0 1 0 13.6 0a6.8 6.8 0 1 0-13.6 0zM917 2349.3a6.8 6.8 0 1 0 13.6 0a6.8 6.8 0 1 0-13.6 0zM933.5 2349.3a6.8 6.8 0 1 0 13.6 0a6.8 6.8 0 1 0-13.6 0zM1396.7 2349.3a6.8 6.8 0 1 0 13.6 0a6.8 6.8 0 1 0-13.6 0zM1413.2 2349.3a6.8 6.8 0 1 0 13.6 0a6.8 6.8 0 1 0-13.6 0zM1429.7 2349.3a6.8 6.8 0 1 0 13.6 0a6.8 6.8 0 1 0-13.6 0zM1446.3 2349.3a6.8 6.8 0 1 0 13.6 0a6.8 6.8 0 1 0-13.6 0zM1462.8 2349.3a6.8 6.8 0 1 0 13.6 0a6.8 6.8 0 1 0-13.6 0zM1479.4 2349.3a6.8 6.8 0 1 0 13.6 0a6.8 6.8 0 1 0-13.6 0zM917 2365.8a6.8 6.8 0 1 0 13.6 0a6.8 6.8 0 1 0-13.6 0zM933.5 2365.8a6.8 6.8 0 1 0 13.6 0a6.8 6.8 0 1 0-13.6 0zM1396.5 2365.8a6.8 6.8 0 1 0 13.6 0a6.8 6.8 0 1 0-13.6 0zM1413.1 2365.8a6.8 6.8 0 1 0 13.6 0a6.8 6.8 0 1 0-13.6 0zM1429.6 2365.8a6.8 6.8 0 1 0 13.6 0a6.8 6.8 0 1 0-13.6 0zM1446.2 2365.8a6.8 6.8 0 1 0 13.6 0a6.8 6.8 0 1 0-13.6 0zM1462.7 2365.8a6.8 6.8 0 1 0 13.6 0a6.8 6.8 0 1 0-13.6 0zM1479.2 2365.8a6.8 6.8 0 1 0 13.6 0a6.8 6.8 0 1 0-13.6 0zM917 2382.3a6.8 6.8 0 1 0 13.6 0a6.8 6.8 0 1 0-13.6 0zM933.5 2382.3a6.8 6.8 0 1 0 13.6 0a6.8 6.8 0 1 0-13.6 0zM1396.4 2382.3a6.8 6.8 0 1 0 13.6 0a6.8 6.8 0 1 0-13.6 0zM1413 2382.3a6.8 6.8 0 1 0 13.6 0a6.8 6.8 0 1 0-13.6 0zM1429.5 2382.3a6.8 6.8 0 1 0 13.6 0a6.8 6.8 0 1 0-13.6 0zM1446 2382.3a6.8 6.8 0 1 0 13.6 0a6.8 6.8 0 1 0-13.6 0zM1462.6 2382.3a6.8 6.8 0 1 0 13.6 0a6.8 6.8 0 1 0-13.6 0zM1479.1 2382.3a6.8 6.8 0 1 0 13.6 0a6.8 6.8 0 1 0-13.6 0zM850.8 2398.9a6.8 6.8 0 1 0 13.6 0a6.8 6.8 0 1 0-13.6 0zM933.5 2398.9a6.8 6.8 0 1 0 13.6 0a6.8 6.8 0 1 0-13.6 0zM1445.9 2398.9a6.8 6.8 0 1 0 13.6 0a6.8 6.8 0 1 0-13.6 0zM1462.4 2398.9a6.8 6.8 0 1 0 13.6 0a6.8 6.8 0 1 0-13.6 0zM1479 2398.9a6.8 6.8 0 1 0 13.6 0a6.8 6.8 0 1 0-13.6 0zM850.8 2415.4a6.8 6.8 0 1 0 13.6 0a6.8 6.8 0 1 0-13.6 0zM1429.3 2415.4a6.8 6.8 0 1 0 13.6 0a6.8 6.8 0 1 0-13.6 0zM1445.8 2415.4a6.8 6.8 0 1 0 13.6 0a6.8 6.8 0 1 0-13.6 0zM1462.3 2415.4a6.8 6.8 0 1 0 13.6 0a6.8 6.8 0 1 0-13.6 0zM1478.8 2415.4a6.8 6.8 0 1 0 13.6 0a6.8 6.8 0 1 0-13.6 0zM850.8 2431.9a6.8 6.8 0 1 0 13.6 0a6.8 6.8 0 1 0-13.6 0zM1429.1 2431.9a6.8 6.8 0 1 0 13.6 0a6.8 6.8 0 1 0-13.6 0zM1445.7 2431.9a6.8 6.8 0 1 0 13.6 0a6.8 6.8 0 1 0-13.6 0zM1462.2 2431.9a6.8 6.8 0 1 0 13.6 0a6.8 6.8 0 1 0-13.6 0zM1478.7 2431.9a6.8 6.8 0 1 0 13.6 0a6.8 6.8 0 1 0-13.6 0zM850.8 2448.4a6.8 6.8 0 1 0 13.6 0a6.8 6.8 0 1 0-13.6 0zM1429 2448.4a6.8 6.8 0 1 0 13.6 0a6.8 6.8 0 1 0-13.6 0zM1445.5 2448.4a6.8 6.8 0 1 0 13.6 0a6.8 6.8 0 1 0-13.6 0zM1462.1 2448.4a6.8 6.8 0 1 0 13.6 0a6.8 6.8 0 1 0-13.6 0zM1478.6 2448.4a6.8 6.8 0 1 0 13.6 0a6.8 6.8 0 1 0-13.6 0zM850.8 2464.9a6.8 6.8 0 1 0 13.6 0a6.8 6.8 0 1 0-13.6 0zM1445.4 2464.9a6.8 6.8 0 1 0 13.6 0a6.8 6.8 0 1 0-13.6 0zM1461.9 2464.9a6.8 6.8 0 1 0 13.6 0a6.8 6.8 0 1 0-13.6 0zM1478.4 2464.9a6.8 6.8 0 1 0 13.6 0a6.8 6.8 0 1 0-13.6 0zM1461.8 2481.4a6.8 6.8 0 1 0 13.6 0a6.8 6.8 0 1 0-13.6 0zM1478.3 2481.4a6.8 6.8 0 1 0 13.6 0a6.8 6.8 0 1 0-13.6 0zM1461.7 2497.8a6.8 6.8 0 1 0 13.6 0a6.8 6.8 0 1 0-13.6 0zM1478.2 2497.8a6.8 6.8 0 1 0 13.6 0a6.8 6.8 0 1 0-13.6 0zM1461.5 2514.3a6.8 6.8 0 1 0 13.6 0a6.8 6.8 0 1 0-13.6 0zM1478 2514.3a6.8 6.8 0 1 0 13.6 0a6.8 6.8 0 1 0-13.6 0zM1461.4 2530.7a6.8 6.8 0 1 0 13.6 0a6.8 6.8 0 1 0-13.6 0zM1477.9 2530.7a6.8 6.8 0 1 0 13.6 0a6.8 6.8 0 1 0-13.6 0zM1477.8 2547.1a6.8 6.8 0 1 0 13.6 0a6.8 6.8 0 1 0-13.6 0zM1461.2 2563.6a6.8 6.8 0 1 0 13.6 0a6.8 6.8 0 1 0-13.6 0zM1477.7 2563.6a6.8 6.8 0 1 0 13.6 0a6.8 6.8 0 1 0-13.6 0zM1428 2580a6.8 6.8 0 1 0 13.6 0a6.8 6.8 0 1 0-13.6 0zM1444.5 2580a6.8 6.8 0 1 0 13.6 0a6.8 6.8 0 1 0-13.6 0zM1461 2580a6.8 6.8 0 1 0 13.6 0a6.8 6.8 0 1 0-13.6 0zM1477.5 2580a6.8 6.8 0 1 0 13.6 0a6.8 6.8 0 1 0-13.6 0zM1427.9 2596.4a6.8 6.8 0 1 0 13.6 0a6.8 6.8 0 1 0-13.6 0zM1444.4 2596.4a6.8 6.8 0 1 0 13.6 0a6.8 6.8 0 1 0-13.6 0zM1460.9 2596.4a6.8 6.8 0 1 0 13.6 0a6.8 6.8 0 1 0-13.6 0zM1427.8 2612.8a6.8 6.8 0 1 0 13.6 0a6.8 6.8 0 1 0-13.6 0zM1444.3 2612.8a6.8 6.8 0 1 0 13.6 0a6.8 6.8 0 1 0-13.6 0zM1460.8 2612.8a6.8 6.8 0 1 0 13.6 0a6.8 6.8 0 1 0-13.6 0zM1427.7 2629.1a6.8 6.8 0 1 0 13.6 0a6.8 6.8 0 1 0-13.6 0zM1444.2 2629.1a6.8 6.8 0 1 0 13.6 0a6.8 6.8 0 1 0-13.6 0zM1460.6 2629.1a6.8 6.8 0 1 0 13.6 0a6.8 6.8 0 1 0-13.6 0zM1411.1 2645.5a6.8 6.8 0 1 0 13.6 0a6.8 6.8 0 1 0-13.6 0zM1427.6 2645.5a6.8 6.8 0 1 0 13.6 0a6.8 6.8 0 1 0-13.6 0zM1444 2645.5a6.8 6.8 0 1 0 13.6 0a6.8 6.8 0 1 0-13.6 0zM1460.5 2645.5a6.8 6.8 0 1 0 13.6 0a6.8 6.8 0 1 0-13.6 0zM1378 2661.9a6.8 6.8 0 1 0 13.6 0a6.8 6.8 0 1 0-13.6 0zM1394.5 2661.9a6.8 6.8 0 1 0 13.6 0a6.8 6.8 0 1 0-13.6 0zM1411 2661.9a6.8 6.8 0 1 0 13.6 0a6.8 6.8 0 1 0-13.6 0zM1427.4 2661.9a6.8 6.8 0 1 0 13.6 0a6.8 6.8 0 1 0-13.6 0zM1443.9 2661.9a6.8 6.8 0 1 0 13.6 0a6.8 6.8 0 1 0-13.6 0zM1361.4 2678.2a6.8 6.8 0 1 0 13.6 0a6.8 6.8 0 1 0-13.6 0zM1377.9 2678.2a6.8 6.8 0 1 0 13.6 0a6.8 6.8 0 1 0-13.6 0zM1394.4 2678.2a6.8 6.8 0 1 0 13.6 0a6.8 6.8 0 1 0-13.6 0zM1410.8 2678.2a6.8 6.8 0 1 0 13.6 0a6.8 6.8 0 1 0-13.6 0zM1427.3 2678.2a6.8 6.8 0 1 0 13.6 0a6.8 6.8 0 1 0-13.6 0z" fill="#80ffb5"/>
<path d="M1165.5 2249.7a6.8 6.8 0 1 0 13.6 0a6.8 6.8 0 1 0-13.6 0zM1298 2249.7a6.8 6.8 0 1 0 13.6 0a6.8 6.8 0 1 0-13.6 0zM1165.4 2266.3a6.8 6.8 0 1 0 13.6 0a6.8 6.8 0 1 0-13.6 0zM1297.9 2266.3a6.8 6.8 0 1 0 13.6 0a6.8 6.8 0 1 0-13.6 0zM1148.8 2282.9a6.8 6.8 0 1 0 13.6 0a6.8 6.8 0 1 0-13.6 0zM1165.4 2282.9a6.8 6.8 0 1 0 13.6 0a6.8 6.8 0 1 0-13.6 0zM1281.2 2282.9a6.8 6.8 0 1 0 13.6 0a6.8 6.8 0 1 0-13.6 0zM1297.8 2282.9a6.8 6.8 0 1 0 13.6 0a6.8 6.8 0 1 0-13.6 0zM1314.3 2282.9a6.8 6.8 0 1 0 13.6 0a6.8 6.8 0 1 0-13.6 0zM1082.5 2299.5a6.8 6.8 0 1 0 13.6 0a6.8 6.8 0 1 0-13.6 0zM1099.1 2299.5a6.8 6.8 0 1 0 13.6 0a6.8 6.8 0 1 0-13.6 0zM1115.6 2299.5a6.8 6.8 0 1 0 13.6 0a6.8 6.8 0 1 0-13.6 0zM1132.2 2299.5a6.8 6.8 0 1 0 13.6 0a6.8 6.8 0 1 0-13.6 0zM1148.7 2299.5a6.8 6.8 0 1 0 13.6 0a6.8 6.8 0 1 0-13.6 0zM1165.3 2299.5a6.8 6.8 0 1 0 13.6 0a6.8 6.8 0 1 0-13.6 0zM1231.5 2299.5a6.8 6.8 0 1 0 13.6 0a6.8 6.8 0 1 0-13.6 0zM1264.6 2299.5a6.8 6.8 0 1 0 13.6 0a6.8 6.8 0 1 0-13.6 0zM1297.7 2299.5a6.8 6.8 0 1 0 13.6 0a6.8 6.8 0 1 0-13.6 0zM1314.2 2299.5a6.8 6.8 0 1 0 13.6 0a6.8 6.8 0 1 0-13.6 0zM983.2 2316.1a6.8 6.8 0 1 0 13.6 0a6.8 6.8 0 1 0-13.6 0zM1032.9 2316.1a6.8 6.8 0 1 0 13.6 0a6.8 6.8 0 1 0-13.6 0zM1049.4 2316.1a6.8 6.8 0 1 0 13.6 0a6.8 6.8 0 1 0-13.6 0zM1066 2316.1a6.8 6.8 0 1 0 13.6 0a6.8 6.8 0 1 0-13.6 0zM1082.5 2316.1a6.8 6.8 0 1 0 13.6 0a6.8 6.8 0 1 0-13.6 0zM1099 2316.1a6.8 6.8 0 1 0 13.6 0a6.8 6.8 0 1 0-13.6 0zM1115.6 2316.1a6.8 6.8 0 1 0 13.6 0a6.8 6.8 0 1 0-13.6 0zM1248 2316.1a6.8 6.8 0 1 0 13.6 0a6.8 6.8 0 1 0-13.6 0zM1314.2 2316.1a6.8 6.8 0 1 0 13.6 0a6.8 6.8 0 1 0-13.6 0zM983.2 2332.7a6.8 6.8 0 1 0 13.6 0a6.8 6.8 0 1 0-13.6 0zM1016.3 2332.7a6.8 6.8 0 1 0 13.6 0a6.8 6.8 0 1 0-13.6 0zM1049.4 2332.7a6.8 6.8 0 1 0 13.6 0a6.8 6.8 0 1 0-13.6 0zM1082.4 2332.7a6.8 6.8 0 1 0 13.6 0a6.8 6.8 0 1 0-13.6 0zM1314.1 2332.7a6.8 6.8 0 1 0 13.6 0a6.8 6.8 0 1 0-13.6 0zM1330.6 2332.7a6.8 6.8 0 1 0 13.6 0a6.8 6.8 0 1 0-13.6 0zM966.6 2349.3a6.8 6.8 0 1 0 13.6 0a6.8 6.8 0 1 0-13.6 0zM1016.2 2349.3a6.8 6.8 0 1 0 13.6 0a6.8 6.8 0 1 0-13.6 0zM1049.3 2349.3a6.8 6.8 0 1 0 13.6 0a6.8 6.8 0 1 0-13.6 0zM1082.4 2349.3a6.8 6.8 0 1 0 13.6 0a6.8 6.8 0 1 0-13.6 0zM1314 2349.3a6.8 6.8 0 1 0 13.6 0a6.8 6.8 0 1 0-13.6 0zM1330.5 2349.3a6.8 6.8 0 1 0 13.6 0a6.8 6.8 0 1 0-13.6 0zM950.1 2365.8a6.8 6.8 0 1 0 13.6 0a6.8 6.8 0 1 0-13.6 0zM966.6 2365.8a6.8 6.8 0 1 0 13.6 0a6.8 6.8 0 1 0-13.6 0zM1082.3 2365.8a6.8 6.8 0 1 0 13.6 0a6.8 6.8 0 1 0-13.6 0zM1313.9 2365.8a6.8 6.8 0 1 0 13.6 0a6.8 6.8 0 1 0-13.6 0zM1330.4 2365.8a6.8 6.8 0 1 0 13.6 0a6.8 6.8 0 1 0-13.6 0zM950 2382.3a6.8 6.8 0 1 0 13.6 0a6.8 6.8 0 1 0-13.6 0zM1313.8 2382.3a6.8 6.8 0 1 0 13.6 0a6.8 6.8 0 1 0-13.6 0zM1330.3 2382.3a6.8 6.8 0 1 0 13.6 0a6.8 6.8 0 1 0-13.6 0zM950 2398.9a6.8 6.8 0 1 0 13.6 0a6.8 6.8 0 1 0-13.6 0zM1313.7 2398.9a6.8 6.8 0 1 0 13.6 0a6.8 6.8 0 1 0-13.6 0zM1330.2 2398.9a6.8 6.8 0 1 0 13.6 0a6.8 6.8 0 1 0-13.6 0zM1313.6 2415.4a6.8 6.8 0 1 0 13.6 0a6.8 6.8 0 1 0-13.6 0zM1330.1 2415.4a6.8 6.8 0 1 0 13.6 0a6.8 6.8 0 1 0-13.6 0zM883.9 2431.9a6.8 6.8 0 1 0 13.6 0a6.8 6.8 0 1 0-13.6 0zM900.4 2431.9a6.8 6.8 0 1 0 13.6 0a6.8 6.8 0 1 0-13.6 0zM916.9 2431.9a6.8 6.8 0 1 0 13.6 0a6.8 6.8 0 1 0-13.6 0zM966.5 2431.9a6.8 6.8 0 1 0 13.6 0a6.8 6.8 0 1 0-13.6 0zM1313.5 2431.9a6.8 6.8 0 1 0 13.6 0a6.8 6.8 0 1 0-13.6 0zM1330 2431.9a6.8 6.8 0 1 0 13.6 0a6.8 6.8 0 1 0-13.6 0zM900.4 2448.4a6.8 6.8 0 1 0 13.6 0a6.8 6.8 0 1 0-13.6 0zM1313.4 2448.4a6.8 6.8 0 1 0 13.6 0a6.8 6.8 0 1 0-13.6 0zM1329.9 2448.4a6.8 6.8 0 1 0 13.6 0a6.8 6.8 0 1 0-13.6 0zM900.4 2464.9a6.8 6.8 0 1 0 13.6 0a6.8 6.8 0 1 0-13.6 0zM933.4 2464.9a6.8 6.8 0 1 0 13.6 0a6.8 6.8 0 1 0-13.6 0zM867.3 2481.4a6.8 6.8 0 1 0 13.6 0a6.8 6.8 0 1 0-13.6 0zM883.8 2481.4a6.8 6.8 0 1 0 13.6 0a6.8 6.8 0 1 0-13.6 0zM1296.7 2481.4a6.8 6.8 0 1 0 13.6 0a6.8 6.8 0 1 0-13.6 0zM1313.2 2481.4a6.8 6.8 0 1 0 13.6 0a6.8 6.8 0 1 0-13.6 0zM1329.7 2481.4a6.8 6.8 0 1 0 13.6 0a6.8 6.8 0 1 0-13.6 0zM867.3 2497.8a6.8 6.8 0 1 0 13.6 0a6.8 6.8 0 1 0-13.6 0zM1296.6 2497.8a6.8 6.8 0 1 0 13.6 0a6.8 6.8 0 1 0-13.6 0zM1395.6 2497.8a6.8 6.8 0 1 0 13.6 0a6.8 6.8 0 1 0-13.6 0zM1213.9 2514.3a6.8 6.8 0 1 0 13.6 0a6.8 6.8 0 1 0-13.6 0zM1313 2514.3a6.8 6.8 0 1 0 13.6 0a6.8 6.8 0 1 0-13.6 0zM1329.5 2514.3a6.8 6.8 0 1 0 13.6 0a6.8 6.8 0 1 0-13.6 0zM1395.5 2514.3a6.8 6.8 0 1 0 13.6 0a6.8 6.8 0 1 0-13.6 0zM1230.4 2530.7a6.8 6.8 0 1 0 13.6 0a6.8 6.8 0 1 0-13.6 0zM1263.4 2530.7a6.8 6.8 0 1 0 13.6 0a6.8 6.8 0 1 0-13.6 0zM1279.9 2530.7a6.8 6.8 0 1 0 13.6 0a6.8 6.8 0 1 0-13.6 0zM1296.4 2530.7a6.8 6.8 0 1 0 13.6 0a6.8 6.8 0 1 0-13.6 0zM1312.9 2530.7a6.8 6.8 0 1 0 13.6 0a6.8 6.8 0 1 0-13.6 0zM1329.4 2530.7a6.8 6.8 0 1 0 13.6 0a6.8 6.8 0 1 0-13.6 0zM1395.4 2530.7a6.8 6.8 0 1 0 13.6 0a6.8 6.8 0 1 0-13.6 0zM1312.8 2547.1a6.8 6.8 0 1 0 13.6 0a6.8 6.8 0 1 0-13.6 0zM1246.7 2563.6a6.8 6.8 0 1 0 13.6 0a6.8 6.8 0 1 0-13.6 0zM1263.2 2563.6a6.8 6.8 0 1 0 13.6 0a6.8 6.8 0 1 0-13.6 0zM1279.7 2563.6a6.8 6.8 0 1 0 13.6 0a6.8 6.8 0 1 0-13.6 0zM1296.2 2563.6a6.8 6.8 0 1 0 13.6 0a6.8 6.8 0 1 0-13.6 0zM1345.7 2563.6a6.8 6.8 0 1 0 13.6 0a6.8 6.8 0 1 0-13.6 0zM933.3 2580a6.8 6.8 0 1 0 13.6 0a6.8 6.8 0 1 0-13.6 0zM1246.6 2580a6.8 6.8 0 1 0 13.6 0a6.8 6.8 0 1 0-13.6 0zM1263.1 2580a6.8 6.8 0 1 0 13.6 0a6.8 6.8 0 1 0-13.6 0zM1296.1 2580a6.8 6.8 0 1 0 13.6 0a6.8 6.8 0 1 0-13.6 0zM1312.6 2580a6.8 6.8 0 1 0 13.6 0a6.8 6.8 0 1 0-13.6 0zM1329.1 2580a6.8 6.8 0 1 0 13.6 0a6.8 6.8 0 1 0-13.6 0zM982.7 2596.4a6.8 6.8 0 1 0 13.6 0a6.8 6.8 0 1 0-13.6 0zM1065.2 2596.4a6.8 6.8 0 1 0 13.6 0a6.8 6.8 0 1 0-13.6 0zM1081.6 2596.4a6.8 6.8 0 1 0 13.6 0a6.8 6.8 0 1 0-13.6 0zM1147.6 2596.4a6.8 6.8 0 1 0 13.6 0a6.8 6.8 0 1 0-13.6 0zM1312.5 2596.4a6.8 6.8 0 1 0 13.6 0a6.8 6.8 0 1 0-13.6 0zM1329 2596.4a6.8 6.8 0 1 0 13.6 0a6.8 6.8 0 1 0-13.6 0zM1032.1 2612.8a6.8 6.8 0 1 0 13.6 0a6.8 6.8 0 1 0-13.6 0zM1048.6 2612.8a6.8 6.8 0 1 0 13.6 0a6.8 6.8 0 1 0-13.6 0zM1065.1 2612.8a6.8 6.8 0 1 0 13.6 0a6.8 6.8 0 1 0-13.6 0zM1098.1 2612.8a6.8 6.8 0 1 0 13.6 0a6.8 6.8 0 1 0-13.6 0zM1147.5 2612.8a6.8 6.8 0 1 0 13.6 0a6.8 6.8 0 1 0-13.6 0zM1164 2612.8a6.8 6.8 0 1 0 13.6 0a6.8 6.8 0 1 0-13.6 0zM1197 2612.8a6.8 6.8 0 1 0 13.6 0a6.8 6.8 0 1 0-13.6 0zM1213.5 2612.8a6.8 6.8 0 1 0 13.6 0a6.8 6.8 0 1 0-13.6 0zM1131 2629.1a6.8 6.8 0 1 0 13.6 0a6.8 6.8 0 1 0-13.6 0zM1147.5 2629.1a6.8 6.8 0 1 0 13.6 0a6.8 6.8 0 1 0-13.6 0zM1164 2629.1a6.8 6.8 0 1 0 13.6 0a6.8 6.8 0 1 0-13.6 0zM1180.4 2629.1a6.8 6.8 0 1 0 13.6 0a6.8 6.8 0 1 0-13.6 0zM1114.5 2645.5a6.8 6.8 0 1 0 13.6 0a6.8 6.8 0 1 0-13.6 0zM1130.9 2645.5a6.8 6.8 0 1 0 13.6 0a6.8 6.8 0 1 0-13.6 0zM1147.4 2645.5a6.8 6.8 0 1 0 13.6 0a6.8 6.8 0 1 0-13.6 0zM1163.9 2645.5a6.8 6.8 0 1 0 13.6 0a6.8 6.8 0 1 0-13.6 0zM1180.4 2645.5a6.8 6.8 0 1 0 13.6 0a6.8 6.8 0 1 0-13.6 0zM1114.4 2661.9a6.8 6.8 0 1 0 13.6 0a6.8 6.8 0 1 0-13.6 0z" fill="#faff71"/>
<path d="M1182.1 2249.7a6.8 6.8 0 1 0 13.6 0a6.8 6.8 0 1 0-13.6 0zM1215.2 2249.7a6.8 6.8 0 1 0 13.6 0a6.8 6.8 0 1 0-13.6 0zM1182 2266.3a6.8 6.8 0 1 0 13.6 0a6.8 6.8 0 1 0-13.6 0zM1215.1 2266.3a6.8 6.8 0 1 0 13.6 0a6.8 6.8 0 1 0-13.6 0zM1181.9 2282.9a6.8 6.8 0 1 0 13.6 0a6.8 6.8 0 1 0-13.6 0zM1198.5 2282.9a6.8 6.8 0 1 0 13.6 0a6.8 6.8 0 1 0-13.6 0zM1215 2282.9a6.8 6.8 0 1 0 13.6 0a6.8 6.8 0 1 0-13.6 0zM1181.8 2299.5a6.8 6.8 0 1 0 13.6 0a6.8 6.8 0 1 0-13.6 0zM1132.1 2316.1a6.8 6.8 0 1 0 13.6 0a6.8 6.8 0 1 0-13.6 0zM1148.7 2316.1a6.8 6.8 0 1 0 13.6 0a6.8 6.8 0 1 0-13.6 0zM1165.2 2316.1a6.8 6.8 0 1 0 13.6 0a6.8 6.8 0 1 0-13.6 0zM1181.8 2316.1a6.8 6.8 0 1 0 13.6 0a6.8 6.8 0 1 0-13.6 0zM1231.4 2316.1a6.8 6.8 0 1 0 13.6 0a6.8 6.8 0 1 0-13.6 0zM1297.6 2316.1a6.8 6.8 0 1 0 13.6 0a6.8 6.8 0 1 0-13.6 0zM1032.8 2332.7a6.8 6.8 0 1 0 13.6 0a6.8 6.8 0 1 0-13.6 0zM1065.9 2332.7a6.8 6.8 0 1 0 13.6 0a6.8 6.8 0 1 0-13.6 0zM1099 2332.7a6.8 6.8 0 1 0 13.6 0a6.8 6.8 0 1 0-13.6 0zM1148.6 2332.7a6.8 6.8 0 1 0 13.6 0a6.8 6.8 0 1 0-13.6 0zM1165.2 2332.7a6.8 6.8 0 1 0 13.6 0a6.8 6.8 0 1 0-13.6 0zM1181.7 2332.7a6.8 6.8 0 1 0 13.6 0a6.8 6.8 0 1 0-13.6 0zM1231.3 2332.7a6.8 6.8 0 1 0 13.6 0a6.8 6.8 0 1 0-13.6 0zM1247.9 2332.7a6.8 6.8 0 1 0 13.6 0a6.8 6.8 0 1 0-13.6 0zM1297.5 2332.7a6.8 6.8 0 1 0 13.6 0a6.8 6.8 0 1 0-13.6 0zM983.2 2349.3a6.8 6.8 0 1 0 13.6 0a6.8 6.8 0 1 0-13.6 0zM1032.8 2349.3a6.8 6.8 0 1 0 13.6 0a6.8 6.8 0 1 0-13.6 0zM1098.9 2349.3a6.8 6.8 0 1 0 13.6 0a6.8 6.8 0 1 0-13.6 0zM1115.5 2349.3a6.8 6.8 0 1 0 13.6 0a6.8 6.8 0 1 0-13.6 0zM1132 2349.3a6.8 6.8 0 1 0 13.6 0a6.8 6.8 0 1 0-13.6 0zM1148.6 2349.3a6.8 6.8 0 1 0 13.6 0a6.8 6.8 0 1 0-13.6 0zM1165.1 2349.3a6.8 6.8 0 1 0 13.6 0a6.8 6.8 0 1 0-13.6 0zM1231.3 2349.3a6.8 6.8 0 1 0 13.6 0a6.8 6.8 0 1 0-13.6 0zM1247.8 2349.3a6.8 6.8 0 1 0 13.6 0a6.8 6.8 0 1 0-13.6 0zM1297.4 2349.3a6.8 6.8 0 1 0 13.6 0a6.8 6.8 0 1 0-13.6 0zM983.1 2365.8a6.8 6.8 0 1 0 13.6 0a6.8 6.8 0 1 0-13.6 0zM1016.2 2365.8a6.8 6.8 0 1 0 13.6 0a6.8 6.8 0 1 0-13.6 0zM1032.7 2365.8a6.8 6.8 0 1 0 13.6 0a6.8 6.8 0 1 0-13.6 0zM1049.3 2365.8a6.8 6.8 0 1 0 13.6 0a6.8 6.8 0 1 0-13.6 0zM1098.9 2365.8a6.8 6.8 0 1 0 13.6 0a6.8 6.8 0 1 0-13.6 0zM1115.4 2365.8a6.8 6.8 0 1 0 13.6 0a6.8 6.8 0 1 0-13.6 0zM1132 2365.8a6.8 6.8 0 1 0 13.6 0a6.8 6.8 0 1 0-13.6 0zM1231.2 2365.8a6.8 6.8 0 1 0 13.6 0a6.8 6.8 0 1 0-13.6 0zM1247.7 2365.8a6.8 6.8 0 1 0 13.6 0a6.8 6.8 0 1 0-13.6 0zM1297.3 2365.8a6.8 6.8 0 1 0 13.6 0a6.8 6.8 0 1 0-13.6 0zM966.6 2382.3a6.8 6.8 0 1 0 13.6 0a6.8 6.8 0 1 0-13.6 0zM983.1 2382.3a6.8 6.8 0 1 0 13.6 0a6.8 6.8 0 1 0-13.6 0zM1082.3 2382.3a6.8 6.8 0 1 0 13.6 0a6.8 6.8 0 1 0-13.6 0zM1098.8 2382.3a6.8 6.8 0 1 0 13.6 0a6.8 6.8 0 1 0-13.6 0zM1115.4 2382.3a6.8 6.8 0 1 0 13.6 0a6.8 6.8 0 1 0-13.6 0zM1231.1 2382.3a6.8 6.8 0 1 0 13.6 0a6.8 6.8 0 1 0-13.6 0zM1247.6 2382.3a6.8 6.8 0 1 0 13.6 0a6.8 6.8 0 1 0-13.6 0zM1264.2 2382.3a6.8 6.8 0 1 0 13.6 0a6.8 6.8 0 1 0-13.6 0zM1280.7 2382.3a6.8 6.8 0 1 0 13.6 0a6.8 6.8 0 1 0-13.6 0zM1297.2 2382.3a6.8 6.8 0 1 0 13.6 0a6.8 6.8 0 1 0-13.6 0zM966.5 2398.9a6.8 6.8 0 1 0 13.6 0a6.8 6.8 0 1 0-13.6 0zM983.1 2398.9a6.8 6.8 0 1 0 13.6 0a6.8 6.8 0 1 0-13.6 0zM1032.7 2398.9a6.8 6.8 0 1 0 13.6 0a6.8 6.8 0 1 0-13.6 0zM1082.2 2398.9a6.8 6.8 0 1 0 13.6 0a6.8 6.8 0 1 0-13.6 0zM1098.8 2398.9a6.8 6.8 0 1 0 13.6 0a6.8 6.8 0 1 0-13.6 0zM1115.3 2398.9a6.8 6.8 0 1 0 13.6 0a6.8 6.8 0 1 0-13.6 0zM1131.8 2398.9a6.8 6.8 0 1 0 13.6 0a6.8 6.8 0 1 0-13.6 0zM1148.4 2398.9a6.8 6.8 0 1 0 13.6 0a6.8 6.8 0 1 0-13.6 0zM1198 2398.9a6.8 6.8 0 1 0 13.6 0a6.8 6.8 0 1 0-13.6 0zM1264.1 2398.9a6.8 6.8 0 1 0 13.6 0a6.8 6.8 0 1 0-13.6 0zM1280.6 2398.9a6.8 6.8 0 1 0 13.6 0a6.8 6.8 0 1 0-13.6 0zM1297.1 2398.9a6.8 6.8 0 1 0 13.6 0a6.8 6.8 0 1 0-13.6 0zM966.5 2415.4a6.8 6.8 0 1 0 13.6 0a6.8 6.8 0 1 0-13.6 0zM1082.2 2415.4a6.8 6.8 0 1 0 13.6 0a6.8 6.8 0 1 0-13.6 0zM1098.7 2415.4a6.8 6.8 0 1 0 13.6 0a6.8 6.8 0 1 0-13.6 0zM1264 2415.4a6.8 6.8 0 1 0 13.6 0a6.8 6.8 0 1 0-13.6 0zM1280.5 2415.4a6.8 6.8 0 1 0 13.6 0a6.8 6.8 0 1 0-13.6 0zM1297 2415.4a6.8 6.8 0 1 0 13.6 0a6.8 6.8 0 1 0-13.6 0zM1082.1 2431.9a6.8 6.8 0 1 0 13.6 0a6.8 6.8 0 1 0-13.6 0zM1098.7 2431.9a6.8 6.8 0 1 0 13.6 0a6.8 6.8 0 1 0-13.6 0zM1296.9 2431.9a6.8 6.8 0 1 0 13.6 0a6.8 6.8 0 1 0-13.6 0zM883.9 2448.4a6.8 6.8 0 1 0 13.6 0a6.8 6.8 0 1 0-13.6 0zM916.9 2448.4a6.8 6.8 0 1 0 13.6 0a6.8 6.8 0 1 0-13.6 0zM933.4 2448.4a6.8 6.8 0 1 0 13.6 0a6.8 6.8 0 1 0-13.6 0zM966.5 2448.4a6.8 6.8 0 1 0 13.6 0a6.8 6.8 0 1 0-13.6 0zM1263.8 2448.4a6.8 6.8 0 1 0 13.6 0a6.8 6.8 0 1 0-13.6 0zM1280.3 2448.4a6.8 6.8 0 1 0 13.6 0a6.8 6.8 0 1 0-13.6 0zM1296.9 2448.4a6.8 6.8 0 1 0 13.6 0a6.8 6.8 0 1 0-13.6 0zM883.8 2464.9a6.8 6.8 0 1 0 13.6 0a6.8 6.8 0 1 0-13.6 0zM982.9 2464.9a6.8 6.8 0 1 0 13.6 0a6.8 6.8 0 1 0-13.6 0zM999.5 2464.9a6.8 6.8 0 1 0 13.6 0a6.8 6.8 0 1 0-13.6 0zM1115.1 2464.9a6.8 6.8 0 1 0 13.6 0a6.8 6.8 0 1 0-13.6 0zM1197.7 2464.9a6.8 6.8 0 1 0 13.6 0a6.8 6.8 0 1 0-13.6 0zM1247.2 2464.9a6.8 6.8 0 1 0 13.6 0a6.8 6.8 0 1 0-13.6 0zM1263.7 2464.9a6.8 6.8 0 1 0 13.6 0a6.8 6.8 0 1 0-13.6 0zM1280.2 2464.9a6.8 6.8 0 1 0 13.6 0a6.8 6.8 0 1 0-13.6 0zM1296.8 2464.9a6.8 6.8 0 1 0 13.6 0a6.8 6.8 0 1 0-13.6 0zM1313.3 2464.9a6.8 6.8 0 1 0 13.6 0a6.8 6.8 0 1 0-13.6 0zM1329.8 2464.9a6.8 6.8 0 1 0 13.6 0a6.8 6.8 0 1 0-13.6 0zM1247.1 2481.4a6.8 6.8 0 1 0 13.6 0a6.8 6.8 0 1 0-13.6 0zM1263.6 2481.4a6.8 6.8 0 1 0 13.6 0a6.8 6.8 0 1 0-13.6 0zM1115 2497.8a6.8 6.8 0 1 0 13.6 0a6.8 6.8 0 1 0-13.6 0zM1247 2497.8a6.8 6.8 0 1 0 13.6 0a6.8 6.8 0 1 0-13.6 0zM1263.6 2497.8a6.8 6.8 0 1 0 13.6 0a6.8 6.8 0 1 0-13.6 0zM1280.1 2497.8a6.8 6.8 0 1 0 13.6 0a6.8 6.8 0 1 0-13.6 0zM883.8 2514.3a6.8 6.8 0 1 0 13.6 0a6.8 6.8 0 1 0-13.6 0zM1032.4 2514.3a6.8 6.8 0 1 0 13.6 0a6.8 6.8 0 1 0-13.6 0zM1147.9 2514.3a6.8 6.8 0 1 0 13.6 0a6.8 6.8 0 1 0-13.6 0zM1197.4 2514.3a6.8 6.8 0 1 0 13.6 0a6.8 6.8 0 1 0-13.6 0zM1296.5 2514.3a6.8 6.8 0 1 0 13.6 0a6.8 6.8 0 1 0-13.6 0zM1114.9 2530.7a6.8 6.8 0 1 0 13.6 0a6.8 6.8 0 1 0-13.6 0zM933.3 2547.1a6.8 6.8 0 1 0 13.6 0a6.8 6.8 0 1 0-13.6 0zM1213.8 2547.1a6.8 6.8 0 1 0 13.6 0a6.8 6.8 0 1 0-13.6 0zM900.3 2563.6a6.8 6.8 0 1 0 13.6 0a6.8 6.8 0 1 0-13.6 0zM1230.2 2563.6a6.8 6.8 0 1 0 13.6 0a6.8 6.8 0 1 0-13.6 0zM1312.7 2563.6a6.8 6.8 0 1 0 13.6 0a6.8 6.8 0 1 0-13.6 0zM1329.2 2563.6a6.8 6.8 0 1 0 13.6 0a6.8 6.8 0 1 0-13.6 0zM966.2 2580a6.8 6.8 0 1 0 13.6 0a6.8 6.8 0 1 0-13.6 0zM1114.7 2580a6.8 6.8 0 1 0 13.6 0a6.8 6.8 0 1 0-13.6 0zM1279.6 2580a6.8 6.8 0 1 0 13.6 0a6.8 6.8 0 1 0-13.6 0zM1164.1 2596.4a6.8 6.8 0 1 0 13.6 0a6.8 6.8 0 1 0-13.6 0zM1230.1 2596.4a6.8 6.8 0 1 0 13.6 0a6.8 6.8 0 1 0-13.6 0zM1131.1 2612.8a6.8 6.8 0 1 0 13.6 0a6.8 6.8 0 1 0-13.6 0zM1180.5 2612.8a6.8 6.8 0 1 0 13.6 0a6.8 6.8 0 1 0-13.6 0z" fill="#ffd45c"/>
<path d="M1198.6 2249.7a6.8 6.8 0 1 0 13.6 0a6.8 6.8 0 1 0-13.6 0zM1198.5 2266.3a6.8 6.8 0 1 0 13.6 0a6.8 6.8 0 1 0-13.6 0zM1198.4 2299.5a6.8 6.8 0 1 0 13.6 0a6.8 6.8 0 1 0-13.6 0zM1214.9 2299.5a6.8 6.8 0 1 0 13.6 0a6.8 6.8 0 1 0-13.6 0zM1281.1 2299.5a6.8 6.8 0 1 0 13.6 0a6.8 6.8 0 1 0-13.6 0zM1198.3 2316.1a6.8 6.8 0 1 0 13.6 0a6.8 6.8 0 1 0-13.6 0zM1214.9 2316.1a6.8 6.8 0 1 0 13.6 0a6.8 6.8 0 1 0-13.6 0zM1264.5 2316.1a6.8 6.8 0 1 0 13.6 0a6.8 6.8 0 1 0-13.6 0zM1281.1 2316.1a6.8 6.8 0 1 0 13.6 0a6.8 6.8 0 1 0-13.6 0zM1115.5 2332.7a6.8 6.8 0 1 0 13.6 0a6.8 6.8 0 1 0-13.6 0zM1132.1 2332.7a6.8 6.8 0 1 0 13.6 0a6.8 6.8 0 1 0-13.6 0zM1198.3 2332.7a6.8 6.8 0 1 0 13.6 0a6.8 6.8 0 1 0-13.6 0zM1214.8 2332.7a6.8 6.8 0 1 0 13.6 0a6.8 6.8 0 1 0-13.6 0zM1264.4 2332.7a6.8 6.8 0 1 0 13.6 0a6.8 6.8 0 1 0-13.6 0zM1065.9 2349.3a6.8 6.8 0 1 0 13.6 0a6.8 6.8 0 1 0-13.6 0zM1181.6 2349.3a6.8 6.8 0 1 0 13.6 0a6.8 6.8 0 1 0-13.6 0zM1198.2 2349.3a6.8 6.8 0 1 0 13.6 0a6.8 6.8 0 1 0-13.6 0zM1214.7 2349.3a6.8 6.8 0 1 0 13.6 0a6.8 6.8 0 1 0-13.6 0zM1264.3 2349.3a6.8 6.8 0 1 0 13.6 0a6.8 6.8 0 1 0-13.6 0zM1280.9 2349.3a6.8 6.8 0 1 0 13.6 0a6.8 6.8 0 1 0-13.6 0zM1148.5 2365.8a6.8 6.8 0 1 0 13.6 0a6.8 6.8 0 1 0-13.6 0zM1165 2365.8a6.8 6.8 0 1 0 13.6 0a6.8 6.8 0 1 0-13.6 0zM1181.6 2365.8a6.8 6.8 0 1 0 13.6 0a6.8 6.8 0 1 0-13.6 0zM1198.1 2365.8a6.8 6.8 0 1 0 13.6 0a6.8 6.8 0 1 0-13.6 0zM1214.6 2365.8a6.8 6.8 0 1 0 13.6 0a6.8 6.8 0 1 0-13.6 0zM1264.2 2365.8a6.8 6.8 0 1 0 13.6 0a6.8 6.8 0 1 0-13.6 0zM1280.8 2365.8a6.8 6.8 0 1 0 13.6 0a6.8 6.8 0 1 0-13.6 0zM1016.2 2382.3a6.8 6.8 0 1 0 13.6 0a6.8 6.8 0 1 0-13.6 0zM1032.7 2382.3a6.8 6.8 0 1 0 13.6 0a6.8 6.8 0 1 0-13.6 0zM1049.2 2382.3a6.8 6.8 0 1 0 13.6 0a6.8 6.8 0 1 0-13.6 0zM1131.9 2382.3a6.8 6.8 0 1 0 13.6 0a6.8 6.8 0 1 0-13.6 0zM1148.4 2382.3a6.8 6.8 0 1 0 13.6 0a6.8 6.8 0 1 0-13.6 0zM1165 2382.3a6.8 6.8 0 1 0 13.6 0a6.8 6.8 0 1 0-13.6 0zM1181.5 2382.3a6.8 6.8 0 1 0 13.6 0a6.8 6.8 0 1 0-13.6 0zM1198 2382.3a6.8 6.8 0 1 0 13.6 0a6.8 6.8 0 1 0-13.6 0zM1214.6 2382.3a6.8 6.8 0 1 0 13.6 0a6.8 6.8 0 1 0-13.6 0zM1016.1 2398.9a6.8 6.8 0 1 0 13.6 0a6.8 6.8 0 1 0-13.6 0zM1049.2 2398.9a6.8 6.8 0 1 0 13.6 0a6.8 6.8 0 1 0-13.6 0zM1164.9 2398.9a6.8 6.8 0 1 0 13.6 0a6.8 6.8 0 1 0-13.6 0zM1181.4 2398.9a6.8 6.8 0 1 0 13.6 0a6.8 6.8 0 1 0-13.6 0zM1214.5 2398.9a6.8 6.8 0 1 0 13.6 0a6.8 6.8 0 1 0-13.6 0zM1231 2398.9a6.8 6.8 0 1 0 13.6 0a6.8 6.8 0 1 0-13.6 0zM1247.5 2398.9a6.8 6.8 0 1 0 13.6 0a6.8 6.8 0 1 0-13.6 0zM950 2415.4a6.8 6.8 0 1 0 13.6 0a6.8 6.8 0 1 0-13.6 0zM983 2415.4a6.8 6.8 0 1 0 13.6 0a6.8 6.8 0 1 0-13.6 0zM999.6 2415.4a6.8 6.8 0 1 0 13.6 0a6.8 6.8 0 1 0-13.6 0zM1016.1 2415.4a6.8 6.8 0 1 0 13.6 0a6.8 6.8 0 1 0-13.6 0zM1032.6 2415.4a6.8 6.8 0 1 0 13.6 0a6.8 6.8 0 1 0-13.6 0zM1049.1 2415.4a6.8 6.8 0 1 0 13.6 0a6.8 6.8 0 1 0-13.6 0zM1115.2 2415.4a6.8 6.8 0 1 0 13.6 0a6.8 6.8 0 1 0-13.6 0zM1131.8 2415.4a6.8 6.8 0 1 0 13.6 0a6.8 6.8 0 1 0-13.6 0zM1148.3 2415.4a6.8 6.8 0 1 0 13.6 0a6.8 6.8 0 1 0-13.6 0zM1164.8 2415.4a6.8 6.8 0 1 0 13.6 0a6.8 6.8 0 1 0-13.6 0zM1181.4 2415.4a6.8 6.8 0 1 0 13.6 0a6.8 6.8 0 1 0-13.6 0zM1197.9 2415.4a6.8 6.8 0 1 0 13.6 0a6.8 6.8 0 1 0-13.6 0zM1214.4 2415.4a6.8 6.8 0 1 0 13.6 0a6.8 6.8 0 1 0-13.6 0zM1230.9 2415.4a6.8 6.8 0 1 0 13.6 0a6.8 6.8 0 1 0-13.6 0zM1247.5 2415.4a6.8 6.8 0 1 0 13.6 0a6.8 6.8 0 1 0-13.6 0zM933.4 2431.9a6.8 6.8 0 1 0 13.6 0a6.8 6.8 0 1 0-13.6 0zM1016.1 2431.9a6.8 6.8 0 1 0 13.6 0a6.8 6.8 0 1 0-13.6 0zM1049.1 2431.9a6.8 6.8 0 1 0 13.6 0a6.8 6.8 0 1 0-13.6 0zM1115.2 2431.9a6.8 6.8 0 1 0 13.6 0a6.8 6.8 0 1 0-13.6 0zM1131.7 2431.9a6.8 6.8 0 1 0 13.6 0a6.8 6.8 0 1 0-13.6 0zM1197.8 2431.9a6.8 6.8 0 1 0 13.6 0a6.8 6.8 0 1 0-13.6 0zM1214.3 2431.9a6.8 6.8 0 1 0 13.6 0a6.8 6.8 0 1 0-13.6 0zM1230.9 2431.9a6.8 6.8 0 1 0 13.6 0a6.8 6.8 0 1 0-13.6 0zM1247.4 2431.9a6.8 6.8 0 1 0 13.6 0a6.8 6.8 0 1 0-13.6 0zM1263.9 2431.9a6.8 6.8 0 1 0 13.6 0a6.8 6.8 0 1 0-13.6 0zM1280.4 2431.9a6.8 6.8 0 1 0 13.6 0a6.8 6.8 0 1 0-13.6 0zM983 2448.4a6.8 6.8 0 1 0 13.6 0a6.8 6.8 0 1 0-13.6 0zM999.5 2448.4a6.8 6.8 0 1 0 13.6 0a6.8 6.8 0 1 0-13.6 0zM1016 2448.4a6.8 6.8 0 1 0 13.6 0a6.8 6.8 0 1 0-13.6 0zM1049.1 2448.4a6.8 6.8 0 1 0 13.6 0a6.8 6.8 0 1 0-13.6 0zM1082.1 2448.4a6.8 6.8 0 1 0 13.6 0a6.8 6.8 0 1 0-13.6 0zM1098.6 2448.4a6.8 6.8 0 1 0 13.6 0a6.8 6.8 0 1 0-13.6 0zM1115.1 2448.4a6.8 6.8 0 1 0 13.6 0a6.8 6.8 0 1 0-13.6 0zM1131.7 2448.4a6.8 6.8 0 1 0 13.6 0a6.8 6.8 0 1 0-13.6 0zM1181.2 2448.4a6.8 6.8 0 1 0 13.6 0a6.8 6.8 0 1 0-13.6 0zM1197.7 2448.4a6.8 6.8 0 1 0 13.6 0a6.8 6.8 0 1 0-13.6 0zM1214.3 2448.4a6.8 6.8 0 1 0 13.6 0a6.8 6.8 0 1 0-13.6 0zM1230.8 2448.4a6.8 6.8 0 1 0 13.6 0a6.8 6.8 0 1 0-13.6 0zM1247.3 2448.4a6.8 6.8 0 1 0 13.6 0a6.8 6.8 0 1 0-13.6 0zM1016 2464.9a6.8 6.8 0 1 0 13.6 0a6.8 6.8 0 1 0-13.6 0zM1065.5 2464.9a6.8 6.8 0 1 0 13.6 0a6.8 6.8 0 1 0-13.6 0zM1098.6 2464.9a6.8 6.8 0 1 0 13.6 0a6.8 6.8 0 1 0-13.6 0zM1131.6 2464.9a6.8 6.8 0 1 0 13.6 0a6.8 6.8 0 1 0-13.6 0zM1164.6 2464.9a6.8 6.8 0 1 0 13.6 0a6.8 6.8 0 1 0-13.6 0zM1181.1 2464.9a6.8 6.8 0 1 0 13.6 0a6.8 6.8 0 1 0-13.6 0zM1230.7 2464.9a6.8 6.8 0 1 0 13.6 0a6.8 6.8 0 1 0-13.6 0zM900.4 2481.4a6.8 6.8 0 1 0 13.6 0a6.8 6.8 0 1 0-13.6 0zM949.9 2481.4a6.8 6.8 0 1 0 13.6 0a6.8 6.8 0 1 0-13.6 0zM966.4 2481.4a6.8 6.8 0 1 0 13.6 0a6.8 6.8 0 1 0-13.6 0zM999.4 2481.4a6.8 6.8 0 1 0 13.6 0a6.8 6.8 0 1 0-13.6 0zM1015.9 2481.4a6.8 6.8 0 1 0 13.6 0a6.8 6.8 0 1 0-13.6 0zM1032.5 2481.4a6.8 6.8 0 1 0 13.6 0a6.8 6.8 0 1 0-13.6 0zM1049 2481.4a6.8 6.8 0 1 0 13.6 0a6.8 6.8 0 1 0-13.6 0zM1065.5 2481.4a6.8 6.8 0 1 0 13.6 0a6.8 6.8 0 1 0-13.6 0zM1082 2481.4a6.8 6.8 0 1 0 13.6 0a6.8 6.8 0 1 0-13.6 0zM1098.5 2481.4a6.8 6.8 0 1 0 13.6 0a6.8 6.8 0 1 0-13.6 0zM1148 2481.4a6.8 6.8 0 1 0 13.6 0a6.8 6.8 0 1 0-13.6 0zM1197.6 2481.4a6.8 6.8 0 1 0 13.6 0a6.8 6.8 0 1 0-13.6 0zM1230.6 2481.4a6.8 6.8 0 1 0 13.6 0a6.8 6.8 0 1 0-13.6 0zM1280.2 2481.4a6.8 6.8 0 1 0 13.6 0a6.8 6.8 0 1 0-13.6 0zM883.8 2497.8a6.8 6.8 0 1 0 13.6 0a6.8 6.8 0 1 0-13.6 0zM900.3 2497.8a6.8 6.8 0 1 0 13.6 0a6.8 6.8 0 1 0-13.6 0zM916.8 2497.8a6.8 6.8 0 1 0 13.6 0a6.8 6.8 0 1 0-13.6 0zM949.9 2497.8a6.8 6.8 0 1 0 13.6 0a6.8 6.8 0 1 0-13.6 0zM999.4 2497.8a6.8 6.8 0 1 0 13.6 0a6.8 6.8 0 1 0-13.6 0zM1015.9 2497.8a6.8 6.8 0 1 0 13.6 0a6.8 6.8 0 1 0-13.6 0zM1065.4 2497.8a6.8 6.8 0 1 0 13.6 0a6.8 6.8 0 1 0-13.6 0zM1098.5 2497.8a6.8 6.8 0 1 0 13.6 0a6.8 6.8 0 1 0-13.6 0zM1131.5 2497.8a6.8 6.8 0 1 0 13.6 0a6.8 6.8 0 1 0-13.6 0zM1164.5 2497.8a6.8 6.8 0 1 0 13.6 0a6.8 6.8 0 1 0-13.6 0zM1181 2497.8a6.8 6.8 0 1 0 13.6 0a6.8 6.8 0 1 0-13.6 0zM1197.5 2497.8a6.8 6.8 0 1 0 13.6 0a6.8 6.8 0 1 0-13.6 0zM1230.5 2497.8a6.8 6.8 0 1 0 13.6 0a6.8 6.8 0 1 0-13.6 0zM850.8 2514.3a6.8 6.8 0 1 0 13.6 0a6.8 6.8 0 1 0-13.6 0zM867.3 2514.3a6.8 6.8 0 1 0 13.6 0a6.8 6.8 0 1 0-13.6 0zM916.8 2514.3a6.8 6.8 0 1 0 13.6 0a6.8 6.8 0 1 0-13.6 0zM949.8 2514.3a6.8 6.8 0 1 0 13.6 0a6.8 6.8 0 1 0-13.6 0zM966.4 2514.3a6.8 6.8 0 1 0 13.6 0a6.8 6.8 0 1 0-13.6 0zM982.9 2514.3a6.8 6.8 0 1 0 13.6 0a6.8 6.8 0 1 0-13.6 0zM1065.4 2514.3a6.8 6.8 0 1 0 13.6 0a6.8 6.8 0 1 0-13.6 0zM1098.4 2514.3a6.8 6.8 0 1 0 13.6 0a6.8 6.8 0 1 0-13.6 0zM1131.4 2514.3a6.8 6.8 0 1 0 13.6 0a6.8 6.8 0 1 0-13.6 0zM1164.4 2514.3a6.8 6.8 0 1 0 13.6 0a6.8 6.8 0 1 0-13.6 0zM1180.9 2514.3a6.8 6.8 0 1 0 13.6 0a6.8 6.8 0 1 0-13.6 0zM1230.5 2514.3a6.8 6.8 0 1 0 13.6 0a6.8 6.8 0 1 0-13.6 0zM1263.5 2514.3a6.8 6.8 0 1 0 13.6 0a6.8 6.8 0 1 0-13.6 0zM1280 2514.3a6.8 6.8 0 1 0 13.6 0a6.8 6.8 0 1 0-13.6 0zM867.3 2530.7a6.8 6.8 0 1 0 13.6 0a6.8 6.8 0 1 0-13.6 0zM900.3 2530.7a6.8 6.8 0 1 0 13.6 0a6.8 6.8 0 1 0-13.6 0zM916.8 2530.7a6.8 6.8 0 1 0 13.6 0a6.8 6.8 0 1 0-13.6 0zM933.3 2530.7a6.8 6.8 0 1 0 13.6 0a6.8 6.8 0 1 0-13.6 0zM949.8 2530.7a6.8 6.8 0 1 0 13.6 0a6.8 6.8 0 1 0-13.6 0zM982.8 2530.7a6.8 6.8 0 1 0 13.6 0a6.8 6.8 0 1 0-13.6 0zM999.3 2530.7a6.8 6.8 0 1 0 13.6 0a6.8 6.8 0 1 0-13.6 0zM1015.8 2530.7a6.8 6.8 0 1 0 13.6 0a6.8 6.8 0 1 0-13.6 0zM1032.3 2530.7a6.8 6.8 0 1 0 13.6 0a6.8 6.8 0 1 0-13.6 0zM1048.8 2530.7a6.8 6.8 0 1 0 13.6 0a6.8 6.8 0 1 0-13.6 0zM1065.3 2530.7a6.8 6.8 0 1 0 13.6 0a6.8 6.8 0 1 0-13.6 0zM1098.3 2530.7a6.8 6.8 0 1 0 13.6 0a6.8 6.8 0 1 0-13.6 0zM1131.4 2530.7a6.8 6.8 0 1 0 13.6 0a6.8 6.8 0 1 0-13.6 0zM1164.4 2530.7a6.8 6.8 0 1 0 13.6 0a6.8 6.8 0 1 0-13.6 0zM1180.9 2530.7a6.8 6.8 0 1 0 13.6 0a6.8 6.8 0 1 0-13.6 0zM1197.4 2530.7a6.8 6.8 0 1 0 13.6 0a6.8 6.8 0 1 0-13.6 0zM1213.9 2530.7a6.8 6.8 0 1 0 13.6 0a6.8 6.8 0 1 0-13.6 0zM916.8 2547.1a6.8 6.8 0 1 0 13.6 0a6.8 6.8 0 1 0-13.6 0zM949.8 2547.1a6.8 6.8 0 1 0 13.6 0a6.8 6.8 0 1 0-13.6 0zM966.3 2547.1a6.8 6.8 0 1 0 13.6 0a6.8 6.8 0 1 0-13.6 0zM999.3 2547.1a6.8 6.8 0 1 0 13.6 0a6.8 6.8 0 1 0-13.6 0zM1015.8 2547.1a6.8 6.8 0 1 0 13.6 0a6.8 6.8 0 1 0-13.6 0zM1032.3 2547.1a6.8 6.8 0 1 0 13.6 0a6.8 6.8 0 1 0-13.6 0zM1048.8 2547.1a6.8 6.8 0 1 0 13.6 0a6.8 6.8 0 1 0-13.6 0zM1065.3 2547.1a6.8 6.8 0 1 0 13.6 0a6.8 6.8 0 1 0-13.6 0zM1081.8 2547.1a6.8 6.8 0 1 0 13.6 0a6.8 6.8 0 1 0-13.6 0zM1098.3 2547.1a6.8 6.8 0 1 0 13.6 0a6.8 6.8 0 1 0-13.6 0zM1114.8 2547.1a6.8 6.8 0 1 0 13.6 0a6.8 6.8 0 1 0-13.6 0zM1197.3 2547.1a6.8 6.8 0 1 0 13.6 0a6.8 6.8 0 1 0-13.6 0zM1230.3 2547.1a6.8 6.8 0 1 0 13.6 0a6.8 6.8 0 1 0-13.6 0zM1296.3 2547.1a6.8 6.8 0 1 0 13.6 0a6.8 6.8 0 1 0-13.6 0zM916.8 2563.6a6.8 6.8 0 1 0 13.6 0a6.8 6.8 0 1 0-13.6 0zM933.3 2563.6a6.8 6.8 0 1 0 13.6 0a6.8 6.8 0 1 0-13.6 0zM949.8 2563.6a6.8 6.8 0 1 0 13.6 0a6.8 6.8 0 1 0-13.6 0zM966.3 2563.6a6.8 6.8 0 1 0 13.6 0a6.8 6.8 0 1 0-13.6 0zM982.8 2563.6a6.8 6.8 0 1 0 13.6 0a6.8 6.8 0 1 0-13.6 0zM999.3 2563.6a6.8 6.8 0 1 0 13.6 0a6.8 6.8 0 1 0-13.6 0zM1032.3 2563.6a6.8 6.8 0 1 0 13.6 0a6.8 6.8 0 1 0-13.6 0zM1048.8 2563.6a6.8 6.8 0 1 0 13.6 0a6.8 6.8 0 1 0-13.6 0zM1131.2 2563.6a6.8 6.8 0 1 0 13.6 0a6.8 6.8 0 1 0-13.6 0zM1147.7 2563.6a6.8 6.8 0 1 0 13.6 0a6.8 6.8 0 1 0-13.6 0zM1164.2 2563.6a6.8 6.8 0 1 0 13.6 0a6.8 6.8 0 1 0-13.6 0zM1180.7 2563.6a6.8 6.8 0 1 0 13.6 0a6.8 6.8 0 1 0-13.6 0zM1197.2 2563.6a6.8 6.8 0 1 0 13.6 0a6.8 6.8 0 1 0-13.6 0zM1213.7 2563.6a6.8 6.8 0 1 0 13.6 0a6.8 6.8 0 1 0-13.6 0zM949.8 2580a6.8 6.8 0 1 0 13.6 0a6.8 6.8 0 1 0-13.6 0zM999.2 2580a6.8 6.8 0 1 0 13.6 0a6.8 6.8 0 1 0-13.6 0zM1065.2 2580a6.8 6.8 0 1 0 13.6 0a6.8 6.8 0 1 0-13.6 0zM1081.7 2580a6.8 6.8 0 1 0 13.6 0a6.8 6.8 0 1 0-13.6 0zM1098.2 2580a6.8 6.8 0 1 0 13.6 0a6.8 6.8 0 1 0-13.6 0zM1131.2 2580a6.8 6.8 0 1 0 13.6 0a6.8 6.8 0 1 0-13.6 0zM1230.1 2580a6.8 6.8 0 1 0 13.6 0a6.8 6.8 0 1 0-13.6 0zM1048.7 2596.4a6.8 6.8 0 1 0 13.6 0a6.8 6.8 0 1 0-13.6 0zM1098.1 2596.4a6.8 6.8 0 1 0 13.6 0a6.8 6.8 0 1 0-13.6 0zM1131.1 2596.4a6.8 6.8 0 1 0 13.6 0a6.8 6.8 0 1 0-13.6 0zM1180.6 2596.4a6.8 6.8 0 1 0 13.6 0a6.8 6.8 0 1 0-13.6 0zM1197.1 2596.4a6.8 6.8 0 1 0 13.6 0a6.8 6.8 0 1 0-13.6 0zM1213.6 2596.4a6.8 6.8 0 1 0 13.6 0a6.8 6.8 0 1 0-13.6 0zM1114.6 2612.8a6.8 6.8 0 1 0 13.6 0a6.8 6.8 0 1 0-13.6 0z" fill="#ffa649"/>
<path d="M1281 2332.7a6.8 6.8 0 1 0 13.6 0a6.8 6.8 0 1 0-13.6 0zM1065.8 2365.8a6.8 6.8 0 1 0 13.6 0a6.8 6.8 0 1 0-13.6 0zM1065.8 2382.3a6.8 6.8 0 1 0 13.6 0a6.8 6.8 0 1 0-13.6 0zM1065.7 2398.9a6.8 6.8 0 1 0 13.6 0a6.8 6.8 0 1 0-13.6 0zM1065.7 2415.4a6.8 6.8 0 1 0 13.6 0a6.8 6.8 0 1 0-13.6 0zM983 2431.9a6.8 6.8 0 1 0 13.6 0a6.8 6.8 0 1 0-13.6 0zM999.5 2431.9a6.8 6.8 0 1 0 13.6 0a6.8 6.8 0 1 0-13.6 0zM1032.6 2431.9a6.8 6.8 0 1 0 13.6 0a6.8 6.8 0 1 0-13.6 0zM1065.6 2431.9a6.8 6.8 0 1 0 13.6 0a6.8 6.8 0 1 0-13.6 0zM1148.2 2431.9a6.8 6.8 0 1 0 13.6 0a6.8 6.8 0 1 0-13.6 0zM1164.8 2431.9a6.8 6.8 0 1 0 13.6 0a6.8 6.8 0 1 0-13.6 0zM1181.3 2431.9a6.8 6.8 0 1 0 13.6 0a6.8 6.8 0 1 0-13.6 0zM1032.5 2448.4a6.8 6.8 0 1 0 13.6 0a6.8 6.8 0 1 0-13.6 0zM1065.6 2448.4a6.8 6.8 0 1 0 13.6 0a6.8 6.8 0 1 0-13.6 0zM1148.2 2448.4a6.8 6.8 0 1 0 13.6 0a6.8 6.8 0 1 0-13.6 0zM1164.7 2448.4a6.8 6.8 0 1 0 13.6 0a6.8 6.8 0 1 0-13.6 0zM916.9 2464.9a6.8 6.8 0 1 0 13.6 0a6.8 6.8 0 1 0-13.6 0zM949.9 2464.9a6.8 6.8 0 1 0 13.6 0a6.8 6.8 0 1 0-13.6 0zM966.4 2464.9a6.8 6.8 0 1 0 13.6 0a6.8 6.8 0 1 0-13.6 0zM1032.5 2464.9a6.8 6.8 0 1 0 13.6 0a6.8 6.8 0 1 0-13.6 0zM1049 2464.9a6.8 6.8 0 1 0 13.6 0a6.8 6.8 0 1 0-13.6 0zM1082 2464.9a6.8 6.8 0 1 0 13.6 0a6.8 6.8 0 1 0-13.6 0zM1148.1 2464.9a6.8 6.8 0 1 0 13.6 0a6.8 6.8 0 1 0-13.6 0zM1214.2 2464.9a6.8 6.8 0 1 0 13.6 0a6.8 6.8 0 1 0-13.6 0zM916.9 2481.4a6.8 6.8 0 1 0 13.6 0a6.8 6.8 0 1 0-13.6 0zM933.4 2481.4a6.8 6.8 0 1 0 13.6 0a6.8 6.8 0 1 0-13.6 0zM982.9 2481.4a6.8 6.8 0 1 0 13.6 0a6.8 6.8 0 1 0-13.6 0zM1115 2481.4a6.8 6.8 0 1 0 13.6 0a6.8 6.8 0 1 0-13.6 0zM1131.5 2481.4a6.8 6.8 0 1 0 13.6 0a6.8 6.8 0 1 0-13.6 0zM1164.6 2481.4a6.8 6.8 0 1 0 13.6 0a6.8 6.8 0 1 0-13.6 0zM1181.1 2481.4a6.8 6.8 0 1 0 13.6 0a6.8 6.8 0 1 0-13.6 0zM1214.1 2481.4a6.8 6.8 0 1 0 13.6 0a6.8 6.8 0 1 0-13.6 0zM933.4 2497.8a6.8 6.8 0 1 0 13.6 0a6.8 6.8 0 1 0-13.6 0zM966.4 2497.8a6.8 6.8 0 1 0 13.6 0a6.8 6.8 0 1 0-13.6 0zM1032.4 2497.8a6.8 6.8 0 1 0 13.6 0a6.8 6.8 0 1 0-13.6 0zM1048.9 2497.8a6.8 6.8 0 1 0 13.6 0a6.8 6.8 0 1 0-13.6 0zM1081.9 2497.8a6.8 6.8 0 1 0 13.6 0a6.8 6.8 0 1 0-13.6 0zM1148 2497.8a6.8 6.8 0 1 0 13.6 0a6.8 6.8 0 1 0-13.6 0zM1214 2497.8a6.8 6.8 0 1 0 13.6 0a6.8 6.8 0 1 0-13.6 0zM900.3 2514.3a6.8 6.8 0 1 0 13.6 0a6.8 6.8 0 1 0-13.6 0zM933.3 2514.3a6.8 6.8 0 1 0 13.6 0a6.8 6.8 0 1 0-13.6 0zM999.4 2514.3a6.8 6.8 0 1 0 13.6 0a6.8 6.8 0 1 0-13.6 0zM1015.9 2514.3a6.8 6.8 0 1 0 13.6 0a6.8 6.8 0 1 0-13.6 0zM1048.9 2514.3a6.8 6.8 0 1 0 13.6 0a6.8 6.8 0 1 0-13.6 0zM1081.9 2514.3a6.8 6.8 0 1 0 13.6 0a6.8 6.8 0 1 0-13.6 0zM1114.9 2514.3a6.8 6.8 0 1 0 13.6 0a6.8 6.8 0 1 0-13.6 0zM1247 2514.3a6.8 6.8 0 1 0 13.6 0a6.8 6.8 0 1 0-13.6 0zM850.8 2530.7a6.8 6.8 0 1 0 13.6 0a6.8 6.8 0 1 0-13.6 0zM883.8 2530.7a6.8 6.8 0 1 0 13.6 0a6.8 6.8 0 1 0-13.6 0zM966.3 2530.7a6.8 6.8 0 1 0 13.6 0a6.8 6.8 0 1 0-13.6 0zM1081.8 2530.7a6.8 6.8 0 1 0 13.6 0a6.8 6.8 0 1 0-13.6 0zM1147.9 2530.7a6.8 6.8 0 1 0 13.6 0a6.8 6.8 0 1 0-13.6 0zM883.8 2547.1a6.8 6.8 0 1 0 13.6 0a6.8 6.8 0 1 0-13.6 0zM982.8 2547.1a6.8 6.8 0 1 0 13.6 0a6.8 6.8 0 1 0-13.6 0zM1131.3 2547.1a6.8 6.8 0 1 0 13.6 0a6.8 6.8 0 1 0-13.6 0zM1147.8 2547.1a6.8 6.8 0 1 0 13.6 0a6.8 6.8 0 1 0-13.6 0zM1164.3 2547.1a6.8 6.8 0 1 0 13.6 0a6.8 6.8 0 1 0-13.6 0zM1180.8 2547.1a6.8 6.8 0 1 0 13.6 0a6.8 6.8 0 1 0-13.6 0zM1246.8 2547.1a6.8 6.8 0 1 0 13.6 0a6.8 6.8 0 1 0-13.6 0zM1263.3 2547.1a6.8 6.8 0 1 0 13.6 0a6.8 6.8 0 1 0-13.6 0zM1279.8 2547.1a6.8 6.8 0 1 0 13.6 0a6.8 6.8 0 1 0-13.6 0zM1015.8 2563.6a6.8 6.8 0 1 0 13.6 0a6.8 6.8 0 1 0-13.6 0zM1065.2 2563.6a6.8 6.8 0 1 0 13.6 0a6.8 6.8 0 1 0-13.6 0zM1098.2 2563.6a6.8 6.8 0 1 0 13.6 0a6.8 6.8 0 1 0-13.6 0zM1114.7 2563.6a6.8 6.8 0 1 0 13.6 0a6.8 6.8 0 1 0-13.6 0zM982.7 2580a6.8 6.8 0 1 0 13.6 0a6.8 6.8 0 1 0-13.6 0zM1015.7 2580a6.8 6.8 0 1 0 13.6 0a6.8 6.8 0 1 0-13.6 0zM1032.2 2580a6.8 6.8 0 1 0 13.6 0a6.8 6.8 0 1 0-13.6 0zM1048.7 2580a6.8 6.8 0 1 0 13.6 0a6.8 6.8 0 1 0-13.6 0zM1164.2 2580a6.8 6.8 0 1 0 13.6 0a6.8 6.8 0 1 0-13.6 0zM1180.7 2580a6.8 6.8 0 1 0 13.6 0a6.8 6.8 0 1 0-13.6 0zM1197.1 2580a6.8 6.8 0 1 0 13.6 0a6.8 6.8 0 1 0-13.6 0zM1213.6 2580a6.8 6.8 0 1 0 13.6 0a6.8 6.8 0 1 0-13.6 0zM1015.7 2596.4a6.8 6.8 0 1 0 13.6 0a6.8 6.8 0 1 0-13.6 0zM1032.2 2596.4a6.8 6.8 0 1 0 13.6 0a6.8 6.8 0 1 0-13.6 0zM1114.6 2596.4a6.8 6.8 0 1 0 13.6 0a6.8 6.8 0 1 0-13.6 0z" fill="#ff6e2f"/>
<path d="M950 2431.9a6.8 6.8 0 1 0 13.6 0a6.8 6.8 0 1 0-13.6 0zM949.9 2448.4a6.8 6.8 0 1 0 13.6 0a6.8 6.8 0 1 0-13.6 0zM982.9 2497.8a6.8 6.8 0 1 0 13.6 0a6.8 6.8 0 1 0-13.6 0zM900.3 2547.1a6.8 6.8 0 1 0 13.6 0a6.8 6.8 0 1 0-13.6 0zM1081.7 2563.6a6.8 6.8 0 1 0 13.6 0a6.8 6.8 0 1 0-13.6 0zM1147.7 2580a6.8 6.8 0 1 0 13.6 0a6.8 6.8 0 1 0-13.6 0z" fill="#ff3114"/>
<polyline points="970,2243.9 969.5,2246.5 968.6,2251.7 967.1,2259.6 965.2,2270 963.4,2279.9 961.5,2289.3 959.5,2298 957.6,2306.3 955.8,2314.3 954.1,2322.2 952.4,2330 950.9,2337.6 949.4,2344.4 948.2,2350.4 947.1,2355.6 946.1,2360.1 945.2,2364.2 944.4,2368.1 943.6,2371.7 943,2375 942.3,2379.3 941.8,2384.4 941.3,2390.5 941,2397.6 940.4,2405.5 939.7,2414.3 938.8,2424 937.8,2434.5 936.5,2445.1 935.1,2455.7 933.6,2466.2 931.8,2476.8 929.8,2487 927.5,2496.8 925,2506.3 922.1,2515.5 919.1,2523.9 916,2531.7 912.6,2538.7 909.1,2545 905.9,2550.4 902.9,2554.8 900.2,2558.2 897.7,2560.7 895.9,2562.5 894.6,2563.8 894,2564.4" fill="none" stroke="#888" stroke-width="2.1" stroke-linejoin="round"/>
<polyline points="1080.2,2243.9 1079.2,2246.2 1077.1,2250.8 1074,2257.7 1070,2266.8 1065.9,2275.5 1062,2283.5 1058.1,2291.1 1054.3,2298 1050.5,2305 1046.7,2312 1042.9,2318.9 1039.1,2325.9 1035.6,2333 1032.4,2340.3 1029.6,2347.7 1027,2355.3 1024.9,2361.8 1023.1,2367.3 1021.7,2371.7 1020.8,2375 1019.8,2378.7 1018.9,2382.9 1017.9,2387.4 1017,2392.3 1015.6,2397.4 1013.9,2402.7 1011.7,2408.1 1009.1,2413.8 1006.7,2420.5 1004.5,2428.4 1002.5,2437.5 1000.6,2447.7 998.7,2456.9 996.6,2464.9 994.3,2472 991.9,2478 989.4,2485 986.8,2492.9 984.1,2501.8 981.2,2511.6 978.1,2521.3 974.6,2530.8 970.7,2540.1 966.5,2549.3 962.5,2557.8 958.6,2565.7 954.9,2573 951.4,2579.7 948.7,2584.7 947,2588 946.1,2589.7" fill="none" stroke="#888" stroke-width="2.1" stroke-linejoin="round"/>
<polyline points="1215,2244.4 1215.7,2246.3 1217,2250.2 1219,2255.9 1221.6,2263.6 1223.8,2271.8 1225.4,2280.7 1226.6,2290.1 1227.3,2300.2 1227.8,2310.2 1228.1,2320.2 1228.3,2330.3 1228.3,2340.3 1228.1,2349.5 1227.8,2357.9 1227.3,2365.4 1226.6,2372.1 1225.7,2378.8 1224.5,2385.4 1223.1,2392.1 1221.5,2398.8 1219.2,2405.5 1216.4,2412.2 1213,2418.8 1208.9,2425.5 1204.5,2431.8 1199.6,2437.6 1194.3,2442.9 1188.6,2447.7 1182.2,2452.8 1175,2458.2 1167.2,2463.8 1158.7,2469.7 1150.5,2475.5 1142.8,2481.2 1135.4,2486.9 1128.3,2492.6 1121.3,2498.2 1114.3,2503.8 1107.2,2509.5 1100.2,2515.1 1093.1,2520.9 1086.1,2526.9 1079.1,2533.1 1072,2539.4 1065,2545.9 1058,2552.6 1050.9,2559.4 1043.9,2566.5 1036.5,2573.9 1028.7,2581.8 1020.7,2590.2 1012.2,2599 1005.9,2605.6 1001.7,2610 999.6,2612.2" fill="none" stroke="#888" stroke-width="2.1" stroke-linejoin="round"/>
<polyline points="1275.1,2244.4 1276.1,2247.2 1278.1,2252.7 1281.1,2260.9 1285.2,2272 1289,2282.7 1292.7,2293.3 1296.2,2303.5 1299.5,2313.6 1302.4,2323.6 1304.9,2333.6 1307,2343.6 1308.7,2353.7 1310.4,2363.7 1312,2373.7 1313.7,2383.7 1315.4,2393.8 1316.8,2404.2 1318,2415 1318.9,2426.1 1319.6,2437.7 1319.8,2448.3 1319.4,2458.1 1318.6,2467 1317.2,2475.1 1315.4,2482.9 1313,2490.6 1310.2,2498.1 1306.9,2505.5 1303.1,2512.7 1298.7,2519.7 1293.9,2526.6 1288.5,2533.2 1282.5,2539.6 1275.8,2545.6 1268.5,2551.3 1260.4,2556.7 1251.4,2561.4 1241.4,2565.4 1230.3,2568.7 1218.3,2571.4 1208,2573.7 1199.4,2575.6 1192.6,2577.1 1187.6,2578.2 1181.7,2579.4 1174.9,2580.7 1167.2,2582 1158.7,2583.4 1150.5,2585.1 1142.8,2587.2 1135.4,2589.7 1128.3,2592.5 1121.3,2595.8 1114.3,2599.7 1107.2,2604.1 1100.2,2609.1 1093.8,2613.5 1088.2,2617.4 1083.3,2620.7 1079.1,2623.5 1074.9,2626.5 1070.7,2629.6 1066.5,2633 1062.2,2636.5 1059.1,2639.2 1057,2640.9 1055.9,2641.8" fill="none" stroke="#888" stroke-width="2.1" stroke-linejoin="round"/>
<polyline points="1327.3,2244.4 1328,2246.3 1329.5,2250.2 1331.8,2255.9 1334.8,2263.6 1337.7,2271.8 1340.6,2280.7 1343.3,2290.1 1346,2300.2 1348.5,2310.2 1350.8,2320.2 1353,2330.3 1355,2340.3 1356.8,2350.4 1358.5,2360.4 1360,2370.4 1361.4,2380.5 1362.6,2391.7 1363.8,2404.2 1364.9,2417.8 1365.9,2432.7 1366.8,2446.3 1367.7,2458.8 1368.4,2470 1369.1,2480.1 1369,2490.9 1368.2,2502.6 1366.6,2515.2 1364.2,2528.5 1361.5,2540.7 1358.3,2551.8 1354.7,2561.7 1350.7,2570.3 1346.2,2578.9 1341.2,2587.2 1335.7,2595.4 1329.6,2603.5 1323.3,2611.1 1316.6,2618.5 1309.6,2625.5 1302.2,2632.2 1294.7,2638 1287,2643 1279.2,2647.2 1271.1,2650.6 1261.4,2653.8 1250.1,2656.8 1237,2659.6 1222.3,2662.3 1210,2664.3 1200.1,2665.5 1192.6,2666.1 1187.6,2665.9 1181.7,2666.1 1174.9,2666.5 1167.2,2667.3 1158.7,2668.3 1151.1,2669.6 1144.3,2671 1138.5,2672.6 1133.6,2674.3 1129.9,2675.7 1127.4,2676.6 1126.2,2677" fill="none" stroke="#888" stroke-width="2.1" stroke-linejoin="round"/>
<polyline points="1363.4,2244.4 1364.1,2247.2 1365.4,2252.7 1367.4,2260.9 1370.1,2272 1372.8,2282.7 1375.4,2293.3 1378.1,2303.5 1380.8,2313.6 1383.3,2323.6 1385.6,2333.6 1387.8,2343.6 1389.8,2353.7 1391.6,2363.7 1393.3,2373.7 1394.8,2383.7 1396.2,2393.8 1397.5,2404.2 1398.9,2415 1400.2,2426.1 1401.5,2437.7 1402.8,2449.7 1404.2,2462.1 1405.5,2475.1 1406.9,2488.4 1407.5,2501.8 1407.5,2515.2 1406.9,2528.6 1405.5,2541.9 1403.5,2555.3 1400.8,2568.7 1397.5,2582.1 1393.4,2595.4 1389.2,2607.5 1384.9,2618.2 1380.4,2627.5 1375.7,2635.6 1371,2643.9 1366.4,2652.6 1361.7,2661.6 1357,2671 1353.5,2678 1351.2,2682.7 1350,2685" fill="none" stroke="#888" stroke-width="2.1" stroke-linejoin="round"/>
<polyline points="1395.5,2244.4 1396.2,2247.2 1397.5,2252.7 1399.5,2260.9 1402.2,2272 1404.9,2282.7 1407.5,2293.3 1410.2,2303.5 1412.9,2313.6 1415.4,2323.6 1417.7,2333.6 1419.9,2343.6 1421.9,2353.7 1423.7,2363.7 1425.4,2373.7 1426.9,2383.7 1428.2,2393.8 1429.5,2404.2 1430.9,2415 1432.2,2426.1 1433.6,2437.7 1435,2449.7 1436.5,2462.1 1438.1,2475.1 1439.8,2488.4 1441.1,2501.8 1442.1,2515.2 1442.8,2528.6 1443.1,2541.9 1442.7,2555.3 1441.5,2568.7 1439.6,2582.1 1436.9,2595.4 1434.1,2608 1431.1,2619.7 1427.9,2630.5 1424.5,2640.6 1421,2649.9 1417.3,2658.6 1413.5,2666.6 1409.5,2674 1406.5,2679.5 1404.5,2683.2 1403.5,2685" fill="none" stroke="#888" stroke-width="2.1" stroke-linejoin="round"/>
<polyline points="1424.9,2244.4 1425.6,2247.2 1426.9,2252.7 1428.9,2260.9 1431.6,2272 1434.3,2282.7 1436.9,2293.3 1439.6,2303.5 1442.3,2313.6 1445,2323.6 1447.6,2333.6 1450.3,2343.6 1453,2353.7 1455.3,2363.7 1457.3,2373.7 1459,2383.7 1460.3,2393.8 1461.5,2404.2 1462.5,2415 1463.3,2426.1 1464,2437.7 1465,2449.7 1466.3,2462.1 1468,2475.1 1470,2488.4 1471.8,2501 1473.5,2512.7 1475,2523.5 1476.4,2533.6 1477,2545.3 1477,2558.6 1476.4,2573.7 1475,2590.4 1473.2,2605.5 1470.8,2618.8 1468,2630.5 1464.7,2640.6 1461.4,2649.9 1458,2658.6 1454.7,2666.6 1451.3,2674 1448.8,2679.5 1447.1,2683.2 1446.3,2685" fill="none" stroke="#888" stroke-width="2.1" stroke-linejoin="round"/>
<polyline points="1454.3,2244.4 1455,2247.2 1456.3,2252.7 1458.3,2260.9 1461,2272 1463.5,2282.7 1465.8,2293.3 1468,2303.5 1470,2313.6 1472,2323.6 1474,2333.6 1476,2343.6 1478,2353.7 1480,2363.7 1482,2373.7 1484,2383.7 1486.1,2393.8 1487.8,2403.2 1489.3,2412.1 1490.6,2420.5 1491.5,2428.3 1492.3,2434.1 1492.8,2438.1 1493,2440" fill="none" stroke="#888" stroke-width="2.1" stroke-linejoin="round"/>
<polyline points="990.3,2244 987.8,2260.3 972.6,2283.1 970,2311 967.5,2328.7 947.2,2361.7 946,2387 948.9,2396.9 957.3,2417.4 963,2430.7 977.6,2460.5 979.9,2464.4 991.1,2492.6 996.7,2509.5 1005.2,2532 1010.8,2540.4 1033.3,2546.1 1084,2558.7 1103.7,2548.9 1115,2532 1117.8,2506.7 1120,2503.1 1128,2497.8 1138.7,2500.5 1165.5,2497.8 1170.8,2495.1 1202.9,2469.7 1213.6,2467 1232.3,2468.4 1243,2487.1 1251.1,2465.7 1251.1,2449 1235,2443.6 1223,2427.6 1223,2384.8 1216.3,2374.1 1209.6,2347.3 1212.3,2312.6 1208.3,2299.2 1198.9,2287.2 1194.9,2288.5 1186.9,2303.2 1161.5,2317.9 1146.7,2309.9 1133.4,2296.5 1130.7,2283.1 1149.4,2261.7 1168.1,2251 1166.8,2244" fill="none" stroke="#000" stroke-width="1.1"/>
<polyline points="1106.8,2366.7 1117,2359.1 1132.2,2359.1 1134.7,2369.3 1129.6,2379.4 1122,2392.1 1114.4,2382 1106.8,2371.8 1106.8,2366.7" fill="none" stroke="#000" stroke-width="1.1"/>
<polyline points="1229.7,2636.9 1235,2632.9 1240.4,2636.9 1240.4,2644.9 1235,2644.9 1229.7,2639.5 1229.7,2636.9" fill="none" stroke="#000" stroke-width="1.1"/>
<polyline points="786.2,2541.9 864.4,2546.1 908,2548.3 932,2549.7 954.5,2563 977,2577 1005.2,2593.9 1033.3,2610.8 1061.5,2627.7 1084,2641.8 1098.1,2650.2 1109.3,2667.1 1117.8,2685" fill="none" stroke="#000" stroke-width="1.1"/>
<polyline points="1094.2,2244 1081.5,2265.4 1082.8,2285.7 1095.4,2308.5 1094.2,2321.1 1087.8,2349 1076,2380 1066.3,2407.3 1053.6,2425 1041.8,2450.4 1033.4,2464.3 1024.9,2487 1017.9,2501 1012.2,2523.6 1017.9,2540.4 1024.9,2548.9 1027.7,2571.4 1024.9,2588.3 1033.3,2605.2 1050.2,2619.3 1072.8,2636.2 1089.6,2644.6 1103.7,2661.5 1106.5,2672.8 1117.8,2685" fill="none" stroke="#3c3c3c" stroke-width="2.2" stroke-linejoin="round"/>
<polyline points="1073,2391 1077,2385 1076,2398 1071,2408 1065,2412 1062,2407 1067,2400 1073,2391" fill="none" stroke="#3c3c3c" stroke-width="1.6"/>
<polyline points="815.5,2244 820.5,2262.9 834.5,2298.3 853.5,2331.3 866.1,2361.7 864.9,2376.9 863.6,2412.3 861.6,2450.4 864.4,2461.6 881.3,2489.8 892.6,2512.3 908.1,2548.9" fill="none" stroke="#000" stroke-width="1.3"/>
<path d="M819.9 2261.3L822.5 2268L826.8 2262.6zM827.6 2280.8L830.2 2287.5L834.5 2281.9zM835.6 2300.1L839.1 2306.4L842.5 2300.3zM847 2319.9L850.5 2326.2L853.9 2320.1zM857.2 2340.1L859.9 2346.8L864.1 2341.2zM866.2 2360.4L865.6 2367.6L871.9 2364.5zM864.7 2382.2L864.4 2389.3L870.6 2386zM863.9 2403.4L863.7 2410.6L869.8 2407.2zM862.9 2425.8L862.5 2433L868.7 2429.8zM861.5 2446.8L861.7 2454L867.6 2450.3zM867.6 2467L871.3 2473.1L874.6 2467zM878.7 2485.3L882.3 2491.5L885.6 2485.4zM889.9 2506.8L893.1 2513.3L896.8 2507.4zM897.4 2523.6L900.2 2530.3L904.3 2524.6z" fill="#000"/>
<circle cx="908.1" cy="2548.6" r="2.6" fill="#000"/>
</g>
<text x="0" y="0" font-size="24" text-anchor="middle" transform="translate(946.5 2281) rotate(102)" dy="8.4">10 km</text>
<text x="0" y="0" font-size="24" text-anchor="middle" transform="translate(1210.5 2281) rotate(75)" dy="8.4">20 km</text>
<text x="0" y="0" font-size="24" text-anchor="middle" transform="translate(1319.5 2281) rotate(75)" dy="8.4">30 km</text>
<path d="M847.7 2244V2237.5M847.7 2685V2691.5M987.8 2244V2240M987.8 2685V2689M1127.5 2244V2237.5M1127.5 2685V2691.5M1267.6 2244V2240M1267.6 2685V2689M1408 2244V2237.5M1408 2685V2691.5M786.2 2318.6H779.2M1491.7 2318.6H1498.7M786.2 2501.8H782.2M1491.7 2501.8H1495.7M786.2 2685H779.2M1491.7 2685H1498.7" stroke="#000" stroke-width="1.9" fill="none"/>
<text x="847.7" y="2715.2" font-size="23" text-anchor="middle">&#8722;125&#176;</text>
<text x="1127.5" y="2715.2" font-size="23" text-anchor="middle">&#8722;124&#176;</text>
<text x="1408" y="2715.2" font-size="23" text-anchor="middle">&#8722;123&#176;</text>
<text x="32.5" y="2328.2" font-size="23" text-anchor="end">41&#176;</text>
<text x="32.5" y="2694.8" font-size="23" text-anchor="end">40&#176;</text>
<rect x="813.2" y="2633.8" width="172.2" height="17.4" fill="url(#gvph)" stroke="#000" stroke-width="1.8"/>
<text x="814" y="2678.4" font-size="22" text-anchor="middle">1.5</text>
<text x="851.9" y="2678.4" font-size="22" text-anchor="middle">1.6</text>
<text x="889.9" y="2678.4" font-size="22" text-anchor="middle">1.7</text>
<text x="927.8" y="2678.4" font-size="22" text-anchor="middle">1.8</text>
<text x="965.7" y="2678.4" font-size="22" text-anchor="middle">1.9</text>
<path d="M814 2651.2V2656M851.9 2651.2V2656M889.9 2651.2V2656M927.8 2651.2V2656M965.7 2651.2V2656" stroke="#000" stroke-width="1.8"/>
<text x="899.5" y="2622.5" font-size="23.2" text-anchor="middle">Vp/Vs</text>
</svg></body></html>
